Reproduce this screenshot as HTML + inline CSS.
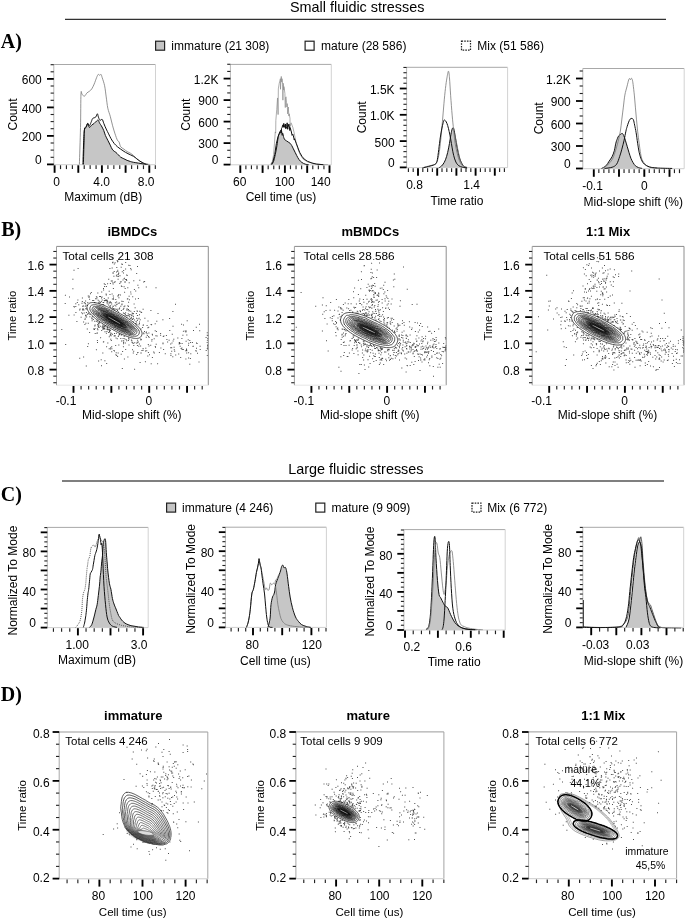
<!DOCTYPE html><html><head><meta charset="utf-8"><style>html,body{margin:0;padding:0;background:#fff;}svg{display:block;}</style></head><body>
<svg width="685" height="919" viewBox="0 0 685 919">
<defs><filter id="bl" x="0" y="0" width="1" height="1"><feGaussianBlur stdDeviation="0.3"/></filter></defs>
<rect width="685" height="919" fill="#fff"/>
<g filter="url(#bl)">
<text x="290" y="11.7" font-family="Liberation Sans, sans-serif" font-size="14.4" text-anchor="start" font-weight="normal" fill="#000">Small fluidic stresses</text>
<line x1="65" y1="19.3" x2="666" y2="19.3" stroke="#333" stroke-width="1.3"/>
<text x="288.3" y="474.1" font-family="Liberation Sans, sans-serif" font-size="14.4" text-anchor="start" font-weight="normal" fill="#000">Large fluidic stresses</text>
<line x1="62" y1="481" x2="664" y2="481" stroke="#555" stroke-width="1.5"/>
<text x="0.8" y="48.2" font-family="Liberation Serif, serif" font-size="20" text-anchor="start" font-weight="bold" fill="#000">A)</text>
<text x="1.2" y="236" font-family="Liberation Serif, serif" font-size="20" text-anchor="start" font-weight="bold" fill="#000">B)</text>
<text x="0.8" y="500.7" font-family="Liberation Serif, serif" font-size="20" text-anchor="start" font-weight="bold" fill="#000">C)</text>
<text x="0.8" y="700.6" font-family="Liberation Serif, serif" font-size="20" text-anchor="start" font-weight="bold" fill="#000">D)</text>
<rect x="155.6" y="41.2" width="9" height="9" fill="#c4c4c4" stroke="#222" stroke-width="1.2"/>
<text x="171.3" y="50.1" font-family="Liberation Sans, sans-serif" font-size="12" text-anchor="start" font-weight="normal" fill="#000">immature (21 308)</text>
<rect x="305.1" y="41.2" width="9" height="9" fill="#fff" stroke="#222" stroke-width="1.2"/>
<text x="321" y="50.1" font-family="Liberation Sans, sans-serif" font-size="12" text-anchor="start" font-weight="normal" fill="#000">mature (28 586)</text>
<rect x="461.5" y="41.2" width="9" height="9" fill="#fff" stroke="#222" stroke-width="1.2" stroke-dasharray="1.6,1.1"/>
<text x="477.3" y="50.1" font-family="Liberation Sans, sans-serif" font-size="12" text-anchor="start" font-weight="normal" fill="#000">Mix (51 586)</text>
<rect x="166.6" y="503.1" width="9" height="9" fill="#c4c4c4" stroke="#222" stroke-width="1.2"/>
<text x="182" y="512.2" font-family="Liberation Sans, sans-serif" font-size="12" text-anchor="start" font-weight="normal" fill="#000">immature (4 246)</text>
<rect x="315.8" y="503.1" width="9" height="9" fill="#fff" stroke="#222" stroke-width="1.2"/>
<text x="331.6" y="512.2" font-family="Liberation Sans, sans-serif" font-size="12" text-anchor="start" font-weight="normal" fill="#000">mature (9 909)</text>
<rect x="472" y="503.1" width="9" height="9" fill="#fff" stroke="#222" stroke-width="1.2" stroke-dasharray="1.6,1.1"/>
<text x="487.2" y="512.2" font-family="Liberation Sans, sans-serif" font-size="12" text-anchor="start" font-weight="normal" fill="#000">Mix (6 772)</text>
<line x1="53.8" y1="64.5" x2="155.5" y2="64.5" stroke="#a8a8a8" stroke-width="1"/>
<line x1="155.5" y1="64.5" x2="155.5" y2="164.7" stroke="#d2d2d2" stroke-width="1"/>
<line x1="53.8" y1="164.7" x2="155.5" y2="164.7" stroke="#cfcfcf" stroke-width="1"/>
<line x1="53.8" y1="64.5" x2="53.8" y2="164.7" stroke="#b8b8b8" stroke-width="1"/>
<path d="M83.4,164.38 C83.51,160.37 83.86,146.18 84.05,140.3 C84.23,134.41 84.18,131.33 84.53,129.05 C84.88,126.78 85.6,127.58 86.13,126.65 C86.67,125.71 87.2,123.3 87.74,123.43 C88.27,123.57 88.68,127.18 89.34,127.45 C90.01,127.72 90.95,125.71 91.75,125.04 C92.56,124.37 93.36,124.1 94.16,123.43 C94.97,122.76 95.9,121.56 96.57,121.02 C97.24,120.49 97.64,119.82 98.18,120.22 C98.71,120.62 99.25,122.5 99.78,123.43 C100.32,124.37 100.72,124.64 101.39,125.84 C102.06,127.05 103.13,129.05 103.8,130.66 C104.47,132.27 104.73,133.87 105.4,135.48 C106.07,137.08 107.01,138.69 107.81,140.3 C108.62,141.9 109.42,143.51 110.22,145.11 C111.02,146.72 111.69,148.73 112.63,149.93 C113.57,151.14 114.91,151.54 115.84,152.34 C116.78,153.14 117.45,153.95 118.25,154.75 C119.05,155.55 119.72,156.49 120.66,157.16 C121.6,157.83 122.8,158.23 123.87,158.76 C124.94,159.3 126.01,159.91 127.08,160.37 C128.15,160.82 129.22,161.17 130.3,161.49 C131.37,161.81 132.17,162.03 133.51,162.3 C134.85,162.56 136.72,162.83 138.33,163.1 C139.93,163.37 141.54,163.69 143.14,163.9 C144.75,164.12 147.16,164.3 147.96,164.38 L147.96,164.7 L83.4,164.7 Z" fill="#c6c6c6" stroke="none"/>
<path d="M83.4,164.38 C83.51,160.37 83.86,146.18 84.05,140.3 C84.23,134.41 84.18,131.33 84.53,129.05 C84.88,126.78 85.6,127.58 86.13,126.65 C86.67,125.71 87.2,123.3 87.74,123.43 C88.27,123.57 88.68,127.18 89.34,127.45 C90.01,127.72 90.95,125.71 91.75,125.04 C92.56,124.37 93.36,124.1 94.16,123.43 C94.97,122.76 95.9,121.56 96.57,121.02 C97.24,120.49 97.64,119.82 98.18,120.22 C98.71,120.62 99.25,122.5 99.78,123.43 C100.32,124.37 100.72,124.64 101.39,125.84 C102.06,127.05 103.13,129.05 103.8,130.66 C104.47,132.27 104.73,133.87 105.4,135.48 C106.07,137.08 107.01,138.69 107.81,140.3 C108.62,141.9 109.42,143.51 110.22,145.11 C111.02,146.72 111.69,148.73 112.63,149.93 C113.57,151.14 114.91,151.54 115.84,152.34 C116.78,153.14 117.45,153.95 118.25,154.75 C119.05,155.55 119.72,156.49 120.66,157.16 C121.6,157.83 122.8,158.23 123.87,158.76 C124.94,159.3 126.01,159.91 127.08,160.37 C128.15,160.82 129.22,161.17 130.3,161.49 C131.37,161.81 132.17,162.03 133.51,162.3 C134.85,162.56 136.72,162.83 138.33,163.1 C139.93,163.37 141.54,163.69 143.14,163.9 C144.75,164.12 147.16,164.3 147.96,164.38" fill="none" stroke="#111" stroke-width="1"/>
<path d="M79.39,164.38 C79.58,158.23 80.24,139.22 80.51,127.45 C80.78,115.67 80.73,99.21 80.99,93.72 C81.26,88.24 81.53,94.13 82.12,94.53 C82.71,94.93 83.72,96.4 84.53,96.13 C85.33,95.87 86.13,93.72 86.94,92.92 C87.74,92.12 88.54,91.98 89.34,91.32 C90.15,90.65 90.95,90.11 91.75,88.91 C92.56,87.7 93.36,85.96 94.16,84.09 C94.97,82.22 95.9,79.27 96.57,77.67 C97.24,76.06 97.64,74.85 98.18,74.45 C98.71,74.05 99.3,75.26 99.78,75.26 C100.26,75.26 100.67,74.05 101.07,74.45 C101.47,74.85 101.6,75.79 102.19,77.67 C102.78,79.54 103.93,82.48 104.6,85.69 C105.27,88.91 105.67,93.19 106.21,96.94 C106.74,100.68 107.14,104.97 107.81,108.18 C108.48,111.39 109.42,113.26 110.22,116.21 C111.02,119.15 111.83,122.9 112.63,125.84 C113.43,128.79 114.24,131.46 115.04,133.87 C115.84,136.28 116.78,138.96 117.45,140.3 C118.12,141.63 118.52,140.83 119.05,141.9 C119.59,142.97 119.86,145.51 120.66,146.72 C121.46,147.92 122.8,148.33 123.87,149.13 C124.94,149.93 126.01,150.87 127.08,151.54 C128.15,152.21 129.22,152.47 130.3,153.14 C131.37,153.81 132.44,154.61 133.51,155.55 C134.58,156.49 135.65,157.83 136.72,158.76 C137.79,159.7 138.86,160.5 139.93,161.17 C141,161.84 142.07,162.3 143.14,162.78 C144.21,163.26 145.28,163.8 146.35,164.06 C147.43,164.33 149.03,164.33 149.57,164.38" fill="none" stroke="#777" stroke-width="0.8"/>
<path d="M82.92,164.38 C83.05,160.37 83.46,146.18 83.72,140.3 C83.99,134.41 84.13,131.2 84.53,129.05 C84.93,126.91 85.6,128.38 86.13,127.45 C86.67,126.51 87.2,123.7 87.74,123.43 C88.27,123.17 88.81,125.98 89.34,125.84 C89.88,125.71 90.42,123.83 90.95,122.63 C91.49,121.43 92.02,119.42 92.56,118.62 C93.09,117.81 93.63,118.08 94.16,117.81 C94.7,117.55 95.23,117.68 95.77,117.01 C96.3,116.34 96.97,113.93 97.37,113.8 C97.78,113.66 97.78,115.14 98.18,116.21 C98.58,117.28 99.11,119.69 99.78,120.22 C100.45,120.76 101.52,118.88 102.19,119.42 C102.86,119.95 103.13,121.83 103.8,123.43 C104.47,125.04 105.4,127.31 106.21,129.05 C107.01,130.79 107.81,132.27 108.62,133.87 C109.42,135.48 110.09,137.08 111.02,138.69 C111.96,140.3 113.17,142.17 114.24,143.51 C115.31,144.85 116.38,145.78 117.45,146.72 C118.52,147.66 119.32,148.19 120.66,149.13 C122,150.06 123.87,151.4 125.48,152.34 C127.08,153.28 128.96,154.08 130.3,154.75 C131.63,155.42 132.44,155.69 133.51,156.35 C134.58,157.02 135.65,157.96 136.72,158.76 C137.79,159.57 138.86,160.45 139.93,161.17 C141,161.89 142.07,162.56 143.14,163.1 C144.21,163.63 145.82,164.17 146.35,164.38" fill="none" stroke="#111" stroke-width="1"/>
<line x1="47" y1="164.4" x2="53.8" y2="164.4" stroke="#000" stroke-width="1.8"/>
<line x1="47" y1="135.9" x2="53.8" y2="135.9" stroke="#000" stroke-width="1.8"/>
<line x1="47" y1="107.4" x2="53.8" y2="107.4" stroke="#000" stroke-width="1.8"/>
<line x1="47" y1="78.9" x2="53.8" y2="78.9" stroke="#000" stroke-width="1.8"/>
<line x1="50.6" y1="157.3" x2="53.8" y2="157.3" stroke="#222" stroke-width="1.1"/>
<line x1="50.6" y1="150.1" x2="53.8" y2="150.1" stroke="#222" stroke-width="1.1"/>
<line x1="50.6" y1="143" x2="53.8" y2="143" stroke="#222" stroke-width="1.1"/>
<line x1="50.6" y1="128.7" x2="53.8" y2="128.7" stroke="#222" stroke-width="1.1"/>
<line x1="50.6" y1="121.6" x2="53.8" y2="121.6" stroke="#222" stroke-width="1.1"/>
<line x1="50.6" y1="114.5" x2="53.8" y2="114.5" stroke="#222" stroke-width="1.1"/>
<line x1="50.6" y1="100.3" x2="53.8" y2="100.3" stroke="#222" stroke-width="1.1"/>
<line x1="50.6" y1="93.1" x2="53.8" y2="93.1" stroke="#222" stroke-width="1.1"/>
<line x1="50.6" y1="86" x2="53.8" y2="86" stroke="#222" stroke-width="1.1"/>
<line x1="50.6" y1="71.8" x2="53.8" y2="71.8" stroke="#222" stroke-width="1.1"/>
<line x1="50.6" y1="64.7" x2="53.8" y2="64.7" stroke="#222" stroke-width="1.1"/>
<line x1="54.6" y1="165.3" x2="54.6" y2="172.8" stroke="#000" stroke-width="1.9"/>
<line x1="78.3" y1="165.3" x2="78.3" y2="172.8" stroke="#000" stroke-width="1.9"/>
<line x1="101.9" y1="165.3" x2="101.9" y2="172.8" stroke="#000" stroke-width="1.9"/>
<line x1="125.6" y1="165.3" x2="125.6" y2="172.8" stroke="#000" stroke-width="1.9"/>
<line x1="149.3" y1="165.3" x2="149.3" y2="172.8" stroke="#000" stroke-width="1.9"/>
<line x1="60.52" y1="165.3" x2="60.52" y2="169.1" stroke="#222" stroke-width="1.15"/>
<line x1="66.45" y1="165.3" x2="66.45" y2="169.1" stroke="#222" stroke-width="1.15"/>
<line x1="72.38" y1="165.3" x2="72.38" y2="169.1" stroke="#222" stroke-width="1.15"/>
<line x1="84.22" y1="165.3" x2="84.22" y2="169.1" stroke="#222" stroke-width="1.15"/>
<line x1="90.15" y1="165.3" x2="90.15" y2="169.1" stroke="#222" stroke-width="1.15"/>
<line x1="96.07" y1="165.3" x2="96.07" y2="169.1" stroke="#222" stroke-width="1.15"/>
<line x1="107.92" y1="165.3" x2="107.92" y2="169.1" stroke="#222" stroke-width="1.15"/>
<line x1="113.85" y1="165.3" x2="113.85" y2="169.1" stroke="#222" stroke-width="1.15"/>
<line x1="119.77" y1="165.3" x2="119.77" y2="169.1" stroke="#222" stroke-width="1.15"/>
<line x1="131.62" y1="165.3" x2="131.62" y2="169.1" stroke="#222" stroke-width="1.15"/>
<line x1="137.55" y1="165.3" x2="137.55" y2="169.1" stroke="#222" stroke-width="1.15"/>
<line x1="143.47" y1="165.3" x2="143.47" y2="169.1" stroke="#222" stroke-width="1.15"/>
<line x1="155.32" y1="165.3" x2="155.32" y2="169.1" stroke="#222" stroke-width="1.15"/>
<text x="41.8" y="84.1" font-family="Liberation Sans, sans-serif" font-size="12" text-anchor="end" font-weight="normal" fill="#000">600</text>
<text x="41.8" y="112.6" font-family="Liberation Sans, sans-serif" font-size="12" text-anchor="end" font-weight="normal" fill="#000">400</text>
<text x="41.8" y="141.1" font-family="Liberation Sans, sans-serif" font-size="12" text-anchor="end" font-weight="normal" fill="#000">200</text>
<text x="41.8" y="164" font-family="Liberation Sans, sans-serif" font-size="12" text-anchor="end" font-weight="normal" fill="#000">0</text>
<text x="56.6" y="186.1" font-family="Liberation Sans, sans-serif" font-size="12" text-anchor="middle" font-weight="normal" fill="#000">0</text>
<text x="101.6" y="186.1" font-family="Liberation Sans, sans-serif" font-size="12" text-anchor="middle" font-weight="normal" fill="#000">4.0</text>
<text x="146.2" y="186.1" font-family="Liberation Sans, sans-serif" font-size="12" text-anchor="middle" font-weight="normal" fill="#000">8.0</text>
<text x="103.3" y="201.4" font-family="Liberation Sans, sans-serif" font-size="12" text-anchor="middle" font-weight="normal" fill="#000">Maximum (dB)</text>
<text x="16.9" y="114.5" font-family="Liberation Sans, sans-serif" font-size="12" text-anchor="middle" font-weight="normal" fill="#000" transform="rotate(-90 16.9 114.5)">Count</text>
<line x1="230.4" y1="64.4" x2="331.3" y2="64.4" stroke="#a8a8a8" stroke-width="1"/>
<line x1="331.3" y1="64.4" x2="331.3" y2="164.8" stroke="#d2d2d2" stroke-width="1"/>
<line x1="230.4" y1="164.8" x2="331.3" y2="164.8" stroke="#cfcfcf" stroke-width="1"/>
<line x1="230.4" y1="64.4" x2="230.4" y2="164.8" stroke="#b8b8b8" stroke-width="1"/>
<path d="M271.88,164.49 C272.16,163.96 273.01,162.98 273.58,161.32 C274.15,159.66 274.71,157.17 275.28,154.53 C275.84,151.89 276.5,148.3 276.97,145.48 C277.45,142.65 277.77,139.44 278.11,137.55 C278.45,135.67 278.73,134.82 279.01,134.16 C279.29,133.5 279.54,133.97 279.8,133.59 C280.07,133.22 280.31,132.37 280.6,131.9 C280.88,131.42 281.24,130.2 281.5,130.76 C281.76,131.33 281.99,134.91 282.18,135.29 C282.37,135.67 282.37,132.65 282.63,133.03 C282.9,133.41 283.39,136.42 283.76,137.55 C284.14,138.69 284.42,139.25 284.9,139.82 C285.37,140.38 286.03,140.57 286.59,140.95 C287.16,141.33 287.72,141.7 288.29,142.08 C288.86,142.46 289.42,142.65 289.99,143.21 C290.55,143.78 291.12,144.53 291.68,145.48 C292.25,146.42 292.82,147.74 293.38,148.87 C293.95,150 294.51,151.13 295.08,152.27 C295.65,153.4 296.12,154.43 296.78,155.66 C297.44,156.89 298.19,158.49 299.04,159.62 C299.89,160.75 300.83,161.7 301.87,162.45 C302.91,163.2 304.13,163.77 305.26,164.15 C306.4,164.52 308.09,164.62 308.66,164.71 L308.66,164.8 L271.88,164.8 Z" fill="#c6c6c6" stroke="none"/>
<path d="M271.88,164.49 C272.16,163.96 273.01,162.98 273.58,161.32 C274.15,159.66 274.71,157.17 275.28,154.53 C275.84,151.89 276.5,148.3 276.97,145.48 C277.45,142.65 277.77,139.44 278.11,137.55 C278.45,135.67 278.73,134.82 279.01,134.16 C279.29,133.5 279.54,133.97 279.8,133.59 C280.07,133.22 280.31,132.37 280.6,131.9 C280.88,131.42 281.24,130.2 281.5,130.76 C281.76,131.33 281.99,134.91 282.18,135.29 C282.37,135.67 282.37,132.65 282.63,133.03 C282.9,133.41 283.39,136.42 283.76,137.55 C284.14,138.69 284.42,139.25 284.9,139.82 C285.37,140.38 286.03,140.57 286.59,140.95 C287.16,141.33 287.72,141.7 288.29,142.08 C288.86,142.46 289.42,142.65 289.99,143.21 C290.55,143.78 291.12,144.53 291.68,145.48 C292.25,146.42 292.82,147.74 293.38,148.87 C293.95,150 294.51,151.13 295.08,152.27 C295.65,153.4 296.12,154.43 296.78,155.66 C297.44,156.89 298.19,158.49 299.04,159.62 C299.89,160.75 300.83,161.7 301.87,162.45 C302.91,163.2 304.13,163.77 305.26,164.15 C306.4,164.52 308.09,164.62 308.66,164.71" fill="none" stroke="#111" stroke-width="1"/>
<path d="M270.75,164.15 L272.45,161.32 L273.58,154.53 L274.48,143.21 L274.5,142.99 L275.28,131.9 L275.7,133.05 L275.84,120.58 L276.75,109.26 L276.9,107.09 L277.54,97.95 L278.1,114.58 L278.33,88.9 L279.24,83.24 L279.3,83.03 L279.92,80.97 L280.37,78.71 L280.5,89.27 L280.93,79.84 L281.27,76.45 L281.7,81.77 L281.73,82.11 L282.07,78.71 L282.63,84.37 L282.9,100.16 L283.2,83.24 L283.76,90.03 L283.99,86.63 L284.1,87.46 L284.9,93.42 L285.3,107.54 L285.46,97.95 L286.03,96.82 L286.5,102.14 L286.93,107 L287.16,103.61 L287.7,113.86 L288.29,107 L288.86,116.05 L288.9,115.76 L289.2,113.79 L289.99,118.32 L290.1,126.61 L291.12,122.84 L291.3,123.33 L292.82,127.37 L293.95,131.9 L295.08,137.55 L296.21,143.21 L297.91,148.87 L300.17,154.53 L303,159.05 L307.53,161.88 L313.19,163.58 L321.11,164.49 L327.9,164.71" fill="none" stroke="#8a8a8a" stroke-width="0.7"/>
<path d="M271.32,164.49 L273.01,161.32 L274.71,154.53 L276.41,143.21 L278.11,136.42 L279.8,131.9 L280,131.6 L280.93,130.2 L281.1,133.04 L281.5,128.5 L282.18,127.37 L282.2,127.27 L282.63,125.11 L283.2,125.67 L283.3,127.27 L283.76,123.41 L284.4,126.19 L284.67,127.37 L285.46,123.98 L285.5,128.56 L286.25,128.5 L286.6,126.33 L287.16,122.84 L287.7,129.28 L288.06,127.37 L288.8,124.21 L288.86,123.98 L289.9,130.63 L289.99,127.37 L291,130.41 L291.12,130.76 L292.1,135.41 L292.82,134.16 L293.2,135.18 L294.3,139.99 L294.51,138.69 L295.4,141.05 L296.21,143.21 L297.91,147.74 L299.61,152.27 L301.87,156.23 L304.13,159.05 L307.53,161.32 L312.05,163.02 L316.58,164.15 L323.37,164.71" fill="none" stroke="#111" stroke-width="1"/>
<line x1="223.6" y1="164.6" x2="230.4" y2="164.6" stroke="#000" stroke-width="1.8"/>
<line x1="223.6" y1="143.1" x2="230.4" y2="143.1" stroke="#000" stroke-width="1.8"/>
<line x1="223.6" y1="121.6" x2="230.4" y2="121.6" stroke="#000" stroke-width="1.8"/>
<line x1="223.6" y1="100.1" x2="230.4" y2="100.1" stroke="#000" stroke-width="1.8"/>
<line x1="223.6" y1="78.6" x2="230.4" y2="78.6" stroke="#000" stroke-width="1.8"/>
<line x1="227.2" y1="157.43" x2="230.4" y2="157.43" stroke="#222" stroke-width="1.1"/>
<line x1="227.2" y1="150.27" x2="230.4" y2="150.27" stroke="#222" stroke-width="1.1"/>
<line x1="227.2" y1="135.93" x2="230.4" y2="135.93" stroke="#222" stroke-width="1.1"/>
<line x1="227.2" y1="128.77" x2="230.4" y2="128.77" stroke="#222" stroke-width="1.1"/>
<line x1="227.2" y1="114.43" x2="230.4" y2="114.43" stroke="#222" stroke-width="1.1"/>
<line x1="227.2" y1="107.27" x2="230.4" y2="107.27" stroke="#222" stroke-width="1.1"/>
<line x1="227.2" y1="92.93" x2="230.4" y2="92.93" stroke="#222" stroke-width="1.1"/>
<line x1="227.2" y1="85.77" x2="230.4" y2="85.77" stroke="#222" stroke-width="1.1"/>
<line x1="227.2" y1="71.43" x2="230.4" y2="71.43" stroke="#222" stroke-width="1.1"/>
<line x1="227.2" y1="64.27" x2="230.4" y2="64.27" stroke="#222" stroke-width="1.1"/>
<line x1="240.3" y1="165.4" x2="240.3" y2="172.9" stroke="#000" stroke-width="1.9"/>
<line x1="262.6" y1="165.4" x2="262.6" y2="172.9" stroke="#000" stroke-width="1.9"/>
<line x1="284.9" y1="165.4" x2="284.9" y2="172.9" stroke="#000" stroke-width="1.9"/>
<line x1="307.2" y1="165.4" x2="307.2" y2="172.9" stroke="#000" stroke-width="1.9"/>
<line x1="329.5" y1="165.4" x2="329.5" y2="172.9" stroke="#000" stroke-width="1.9"/>
<line x1="245.88" y1="165.4" x2="245.88" y2="169.2" stroke="#222" stroke-width="1.15"/>
<line x1="251.45" y1="165.4" x2="251.45" y2="169.2" stroke="#222" stroke-width="1.15"/>
<line x1="257.03" y1="165.4" x2="257.03" y2="169.2" stroke="#222" stroke-width="1.15"/>
<line x1="268.18" y1="165.4" x2="268.18" y2="169.2" stroke="#222" stroke-width="1.15"/>
<line x1="273.75" y1="165.4" x2="273.75" y2="169.2" stroke="#222" stroke-width="1.15"/>
<line x1="279.33" y1="165.4" x2="279.33" y2="169.2" stroke="#222" stroke-width="1.15"/>
<line x1="290.48" y1="165.4" x2="290.48" y2="169.2" stroke="#222" stroke-width="1.15"/>
<line x1="296.05" y1="165.4" x2="296.05" y2="169.2" stroke="#222" stroke-width="1.15"/>
<line x1="301.63" y1="165.4" x2="301.63" y2="169.2" stroke="#222" stroke-width="1.15"/>
<line x1="312.78" y1="165.4" x2="312.78" y2="169.2" stroke="#222" stroke-width="1.15"/>
<line x1="318.35" y1="165.4" x2="318.35" y2="169.2" stroke="#222" stroke-width="1.15"/>
<line x1="323.93" y1="165.4" x2="323.93" y2="169.2" stroke="#222" stroke-width="1.15"/>
<text x="218.4" y="83.9" font-family="Liberation Sans, sans-serif" font-size="12" text-anchor="end" font-weight="normal" fill="#000">1.2K</text>
<text x="218.4" y="105.4" font-family="Liberation Sans, sans-serif" font-size="12" text-anchor="end" font-weight="normal" fill="#000">900</text>
<text x="218.4" y="126.9" font-family="Liberation Sans, sans-serif" font-size="12" text-anchor="end" font-weight="normal" fill="#000">600</text>
<text x="218.4" y="148.4" font-family="Liberation Sans, sans-serif" font-size="12" text-anchor="end" font-weight="normal" fill="#000">300</text>
<text x="218.4" y="164.2" font-family="Liberation Sans, sans-serif" font-size="12" text-anchor="end" font-weight="normal" fill="#000">0</text>
<text x="239.7" y="186" font-family="Liberation Sans, sans-serif" font-size="12" text-anchor="middle" font-weight="normal" fill="#000">60</text>
<text x="284.7" y="186" font-family="Liberation Sans, sans-serif" font-size="12" text-anchor="middle" font-weight="normal" fill="#000">100</text>
<text x="320.7" y="186" font-family="Liberation Sans, sans-serif" font-size="12" text-anchor="middle" font-weight="normal" fill="#000">140</text>
<text x="281" y="201.3" font-family="Liberation Sans, sans-serif" font-size="12" text-anchor="middle" font-weight="normal" fill="#000">Cell time (us)</text>
<text x="190.3" y="114.7" font-family="Liberation Sans, sans-serif" font-size="12" text-anchor="middle" font-weight="normal" fill="#000" transform="rotate(-90 190.3 114.7)">Count</text>
<line x1="406.6" y1="67.3" x2="507.6" y2="67.3" stroke="#a8a8a8" stroke-width="1"/>
<line x1="507.6" y1="67.3" x2="507.6" y2="167.6" stroke="#d2d2d2" stroke-width="1"/>
<line x1="406.6" y1="167.6" x2="507.6" y2="167.6" stroke="#cfcfcf" stroke-width="1"/>
<line x1="406.6" y1="67.3" x2="406.6" y2="167.6" stroke="#b8b8b8" stroke-width="1"/>
<path d="M438.76,168 C439.38,167.5 441.36,166.38 442.48,165.02 C443.6,163.65 444.59,161.92 445.46,159.81 C446.33,157.7 447.02,155.09 447.69,152.36 C448.36,149.63 448.98,146.16 449.48,143.43 C449.97,140.7 450.27,138.22 450.67,135.98 C451.07,133.75 451.49,131.39 451.86,130.03 C452.23,128.66 452.56,127.92 452.9,127.79 C453.25,127.67 453.57,127.92 453.95,129.28 C454.32,130.65 454.69,133.38 455.14,135.98 C455.58,138.59 456.13,142.19 456.63,144.92 C457.12,147.65 457.62,150.13 458.11,152.36 C458.61,154.59 458.98,156.46 459.6,158.32 C460.22,160.18 461.09,162.16 461.84,163.53 C462.58,164.89 463.2,165.76 464.07,166.51 C464.94,167.25 466.55,167.75 467.05,168 L467.05,167.6 L438.76,167.6 Z" fill="#c6c6c6" stroke="none"/>
<path d="M438.76,168 C439.38,167.5 441.36,166.38 442.48,165.02 C443.6,163.65 444.59,161.92 445.46,159.81 C446.33,157.7 447.02,155.09 447.69,152.36 C448.36,149.63 448.98,146.16 449.48,143.43 C449.97,140.7 450.27,138.22 450.67,135.98 C451.07,133.75 451.49,131.39 451.86,130.03 C452.23,128.66 452.56,127.92 452.9,127.79 C453.25,127.67 453.57,127.92 453.95,129.28 C454.32,130.65 454.69,133.38 455.14,135.98 C455.58,138.59 456.13,142.19 456.63,144.92 C457.12,147.65 457.62,150.13 458.11,152.36 C458.61,154.59 458.98,156.46 459.6,158.32 C460.22,160.18 461.09,162.16 461.84,163.53 C462.58,164.89 463.2,165.76 464.07,166.51 C464.94,167.25 466.55,167.75 467.05,168" fill="none" stroke="#111" stroke-width="1"/>
<path d="M423.87,167.25 C424.86,167 427.84,166.38 429.82,165.76 C431.81,165.14 434.29,165.27 435.78,163.53 C437.27,161.79 437.89,159.68 438.76,155.34 C439.63,151 440.37,143.18 440.99,137.47 C441.61,131.76 441.98,126.8 442.48,121.09 C442.98,115.38 443.47,108.68 443.97,103.22 C444.47,97.76 444.96,92.55 445.46,88.33 C445.95,84.12 446.45,80.77 446.95,77.91 C447.44,75.06 448.01,71.21 448.44,71.21 C448.86,71.21 449.11,73.82 449.48,77.91 C449.85,82.01 450.22,89.58 450.67,95.78 C451.12,101.98 451.66,109.43 452.16,115.14 C452.65,120.84 453.15,125.31 453.65,130.03 C454.14,134.74 454.52,139.46 455.14,143.43 C455.76,147.4 456.63,150.87 457.37,153.85 C458.11,156.83 458.73,159.31 459.6,161.29 C460.47,163.28 461.34,164.77 462.58,165.76 C463.82,166.75 466.3,167 467.05,167.25" fill="none" stroke="#777" stroke-width="0.8"/>
<path d="M455.14,135.98 C455.38,137.22 456.13,140.95 456.63,143.43 C457.12,145.91 457.62,148.51 458.11,150.87 C458.61,153.23 459.06,155.59 459.6,157.57 C460.15,159.56 460.77,161.37 461.39,162.78 C462.01,164.2 462.51,165.24 463.33,166.06 C464.14,166.88 465.81,167.42 466.3,167.7" fill="none" stroke="#777" stroke-width="0.8"/>
<path d="M422.38,168 C423.37,167.75 426.47,167 428.33,166.51 C430.2,166.01 432.18,165.64 433.55,165.02 C434.91,164.4 435.78,164.4 436.52,162.78 C437.27,161.17 437.52,158.57 438.01,155.34 C438.51,152.11 439.01,147.15 439.5,143.43 C440,139.7 440.49,135.98 440.99,133 C441.49,130.03 441.98,127.67 442.48,125.56 C442.98,123.45 443.55,121.22 443.97,120.35 C444.39,119.48 444.64,120.1 445.01,120.35 C445.38,120.6 445.76,120.97 446.2,121.84 C446.65,122.71 447.2,123.95 447.69,125.56 C448.19,127.17 448.68,129.28 449.18,131.52 C449.68,133.75 450.17,136.23 450.67,138.96 C451.17,141.69 451.66,145.16 452.16,147.89 C452.65,150.62 453.03,152.98 453.65,155.34 C454.27,157.7 455.01,160.3 455.88,162.04 C456.75,163.78 457.74,164.89 458.86,165.76 C459.98,166.63 461.22,166.88 462.58,167.25 C463.95,167.62 466.3,167.87 467.05,168" fill="none" stroke="#111" stroke-width="1"/>
<line x1="399.8" y1="167.4" x2="406.6" y2="167.4" stroke="#000" stroke-width="1.8"/>
<line x1="399.8" y1="141.1" x2="406.6" y2="141.1" stroke="#000" stroke-width="1.8"/>
<line x1="399.8" y1="114.8" x2="406.6" y2="114.8" stroke="#000" stroke-width="1.8"/>
<line x1="399.8" y1="88.5" x2="406.6" y2="88.5" stroke="#000" stroke-width="1.8"/>
<line x1="403.4" y1="162.14" x2="406.6" y2="162.14" stroke="#222" stroke-width="1.1"/>
<line x1="403.4" y1="156.88" x2="406.6" y2="156.88" stroke="#222" stroke-width="1.1"/>
<line x1="403.4" y1="151.62" x2="406.6" y2="151.62" stroke="#222" stroke-width="1.1"/>
<line x1="403.4" y1="146.36" x2="406.6" y2="146.36" stroke="#222" stroke-width="1.1"/>
<line x1="403.4" y1="135.84" x2="406.6" y2="135.84" stroke="#222" stroke-width="1.1"/>
<line x1="403.4" y1="130.58" x2="406.6" y2="130.58" stroke="#222" stroke-width="1.1"/>
<line x1="403.4" y1="125.32" x2="406.6" y2="125.32" stroke="#222" stroke-width="1.1"/>
<line x1="403.4" y1="120.06" x2="406.6" y2="120.06" stroke="#222" stroke-width="1.1"/>
<line x1="403.4" y1="109.54" x2="406.6" y2="109.54" stroke="#222" stroke-width="1.1"/>
<line x1="403.4" y1="104.28" x2="406.6" y2="104.28" stroke="#222" stroke-width="1.1"/>
<line x1="403.4" y1="99.02" x2="406.6" y2="99.02" stroke="#222" stroke-width="1.1"/>
<line x1="403.4" y1="93.76" x2="406.6" y2="93.76" stroke="#222" stroke-width="1.1"/>
<line x1="403.4" y1="83.24" x2="406.6" y2="83.24" stroke="#222" stroke-width="1.1"/>
<line x1="403.4" y1="77.98" x2="406.6" y2="77.98" stroke="#222" stroke-width="1.1"/>
<line x1="403.4" y1="72.72" x2="406.6" y2="72.72" stroke="#222" stroke-width="1.1"/>
<line x1="403.4" y1="67.46" x2="406.6" y2="67.46" stroke="#222" stroke-width="1.1"/>
<line x1="418" y1="168.2" x2="418" y2="175.7" stroke="#000" stroke-width="1.9"/>
<line x1="437.2" y1="168.2" x2="437.2" y2="175.7" stroke="#000" stroke-width="1.9"/>
<line x1="456.4" y1="168.2" x2="456.4" y2="175.7" stroke="#000" stroke-width="1.9"/>
<line x1="475.6" y1="168.2" x2="475.6" y2="175.7" stroke="#000" stroke-width="1.9"/>
<line x1="494.8" y1="168.2" x2="494.8" y2="175.7" stroke="#000" stroke-width="1.9"/>
<line x1="413.2" y1="168.2" x2="413.2" y2="172" stroke="#222" stroke-width="1.15"/>
<line x1="408.4" y1="168.2" x2="408.4" y2="172" stroke="#222" stroke-width="1.15"/>
<line x1="422.8" y1="168.2" x2="422.8" y2="172" stroke="#222" stroke-width="1.15"/>
<line x1="427.6" y1="168.2" x2="427.6" y2="172" stroke="#222" stroke-width="1.15"/>
<line x1="432.4" y1="168.2" x2="432.4" y2="172" stroke="#222" stroke-width="1.15"/>
<line x1="442" y1="168.2" x2="442" y2="172" stroke="#222" stroke-width="1.15"/>
<line x1="446.8" y1="168.2" x2="446.8" y2="172" stroke="#222" stroke-width="1.15"/>
<line x1="451.6" y1="168.2" x2="451.6" y2="172" stroke="#222" stroke-width="1.15"/>
<line x1="461.2" y1="168.2" x2="461.2" y2="172" stroke="#222" stroke-width="1.15"/>
<line x1="466" y1="168.2" x2="466" y2="172" stroke="#222" stroke-width="1.15"/>
<line x1="470.8" y1="168.2" x2="470.8" y2="172" stroke="#222" stroke-width="1.15"/>
<line x1="480.4" y1="168.2" x2="480.4" y2="172" stroke="#222" stroke-width="1.15"/>
<line x1="485.2" y1="168.2" x2="485.2" y2="172" stroke="#222" stroke-width="1.15"/>
<line x1="490" y1="168.2" x2="490" y2="172" stroke="#222" stroke-width="1.15"/>
<line x1="499.6" y1="168.2" x2="499.6" y2="172" stroke="#222" stroke-width="1.15"/>
<line x1="504.4" y1="168.2" x2="504.4" y2="172" stroke="#222" stroke-width="1.15"/>
<text x="394.6" y="93.9" font-family="Liberation Sans, sans-serif" font-size="12" text-anchor="end" font-weight="normal" fill="#000">1.5K</text>
<text x="394.6" y="120.2" font-family="Liberation Sans, sans-serif" font-size="12" text-anchor="end" font-weight="normal" fill="#000">1.0K</text>
<text x="394.6" y="146.5" font-family="Liberation Sans, sans-serif" font-size="12" text-anchor="end" font-weight="normal" fill="#000">500</text>
<text x="394.6" y="167" font-family="Liberation Sans, sans-serif" font-size="12" text-anchor="end" font-weight="normal" fill="#000">0</text>
<text x="414.5" y="188.5" font-family="Liberation Sans, sans-serif" font-size="12" text-anchor="middle" font-weight="normal" fill="#000">0.8</text>
<text x="471.7" y="188.5" font-family="Liberation Sans, sans-serif" font-size="12" text-anchor="middle" font-weight="normal" fill="#000">1.4</text>
<text x="457" y="204.5" font-family="Liberation Sans, sans-serif" font-size="12" text-anchor="middle" font-weight="normal" fill="#000">Time ratio</text>
<text x="365.6" y="117.3" font-family="Liberation Sans, sans-serif" font-size="12" text-anchor="middle" font-weight="normal" fill="#000" transform="rotate(-90 365.6 117.3)">Count</text>
<line x1="582.8" y1="68.5" x2="684.2" y2="68.5" stroke="#a8a8a8" stroke-width="1"/>
<line x1="684.2" y1="68.5" x2="684.2" y2="168.7" stroke="#d2d2d2" stroke-width="1"/>
<line x1="582.8" y1="168.7" x2="684.2" y2="168.7" stroke="#cfcfcf" stroke-width="1"/>
<line x1="582.8" y1="68.5" x2="582.8" y2="168.7" stroke="#b8b8b8" stroke-width="1"/>
<path d="M601.55,168.45 C602.3,168 604.81,166.95 606.06,165.74 C607.31,164.54 608.07,162.74 609.07,161.23 C610.07,159.73 611.2,158.48 612.08,156.72 C612.95,154.97 613.7,152.96 614.33,150.71 C614.96,148.45 615.33,145.19 615.83,143.19 C616.34,141.18 616.84,139.93 617.34,138.68 C617.84,137.42 618.27,136.42 618.84,135.67 C619.42,134.92 620.22,134.54 620.8,134.17 C621.37,133.79 621.8,133.16 622.3,133.41 C622.8,133.66 623.3,134.54 623.8,135.67 C624.31,136.8 624.76,138.43 625.31,140.18 C625.86,141.93 626.51,144.19 627.11,146.2 C627.71,148.2 628.29,150.21 628.92,152.21 C629.54,154.22 630.17,156.47 630.87,158.23 C631.57,159.98 632.38,161.48 633.13,162.74 C633.88,163.99 634.51,164.94 635.38,165.74 C636.26,166.55 637.26,167.1 638.39,167.55 C639.52,168 641.52,168.3 642.15,168.45 L642.15,168.7 L601.55,168.7 Z" fill="#c6c6c6" stroke="none"/>
<path d="M601.55,168.45 C602.3,168 604.81,166.95 606.06,165.74 C607.31,164.54 608.07,162.74 609.07,161.23 C610.07,159.73 611.2,158.48 612.08,156.72 C612.95,154.97 613.7,152.96 614.33,150.71 C614.96,148.45 615.33,145.19 615.83,143.19 C616.34,141.18 616.84,139.93 617.34,138.68 C617.84,137.42 618.27,136.42 618.84,135.67 C619.42,134.92 620.22,134.54 620.8,134.17 C621.37,133.79 621.8,133.16 622.3,133.41 C622.8,133.66 623.3,134.54 623.8,135.67 C624.31,136.8 624.76,138.43 625.31,140.18 C625.86,141.93 626.51,144.19 627.11,146.2 C627.71,148.2 628.29,150.21 628.92,152.21 C629.54,154.22 630.17,156.47 630.87,158.23 C631.57,159.98 632.38,161.48 633.13,162.74 C633.88,163.99 634.51,164.94 635.38,165.74 C636.26,166.55 637.26,167.1 638.39,167.55 C639.52,168 641.52,168.3 642.15,168.45" fill="none" stroke="#111" stroke-width="1"/>
<path d="M603.05,168 C603.8,167.5 606.06,166.37 607.56,164.99 C609.07,163.61 610.82,161.86 612.08,159.73 C613.33,157.6 614.08,155.22 615.08,152.21 C616.09,149.2 617.21,145.19 618.09,141.68 C618.97,138.18 619.72,134.92 620.35,131.16 C620.97,127.4 621.35,123.14 621.85,119.13 C622.35,115.12 622.85,111.11 623.35,107.1 C623.85,103.09 624.23,98.58 624.86,95.07 C625.48,91.56 626.49,88.55 627.11,86.05 C627.74,83.54 628.22,81.28 628.62,80.03 C629.02,78.78 629.22,78.58 629.52,78.53 C629.82,78.48 630.12,79.78 630.42,79.73 C630.72,79.68 631,78.18 631.32,78.23 C631.65,78.28 632.08,78.98 632.38,80.03 C632.68,81.08 632.8,82.04 633.13,84.54 C633.45,87.05 633.95,91.31 634.33,95.07 C634.71,98.83 635.03,103.09 635.38,107.1 C635.73,111.11 636.06,115.12 636.44,119.13 C636.81,123.14 637.19,127.15 637.64,131.16 C638.09,135.17 638.64,139.43 639.14,143.19 C639.64,146.95 640.15,150.96 640.65,153.71 C641.15,156.47 641.4,157.97 642.15,159.73 C642.9,161.48 643.9,162.99 645.16,164.24 C646.41,165.49 647.66,166.62 649.67,167.25 C651.67,167.87 655.93,167.87 657.19,168" fill="none" stroke="#777" stroke-width="0.8"/>
<path d="M604.56,168.45 C605.81,168.25 610.07,167.95 612.08,167.25 C614.08,166.55 615.33,165.99 616.59,164.24 C617.84,162.49 618.72,159.23 619.59,156.72 C620.47,154.22 621.1,151.96 621.85,149.2 C622.6,146.45 623.43,143.19 624.11,140.18 C624.78,137.17 625.41,133.41 625.91,131.16 C626.41,128.9 626.66,128.15 627.11,126.65 C627.56,125.14 628.12,123.39 628.62,122.14 C629.12,120.88 629.57,119.75 630.12,119.13 C630.67,118.5 631.37,118.25 631.92,118.38 C632.48,118.5 632.98,118.75 633.43,119.88 C633.88,121.01 634.18,123.01 634.63,125.14 C635.08,127.27 635.63,129.65 636.14,132.66 C636.64,135.67 637.14,139.93 637.64,143.19 C638.14,146.45 638.52,149.45 639.14,152.21 C639.77,154.97 640.52,157.72 641.4,159.73 C642.28,161.73 643.03,163.04 644.41,164.24 C645.78,165.44 647.54,166.32 649.67,166.95 C651.8,167.57 653.43,167.75 657.19,168 C660.95,168.25 669.72,168.38 672.23,168.45" fill="none" stroke="#111" stroke-width="1"/>
<line x1="576" y1="168.5" x2="582.8" y2="168.5" stroke="#000" stroke-width="1.8"/>
<line x1="576" y1="146" x2="582.8" y2="146" stroke="#000" stroke-width="1.8"/>
<line x1="576" y1="123.5" x2="582.8" y2="123.5" stroke="#000" stroke-width="1.8"/>
<line x1="576" y1="101" x2="582.8" y2="101" stroke="#000" stroke-width="1.8"/>
<line x1="576" y1="78.5" x2="582.8" y2="78.5" stroke="#000" stroke-width="1.8"/>
<line x1="579.6" y1="161" x2="582.8" y2="161" stroke="#222" stroke-width="1.1"/>
<line x1="579.6" y1="153.5" x2="582.8" y2="153.5" stroke="#222" stroke-width="1.1"/>
<line x1="579.6" y1="138.5" x2="582.8" y2="138.5" stroke="#222" stroke-width="1.1"/>
<line x1="579.6" y1="131" x2="582.8" y2="131" stroke="#222" stroke-width="1.1"/>
<line x1="579.6" y1="116" x2="582.8" y2="116" stroke="#222" stroke-width="1.1"/>
<line x1="579.6" y1="108.5" x2="582.8" y2="108.5" stroke="#222" stroke-width="1.1"/>
<line x1="579.6" y1="93.5" x2="582.8" y2="93.5" stroke="#222" stroke-width="1.1"/>
<line x1="579.6" y1="86" x2="582.8" y2="86" stroke="#222" stroke-width="1.1"/>
<line x1="579.6" y1="71" x2="582.8" y2="71" stroke="#222" stroke-width="1.1"/>
<line x1="593.8" y1="169.3" x2="593.8" y2="176.8" stroke="#000" stroke-width="1.9"/>
<line x1="619" y1="169.3" x2="619" y2="176.8" stroke="#000" stroke-width="1.9"/>
<line x1="644.3" y1="169.3" x2="644.3" y2="176.8" stroke="#000" stroke-width="1.9"/>
<line x1="669.5" y1="169.3" x2="669.5" y2="176.8" stroke="#000" stroke-width="1.9"/>
<line x1="598.84" y1="169.3" x2="598.84" y2="173.1" stroke="#222" stroke-width="1.15"/>
<line x1="603.88" y1="169.3" x2="603.88" y2="173.1" stroke="#222" stroke-width="1.15"/>
<line x1="608.92" y1="169.3" x2="608.92" y2="173.1" stroke="#222" stroke-width="1.15"/>
<line x1="613.96" y1="169.3" x2="613.96" y2="173.1" stroke="#222" stroke-width="1.15"/>
<line x1="624.04" y1="169.3" x2="624.04" y2="173.1" stroke="#222" stroke-width="1.15"/>
<line x1="629.08" y1="169.3" x2="629.08" y2="173.1" stroke="#222" stroke-width="1.15"/>
<line x1="634.12" y1="169.3" x2="634.12" y2="173.1" stroke="#222" stroke-width="1.15"/>
<line x1="639.16" y1="169.3" x2="639.16" y2="173.1" stroke="#222" stroke-width="1.15"/>
<line x1="649.24" y1="169.3" x2="649.24" y2="173.1" stroke="#222" stroke-width="1.15"/>
<line x1="654.28" y1="169.3" x2="654.28" y2="173.1" stroke="#222" stroke-width="1.15"/>
<line x1="659.32" y1="169.3" x2="659.32" y2="173.1" stroke="#222" stroke-width="1.15"/>
<line x1="664.36" y1="169.3" x2="664.36" y2="173.1" stroke="#222" stroke-width="1.15"/>
<line x1="674.44" y1="169.3" x2="674.44" y2="173.1" stroke="#222" stroke-width="1.15"/>
<line x1="679.48" y1="169.3" x2="679.48" y2="173.1" stroke="#222" stroke-width="1.15"/>
<text x="570.8" y="83.8" font-family="Liberation Sans, sans-serif" font-size="12" text-anchor="end" font-weight="normal" fill="#000">1.2K</text>
<text x="570.8" y="106.3" font-family="Liberation Sans, sans-serif" font-size="12" text-anchor="end" font-weight="normal" fill="#000">900</text>
<text x="570.8" y="128.8" font-family="Liberation Sans, sans-serif" font-size="12" text-anchor="end" font-weight="normal" fill="#000">600</text>
<text x="570.8" y="151.3" font-family="Liberation Sans, sans-serif" font-size="12" text-anchor="end" font-weight="normal" fill="#000">300</text>
<text x="570.8" y="168.2" font-family="Liberation Sans, sans-serif" font-size="12" text-anchor="end" font-weight="normal" fill="#000">0</text>
<text x="592.5" y="190.3" font-family="Liberation Sans, sans-serif" font-size="12" text-anchor="middle" font-weight="normal" fill="#000">-0.1</text>
<text x="644.3" y="190.3" font-family="Liberation Sans, sans-serif" font-size="12" text-anchor="middle" font-weight="normal" fill="#000">0</text>
<text x="633.2" y="205.6" font-family="Liberation Sans, sans-serif" font-size="12" text-anchor="middle" font-weight="normal" fill="#000">Mid-slope shift (%)</text>
<text x="543.2" y="118.3" font-family="Liberation Sans, sans-serif" font-size="12" text-anchor="middle" font-weight="normal" fill="#000" transform="rotate(-90 543.2 118.3)">Count</text>
<path d="M143.4 333.3h1v1h-1zM87.4 302.2h1v1h-1zM137.4 318.5h1v1h-1zM97.8 326.3h1v1h-1zM107.1 327.1h1v1h-1zM128.8 316.2h1v1h-1zM137.8 341.6h1v1h-1zM108.8 336.3h1v1h-1zM102.5 327.0h1v1h-1zM148.6 336.9h1v1h-1zM93.9 302.1h1v1h-1zM77.4 299.6h1v1h-1zM73.6 314.6h1v1h-1zM99.2 322.4h1v1h-1zM99.0 302.4h1v1h-1zM142.1 327.1h1v1h-1zM145.6 332.3h1v1h-1zM122.6 337.9h1v1h-1zM119.0 333.9h1v1h-1zM97.6 321.8h1v1h-1zM82.1 313.2h1v1h-1zM82.2 309.5h1v1h-1zM151.3 340.4h1v1h-1zM126.5 309.7h1v1h-1zM137.5 351.9h1v1h-1zM84.5 319.1h1v1h-1zM82.1 305.8h1v1h-1zM136.9 345.0h1v1h-1zM103.4 325.6h1v1h-1zM102.6 302.0h1v1h-1zM143.0 324.5h1v1h-1zM106.7 326.9h1v1h-1zM81.2 312.2h1v1h-1zM120.6 334.3h1v1h-1zM94.7 333.0h1v1h-1zM103.5 328.5h1v1h-1zM128.5 344.6h1v1h-1zM133.3 344.9h1v1h-1zM132.4 314.4h1v1h-1zM108.8 329.9h1v1h-1zM105.9 332.7h1v1h-1zM148.5 345.6h1v1h-1zM115.9 332.8h1v1h-1zM98.6 327.0h1v1h-1zM140.5 328.6h1v1h-1zM140.4 339.6h1v1h-1zM111.6 308.4h1v1h-1zM129.1 316.2h1v1h-1zM109.0 331.0h1v1h-1zM116.1 301.6h1v1h-1zM98.3 324.5h1v1h-1zM138.9 343.4h1v1h-1zM112.9 308.6h1v1h-1zM107.3 301.5h1v1h-1zM96.9 328.2h1v1h-1zM101.2 330.1h1v1h-1zM86.8 328.6h1v1h-1zM82.1 308.4h1v1h-1zM97.7 299.8h1v1h-1zM79.6 308.4h1v1h-1zM128.3 314.9h1v1h-1zM101.0 297.6h1v1h-1zM106.7 303.3h1v1h-1zM115.4 308.4h1v1h-1zM93.3 300.0h1v1h-1zM120.9 309.9h1v1h-1zM82.9 308.6h1v1h-1zM128.1 337.6h1v1h-1zM147.4 327.2h1v1h-1zM138.9 323.0h1v1h-1zM140.1 345.5h1v1h-1zM95.1 298.3h1v1h-1zM98.1 323.0h1v1h-1zM134.6 307.3h1v1h-1zM91.6 320.3h1v1h-1zM94.6 324.6h1v1h-1zM94.2 320.7h1v1h-1zM140.3 311.4h1v1h-1zM100.1 296.0h1v1h-1zM111.8 307.2h1v1h-1zM128.7 310.1h1v1h-1zM124.8 313.7h1v1h-1zM138.5 324.2h1v1h-1zM84.8 303.0h1v1h-1zM132.8 316.0h1v1h-1zM128.6 338.4h1v1h-1zM75.4 311.9h1v1h-1zM140.4 352.5h1v1h-1zM85.1 300.4h1v1h-1zM123.2 340.4h1v1h-1zM110.0 333.8h1v1h-1zM80.6 316.7h1v1h-1zM141.1 312.0h1v1h-1zM107.1 283.2h1v1h-1zM101.6 326.4h1v1h-1zM91.6 317.9h1v1h-1zM110.0 306.8h1v1h-1zM148.2 326.8h1v1h-1zM101.7 304.0h1v1h-1zM96.4 332.8h1v1h-1zM126.2 315.0h1v1h-1zM127.9 339.9h1v1h-1zM103.6 326.6h1v1h-1zM106.8 328.9h1v1h-1zM84.2 302.2h1v1h-1zM130.9 339.6h1v1h-1zM120.3 337.9h1v1h-1zM91.1 317.5h1v1h-1zM109.4 331.7h1v1h-1zM139.0 314.2h1v1h-1zM112.9 305.7h1v1h-1zM105.2 299.5h1v1h-1zM132.3 313.0h1v1h-1zM87.1 302.2h1v1h-1zM131.2 315.2h1v1h-1zM108.8 329.9h1v1h-1zM150.4 309.9h1v1h-1zM108.1 304.6h1v1h-1zM136.1 317.8h1v1h-1zM97.4 329.2h1v1h-1zM114.4 304.8h1v1h-1zM68.4 314.7h1v1h-1zM78.3 304.2h1v1h-1zM76.4 320.9h1v1h-1zM136.5 310.5h1v1h-1zM107.8 328.8h1v1h-1zM103.8 298.0h1v1h-1zM89.5 313.9h1v1h-1zM134.1 319.4h1v1h-1zM146.6 333.3h1v1h-1zM133.2 350.7h1v1h-1zM124.6 315.2h1v1h-1zM92.2 299.9h1v1h-1zM85.7 314.7h1v1h-1zM114.0 332.9h1v1h-1zM95.8 320.8h1v1h-1zM160.4 347.5h1v1h-1zM111.2 303.5h1v1h-1zM101.7 299.5h1v1h-1zM86.2 308.6h1v1h-1zM99.1 321.8h1v1h-1zM83.1 321.4h1v1h-1zM96.3 298.3h1v1h-1zM106.4 331.0h1v1h-1zM138.3 345.7h1v1h-1zM98.3 326.7h1v1h-1zM143.2 332.5h1v1h-1zM94.5 327.9h1v1h-1zM153.2 351.6h1v1h-1zM148.1 336.0h1v1h-1zM75.3 303.2h1v1h-1zM122.7 308.9h1v1h-1zM73.4 306.1h1v1h-1zM123.0 343.2h1v1h-1zM129.5 314.0h1v1h-1zM75.3 306.1h1v1h-1zM131.6 312.5h1v1h-1zM150.6 324.0h1v1h-1zM87.0 313.8h1v1h-1zM139.0 321.6h1v1h-1zM109.4 328.8h1v1h-1zM124.2 338.2h1v1h-1zM108.6 328.9h1v1h-1zM72.4 278.7h1v1h-1zM95.9 296.2h1v1h-1zM120.3 305.7h1v1h-1zM133.0 317.7h1v1h-1zM107.0 300.4h1v1h-1zM103.4 329.1h1v1h-1zM123.1 342.0h1v1h-1zM109.9 329.9h1v1h-1zM147.5 320.6h1v1h-1zM122.9 346.3h1v1h-1zM132.2 319.0h1v1h-1zM88.4 312.5h1v1h-1zM85.0 314.7h1v1h-1zM113.6 308.2h1v1h-1zM98.0 326.3h1v1h-1zM128.5 314.4h1v1h-1zM69.0 296.5h1v1h-1zM109.8 301.2h1v1h-1zM116.5 303.8h1v1h-1zM84.7 317.7h1v1h-1zM110.4 302.2h1v1h-1zM97.2 323.9h1v1h-1zM122.7 340.3h1v1h-1zM107.2 329.2h1v1h-1zM94.3 325.5h1v1h-1zM113.2 307.9h1v1h-1zM102.3 325.8h1v1h-1zM147.8 344.1h1v1h-1zM118.7 333.2h1v1h-1zM102.0 328.6h1v1h-1zM136.1 322.5h1v1h-1zM64.7 302.9h1v1h-1zM105.1 300.0h1v1h-1zM121.1 334.5h1v1h-1zM148.4 332.5h1v1h-1zM72.4 288.3h1v1h-1zM124.8 314.1h1v1h-1zM106.3 299.5h1v1h-1zM131.4 318.1h1v1h-1zM126.2 340.3h1v1h-1zM126.7 315.0h1v1h-1zM137.1 314.9h1v1h-1zM113.1 298.8h1v1h-1zM110.1 305.2h1v1h-1zM135.0 322.9h1v1h-1zM96.9 332.6h1v1h-1zM139.7 319.2h1v1h-1zM117.0 310.0h1v1h-1zM83.0 305.4h1v1h-1zM130.3 310.8h1v1h-1zM104.5 326.2h1v1h-1zM115.5 337.4h1v1h-1zM85.4 322.7h1v1h-1zM131.4 340.2h1v1h-1zM122.9 312.5h1v1h-1zM89.1 332.1h1v1h-1zM84.8 305.7h1v1h-1zM89.4 316.3h1v1h-1zM88.5 296.9h1v1h-1zM115.7 309.1h1v1h-1zM103.0 328.1h1v1h-1zM93.1 328.6h1v1h-1zM132.7 343.0h1v1h-1zM144.4 317.8h1v1h-1zM109.9 348.4h1v1h-1zM107.3 342.6h1v1h-1zM105.9 300.2h1v1h-1zM98.8 300.7h1v1h-1zM87.8 322.8h1v1h-1zM131.5 341.8h1v1h-1zM104.1 300.2h1v1h-1zM118.0 295.3h1v1h-1zM119.1 307.6h1v1h-1zM87.7 313.2h1v1h-1zM90.0 293.3h1v1h-1zM104.5 331.3h1v1h-1zM117.8 336.0h1v1h-1zM79.2 309.4h1v1h-1zM91.6 318.5h1v1h-1zM110.3 338.7h1v1h-1zM124.8 342.5h1v1h-1zM97.5 325.2h1v1h-1zM144.9 361.3h1v1h-1zM104.6 325.3h1v1h-1zM123.3 308.0h1v1h-1zM110.6 332.8h1v1h-1zM118.8 308.6h1v1h-1zM145.8 336.8h1v1h-1zM136.9 315.1h1v1h-1zM116.8 338.3h1v1h-1zM103.1 304.0h1v1h-1zM136.2 354.0h1v1h-1zM90.8 291.9h1v1h-1zM85.4 304.6h1v1h-1zM99.9 301.9h1v1h-1zM142.6 324.7h1v1h-1zM104.0 328.1h1v1h-1zM144.0 331.0h1v1h-1zM136.4 324.3h1v1h-1zM109.5 293.9h1v1h-1zM121.5 303.4h1v1h-1zM118.0 311.6h1v1h-1zM135.9 313.1h1v1h-1zM118.3 334.7h1v1h-1zM130.8 317.1h1v1h-1zM114.5 335.0h1v1h-1zM130.8 314.4h1v1h-1zM92.9 319.0h1v1h-1zM136.8 320.1h1v1h-1zM132.9 321.4h1v1h-1zM102.3 324.4h1v1h-1zM107.1 327.8h1v1h-1zM136.3 342.7h1v1h-1zM128.9 299.3h1v1h-1zM156.3 320.8h1v1h-1zM76.8 302.1h1v1h-1zM146.6 325.0h1v1h-1zM110.8 340.1h1v1h-1zM113.7 335.5h1v1h-1zM85.3 315.6h1v1h-1zM105.8 294.5h1v1h-1zM110.6 335.2h1v1h-1zM89.1 298.7h1v1h-1zM110.6 302.0h1v1h-1zM103.2 301.9h1v1h-1zM135.6 320.9h1v1h-1zM87.9 343.2h1v1h-1zM64.9 294.8h1v1h-1zM128.3 338.4h1v1h-1zM109.1 305.8h1v1h-1zM121.4 304.2h1v1h-1zM106.4 300.1h1v1h-1zM97.3 292.4h1v1h-1zM85.2 308.2h1v1h-1zM96.9 340.1h1v1h-1zM132.2 342.2h1v1h-1zM145.3 347.7h1v1h-1zM139.2 310.7h1v1h-1zM100.1 337.2h1v1h-1zM134.2 342.2h1v1h-1zM88.8 295.8h1v1h-1zM87.8 295.5h1v1h-1zM101.6 296.5h1v1h-1zM84.4 323.9h1v1h-1zM81.5 302.8h1v1h-1zM138.6 317.7h1v1h-1zM109.6 334.7h1v1h-1zM83.7 312.5h1v1h-1zM106.5 301.8h1v1h-1zM73.9 306.5h1v1h-1zM127.7 313.2h1v1h-1zM151.8 333.8h1v1h-1zM152.0 334.5h1v1h-1zM110.6 333.4h1v1h-1zM119.0 302.5h1v1h-1zM115.3 298.9h1v1h-1zM137.1 339.8h1v1h-1zM127.9 306.1h1v1h-1zM132.9 313.0h1v1h-1zM136.8 341.7h1v1h-1zM96.5 296.7h1v1h-1zM112.0 333.7h1v1h-1zM94.0 329.1h1v1h-1zM85.9 312.0h1v1h-1zM108.1 332.0h1v1h-1zM103.2 327.8h1v1h-1zM129.8 318.0h1v1h-1zM123.7 336.1h1v1h-1zM133.6 303.5h1v1h-1zM126.6 308.3h1v1h-1zM96.6 320.6h1v1h-1zM123.8 312.9h1v1h-1zM108.6 302.7h1v1h-1zM131.7 319.0h1v1h-1zM137.0 310.8h1v1h-1zM118.3 344.4h1v1h-1zM100.8 301.0h1v1h-1zM81.9 297.4h1v1h-1zM86.1 316.6h1v1h-1zM124.3 305.5h1v1h-1zM105.5 328.4h1v1h-1zM142.6 308.7h1v1h-1zM146.8 334.9h1v1h-1zM86.8 304.9h1v1h-1zM154.7 323.2h1v1h-1zM99.9 325.7h1v1h-1zM126.5 309.3h1v1h-1zM112.4 305.8h1v1h-1zM83.7 302.2h1v1h-1zM117.3 308.7h1v1h-1zM142.6 349.8h1v1h-1zM126.5 316.4h1v1h-1zM94.3 302.0h1v1h-1zM91.9 316.3h1v1h-1zM81.8 301.0h1v1h-1zM113.9 309.4h1v1h-1zM128.0 309.0h1v1h-1zM96.9 320.6h1v1h-1zM132.0 349.3h1v1h-1zM109.2 301.8h1v1h-1zM83.4 309.6h1v1h-1zM103.8 300.1h1v1h-1zM97.9 302.2h1v1h-1zM155.0 346.8h1v1h-1zM128.6 295.7h1v1h-1zM137.9 297.9h1v1h-1zM120.7 281.2h1v1h-1zM117.6 278.7h1v1h-1zM115.9 275.5h1v1h-1zM121.3 300.8h1v1h-1zM117.4 275.9h1v1h-1zM117.3 295.5h1v1h-1zM113.4 275.8h1v1h-1zM123.9 277.7h1v1h-1zM130.5 293.6h1v1h-1zM136.2 273.1h1v1h-1zM114.7 281.2h1v1h-1zM109.4 268.0h1v1h-1zM117.3 271.0h1v1h-1zM111.6 293.5h1v1h-1zM130.2 291.6h1v1h-1zM111.7 267.4h1v1h-1zM120.7 266.8h1v1h-1zM116.4 274.4h1v1h-1zM121.8 271.2h1v1h-1zM135.2 290.6h1v1h-1zM113.0 272.5h1v1h-1zM123.6 278.3h1v1h-1zM99.1 295.9h1v1h-1zM107.8 297.4h1v1h-1zM111.8 280.6h1v1h-1zM114.9 302.2h1v1h-1zM124.2 281.4h1v1h-1zM126.2 280.0h1v1h-1zM103.8 283.3h1v1h-1zM125.2 279.1h1v1h-1zM108.7 290.8h1v1h-1zM138.2 287.3h1v1h-1zM123.0 272.5h1v1h-1zM121.4 285.9h1v1h-1zM118.1 275.8h1v1h-1zM119.5 275.3h1v1h-1zM119.9 281.4h1v1h-1zM113.0 297.6h1v1h-1zM127.3 287.2h1v1h-1zM122.6 301.1h1v1h-1zM127.4 305.2h1v1h-1zM119.3 282.9h1v1h-1zM126.7 274.9h1v1h-1zM112.3 272.4h1v1h-1zM155.5 287.3h1v1h-1zM112.8 295.5h1v1h-1zM115.4 305.5h1v1h-1zM129.5 265.1h1v1h-1zM132.2 296.3h1v1h-1zM111.9 298.4h1v1h-1zM105.9 286.0h1v1h-1zM109.9 283.0h1v1h-1zM112.0 262.2h1v1h-1zM118.2 272.5h1v1h-1zM130.2 268.0h1v1h-1zM130.7 269.3h1v1h-1zM113.7 270.9h1v1h-1zM125.2 262.0h1v1h-1zM128.7 282.2h1v1h-1zM133.9 288.9h1v1h-1zM118.3 294.1h1v1h-1zM112.4 282.2h1v1h-1zM127.3 298.3h1v1h-1zM135.0 298.4h1v1h-1zM114.6 262.3h1v1h-1zM139.3 279.7h1v1h-1zM137.0 266.1h1v1h-1zM117.2 269.8h1v1h-1zM104.1 286.1h1v1h-1zM113.9 281.8h1v1h-1zM116.3 304.0h1v1h-1zM125.1 312.2h1v1h-1zM103.1 289.5h1v1h-1zM144.1 280.9h1v1h-1zM143.2 281.6h1v1h-1zM112.6 283.4h1v1h-1zM101.2 291.6h1v1h-1zM118.1 273.3h1v1h-1zM124.1 291.8h1v1h-1zM133.3 280.2h1v1h-1zM126.9 298.5h1v1h-1zM117.8 302.7h1v1h-1zM124.9 281.5h1v1h-1zM128.2 264.8h1v1h-1zM116.7 260.1h1v1h-1zM122.5 279.6h1v1h-1zM121.8 263.9h1v1h-1zM117.4 260.7h1v1h-1zM108.2 278.8h1v1h-1zM123.2 269.9h1v1h-1zM105.6 293.4h1v1h-1zM133.8 310.9h1v1h-1zM110.8 280.6h1v1h-1zM124.7 288.1h1v1h-1zM112.5 261.7h1v1h-1zM123.6 286.3h1v1h-1zM117.7 274.0h1v1h-1zM125.1 268.4h1v1h-1zM111.9 257.7h1v1h-1zM117.0 261.2h1v1h-1zM116.3 266.9h1v1h-1zM104.7 284.0h1v1h-1zM112.9 287.9h1v1h-1zM103.0 287.9h1v1h-1zM120.9 285.4h1v1h-1zM116.0 271.4h1v1h-1zM119.9 294.6h1v1h-1zM145.8 286.6h1v1h-1zM121.3 263.6h1v1h-1zM123.5 306.3h1v1h-1zM126.0 279.1h1v1h-1zM118.4 297.2h1v1h-1zM113.8 263.6h1v1h-1zM156.6 335.5h1v1h-1zM164.8 353.2h1v1h-1zM165.9 335.0h1v1h-1zM199.0 323.8h1v1h-1zM146.2 350.2h1v1h-1zM179.7 345.7h1v1h-1zM160.1 334.7h1v1h-1zM185.3 350.2h1v1h-1zM182.4 334.7h1v1h-1zM169.3 330.1h1v1h-1zM177.3 337.6h1v1h-1zM195.9 350.4h1v1h-1zM153.7 338.2h1v1h-1zM173.8 349.3h1v1h-1zM178.7 343.5h1v1h-1zM183.0 324.6h1v1h-1zM170.2 347.2h1v1h-1zM163.4 335.5h1v1h-1zM121.1 340.4h1v1h-1zM167.1 341.5h1v1h-1zM158.9 352.0h1v1h-1zM173.3 338.7h1v1h-1zM195.8 326.7h1v1h-1zM186.0 348.5h1v1h-1zM196.0 342.4h1v1h-1zM189.3 340.1h1v1h-1zM188.1 357.6h1v1h-1zM188.2 342.8h1v1h-1zM171.2 350.8h1v1h-1zM171.5 342.6h1v1h-1zM185.7 330.5h1v1h-1zM191.9 342.0h1v1h-1zM205.7 350.1h1v1h-1zM155.9 331.1h1v1h-1zM184.6 330.6h1v1h-1zM186.3 334.6h1v1h-1zM187.7 339.3h1v1h-1zM154.7 330.2h1v1h-1zM145.9 331.4h1v1h-1zM137.1 352.2h1v1h-1zM170.2 343.5h1v1h-1zM181.6 342.9h1v1h-1zM153.8 352.5h1v1h-1zM182.8 349.1h1v1h-1zM172.6 340.5h1v1h-1zM182.9 330.8h1v1h-1zM172.5 325.8h1v1h-1zM155.4 335.2h1v1h-1zM168.6 339.7h1v1h-1zM193.0 330.1h1v1h-1zM185.4 331.4h1v1h-1zM199.6 345.8h1v1h-1zM162.4 319.3h1v1h-1zM199.2 330.3h1v1h-1zM179.1 342.0h1v1h-1zM180.6 347.9h1v1h-1zM199.7 349.1h1v1h-1zM174.2 350.8h1v1h-1zM180.2 357.1h1v1h-1zM188.1 352.3h1v1h-1zM190.1 342.0h1v1h-1zM189.3 363.8h1v1h-1zM198.5 361.4h1v1h-1zM186.2 352.4h1v1h-1zM171.8 333.8h1v1h-1zM181.1 323.8h1v1h-1zM185.6 340.7h1v1h-1zM169.1 318.1h1v1h-1zM163.1 349.1h1v1h-1zM179.6 342.9h1v1h-1zM185.4 358.5h1v1h-1zM179.0 342.6h1v1h-1zM192.5 345.9h1v1h-1zM196.6 342.9h1v1h-1zM195.2 350.3h1v1h-1zM178.7 342.3h1v1h-1zM178.2 353.5h1v1h-1zM172.3 356.2h1v1h-1zM162.5 343.2h1v1h-1zM205.6 337.1h1v1h-1zM155.7 343.7h1v1h-1zM175.2 354.4h1v1h-1zM181.6 349.1h1v1h-1zM140.2 338.5h1v1h-1zM190.3 353.3h1v1h-1zM170.4 353.2h1v1h-1zM186.7 320.2h1v1h-1zM170.4 355.1h1v1h-1zM150.2 344.7h1v1h-1zM181.4 347.5h1v1h-1zM181.4 338.0h1v1h-1zM196.0 347.8h1v1h-1zM186.1 349.5h1v1h-1zM151.1 324.2h1v1h-1zM197.0 352.7h1v1h-1zM192.7 345.8h1v1h-1zM189.9 358.1h1v1h-1zM186.2 350.2h1v1h-1zM166.4 338.9h1v1h-1zM188.0 344.8h1v1h-1zM171.2 347.2h1v1h-1zM173.6 346.8h1v1h-1zM160.1 332.9h1v1h-1zM206.8 332.3h1v1h-1zM207.1 345.0h1v1h-1zM206.8 347.9h1v1h-1zM207.0 346.5h1v1h-1zM207.5 335.0h1v1h-1zM206.7 342.0h1v1h-1zM206.8 355.1h1v1h-1zM207.1 344.4h1v1h-1zM207.3 337.9h1v1h-1zM206.8 334.7h1v1h-1zM206.9 339.8h1v1h-1zM207.2 348.5h1v1h-1zM111.2 346.2h1v1h-1zM102.9 341.6h1v1h-1zM79.2 357.7h1v1h-1zM132.8 352.4h1v1h-1zM151.9 356.9h1v1h-1zM150.7 363.3h1v1h-1zM111.4 348.3h1v1h-1zM147.3 355.5h1v1h-1zM142.6 348.0h1v1h-1zM114.0 350.5h1v1h-1zM120.7 353.8h1v1h-1zM113.4 349.9h1v1h-1zM125.6 339.1h1v1h-1zM157.1 363.3h1v1h-1zM102.3 352.4h1v1h-1zM97.0 342.0h1v1h-1zM122.1 351.0h1v1h-1zM83.1 356.4h1v1h-1zM100.7 359.3h1v1h-1zM104.4 360.2h1v1h-1zM108.7 348.2h1v1h-1zM127.4 356.4h1v1h-1zM140.8 338.9h1v1h-1zM117.7 352.4h1v1h-1zM123.9 358.5h1v1h-1zM106.1 346.3h1v1h-1zM141.4 349.9h1v1h-1zM147.9 352.1h1v1h-1zM115.7 352.3h1v1h-1zM106.2 363.1h1v1h-1zM162.5 342.6h1v1h-1zM139.6 361.9h1v1h-1zM103.2 341.2h1v1h-1zM87.2 345.9h1v1h-1zM115.2 345.0h1v1h-1zM145.0 350.5h1v1h-1zM110.2 347.2h1v1h-1zM116.2 355.1h1v1h-1zM111.2 351.3h1v1h-1zM134.1 368.8h1v1h-1zM149.0 354.3h1v1h-1zM95.9 349.2h1v1h-1zM115.4 354.2h1v1h-1zM117.1 356.0h1v1h-1zM73.5 269.8h1v1h-1zM85.8 365.6h1v1h-1zM125.2 348.9h1v1h-1zM151.5 339.1h1v1h-1zM137.4 284.7h1v1h-1zM114.6 335.4h1v1h-1zM140.7 352.4h1v1h-1zM128.5 310.6h1v1h-1zM175.0 303.8h1v1h-1zM162.8 336.0h1v1h-1zM172.4 310.9h1v1h-1zM126.2 274.4h1v1h-1zM77.6 268.1h1v1h-1zM154.8 346.1h1v1h-1zM101.0 365.2h1v1h-1zM65.2 343.9h1v1h-1zM98.1 360.5h1v1h-1zM128.1 301.8h1v1h-1zM61.3 329.1h1v1h-1zM157.5 313.0h1v1h-1zM121.8 368.0h1v1h-1z" fill="#222" fill-opacity="0.8"/>
<path d="M141.4,335.9L140.9,336.7L140.3,337.3L139.7,337.7L139.0,338.0L138.3,338.3L137.4,338.4L136.4,338.5L135.4,338.4L134.2,338.3L133.0,338.1L131.7,337.8L130.3,337.5L128.9,337.0L127.3,336.5L125.7,335.9L124.0,335.2L122.3,334.5L120.4,333.6L118.5,332.7L116.4,331.6L114.2,330.4L111.8,329.1L108.5,327.2L106.0,325.8L103.9,324.5L102.0,323.2L100.2,322.0L98.5,320.9L97.0,319.7L95.5,318.6L94.2,317.5L93.0,316.5L91.8,315.4L90.8,314.4L89.9,313.4L89.1,312.5L88.5,311.6L87.9,310.7L87.5,309.8L87.2,309.0L87.0,308.2L86.9,307.4L87.0,306.7L87.2,306.0L87.6,305.1L88.1,304.3L88.7,303.7L89.3,303.3L90.0,303.0L90.7,302.7L91.6,302.6L92.6,302.5L93.6,302.6L94.8,302.7L96.0,302.9L97.3,303.2L98.7,303.5L100.1,304.0L101.7,304.5L103.3,305.1L105.0,305.8L106.7,306.5L108.6,307.4L110.5,308.3L112.6,309.4L114.8,310.6L117.2,311.9L120.5,313.8L123.0,315.2L125.1,316.5L127.0,317.8L128.8,319.0L130.5,320.1L132.0,321.3L133.5,322.4L134.8,323.5L136.0,324.5L137.2,325.6L138.2,326.6L139.1,327.6L139.9,328.5L140.5,329.4L141.1,330.3L141.5,331.2L141.8,332.0L142.0,332.8L142.1,333.6L142.0,334.3L141.8,335.0Z" fill="none" stroke="#111" stroke-width="0.72"/>
<path d="M138.9,334.3L138.2,334.9L137.9,335.2L137.5,335.7L136.7,336.0L136.2,336.0L135.2,336.3L134.5,336.2L133.5,336.2L132.5,336.2L131.3,336.1L130.3,335.8L129.1,335.3L127.7,334.8L126.3,334.5L124.8,333.8L123.3,333.2L121.7,332.5L120.0,331.8L118.6,331.0L116.5,329.9L114.5,329.1L112.4,327.6L109.4,326.2L107.2,324.8L105.3,323.5L103.4,322.4L101.9,321.4L100.5,320.4L99.0,319.4L97.6,318.5L96.6,317.3L95.4,316.4L94.5,315.7L93.7,314.5L92.4,313.7L91.9,313.0L91.3,311.9L90.7,311.5L90.4,310.7L90.0,309.9L89.9,309.3L89.8,308.6L89.7,308.0L90.0,307.5L90.4,306.7L90.7,305.9L91.2,305.5L91.7,305.2L92.2,305.0L92.9,304.9L93.8,304.7L94.5,304.7L95.6,304.6L96.5,304.8L97.4,305.1L98.9,305.2L100.0,305.5L101.3,305.9L102.8,306.6L104.1,307.0L105.8,308.0L107.0,308.6L109.1,309.3L110.5,310.2L112.4,311.0L114.3,312.2L116.7,313.3L119.7,314.9L121.9,316.3L123.7,317.5L125.6,318.7L127.1,319.7L128.6,320.8L130.0,321.8L131.3,322.4L132.6,323.9L133.7,324.6L134.6,325.5L135.6,326.2L136.3,327.1L137.1,328.0L137.8,328.8L138.4,329.7L138.9,330.1L138.9,331.2L139.5,331.7L139.3,332.4L139.4,333.0L139.1,333.6Z" fill="none" stroke="#111" stroke-width="0.72"/>
<path d="M136.4,333.2L136.2,333.8L135.8,334.0L135.4,334.4L134.8,334.5L134.3,334.7L133.7,334.9L132.8,334.5L132.0,334.7L131.1,334.6L130.0,334.4L128.9,334.3L127.7,333.5L126.5,333.2L125.3,333.1L124.1,332.2L122.9,331.7L121.2,331.2L119.9,330.3L118.4,329.6L116.8,328.8L115.0,327.8L112.6,326.9L110.0,325.0L108.0,323.9L106.4,322.9L104.8,322.1L103.3,320.7L101.8,319.9L100.4,319.1L99.3,318.1L98.3,317.1L97.2,316.5L96.4,315.6L95.7,314.7L94.7,314.1L93.7,313.6L93.5,312.5L93.2,312.0L92.6,311.2L92.3,310.5L92.2,310.1L92.0,309.7L92.1,309.0L92.2,308.4L92.5,308.1L92.9,307.4L93.1,306.8L93.5,306.8L94.2,306.6L94.7,306.3L95.5,306.4L96.3,306.3L97.1,306.4L97.8,306.5L98.9,306.7L100.1,306.9L101.1,307.3L102.3,307.8L103.4,308.2L105.1,308.5L106.1,309.2L107.6,310.1L109.1,310.5L110.8,311.3L112.5,312.3L114.4,313.2L116.6,314.5L119.0,315.9L120.8,317.0L122.6,318.1L124.3,319.1L125.8,320.2L127.0,321.2L128.4,322.1L129.6,323.0L130.6,323.7L131.9,324.5L132.4,325.1L133.2,325.9L134.2,327.1L134.9,327.7L135.5,328.4L136.0,329.0L136.5,329.6L136.8,330.4L136.9,331.0L136.9,331.4L137.0,332.0L136.8,332.4Z" fill="none" stroke="#111" stroke-width="0.72"/>
<path d="M134.9,332.3L134.4,332.7L134.2,333.1L133.9,332.9L133.4,333.5L132.8,333.5L132.3,333.5L131.7,333.6L131.0,333.4L129.7,333.4L129.1,333.1L127.9,332.8L127.1,332.5L125.9,332.1L124.7,331.6L123.4,331.4L122.3,330.7L120.9,330.1L119.4,329.5L118.2,328.9L116.5,327.8L115.0,327.1L113.0,325.9L110.3,324.3L108.8,323.5L107.1,322.6L105.8,321.4L104.0,320.4L102.9,319.8L101.8,318.6L100.6,318.3L99.6,317.2L98.9,316.5L97.7,315.8L97.0,315.0L96.4,314.5L95.8,313.7L95.2,313.0L94.7,312.6L94.4,312.1L94.1,311.1L93.7,310.9L93.7,310.3L93.6,309.9L93.8,309.5L94.0,308.9L94.5,308.2L94.9,307.9L95.1,307.8L95.6,307.5L96.1,307.4L96.9,307.5L97.5,307.5L98.3,307.8L99.2,307.6L100.1,307.9L100.9,308.4L101.9,308.4L102.8,308.7L104.2,309.2L105.5,309.7L106.6,310.4L108.2,311.0L109.5,311.8L111.0,312.3L112.4,313.3L114.0,314.1L115.7,315.0L118.5,316.3L120.1,317.6L121.7,318.6L123.3,319.5L124.7,320.5L126.0,321.3L127.2,322.2L128.5,323.0L129.4,323.6L130.4,324.4L131.1,325.3L132.0,326.1L132.9,326.6L133.4,327.5L134.0,328.0L134.5,328.5L134.8,329.3L135.2,329.6L135.2,330.3L135.3,330.7L135.4,331.2L135.0,331.7Z" fill="none" stroke="#111" stroke-width="0.72"/>
<path d="M133.5,331.4L133.1,332.0L132.7,331.9L132.6,332.5L132.3,332.4L131.6,332.4L131.2,332.4L130.4,332.7L129.7,332.6L128.9,332.4L128.3,332.1L127.4,331.9L126.1,332.0L125.4,331.2L124.1,330.8L123.1,330.4L122.0,330.0L120.7,329.3L119.5,328.5L118.0,328.0L116.7,327.0L114.9,326.3L113.4,325.3L111.2,323.9L109.3,322.6L107.7,322.0L106.4,321.4L105.1,320.5L103.9,319.7L102.7,318.9L101.6,318.1L100.6,317.2L99.6,316.5L99.0,315.9L98.1,315.4L97.6,314.7L97.1,313.9L96.2,313.3L96.2,312.7L95.8,312.2L95.4,311.6L95.4,311.3L95.2,310.9L95.2,310.4L95.3,309.9L95.3,309.6L95.7,309.1L96.0,308.9L96.3,308.7L96.7,308.5L97.4,308.6L97.8,308.5L98.4,308.5L99.0,308.4L99.9,308.7L101.0,309.0L101.9,309.3L102.6,309.4L103.8,309.8L104.7,310.1L105.9,310.4L107.0,311.1L108.4,311.7L109.5,312.6L110.8,313.2L112.2,313.9L114.0,314.8L115.6,315.8L118.1,317.0L119.8,318.1L121.3,318.9L122.5,320.1L124.2,320.5L125.2,321.5L126.4,322.2L127.2,323.0L128.2,323.7L129.2,324.4L130.1,325.3L130.6,325.7L131.3,326.6L132.0,327.2L132.5,327.6L132.8,328.3L133.3,328.5L133.5,328.9L133.8,329.7L133.9,330.3L133.9,330.6L133.9,330.9Z" fill="none" stroke="#111" stroke-width="0.72"/>
<path d="M132.0,330.8L131.9,331.0L131.6,331.3L131.4,331.5L131.0,331.7L130.6,331.7L130.4,331.6L129.4,331.5L128.8,331.4L127.7,331.2L127.3,331.3L126.3,330.8L125.6,330.5L124.7,330.3L123.7,329.8L122.8,329.4L121.7,328.9L120.5,328.3L119.1,327.7L117.9,327.1L116.8,326.3L115.0,325.9L113.6,324.5L111.4,323.5L109.5,322.5L108.3,321.8L107.2,320.9L106.0,320.1L104.6,319.3L103.7,318.5L102.8,317.9L101.7,317.4L101.1,316.4L100.1,316.1L99.4,315.5L98.6,314.9L98.3,314.3L97.9,313.6L97.5,313.2L97.1,312.7L96.9,312.4L96.4,311.9L96.5,311.5L96.4,311.3L96.6,310.9L96.7,310.2L97.0,309.9L97.6,309.7L97.8,309.5L98.0,309.4L98.5,309.5L99.0,309.3L99.5,309.4L100.3,309.6L100.9,309.6L101.7,309.9L102.5,310.1L103.4,310.5L104.3,310.8L105.4,311.2L106.6,311.7L107.5,311.9L108.7,312.9L109.7,313.1L111.1,314.0L112.5,314.5L113.9,315.5L115.6,316.6L117.8,317.6L119.3,318.4L120.6,319.3L122.0,319.9L123.1,320.8L124.3,321.6L125.4,322.3L126.4,322.8L127.4,323.8L128.1,324.4L128.9,324.9L129.5,325.7L130.2,326.3L130.7,326.7L131.1,327.2L131.6,327.9L132.0,328.1L132.3,328.7L132.0,329.2L132.3,329.6L132.4,329.7L132.5,330.1Z" fill="none" stroke="#111" stroke-width="0.72"/>
<path d="M131.1,330.1L131.0,330.5L130.7,330.5L130.6,330.7L130.2,330.8L129.7,331.0L129.0,330.9L128.6,330.9L127.9,330.8L127.2,330.4L126.7,330.3L126.0,330.2L124.9,329.8L124.1,329.4L123.3,329.1L122.4,328.8L121.1,328.3L120.1,327.6L119.1,327.3L117.9,326.5L116.7,325.9L115.3,325.4L113.7,324.1L111.6,323.2L110.3,322.1L108.8,321.5L107.6,320.8L106.3,320.0L105.5,319.4L104.5,318.8L103.5,318.1L102.6,317.2L101.7,316.8L101.1,316.1L100.5,315.5L99.9,315.1L99.2,314.3L99.0,314.1L98.2,313.6L98.2,313.1L98.0,312.6L97.8,312.4L97.6,312.0L97.6,311.8L97.6,311.3L97.8,310.9L98.1,310.7L98.5,310.4L98.4,310.2L99.0,310.1L99.4,309.8L100.0,310.1L100.3,310.1L100.9,310.3L101.8,310.6L102.5,310.5L103.0,311.0L104.2,311.1L105.0,311.3L105.6,311.7L106.7,312.2L107.8,312.7L109.0,313.4L110.0,314.1L111.1,314.4L112.5,315.0L113.9,315.8L115.5,316.7L117.7,317.8L118.9,318.8L119.9,319.6L121.5,320.3L122.4,320.8L123.7,321.8L124.8,322.2L125.4,323.0L126.1,323.6L127.3,324.4L127.9,325.0L128.6,325.4L129.1,325.9L129.6,326.4L130.0,327.0L130.5,327.2L130.8,327.7L130.8,328.3L131.5,328.9L131.6,328.9L131.5,329.5L131.1,329.8Z" fill="none" stroke="#111" stroke-width="0.72"/>
<path d="M130.2,329.5L129.9,329.7L129.9,329.9L129.4,330.0L129.1,329.9L128.8,330.2L128.3,330.2L127.7,330.0L127.1,330.0L126.7,329.9L125.8,329.9L125.0,329.2L124.4,329.1L123.4,328.8L122.6,328.6L121.7,328.2L120.9,327.6L119.8,327.2L118.5,326.6L117.6,326.2L116.4,325.5L114.9,324.8L113.8,323.9L111.9,322.8L110.5,322.0L109.0,321.2L108.4,320.6L107.1,319.8L106.1,319.3L105.1,318.7L104.2,318.0L103.5,317.4L102.6,317.0L101.9,316.3L101.3,315.8L100.8,315.3L100.5,315.1L99.9,314.5L99.5,314.0L99.4,313.6L98.9,313.1L98.8,312.8L98.8,312.3L98.6,312.1L98.5,312.1L98.9,311.8L98.9,311.4L99.3,311.0L99.5,310.8L99.8,310.9L100.2,310.8L100.8,310.9L101.3,311.0L101.9,311.0L102.5,311.1L103.0,311.6L103.9,311.5L104.8,311.9L105.4,312.0L106.4,312.4L107.1,313.0L108.2,313.4L109.1,314.0L110.5,314.3L111.4,315.2L112.6,315.5L113.7,316.2L115.1,317.0L117.1,318.1L118.6,319.0L119.7,319.9L120.9,320.5L122.1,321.2L122.9,321.9L123.9,322.7L124.8,323.1L125.7,323.6L126.4,324.1L126.8,324.6L127.6,325.0L128.2,325.6L128.7,326.1L129.3,326.7L129.3,327.2L129.7,327.3L129.9,327.9L130.3,328.1L130.1,328.4L130.5,329.0L130.2,329.2Z" fill="none" stroke="#111" stroke-width="0.72"/>
<path d="M129.0,328.8L129.0,329.1L128.7,329.2L128.5,329.3L128.1,329.4L127.6,329.4L127.3,329.4L126.7,329.2L126.5,329.4L125.9,329.3L125.2,328.9L124.5,328.5L123.6,328.5L123.0,328.0L122.3,327.9L121.5,327.4L120.4,327.0L119.6,326.5L118.6,326.1L117.6,325.3L116.6,325.1L115.2,324.1L114.0,323.5L112.1,322.7L110.7,321.8L109.5,321.2L108.7,320.4L107.7,319.9L106.8,319.3L105.9,318.6L105.1,317.9L104.4,317.6L103.8,316.9L103.0,316.6L102.4,316.0L101.9,315.6L101.5,315.1L101.0,314.8L100.7,314.3L100.4,314.0L100.1,313.6L99.9,313.6L99.7,312.9L99.7,312.6L99.8,312.6L100.2,312.2L99.9,312.0L100.2,311.7L100.5,311.7L100.9,311.7L101.4,311.5L101.7,311.7L102.1,311.8L102.7,311.8L103.3,312.1L103.9,312.1L104.6,312.1L105.4,312.4L106.1,312.8L106.8,313.2L107.7,313.5L108.3,314.1L109.4,314.4L110.3,315.2L111.4,315.5L112.4,316.3L113.7,316.4L115.4,317.3L117.0,318.6L118.2,319.2L119.3,320.1L120.3,320.6L121.5,321.2L122.2,322.0L123.2,322.4L123.8,322.8L124.8,323.6L125.1,323.9L126.1,324.8L126.9,325.1L127.3,325.4L127.7,325.7L127.9,326.3L128.6,326.7L128.7,327.0L128.7,327.4L129.0,327.7L129.0,328.0L129.0,328.3L129.3,328.6Z" fill="none" stroke="#111" stroke-width="0.72"/>
<path d="M128.2,328.2L127.9,328.4L127.5,328.7L127.5,328.5L127.0,328.6L126.8,328.5L126.3,328.4L125.8,328.5L125.4,328.0L124.7,327.9L123.8,327.9L123.2,327.2L122.6,327.4L122.0,326.9L121.2,326.3L120.0,326.3L119.3,326.0L118.5,325.4L117.6,325.0L116.7,324.4L115.6,323.9L114.8,323.5L113.7,322.8L112.8,322.6L112.0,321.5L110.7,321.6L110.0,320.7L109.3,320.2L108.2,319.6L107.7,318.9L106.8,318.5L105.9,318.2L105.2,317.6L104.5,316.8L103.9,316.6L103.4,316.1L102.9,315.6L102.4,315.1L101.8,314.7L101.5,314.4L101.5,313.9L101.3,313.7L101.1,313.4L101.1,313.3L100.9,312.9L101.2,312.5L100.9,312.4L101.4,312.6L101.7,312.5L102.1,312.7L102.4,312.4L102.8,312.5L103.2,312.5L103.8,312.9L104.4,312.8L104.8,313.1L105.6,313.5L106.4,313.7L107.2,314.2L108.2,314.4L108.8,314.9L109.8,315.1L110.7,315.6L111.4,316.1L112.5,316.3L113.1,317.0L114.4,317.6L115.1,318.0L116.3,318.4L117.2,319.1L118.2,319.4L119.0,320.5L119.8,320.8L120.8,321.3L121.7,322.0L122.1,322.5L122.9,323.1L123.6,323.3L124.3,323.9L125.2,324.5L125.6,325.1L126.0,325.4L126.5,326.0L127.2,326.3L127.2,326.6L127.4,327.1L127.6,327.3L127.8,327.4L127.7,327.7L128.0,328.0Z" fill="none" stroke="#111" stroke-width="0.72"/>
<path d="M126.8,327.5L126.7,327.6L126.6,328.0L126.4,327.7L126.2,327.7L125.8,327.8L125.4,328.2L124.8,327.6L124.5,327.5L123.8,327.3L123.4,327.3L122.5,326.8L122.2,326.5L121.4,326.4L120.4,326.1L119.6,325.5L118.8,325.4L118.1,325.0L117.2,324.6L116.6,324.0L115.4,323.5L114.9,323.2L113.8,322.4L113.1,322.3L112.3,321.7L111.3,321.0L110.4,320.4L109.9,320.1L109.1,319.6L107.9,319.3L107.3,318.5L106.9,318.3L105.8,317.6L105.3,317.2L105.1,316.7L104.5,316.2L104.1,315.8L103.4,315.5L102.9,315.3L102.6,314.9L102.3,314.5L102.3,314.2L102.2,313.8L102.3,313.8L101.7,313.8L102.2,313.6L102.2,313.0L102.3,313.1L102.6,313.1L102.9,313.0L103.2,313.1L103.7,313.1L104.0,313.6L104.4,313.6L105.3,313.7L105.8,314.0L106.5,314.0L107.0,314.5L107.6,314.7L108.4,314.7L109.3,315.5L110.0,315.7L110.8,316.0L111.7,316.6L112.8,317.1L113.3,317.2L114.4,317.9L115.1,318.2L115.9,319.0L116.9,319.2L117.8,319.9L118.5,320.5L119.3,321.0L120.0,321.3L120.7,321.9L121.5,322.4L122.3,323.0L123.0,323.4L123.8,323.8L124.0,324.4L124.9,324.7L125.2,325.0L125.6,325.6L126.0,325.8L126.4,326.2L126.6,326.6L126.8,326.9L126.8,327.1L127.2,327.5L127.0,327.6Z" fill="none" stroke="#111" stroke-width="0.72"/>
<path d="M125.9,327.3L126.0,327.0L125.8,327.4L125.5,327.6L125.5,327.2L125.2,327.3L124.6,327.2L124.2,327.0L123.7,327.1L123.5,327.0L122.7,326.6L122.1,326.6L121.3,326.0L120.8,325.9L120.1,325.6L119.5,325.3L118.6,324.9L118.0,324.6L117.3,324.0L116.5,323.9L115.5,323.3L114.8,322.9L114.0,322.6L113.2,322.0L112.4,321.3L111.6,321.0L110.7,320.4L110.0,320.0L109.5,319.8L108.5,319.2L108.0,318.6L107.5,318.3L106.6,317.5L105.9,317.3L105.5,316.9L104.9,316.5L104.5,315.9L104.1,315.7L103.7,315.6L103.5,315.1L103.4,314.8L103.2,314.4L102.9,314.4L103.1,314.2L102.9,313.9L102.9,313.8L103.0,313.9L102.9,313.7L103.3,313.6L103.8,313.7L104.1,313.5L104.3,313.7L104.7,313.9L105.3,313.9L105.6,314.0L106.4,314.3L106.8,314.5L107.4,314.9L108.2,315.2L108.8,315.4L109.5,315.9L110.4,316.1L111.1,316.4L112.1,316.8L112.6,317.2L113.6,317.7L114.4,318.1L114.9,318.7L115.8,318.9L116.6,319.6L117.7,319.8L118.0,320.6L119.0,320.9L119.8,321.5L120.7,321.9L121.3,322.3L121.7,322.9L122.2,323.1L123.1,323.5L123.5,324.1L123.9,324.3L124.2,324.8L124.7,325.2L125.2,325.5L125.3,325.9L125.6,326.0L125.8,326.4L126.3,326.8L125.9,326.7L126.1,327.1Z" fill="none" stroke="#111" stroke-width="0.72"/>
<path d="M125.2,326.9L125.3,326.9L125.0,326.7L124.7,326.8L124.5,326.8L124.3,326.9L123.9,326.6L123.6,326.7L123.2,326.4L122.8,326.5L122.3,326.2L121.6,325.9L120.8,325.8L120.4,325.5L119.9,325.1L119.3,324.9L118.6,324.5L117.8,324.1L117.2,323.5L116.2,323.4L115.4,322.9L114.5,322.6L113.9,322.2L113.3,321.7L112.4,321.2L111.8,320.9L111.2,320.3L110.6,320.0L109.6,319.7L109.2,319.1L108.3,318.8L107.7,318.4L107.0,317.9L106.7,317.6L106.0,317.1L105.7,316.7L105.2,316.2L104.9,316.0L104.8,315.8L104.3,315.6L103.9,315.3L104.0,315.1L103.8,314.6L103.6,314.6L103.8,314.6L103.9,314.4L103.8,314.3L103.9,314.3L104.2,314.2L104.2,314.3L104.5,314.4L105.1,314.1L105.4,314.2L105.8,314.6L106.3,314.5L106.8,314.9L107.3,314.9L107.9,315.3L108.5,315.8L109.2,315.8L109.9,316.0L110.6,316.7L111.1,316.9L112.1,317.0L112.9,317.5L113.4,318.0L114.2,318.5L115.0,318.9L115.7,319.4L116.2,319.7L117.2,320.0L117.8,320.5L118.7,320.9L119.3,321.5L119.8,322.0L120.9,322.2L121.3,322.7L121.9,323.1L122.6,323.5L122.9,324.0L123.2,324.0L123.8,324.7L124.0,324.9L124.5,325.4L124.8,325.6L124.8,325.6L124.8,326.0L125.4,326.3L125.3,326.2L125.2,326.5Z" fill="none" stroke="#111" stroke-width="0.72"/>
<path d="M124.4,326.3L124.4,326.4L124.2,326.3L124.2,326.3L123.8,326.2L123.6,326.4L123.4,326.3L123.1,326.2L122.6,326.1L122.0,325.9L121.8,325.6L121.2,325.6L120.6,325.1L120.1,325.2L119.4,324.7L118.8,324.4L118.2,324.3L117.5,323.7L116.8,323.3L116.0,323.0L115.5,322.8L115.0,322.3L114.0,321.9L113.4,321.6L112.8,321.1L112.2,320.9L111.4,320.3L110.8,319.9L110.3,319.6L109.6,319.0L108.7,318.8L108.4,318.3L107.7,317.9L107.3,317.7L106.6,317.3L106.3,316.9L106.0,316.5L106.0,316.6L105.5,316.1L105.0,316.1L104.9,315.6L104.9,315.4L104.5,315.2L104.5,315.0L104.6,315.0L104.7,314.8L104.7,314.9L104.6,314.8L104.8,314.5L105.3,314.8L105.5,314.7L105.9,314.6L106.1,314.9L106.6,314.8L106.5,315.2L107.4,315.3L107.7,315.5L108.2,315.8L109.1,315.9L109.3,316.2L110.1,316.5L110.9,316.9L111.7,317.2L112.0,317.7L112.8,317.8L113.5,318.3L114.0,318.5L115.0,319.0L115.7,319.5L116.5,319.8L116.9,320.1L117.5,320.5L118.3,321.0L119.0,321.3L119.4,321.9L120.2,322.0L120.6,322.6L121.0,323.1L121.8,323.1L122.0,323.8L122.7,323.9L122.9,324.4L123.3,324.6L123.8,325.0L123.7,325.2L123.9,325.5L124.4,325.7L124.5,326.0L124.5,325.9L124.3,326.1Z" fill="none" stroke="#111" stroke-width="0.72"/>
<path d="M123.5,325.6L123.5,325.6L123.3,325.9L123.3,325.8L123.1,325.6L122.9,325.8L122.6,325.8L122.0,325.9L121.9,325.4L121.5,325.2L121.1,325.3L120.5,325.1L120.2,324.9L119.7,324.6L119.2,324.4L118.6,324.0L118.0,323.7L117.2,323.5L116.6,323.3L116.1,322.8L115.6,322.4L114.8,322.3L114.0,321.7L113.5,321.5L113.0,320.9L112.2,320.9L111.7,320.2L111.0,320.4L110.7,319.4L109.9,319.3L109.4,319.0L109.1,318.5L108.4,318.1L108.0,318.0L107.6,317.4L107.2,317.1L106.9,317.0L106.5,316.6L106.1,316.4L105.9,316.3L105.6,316.0L105.5,315.9L105.2,315.8L105.3,315.3L105.4,315.3L105.4,315.4L105.3,315.1L105.5,315.2L105.6,315.1L106.0,315.3L106.3,315.2L106.1,315.3L106.8,315.2L107.1,315.5L107.5,315.6L107.9,315.9L108.1,316.1L108.8,316.3L109.3,316.2L110.0,316.9L110.2,316.8L111.1,317.1L111.7,317.4L112.2,317.9L112.6,318.1L113.8,318.6L114.0,319.0L115.1,319.4L115.4,319.5L116.0,319.8L116.7,320.2L117.2,320.7L117.9,321.1L118.8,321.5L119.2,321.9L119.7,322.0L120.1,322.5L120.6,322.8L121.1,323.2L121.6,323.5L122.0,323.8L122.2,323.9L122.5,324.3L123.0,324.5L123.2,324.8L123.2,324.9L123.5,325.0L123.5,325.3L123.6,325.6L123.6,325.7Z" fill="none" stroke="#111" stroke-width="0.72"/>
<path d="M122.7,325.3L122.9,325.3L122.7,325.4L122.5,325.4L122.3,325.1L122.0,325.4L121.7,325.4L121.4,325.2L121.3,325.0L121.1,324.7L120.7,324.8L120.1,324.7L119.7,324.2L119.4,324.3L118.7,324.0L118.4,323.9L117.8,323.3L117.1,323.2L116.5,322.7L116.0,322.6L115.5,322.4L114.6,321.9L114.2,321.6L113.7,321.4L113.2,320.9L112.5,320.6L112.0,320.4L111.2,319.7L111.1,319.6L110.4,319.4L109.6,319.1L109.3,318.5L109.1,318.2L108.6,318.2L108.1,317.6L107.9,317.5L107.5,317.0L107.3,317.0L106.6,316.6L106.5,316.4L106.5,316.2L106.5,316.3L106.2,315.9L106.2,315.9L106.3,315.7L106.2,315.6L106.2,315.8L106.5,315.6L106.4,315.5L106.4,315.7L106.9,315.8L107.1,315.8L107.4,316.0L107.8,316.1L108.2,316.1L108.3,316.3L108.9,316.7L109.4,316.5L109.7,316.9L110.3,316.9L110.8,317.4L111.3,317.7L111.9,318.1L112.3,318.3L113.1,318.6L113.6,318.7L114.4,319.1L114.7,319.5L115.5,319.8L115.8,320.2L116.3,320.5L117.2,320.7L117.6,321.1L118.1,321.3L118.6,321.7L119.3,321.9L119.8,322.4L120.0,322.6L120.3,322.8L121.0,323.3L121.1,323.4L121.5,323.7L122.0,323.8L122.0,324.2L122.4,324.5L122.5,324.6L122.7,324.7L122.8,324.8L122.9,325.0L123.0,325.1Z" fill="none" stroke="#111" stroke-width="0.72"/>
<path d="M122.0,324.7L122.1,324.7L122.0,324.9L121.8,324.8L121.7,325.1L121.3,324.8L121.2,324.6L120.8,324.7L120.6,324.3L120.4,324.4L120.1,324.2L119.9,324.0L119.3,323.8L118.8,323.6L118.5,323.5L118.1,323.3L117.2,323.0L116.9,323.0L116.7,322.6L115.9,322.4L115.2,322.0L114.9,321.8L114.3,321.3L113.8,321.2L113.2,320.8L113.0,320.6L112.3,320.1L111.7,319.9L111.2,319.5L110.6,319.3L110.5,319.1L110.0,318.8L109.4,318.4L109.1,318.1L108.8,317.9L108.6,317.6L108.2,317.7L107.7,317.2L107.5,316.9L107.5,316.9L107.2,316.6L107.2,316.6L106.9,316.7L107.0,316.3L106.9,316.2L106.9,316.4L106.8,316.1L107.2,315.9L107.3,316.3L107.4,316.1L107.6,316.1L107.9,316.1L108.1,316.3L108.3,316.3L108.7,316.5L109.1,316.7L109.4,316.7L109.7,317.1L110.2,317.2L110.7,317.5L111.1,318.0L112.0,318.0L111.9,318.1L112.7,318.4L113.1,318.5L113.7,319.1L114.0,319.2L114.6,319.3L115.1,319.8L115.6,320.1L116.3,320.5L116.8,320.7L117.1,321.1L117.7,321.5L118.3,321.6L118.5,322.0L119.0,322.4L119.6,322.4L120.0,323.0L120.3,323.1L120.5,323.2L121.0,323.6L121.1,323.7L121.4,323.9L121.5,324.1L121.7,324.2L121.9,324.4L121.9,324.8L122.0,324.9L121.9,324.8Z" fill="none" stroke="#111" stroke-width="0.72"/>
<path d="M121.2,324.6L121.1,324.6L121.0,324.4L120.9,324.4L120.8,324.2L120.5,324.4L120.6,324.2L120.3,324.1L120.0,324.1L119.8,323.9L119.4,323.9L119.0,323.6L118.7,323.6L118.3,323.5L118.0,323.1L117.6,322.8L116.9,322.8L116.5,322.4L116.4,322.3L115.7,322.0L115.1,321.7L114.8,321.6L114.4,321.3L113.8,321.0L113.5,320.9L113.0,320.5L112.6,320.2L112.0,319.9L111.6,319.6L111.5,319.5L110.7,319.1L110.5,318.9L110.0,318.8L109.6,318.5L109.4,318.1L109.1,317.7L108.9,317.8L108.5,317.6L108.1,317.3L108.0,317.3L108.1,317.1L107.9,316.9L107.9,316.7L107.9,316.9L107.9,316.7L107.9,316.8L107.9,316.7L107.8,316.6L108.2,316.8L107.9,316.7L108.2,316.7L108.4,316.7L108.7,316.9L109.1,316.9L109.4,317.0L109.7,317.3L109.9,317.3L110.1,317.4L110.6,317.6L110.9,317.7L111.4,318.1L112.0,318.4L112.4,318.4L112.8,318.6L113.2,319.2L113.9,319.2L114.3,319.4L114.6,319.5L115.2,320.0L115.7,320.4L116.0,320.7L116.7,321.1L117.0,321.1L117.4,321.4L117.7,321.8L118.3,321.9L118.7,322.2L118.8,322.5L119.2,322.5L119.6,322.8L119.8,323.2L120.2,323.2L120.4,323.4L120.6,323.6L121.2,323.6L121.0,323.8L121.0,323.9L121.2,324.2L121.4,324.3L121.2,324.5Z" fill="none" stroke="#111" stroke-width="0.72"/>
<path d="M120.6,324.1L120.3,324.0L120.4,324.0L120.3,324.0L120.1,324.0L120.1,323.9L119.8,323.8L119.7,323.7L119.5,323.6L119.2,323.4L118.7,323.7L118.6,323.4L117.9,323.1L117.9,322.9L117.6,322.7L117.4,322.7L116.7,322.5L116.5,322.4L116.2,321.9L115.6,321.9L115.1,321.7L114.8,321.4L114.5,321.2L113.9,320.9L113.7,320.6L113.2,320.6L113.0,320.4L112.4,319.9L112.0,319.6L111.6,319.3L111.4,319.2L111.1,319.1L110.8,318.7L110.3,318.5L109.9,318.3L109.7,318.4L109.2,318.1L109.3,317.8L109.1,317.8L109.0,317.9L108.9,317.4L108.7,317.4L108.8,317.4L108.8,317.1L108.5,317.2L108.6,317.2L108.7,317.0L108.3,317.0L108.6,317.2L109.1,317.1L109.3,317.2L109.3,317.2L109.5,317.2L109.6,317.5L110.0,317.3L110.3,317.7L110.4,317.8L110.7,317.9L111.1,318.0L111.4,318.1L111.9,318.3L112.2,318.6L112.5,318.7L113.0,319.1L113.3,319.2L113.7,319.2L114.1,319.7L114.7,319.8L115.1,320.1L115.4,320.5L115.7,320.7L116.0,321.0L116.4,321.1L117.0,321.4L117.6,321.5L117.7,321.6L118.1,322.1L118.5,322.1L118.6,322.5L119.1,322.3L119.1,322.5L119.4,323.0L119.7,323.2L119.9,323.2L119.8,323.4L120.2,323.3L120.2,323.8L120.5,323.7L120.2,323.7L120.3,323.8Z" fill="none" stroke="#111" stroke-width="0.72"/>
<path d="M119.7,323.2L119.3,323.7L119.4,323.6L119.2,323.5L119.2,323.3L119.1,323.4L119.0,323.2L119.0,323.5L118.8,323.2L118.6,323.3L118.2,322.9L118.2,323.0L117.6,322.8L117.5,322.6L117.0,322.3L116.8,322.3L116.7,322.0L116.3,322.0L116.0,322.0L115.5,321.6L115.0,321.3L115.0,321.4L114.5,321.0L114.2,320.8L114.0,320.5L113.2,320.3L112.9,320.2L112.7,319.8L112.4,319.7L112.1,319.5L111.7,319.3L111.6,319.0L111.1,319.0L110.9,319.0L110.6,318.7L110.4,318.4L110.2,318.4L110.0,318.5L109.9,318.2L109.9,318.2L109.4,317.8L109.4,317.7L109.4,317.5L109.5,317.8L109.3,317.7L109.5,317.7L109.3,317.8L109.7,317.5L109.5,317.4L109.7,317.6L109.8,317.6L109.8,317.6L110.0,317.8L110.3,317.9L110.6,318.0L110.8,318.2L111.2,318.1L111.1,318.3L111.6,318.5L111.8,318.4L112.1,318.9L112.4,319.0L112.7,318.9L113.0,319.0L113.4,319.5L113.8,319.5L114.2,319.8L114.6,319.9L114.9,320.3L115.4,320.3L115.6,320.4L115.8,320.9L116.5,321.0L116.6,321.1L116.8,321.3L117.3,321.4L117.5,321.7L117.7,322.0L118.0,322.0L118.3,322.2L118.4,322.4L118.6,322.7L118.9,322.6L119.1,323.0L119.3,323.2L119.3,323.3L119.4,323.2L119.4,323.2L119.8,323.6L119.6,323.5Z" fill="none" stroke="#111" stroke-width="0.72"/>
<line x1="108.58" y1="317.11" x2="119.88" y2="323.58" stroke="#fff" stroke-width="0.7" stroke-opacity="0.7" stroke-linecap="round"/>
<line x1="56.5" y1="246.4" x2="208.3" y2="246.4" stroke="#8a8a8a" stroke-width="1"/>
<line x1="208.3" y1="246.4" x2="208.3" y2="385.2" stroke="#8e8e8e" stroke-width="1"/>
<line x1="56.5" y1="385.2" x2="208.3" y2="385.2" stroke="#e6e6e6" stroke-width="1"/>
<line x1="56.5" y1="246.4" x2="56.5" y2="385.2" stroke="#a0a0a0" stroke-width="1"/>
<line x1="49.5" y1="264.6" x2="56.5" y2="264.6" stroke="#000" stroke-width="1.8"/>
<line x1="49.5" y1="290.85" x2="56.5" y2="290.85" stroke="#000" stroke-width="1.8"/>
<line x1="49.5" y1="317.1" x2="56.5" y2="317.1" stroke="#000" stroke-width="1.8"/>
<line x1="49.5" y1="343.35" x2="56.5" y2="343.35" stroke="#000" stroke-width="1.8"/>
<line x1="49.5" y1="369.6" x2="56.5" y2="369.6" stroke="#000" stroke-width="1.8"/>
<line x1="53.3" y1="251.48" x2="56.5" y2="251.48" stroke="#222" stroke-width="1.1"/>
<line x1="53.3" y1="258.04" x2="56.5" y2="258.04" stroke="#222" stroke-width="1.1"/>
<line x1="53.3" y1="271.16" x2="56.5" y2="271.16" stroke="#222" stroke-width="1.1"/>
<line x1="53.3" y1="277.73" x2="56.5" y2="277.73" stroke="#222" stroke-width="1.1"/>
<line x1="53.3" y1="284.29" x2="56.5" y2="284.29" stroke="#222" stroke-width="1.1"/>
<line x1="53.3" y1="297.41" x2="56.5" y2="297.41" stroke="#222" stroke-width="1.1"/>
<line x1="53.3" y1="303.98" x2="56.5" y2="303.98" stroke="#222" stroke-width="1.1"/>
<line x1="53.3" y1="310.54" x2="56.5" y2="310.54" stroke="#222" stroke-width="1.1"/>
<line x1="53.3" y1="323.66" x2="56.5" y2="323.66" stroke="#222" stroke-width="1.1"/>
<line x1="53.3" y1="330.23" x2="56.5" y2="330.23" stroke="#222" stroke-width="1.1"/>
<line x1="53.3" y1="336.79" x2="56.5" y2="336.79" stroke="#222" stroke-width="1.1"/>
<line x1="53.3" y1="349.91" x2="56.5" y2="349.91" stroke="#222" stroke-width="1.1"/>
<line x1="53.3" y1="356.48" x2="56.5" y2="356.48" stroke="#222" stroke-width="1.1"/>
<line x1="53.3" y1="363.04" x2="56.5" y2="363.04" stroke="#222" stroke-width="1.1"/>
<line x1="53.3" y1="376.16" x2="56.5" y2="376.16" stroke="#222" stroke-width="1.1"/>
<line x1="53.3" y1="382.73" x2="56.5" y2="382.73" stroke="#222" stroke-width="1.1"/>
<line x1="73.5" y1="386" x2="73.5" y2="392.8" stroke="#000" stroke-width="1.9"/>
<line x1="111.35" y1="386" x2="111.35" y2="392.8" stroke="#000" stroke-width="1.9"/>
<line x1="149.2" y1="386" x2="149.2" y2="392.8" stroke="#000" stroke-width="1.9"/>
<line x1="187.05" y1="386" x2="187.05" y2="392.8" stroke="#000" stroke-width="1.9"/>
<line x1="81.07" y1="386" x2="81.07" y2="389.5" stroke="#222" stroke-width="1.15"/>
<line x1="88.64" y1="386" x2="88.64" y2="389.5" stroke="#222" stroke-width="1.15"/>
<line x1="96.21" y1="386" x2="96.21" y2="389.5" stroke="#222" stroke-width="1.15"/>
<line x1="103.78" y1="386" x2="103.78" y2="389.5" stroke="#222" stroke-width="1.15"/>
<line x1="118.92" y1="386" x2="118.92" y2="389.5" stroke="#222" stroke-width="1.15"/>
<line x1="126.49" y1="386" x2="126.49" y2="389.5" stroke="#222" stroke-width="1.15"/>
<line x1="134.06" y1="386" x2="134.06" y2="389.5" stroke="#222" stroke-width="1.15"/>
<line x1="141.63" y1="386" x2="141.63" y2="389.5" stroke="#222" stroke-width="1.15"/>
<line x1="156.77" y1="386" x2="156.77" y2="389.5" stroke="#222" stroke-width="1.15"/>
<line x1="164.34" y1="386" x2="164.34" y2="389.5" stroke="#222" stroke-width="1.15"/>
<line x1="171.91" y1="386" x2="171.91" y2="389.5" stroke="#222" stroke-width="1.15"/>
<line x1="179.48" y1="386" x2="179.48" y2="389.5" stroke="#222" stroke-width="1.15"/>
<line x1="194.62" y1="386" x2="194.62" y2="389.5" stroke="#222" stroke-width="1.15"/>
<line x1="202.19" y1="386" x2="202.19" y2="389.5" stroke="#222" stroke-width="1.15"/>
<text x="44.1" y="270.1" font-family="Liberation Sans, sans-serif" font-size="12" text-anchor="end" font-weight="normal" fill="#000">1.6</text>
<text x="44.1" y="296.35" font-family="Liberation Sans, sans-serif" font-size="12" text-anchor="end" font-weight="normal" fill="#000">1.4</text>
<text x="44.1" y="322.6" font-family="Liberation Sans, sans-serif" font-size="12" text-anchor="end" font-weight="normal" fill="#000">1.2</text>
<text x="44.1" y="348.85" font-family="Liberation Sans, sans-serif" font-size="12" text-anchor="end" font-weight="normal" fill="#000">1.0</text>
<text x="44.1" y="375.1" font-family="Liberation Sans, sans-serif" font-size="12" text-anchor="end" font-weight="normal" fill="#000">0.8</text>
<text x="66" y="404.8" font-family="Liberation Sans, sans-serif" font-size="12" text-anchor="middle" font-weight="normal" fill="#000">-0.1</text>
<text x="148.9" y="404.8" font-family="Liberation Sans, sans-serif" font-size="12" text-anchor="middle" font-weight="normal" fill="#000">0</text>
<text x="131.8" y="419.4" font-family="Liberation Sans, sans-serif" font-size="12" text-anchor="middle" font-weight="normal" fill="#000">Mid-slope shift (%)</text>
<text x="16.2" y="315.6" font-family="Liberation Sans, sans-serif" font-size="11.3" text-anchor="middle" font-weight="normal" fill="#000" transform="rotate(-90 16.2 315.6)">Time ratio</text>
<text x="132.4" y="236.3" font-family="Liberation Sans, sans-serif" font-size="13" text-anchor="middle" font-weight="bold" fill="#000">iBMDCs</text>
<text x="62.4" y="259.5" font-family="Liberation Sans, sans-serif" font-size="11.8" text-anchor="start" font-weight="normal" fill="#000">Total cells 21 308</text>
<path d="M344.3 328.9h1v1h-1zM354.4 339.9h1v1h-1zM340.4 308.3h1v1h-1zM397.2 323.2h1v1h-1zM380.7 348.0h1v1h-1zM367.6 350.5h1v1h-1zM388.1 353.5h1v1h-1zM411.3 345.6h1v1h-1zM388.3 300.8h1v1h-1zM356.3 339.2h1v1h-1zM390.2 323.7h1v1h-1zM374.3 317.2h1v1h-1zM334.5 324.0h1v1h-1zM397.0 344.7h1v1h-1zM409.2 326.4h1v1h-1zM383.3 319.1h1v1h-1zM394.9 346.7h1v1h-1zM348.6 344.7h1v1h-1zM373.4 295.5h1v1h-1zM389.7 322.7h1v1h-1zM341.4 308.6h1v1h-1zM389.8 321.2h1v1h-1zM344.7 302.4h1v1h-1zM352.2 311.4h1v1h-1zM351.5 338.1h1v1h-1zM353.4 352.9h1v1h-1zM371.4 316.8h1v1h-1zM384.0 318.0h1v1h-1zM409.7 365.0h1v1h-1zM357.4 312.9h1v1h-1zM374.3 312.9h1v1h-1zM393.8 348.3h1v1h-1zM377.0 347.5h1v1h-1zM354.8 341.0h1v1h-1zM344.7 335.2h1v1h-1zM379.6 347.4h1v1h-1zM391.7 322.1h1v1h-1zM395.1 347.1h1v1h-1zM366.1 315.2h1v1h-1zM389.9 358.9h1v1h-1zM396.5 330.7h1v1h-1zM398.2 324.8h1v1h-1zM365.0 307.7h1v1h-1zM359.2 303.0h1v1h-1zM352.1 311.8h1v1h-1zM336.0 322.0h1v1h-1zM343.9 328.9h1v1h-1zM384.2 323.4h1v1h-1zM387.4 350.2h1v1h-1zM393.7 325.4h1v1h-1zM369.0 307.3h1v1h-1zM366.5 350.9h1v1h-1zM378.5 318.2h1v1h-1zM377.7 349.3h1v1h-1zM377.8 350.2h1v1h-1zM380.6 321.0h1v1h-1zM322.2 313.8h1v1h-1zM410.7 347.1h1v1h-1zM380.3 348.3h1v1h-1zM374.5 317.5h1v1h-1zM369.9 343.4h1v1h-1zM360.0 311.3h1v1h-1zM379.9 350.6h1v1h-1zM340.7 339.0h1v1h-1zM404.6 346.2h1v1h-1zM366.4 346.3h1v1h-1zM321.9 330.5h1v1h-1zM398.4 350.2h1v1h-1zM382.1 314.2h1v1h-1zM351.7 338.0h1v1h-1zM351.7 349.5h1v1h-1zM344.9 333.8h1v1h-1zM392.9 354.3h1v1h-1zM342.9 335.7h1v1h-1zM382.9 311.1h1v1h-1zM361.6 313.2h1v1h-1zM353.4 306.8h1v1h-1zM377.4 308.7h1v1h-1zM337.6 329.2h1v1h-1zM385.7 324.8h1v1h-1zM343.8 341.5h1v1h-1zM397.3 354.3h1v1h-1zM398.1 343.0h1v1h-1zM360.0 310.7h1v1h-1zM401.1 334.5h1v1h-1zM388.9 327.7h1v1h-1zM333.4 315.3h1v1h-1zM411.1 329.1h1v1h-1zM352.8 337.1h1v1h-1zM339.8 319.4h1v1h-1zM349.1 310.0h1v1h-1zM376.0 347.0h1v1h-1zM374.9 310.8h1v1h-1zM383.4 320.5h1v1h-1zM315.2 305.8h1v1h-1zM412.5 348.9h1v1h-1zM357.4 350.5h1v1h-1zM362.1 349.4h1v1h-1zM358.8 300.4h1v1h-1zM381.6 348.9h1v1h-1zM350.4 309.7h1v1h-1zM366.5 349.9h1v1h-1zM333.1 323.2h1v1h-1zM381.1 352.3h1v1h-1zM397.7 350.7h1v1h-1zM331.6 318.1h1v1h-1zM346.4 330.2h1v1h-1zM343.0 332.4h1v1h-1zM426.2 356.5h1v1h-1zM341.6 328.5h1v1h-1zM379.9 309.3h1v1h-1zM362.7 308.9h1v1h-1zM365.1 348.4h1v1h-1zM338.7 314.0h1v1h-1zM372.2 311.3h1v1h-1zM375.2 348.1h1v1h-1zM329.8 317.3h1v1h-1zM402.8 341.4h1v1h-1zM367.3 314.8h1v1h-1zM374.5 292.9h1v1h-1zM355.1 307.0h1v1h-1zM369.7 349.1h1v1h-1zM326.6 323.4h1v1h-1zM354.1 342.3h1v1h-1zM378.5 312.2h1v1h-1zM342.4 328.7h1v1h-1zM375.5 319.4h1v1h-1zM394.1 330.4h1v1h-1zM345.5 345.1h1v1h-1zM386.6 321.9h1v1h-1zM385.3 307.6h1v1h-1zM343.5 344.9h1v1h-1zM323.7 311.3h1v1h-1zM377.9 349.6h1v1h-1zM368.0 347.0h1v1h-1zM394.5 332.1h1v1h-1zM398.5 339.3h1v1h-1zM341.7 333.8h1v1h-1zM368.6 345.3h1v1h-1zM342.6 309.7h1v1h-1zM356.7 346.7h1v1h-1zM326.0 340.3h1v1h-1zM418.4 337.6h1v1h-1zM335.9 322.7h1v1h-1zM380.5 320.9h1v1h-1zM388.4 349.0h1v1h-1zM371.2 302.1h1v1h-1zM376.0 313.0h1v1h-1zM395.6 328.2h1v1h-1zM356.8 310.8h1v1h-1zM339.0 313.8h1v1h-1zM356.7 344.5h1v1h-1zM362.9 343.3h1v1h-1zM363.7 314.7h1v1h-1zM358.0 342.1h1v1h-1zM396.5 327.3h1v1h-1zM355.5 341.0h1v1h-1zM374.2 356.1h1v1h-1zM402.9 350.6h1v1h-1zM355.6 312.4h1v1h-1zM366.5 344.0h1v1h-1zM330.2 302.0h1v1h-1zM377.9 319.1h1v1h-1zM406.5 342.8h1v1h-1zM321.9 304.6h1v1h-1zM344.8 330.3h1v1h-1zM389.9 354.9h1v1h-1zM341.6 311.9h1v1h-1zM341.7 336.7h1v1h-1zM367.7 313.3h1v1h-1zM337.2 327.4h1v1h-1zM362.8 340.6h1v1h-1zM390.9 319.4h1v1h-1zM415.4 345.9h1v1h-1zM334.1 309.8h1v1h-1zM375.3 319.8h1v1h-1zM393.2 319.1h1v1h-1zM398.8 334.4h1v1h-1zM391.8 317.7h1v1h-1zM347.7 303.2h1v1h-1zM404.5 342.1h1v1h-1zM373.5 345.2h1v1h-1zM364.4 313.3h1v1h-1zM331.8 320.3h1v1h-1zM396.8 329.1h1v1h-1zM371.5 346.0h1v1h-1zM372.5 301.4h1v1h-1zM349.8 340.0h1v1h-1zM340.3 307.4h1v1h-1zM329.6 309.7h1v1h-1zM367.4 349.0h1v1h-1zM378.5 352.8h1v1h-1zM362.9 313.1h1v1h-1zM371.7 316.3h1v1h-1zM387.4 349.0h1v1h-1zM406.4 352.7h1v1h-1zM356.2 344.5h1v1h-1zM387.1 326.5h1v1h-1zM386.7 322.4h1v1h-1zM357.7 339.1h1v1h-1zM367.3 309.2h1v1h-1zM364.1 343.8h1v1h-1zM394.0 331.4h1v1h-1zM379.2 315.9h1v1h-1zM399.8 339.4h1v1h-1zM341.4 334.4h1v1h-1zM352.7 335.4h1v1h-1zM386.5 324.3h1v1h-1zM371.0 314.9h1v1h-1zM378.1 314.5h1v1h-1zM336.7 328.2h1v1h-1zM392.4 358.3h1v1h-1zM366.3 308.9h1v1h-1zM374.1 346.2h1v1h-1zM357.4 340.1h1v1h-1zM367.5 359.2h1v1h-1zM335.6 326.2h1v1h-1zM342.9 304.0h1v1h-1zM322.5 297.2h1v1h-1zM368.1 345.2h1v1h-1zM361.1 346.2h1v1h-1zM363.5 340.9h1v1h-1zM354.1 339.3h1v1h-1zM390.6 317.8h1v1h-1zM371.5 313.7h1v1h-1zM369.9 343.9h1v1h-1zM327.7 350.6h1v1h-1zM369.7 345.0h1v1h-1zM335.2 331.9h1v1h-1zM367.5 315.1h1v1h-1zM374.9 353.5h1v1h-1zM369.0 314.4h1v1h-1zM370.9 345.1h1v1h-1zM355.7 348.3h1v1h-1zM395.9 355.4h1v1h-1zM385.3 351.6h1v1h-1zM345.5 333.0h1v1h-1zM396.1 347.5h1v1h-1zM362.0 309.7h1v1h-1zM325.8 305.3h1v1h-1zM349.5 340.4h1v1h-1zM340.7 344.0h1v1h-1zM363.3 354.4h1v1h-1zM402.0 320.3h1v1h-1zM335.9 299.0h1v1h-1zM378.7 349.9h1v1h-1zM381.5 348.2h1v1h-1zM377.4 315.1h1v1h-1zM324.4 318.1h1v1h-1zM353.2 297.3h1v1h-1zM365.0 312.4h1v1h-1zM363.4 342.6h1v1h-1zM397.9 349.5h1v1h-1zM403.8 324.8h1v1h-1zM387.9 316.9h1v1h-1zM363.2 344.7h1v1h-1zM402.8 339.8h1v1h-1zM354.0 307.4h1v1h-1zM372.7 312.8h1v1h-1zM353.3 335.5h1v1h-1zM364.0 314.0h1v1h-1zM357.8 338.4h1v1h-1zM365.5 314.9h1v1h-1zM364.6 343.9h1v1h-1zM364.2 313.6h1v1h-1zM397.5 325.7h1v1h-1zM341.6 314.8h1v1h-1zM362.9 299.0h1v1h-1zM337.5 317.4h1v1h-1zM355.3 339.9h1v1h-1zM342.9 341.9h1v1h-1zM366.1 313.6h1v1h-1zM362.6 306.6h1v1h-1zM360.8 344.6h1v1h-1zM412.9 344.4h1v1h-1zM357.4 311.6h1v1h-1zM359.2 342.5h1v1h-1zM391.1 357.7h1v1h-1zM395.9 352.0h1v1h-1zM401.6 331.8h1v1h-1zM403.5 322.1h1v1h-1zM370.3 298.8h1v1h-1zM408.9 321.2h1v1h-1zM375.1 315.7h1v1h-1zM325.5 310.1h1v1h-1zM346.3 307.6h1v1h-1zM380.6 348.5h1v1h-1zM337.5 310.6h1v1h-1zM359.5 310.2h1v1h-1zM355.9 303.4h1v1h-1zM367.3 314.5h1v1h-1zM372.1 317.0h1v1h-1zM331.9 315.9h1v1h-1zM368.5 311.3h1v1h-1zM353.7 345.0h1v1h-1zM383.1 316.4h1v1h-1zM339.7 316.2h1v1h-1zM340.2 307.1h1v1h-1zM365.0 343.6h1v1h-1zM355.9 341.9h1v1h-1zM354.2 339.1h1v1h-1zM366.5 344.8h1v1h-1zM348.3 299.0h1v1h-1zM391.9 329.8h1v1h-1zM388.1 353.4h1v1h-1zM370.8 314.5h1v1h-1zM361.2 304.3h1v1h-1zM366.8 351.5h1v1h-1zM393.4 351.9h1v1h-1zM411.6 327.5h1v1h-1zM403.5 330.5h1v1h-1zM405.2 341.4h1v1h-1zM335.1 320.9h1v1h-1zM338.3 306.6h1v1h-1zM348.1 308.3h1v1h-1zM375.0 309.1h1v1h-1zM378.1 310.4h1v1h-1zM387.1 349.7h1v1h-1zM380.9 349.3h1v1h-1zM383.6 320.3h1v1h-1zM350.6 303.2h1v1h-1zM363.4 301.8h1v1h-1zM409.6 334.5h1v1h-1zM387.1 322.2h1v1h-1zM373.6 301.4h1v1h-1zM375.0 293.0h1v1h-1zM359.9 303.0h1v1h-1zM378.6 309.7h1v1h-1zM366.5 298.8h1v1h-1zM373.0 284.9h1v1h-1zM366.4 287.1h1v1h-1zM391.5 298.6h1v1h-1zM374.6 285.8h1v1h-1zM393.3 286.2h1v1h-1zM368.5 289.7h1v1h-1zM371.6 286.6h1v1h-1zM387.4 298.1h1v1h-1zM370.8 285.4h1v1h-1zM378.1 292.5h1v1h-1zM384.5 281.7h1v1h-1zM370.8 268.7h1v1h-1zM368.0 301.6h1v1h-1zM371.9 304.0h1v1h-1zM383.2 284.7h1v1h-1zM378.0 301.7h1v1h-1zM385.7 295.3h1v1h-1zM371.8 276.2h1v1h-1zM369.9 306.7h1v1h-1zM364.0 265.3h1v1h-1zM371.5 290.6h1v1h-1zM368.8 300.7h1v1h-1zM373.1 276.9h1v1h-1zM365.7 312.2h1v1h-1zM367.7 283.7h1v1h-1zM371.3 307.7h1v1h-1zM382.8 288.9h1v1h-1zM371.1 300.3h1v1h-1zM369.0 290.7h1v1h-1zM383.4 322.3h1v1h-1zM386.3 296.8h1v1h-1zM371.5 304.9h1v1h-1zM371.8 301.0h1v1h-1zM357.9 294.1h1v1h-1zM360.2 288.3h1v1h-1zM373.7 297.0h1v1h-1zM386.6 304.6h1v1h-1zM390.7 303.5h1v1h-1zM381.6 298.9h1v1h-1zM369.8 290.1h1v1h-1zM378.8 301.0h1v1h-1zM361.0 279.0h1v1h-1zM373.5 291.6h1v1h-1zM363.6 265.3h1v1h-1zM374.2 283.0h1v1h-1zM387.1 289.9h1v1h-1zM393.8 273.6h1v1h-1zM376.1 277.1h1v1h-1zM377.8 304.2h1v1h-1zM359.3 298.6h1v1h-1zM368.3 306.3h1v1h-1zM387.9 307.4h1v1h-1zM384.7 300.5h1v1h-1zM381.7 302.6h1v1h-1zM378.2 296.1h1v1h-1zM389.0 309.0h1v1h-1zM371.9 272.4h1v1h-1zM372.5 290.0h1v1h-1zM399.5 305.8h1v1h-1zM366.5 303.3h1v1h-1zM378.3 293.2h1v1h-1zM370.9 288.1h1v1h-1zM387.7 303.3h1v1h-1zM371.9 290.2h1v1h-1zM371.1 277.8h1v1h-1zM371.4 307.5h1v1h-1zM381.5 287.4h1v1h-1zM365.2 294.8h1v1h-1zM360.9 271.3h1v1h-1zM373.2 259.0h1v1h-1zM371.0 298.2h1v1h-1zM379.1 313.9h1v1h-1zM371.1 262.7h1v1h-1zM368.8 285.7h1v1h-1zM376.8 299.6h1v1h-1zM378.1 294.8h1v1h-1zM383.4 293.2h1v1h-1zM374.8 292.0h1v1h-1zM357.9 279.8h1v1h-1zM373.8 306.6h1v1h-1zM374.3 304.9h1v1h-1zM373.4 297.1h1v1h-1zM379.0 262.5h1v1h-1zM371.7 314.2h1v1h-1zM384.3 291.6h1v1h-1zM371.6 299.2h1v1h-1zM386.9 317.4h1v1h-1zM364.2 309.4h1v1h-1zM353.0 291.2h1v1h-1zM365.6 306.3h1v1h-1zM399.9 300.2h1v1h-1zM371.9 284.8h1v1h-1zM373.3 294.1h1v1h-1zM376.7 269.4h1v1h-1zM370.4 271.9h1v1h-1zM376.7 294.9h1v1h-1zM375.4 310.8h1v1h-1zM392.9 279.6h1v1h-1zM385.2 308.0h1v1h-1zM376.8 294.4h1v1h-1zM380.7 315.8h1v1h-1zM379.8 287.8h1v1h-1zM384.5 298.3h1v1h-1zM368.7 289.4h1v1h-1zM424.2 351.5h1v1h-1zM388.7 349.2h1v1h-1zM427.0 343.3h1v1h-1zM415.1 346.1h1v1h-1zM429.4 345.3h1v1h-1zM414.4 350.3h1v1h-1zM372.1 358.2h1v1h-1zM379.3 320.3h1v1h-1zM406.6 364.9h1v1h-1zM397.7 353.1h1v1h-1zM435.6 346.0h1v1h-1zM401.5 348.6h1v1h-1zM427.9 347.6h1v1h-1zM416.9 350.6h1v1h-1zM420.8 353.9h1v1h-1zM424.9 338.3h1v1h-1zM402.3 349.8h1v1h-1zM427.3 341.8h1v1h-1zM431.9 345.7h1v1h-1zM417.2 353.6h1v1h-1zM432.7 344.5h1v1h-1zM402.2 347.0h1v1h-1zM416.0 349.1h1v1h-1zM426.9 348.7h1v1h-1zM416.4 335.2h1v1h-1zM440.3 354.1h1v1h-1zM430.8 350.0h1v1h-1zM406.9 365.2h1v1h-1zM405.7 335.3h1v1h-1zM418.6 356.2h1v1h-1zM408.4 341.4h1v1h-1zM413.8 343.2h1v1h-1zM399.0 359.5h1v1h-1zM433.4 347.5h1v1h-1zM422.0 354.4h1v1h-1zM425.0 348.8h1v1h-1zM435.1 340.8h1v1h-1zM421.3 343.1h1v1h-1zM416.3 344.3h1v1h-1zM429.3 365.2h1v1h-1zM428.1 352.3h1v1h-1zM431.1 332.7h1v1h-1zM439.7 366.8h1v1h-1zM401.0 352.4h1v1h-1zM438.7 363.8h1v1h-1zM406.0 348.0h1v1h-1zM439.2 348.4h1v1h-1zM435.3 345.9h1v1h-1zM409.8 346.5h1v1h-1zM424.3 358.2h1v1h-1zM418.0 353.8h1v1h-1zM428.8 359.2h1v1h-1zM438.2 328.5h1v1h-1zM409.0 345.8h1v1h-1zM399.0 347.3h1v1h-1zM409.4 348.4h1v1h-1zM442.1 363.0h1v1h-1zM404.7 357.4h1v1h-1zM418.0 345.2h1v1h-1zM377.2 347.4h1v1h-1zM441.7 351.1h1v1h-1zM399.1 341.9h1v1h-1zM434.5 353.9h1v1h-1zM441.1 355.3h1v1h-1zM398.7 336.0h1v1h-1zM404.2 353.5h1v1h-1zM432.5 346.5h1v1h-1zM443.0 351.3h1v1h-1zM414.6 321.9h1v1h-1zM402.4 344.4h1v1h-1zM428.3 330.9h1v1h-1zM440.3 357.8h1v1h-1zM402.3 337.5h1v1h-1zM407.3 341.3h1v1h-1zM439.9 348.3h1v1h-1zM425.1 335.7h1v1h-1zM406.1 345.4h1v1h-1zM421.6 336.2h1v1h-1zM428.4 346.4h1v1h-1zM436.2 357.2h1v1h-1zM423.4 359.2h1v1h-1zM418.0 359.9h1v1h-1zM430.3 339.8h1v1h-1zM428.0 352.7h1v1h-1zM421.5 361.5h1v1h-1zM421.4 339.3h1v1h-1zM420.3 359.5h1v1h-1zM436.3 348.1h1v1h-1zM417.0 322.6h1v1h-1zM399.5 344.8h1v1h-1zM432.8 366.0h1v1h-1zM412.7 352.6h1v1h-1zM413.8 355.9h1v1h-1zM426.7 351.7h1v1h-1zM417.8 331.5h1v1h-1zM421.7 325.9h1v1h-1zM402.4 334.9h1v1h-1zM442.4 346.7h1v1h-1zM398.6 334.9h1v1h-1zM443.2 343.0h1v1h-1zM397.6 351.0h1v1h-1zM406.1 358.4h1v1h-1zM414.9 330.9h1v1h-1zM436.0 339.6h1v1h-1zM423.4 346.6h1v1h-1zM412.3 344.1h1v1h-1zM401.8 323.1h1v1h-1zM433.0 375.7h1v1h-1zM419.5 353.4h1v1h-1zM426.5 351.2h1v1h-1zM419.1 329.4h1v1h-1zM411.0 348.5h1v1h-1zM432.5 338.1h1v1h-1zM424.2 352.3h1v1h-1zM438.7 352.4h1v1h-1zM423.1 347.9h1v1h-1zM395.5 347.5h1v1h-1zM433.5 343.6h1v1h-1zM420.5 348.7h1v1h-1zM419.0 325.0h1v1h-1zM366.6 346.2h1v1h-1zM405.6 343.3h1v1h-1zM419.5 370.1h1v1h-1zM409.2 346.5h1v1h-1zM427.1 326.6h1v1h-1zM428.0 362.2h1v1h-1zM420.5 340.4h1v1h-1zM405.5 334.7h1v1h-1zM427.2 347.6h1v1h-1zM424.4 359.4h1v1h-1zM413.3 363.9h1v1h-1zM398.7 346.0h1v1h-1zM433.0 350.9h1v1h-1zM416.3 340.5h1v1h-1zM416.9 345.3h1v1h-1zM420.6 346.6h1v1h-1zM429.2 358.0h1v1h-1zM429.5 330.7h1v1h-1zM425.5 352.1h1v1h-1zM406.3 348.5h1v1h-1zM389.7 355.3h1v1h-1zM409.8 342.1h1v1h-1zM443.3 346.9h1v1h-1zM435.5 344.0h1v1h-1zM398.5 337.9h1v1h-1zM422.2 341.2h1v1h-1zM407.1 335.8h1v1h-1zM416.2 340.9h1v1h-1zM401.1 337.1h1v1h-1zM422.7 340.6h1v1h-1zM435.6 336.9h1v1h-1zM393.7 351.9h1v1h-1zM428.3 350.9h1v1h-1zM425.9 347.3h1v1h-1zM434.1 339.0h1v1h-1zM380.3 347.1h1v1h-1zM434.9 346.8h1v1h-1zM400.1 343.1h1v1h-1zM415.1 347.0h1v1h-1zM412.1 344.7h1v1h-1zM401.0 353.2h1v1h-1zM405.8 337.7h1v1h-1zM407.9 339.2h1v1h-1zM422.0 348.5h1v1h-1zM431.9 346.7h1v1h-1zM413.6 351.0h1v1h-1zM431.4 356.8h1v1h-1zM420.1 359.5h1v1h-1zM437.4 358.1h1v1h-1zM421.9 345.7h1v1h-1zM419.0 343.4h1v1h-1zM420.1 357.4h1v1h-1zM425.5 345.6h1v1h-1zM433.9 341.1h1v1h-1zM423.0 337.9h1v1h-1zM427.0 354.7h1v1h-1zM415.5 338.4h1v1h-1zM420.1 322.9h1v1h-1zM407.8 351.7h1v1h-1zM436.9 352.4h1v1h-1zM431.4 355.5h1v1h-1zM439.5 358.7h1v1h-1zM410.7 350.3h1v1h-1zM415.8 350.0h1v1h-1zM438.3 342.4h1v1h-1zM397.5 324.6h1v1h-1zM434.0 331.1h1v1h-1zM424.6 351.1h1v1h-1zM412.5 353.3h1v1h-1zM414.5 346.6h1v1h-1zM405.9 338.1h1v1h-1zM409.6 351.4h1v1h-1zM406.3 344.9h1v1h-1zM399.6 344.3h1v1h-1zM413.2 342.8h1v1h-1zM405.8 334.4h1v1h-1zM432.5 339.6h1v1h-1zM436.1 352.8h1v1h-1zM414.6 361.1h1v1h-1zM411.3 361.8h1v1h-1zM430.1 346.8h1v1h-1zM416.6 350.7h1v1h-1zM399.5 352.5h1v1h-1zM444.8 349.6h1v1h-1zM445.3 338.5h1v1h-1zM444.9 337.0h1v1h-1zM444.9 346.4h1v1h-1zM445.3 348.9h1v1h-1zM445.0 347.2h1v1h-1zM444.2 346.9h1v1h-1zM444.7 350.6h1v1h-1zM445.0 349.0h1v1h-1zM445.2 338.2h1v1h-1zM444.8 349.3h1v1h-1zM445.2 348.1h1v1h-1zM445.3 347.1h1v1h-1zM445.4 345.3h1v1h-1zM346.7 356.0h1v1h-1zM347.4 355.9h1v1h-1zM389.0 359.7h1v1h-1zM363.1 359.5h1v1h-1zM374.8 356.1h1v1h-1zM386.0 360.2h1v1h-1zM340.5 370.8h1v1h-1zM340.4 356.3h1v1h-1zM384.1 351.6h1v1h-1zM363.9 364.6h1v1h-1zM368.2 366.5h1v1h-1zM394.9 357.4h1v1h-1zM369.6 362.9h1v1h-1zM379.6 359.5h1v1h-1zM343.2 354.9h1v1h-1zM405.6 371.6h1v1h-1zM381.7 357.8h1v1h-1zM364.5 369.0h1v1h-1zM394.8 354.9h1v1h-1zM357.6 354.3h1v1h-1zM361.9 352.5h1v1h-1zM352.1 348.0h1v1h-1zM370.1 352.2h1v1h-1zM360.8 363.9h1v1h-1zM362.2 356.9h1v1h-1zM378.9 364.0h1v1h-1zM382.1 358.0h1v1h-1zM381.3 359.8h1v1h-1zM381.0 358.6h1v1h-1zM375.7 359.9h1v1h-1zM359.3 342.9h1v1h-1zM338.4 366.7h1v1h-1zM380.5 358.7h1v1h-1zM348.9 352.4h1v1h-1zM380.3 354.2h1v1h-1zM373.2 355.3h1v1h-1zM373.3 361.0h1v1h-1zM374.2 348.1h1v1h-1zM356.6 347.2h1v1h-1zM379.8 362.5h1v1h-1zM393.5 349.9h1v1h-1zM388.3 357.2h1v1h-1zM394.0 348.3h1v1h-1zM369.1 355.8h1v1h-1zM372.6 352.8h1v1h-1zM407.8 351.2h1v1h-1zM383.2 364.1h1v1h-1zM378.8 357.0h1v1h-1zM392.1 349.7h1v1h-1zM358.4 373.0h1v1h-1zM371.7 349.8h1v1h-1zM382.1 348.2h1v1h-1zM373.0 344.7h1v1h-1zM401.3 367.6h1v1h-1zM382.0 357.8h1v1h-1zM390.0 358.7h1v1h-1zM359.3 364.0h1v1h-1zM375.6 299.8h1v1h-1zM399.4 324.8h1v1h-1zM437.4 366.7h1v1h-1zM403.0 266.6h1v1h-1zM394.3 278.8h1v1h-1zM382.1 307.3h1v1h-1zM295.8 326.7h1v1h-1zM335.6 335.2h1v1h-1zM343.8 352.0h1v1h-1zM370.4 278.2h1v1h-1zM377.4 305.9h1v1h-1zM364.8 350.3h1v1h-1zM385.3 358.7h1v1h-1zM406.8 288.7h1v1h-1zM300.6 292.0h1v1h-1zM411.7 303.9h1v1h-1zM416.5 303.7h1v1h-1zM354.1 287.4h1v1h-1z" fill="#222" fill-opacity="0.8"/>
<path d="M396.9,343.2L396.3,344.3L395.7,345.1L395.0,345.7L394.3,346.3L393.5,346.7L392.6,347.1L391.5,347.4L390.4,347.6L389.3,347.7L388.0,347.7L386.6,347.6L385.2,347.5L383.7,347.2L382.1,346.9L380.4,346.5L378.6,346.0L376.8,345.5L374.9,344.8L372.9,344.1L370.8,343.2L368.5,342.3L366.0,341.1L362.6,339.5L360.1,338.3L357.9,337.1L355.9,336.0L354.0,335.0L352.3,333.9L350.7,332.8L349.2,331.8L347.9,330.8L346.6,329.7L345.5,328.7L344.4,327.7L343.5,326.7L342.7,325.7L342.1,324.7L341.5,323.7L341.1,322.8L340.8,321.8L340.6,320.9L340.5,320.0L340.6,319.1L340.9,318.1L341.3,317.0L341.9,315.9L342.5,315.1L343.2,314.5L343.9,313.9L344.7,313.5L345.6,313.1L346.7,312.8L347.8,312.6L348.9,312.5L350.2,312.5L351.6,312.6L353.0,312.7L354.5,313.0L356.1,313.3L357.8,313.7L359.6,314.2L361.4,314.7L363.3,315.4L365.3,316.1L367.4,317.0L369.7,317.9L372.2,319.1L375.6,320.7L378.1,321.9L380.3,323.1L382.3,324.2L384.2,325.2L385.9,326.3L387.5,327.4L389.0,328.4L390.3,329.4L391.6,330.5L392.7,331.5L393.8,332.5L394.7,333.5L395.5,334.5L396.1,335.5L396.7,336.5L397.1,337.4L397.4,338.4L397.6,339.3L397.7,340.2L397.6,341.1L397.3,342.1Z" fill="none" stroke="#111" stroke-width="0.72"/>
<path d="M394.0,341.9L393.3,343.0L392.9,343.3L392.6,343.8L391.8,344.3L391.3,345.0L390.4,344.9L389.6,345.2L388.5,345.5L387.4,345.4L386.2,345.4L385.2,345.2L383.8,345.1L382.4,344.8L380.9,344.6L379.5,344.5L377.7,343.8L376.4,343.4L374.7,342.5L372.9,342.0L370.9,341.3L368.7,340.5L366.8,339.2L363.7,337.8L361.2,336.7L359.5,335.7L357.5,334.7L355.9,333.9L354.3,332.9L352.9,331.7L351.5,331.0L350.3,330.1L348.9,329.2L348.0,328.1L347.2,327.5L346.3,326.6L345.6,325.6L344.8,325.0L344.1,323.9L344.1,322.9L343.7,322.3L343.7,321.7L343.4,320.6L343.7,320.2L343.7,319.3L344.2,318.4L344.6,317.6L344.9,316.9L345.7,316.2L346.4,315.5L347.2,315.5L347.7,315.2L348.7,315.3L349.9,314.9L350.6,314.7L351.8,314.7L353.0,314.8L354.3,315.0L355.6,315.2L357.4,315.4L358.5,316.0L360.2,316.5L361.9,317.1L363.6,317.4L365.5,318.0L367.2,319.0L369.1,320.0L371.5,321.1L374.4,322.5L376.9,323.5L378.7,324.5L380.5,325.2L382.7,326.5L384.1,327.3L385.4,328.4L386.7,329.2L387.9,329.9L389.1,331.1L390.2,331.9L391.2,332.8L391.7,333.8L392.5,334.4L393.2,335.5L393.8,336.3L394.6,337.2L394.6,337.6L394.7,338.7L394.7,339.3L394.7,340.1L394.4,341.1Z" fill="none" stroke="#111" stroke-width="0.72"/>
<path d="M392.0,340.9L391.4,341.7L391.1,342.2L390.4,342.6L390.0,343.0L389.4,343.3L388.5,343.4L387.7,343.8L387.0,343.8L386.1,343.7L384.9,343.6L383.9,343.7L382.8,343.2L381.6,343.2L380.1,342.8L378.7,342.5L377.4,341.9L375.9,341.6L374.3,341.0L372.8,340.3L371.0,339.9L369.2,338.8L367.1,337.7L364.5,336.6L362.4,335.7L360.5,334.8L358.9,333.7L357.2,332.9L355.6,332.3L354.4,331.2L353.2,330.2L352.2,329.5L351.1,328.8L350.1,328.0L349.4,327.2L348.5,326.5L347.9,325.7L347.0,324.9L346.8,324.2L346.4,323.7L346.1,322.9L345.8,322.0L345.8,321.3L345.9,320.7L346.0,320.0L346.1,319.3L346.6,318.5L347.1,318.0L347.8,317.8L348.3,317.2L349.1,316.8L349.3,316.8L350.4,316.6L351.3,316.3L352.1,316.6L353.3,316.5L354.5,316.5L355.4,316.9L356.5,317.0L357.9,317.3L359.4,317.8L360.6,318.1L362.3,318.6L363.7,319.3L365.5,319.8L367.2,320.3L368.8,321.4L371.0,322.2L373.8,323.5L376.0,324.4L377.7,325.9L379.4,326.2L381.0,327.4L382.5,328.2L383.6,329.1L385.0,329.6L386.1,330.6L387.2,331.4L388.1,332.2L389.0,333.0L389.6,333.8L390.4,334.6L391.1,335.3L391.5,336.2L391.8,336.8L392.0,337.4L392.5,338.1L392.5,338.6L392.2,339.4L392.0,340.4Z" fill="none" stroke="#111" stroke-width="0.72"/>
<path d="M390.3,339.9L389.8,340.7L389.5,341.2L389.1,341.7L388.5,341.7L388.0,342.1L387.4,342.3L386.6,342.4L385.7,342.4L385.0,342.8L384.1,342.4L383.0,342.3L381.7,342.1L381.0,341.8L379.4,341.6L378.5,341.3L377.1,341.1L375.8,340.4L374.2,339.8L372.7,339.3L371.0,338.8L369.4,337.8L367.5,336.7L364.8,335.6L363.1,334.7L361.5,333.9L359.8,333.0L358.5,332.3L357.1,331.5L355.7,330.8L354.8,329.9L353.4,329.3L352.7,328.4L351.6,327.9L350.9,327.2L350.3,326.4L349.5,325.8L349.0,325.0L348.4,324.3L348.4,323.8L347.9,323.3L347.6,322.7L347.5,321.7L347.6,321.3L347.7,320.9L348.3,320.1L348.3,319.5L348.8,319.0L349.1,318.5L349.7,318.2L350.2,317.9L351.1,317.7L351.9,317.7L352.3,317.6L353.4,317.9L354.1,317.8L355.2,317.9L356.3,318.2L357.2,318.1L358.6,318.6L360.0,318.8L361.1,319.6L362.4,319.9L363.9,320.3L365.3,321.1L366.9,321.5L368.7,322.5L370.8,323.3L373.3,324.5L375.3,325.6L376.9,326.1L378.6,327.1L379.7,327.8L381.1,328.9L382.4,329.2L383.6,330.1L384.8,330.9L385.4,331.6L386.4,332.3L387.2,332.8L388.1,333.7L388.6,334.5L389.5,335.0L389.9,335.5L390.1,336.3L390.3,336.9L390.4,337.6L390.6,338.3L390.9,338.7L390.5,339.2Z" fill="none" stroke="#111" stroke-width="0.72"/>
<path d="M388.5,339.6L388.3,339.9L388.1,340.5L387.8,341.0L387.3,340.8L386.8,341.2L386.0,341.3L385.4,341.6L384.7,341.3L384.0,341.2L383.1,341.4L382.0,341.2L381.1,341.3L380.2,340.7L378.9,340.5L377.8,340.1L376.7,339.8L375.5,339.4L374.0,338.9L372.5,338.4L371.2,337.7L369.5,336.9L368.0,336.1L365.4,335.1L363.4,334.2L361.9,333.4L360.5,332.7L359.3,331.8L357.9,331.1L356.7,330.3L355.8,329.8L354.7,328.9L353.6,328.1L353.0,327.8L352.3,327.1L351.4,326.5L350.9,325.9L350.5,325.2L349.9,324.7L349.6,324.0L349.1,323.4L349.2,323.0L349.2,322.4L349.1,322.0L349.2,321.5L349.5,320.9L349.9,320.0L350.0,319.8L350.4,319.3L351.1,319.1L351.5,318.7L352.0,318.8L352.6,318.9L353.7,318.6L354.2,319.0L355.2,318.8L355.9,319.0L357.1,319.3L358.0,319.3L359.2,319.6L360.5,320.1L361.5,320.4L362.8,320.9L364.2,321.2L365.6,321.9L367.2,322.6L368.8,323.2L370.4,324.1L372.9,325.1L374.7,326.1L376.4,326.7L377.5,327.6L378.9,328.4L380.1,329.0L381.2,330.0L382.4,330.4L383.4,331.1L384.5,331.8L385.2,332.6L385.8,333.2L386.9,333.6L387.3,334.2L387.6,334.9L388.3,335.6L388.6,336.0L388.8,336.6L389.0,336.9L389.1,337.7L389.4,338.4L389.0,338.8Z" fill="none" stroke="#111" stroke-width="0.72"/>
<path d="M387.5,338.7L386.9,339.2L386.8,339.6L386.4,339.8L386.0,340.1L385.6,340.3L385.1,340.3L384.5,340.5L383.6,340.5L383.0,340.3L382.3,340.3L381.4,340.1L380.5,340.2L379.4,339.8L378.4,339.6L377.4,339.3L376.2,338.7L374.9,338.4L373.8,338.3L372.6,337.4L370.9,336.9L369.6,336.1L368.0,335.5L365.6,334.2L364.1,333.6L362.6,332.7L361.2,332.3L360.1,331.7L359.0,330.9L357.9,330.2L356.6,329.5L355.9,328.8L354.9,328.1L354.4,327.5L353.4,327.0L353.0,326.6L352.2,326.0L351.7,325.4L351.7,325.0L351.0,324.2L350.7,323.7L350.3,323.4L350.6,322.9L350.6,322.2L350.7,321.9L350.8,321.5L351.2,321.2L351.4,320.5L351.6,320.3L352.1,319.9L352.6,320.0L353.2,319.7L353.8,319.6L354.3,319.9L355.2,320.0L355.8,319.9L356.8,320.3L357.8,320.1L358.8,320.4L359.7,320.7L360.9,321.1L362.0,321.2L363.1,321.8L364.3,322.4L365.7,322.6L367.2,323.3L368.7,324.0L370.5,324.7L372.2,325.6L374.0,326.7L375.8,327.3L376.8,328.1L378.2,328.7L379.4,329.4L380.3,330.1L381.3,330.6L382.3,331.5L383.4,332.1L383.9,332.4L384.7,333.1L385.4,333.6L385.8,334.1L386.5,334.9L386.7,335.4L387.2,335.8L387.4,336.4L387.5,337.0L387.7,337.3L387.7,337.6L387.7,338.2Z" fill="none" stroke="#111" stroke-width="0.72"/>
<path d="M386.3,338.2L386.1,338.7L385.7,339.0L385.5,339.3L385.0,339.5L384.6,339.7L384.1,339.6L383.4,339.6L382.9,339.5L382.3,339.8L381.4,339.5L380.5,339.5L379.9,339.3L379.0,339.0L377.9,338.8L376.9,338.6L375.9,338.1L374.7,337.7L373.7,337.2L372.4,336.7L371.4,336.2L369.8,335.5L368.5,334.8L366.1,333.8L364.5,333.0L363.0,332.3L361.8,331.8L360.9,330.9L359.7,330.6L358.5,329.9L357.7,329.4L356.7,328.7L355.9,328.3L355.1,327.6L354.5,327.1L354.0,326.6L353.1,326.1L353.0,325.7L352.5,325.2L352.1,324.5L351.9,324.1L351.9,323.8L351.6,323.2L351.6,322.9L351.9,322.4L352.0,321.8L352.1,321.7L352.5,321.2L352.8,320.9L353.2,320.8L353.6,320.6L354.0,320.6L354.6,320.5L355.3,320.5L356.0,320.4L356.7,320.6L357.6,320.8L358.4,320.8L359.3,321.1L360.3,321.5L361.5,321.5L362.3,322.0L363.5,322.5L364.6,323.0L365.7,323.3L367.1,323.8L368.7,324.5L370.0,325.3L372.0,326.2L373.7,327.2L375.5,327.7L376.2,328.4L377.6,328.9L378.6,329.8L379.7,330.1L380.5,330.6L381.4,331.3L382.4,331.8L382.8,332.6L383.8,333.0L384.3,333.7L384.9,334.2L385.4,334.5L385.8,335.1L385.9,335.6L386.2,336.0L386.4,336.4L386.4,337.2L386.6,337.6L386.5,337.9Z" fill="none" stroke="#111" stroke-width="0.72"/>
<path d="M385.2,337.9L385.1,338.2L384.7,338.4L384.6,338.4L384.0,338.6L383.5,339.0L383.3,338.9L382.8,338.9L382.0,339.0L381.5,338.9L380.6,338.9L380.2,338.7L379.2,338.4L378.4,338.2L377.5,338.3L376.6,337.7L375.6,337.2L374.6,337.1L373.3,336.6L372.2,336.4L371.1,335.5L369.7,335.1L368.2,334.4L366.4,333.3L364.9,333.0L363.6,332.2L362.3,331.4L361.3,330.8L360.1,330.4L359.3,329.8L358.5,329.3L357.7,328.8L356.8,328.3L356.1,327.7L355.5,327.2L354.9,326.8L354.5,326.1L353.8,325.6L353.8,325.2L353.4,324.8L353.0,324.3L352.9,324.2L352.9,323.7L352.7,323.3L352.7,322.8L353.0,322.4L353.3,322.0L353.6,321.8L353.8,321.7L354.2,321.5L354.3,321.4L354.8,321.1L355.3,321.1L356.0,321.2L356.6,321.2L357.4,321.3L358.3,321.2L359.0,321.6L359.6,321.8L360.9,322.2L361.6,322.5L362.7,322.6L363.6,323.1L364.8,323.6L365.9,324.0L367.1,324.5L368.4,325.2L369.9,325.7L372.0,327.0L373.3,327.6L374.6,328.1L375.9,328.8L377.1,329.2L377.9,330.0L379.0,330.3L379.7,331.1L380.7,331.4L381.4,331.8L382.2,332.8L382.5,333.0L383.1,333.5L383.8,334.1L384.2,334.3L384.5,335.1L384.9,335.3L385.2,335.7L385.3,336.1L385.3,336.3L385.6,337.0L385.4,337.4Z" fill="none" stroke="#111" stroke-width="0.72"/>
<path d="M384.1,337.1L383.9,337.6L383.7,337.7L383.2,338.1L383.1,338.1L382.7,338.2L382.2,338.1L381.8,338.2L381.3,338.2L380.7,338.1L380.1,338.4L379.3,338.0L378.7,337.8L377.8,337.4L376.9,337.5L376.1,337.1L375.4,336.5L374.3,336.5L373.0,335.9L372.2,335.5L370.9,335.1L369.8,334.6L368.4,333.9L366.6,333.3L365.3,332.3L364.1,331.8L363.4,331.0L362.0,330.7L361.2,330.0L360.0,329.7L359.4,329.2L358.6,328.6L357.9,328.1L357.1,327.8L356.4,327.0L355.9,326.7L355.5,326.3L355.1,325.9L354.6,325.7L354.4,325.3L354.2,324.8L354.2,324.2L354.1,324.1L354.0,323.7L354.0,323.4L354.0,323.0L354.5,322.8L354.7,322.4L354.8,322.2L354.9,322.1L355.4,322.1L356.1,322.0L356.3,321.8L357.1,322.0L357.7,321.9L358.3,322.1L358.8,322.3L359.5,322.3L360.6,322.7L361.2,322.9L362.2,323.1L362.7,323.7L363.8,323.8L364.7,323.9L366.1,324.5L367.3,325.1L368.4,325.7L369.9,326.5L371.4,327.1L373.0,327.9L374.1,328.3L375.2,328.6L376.1,329.7L377.1,330.3L378.1,330.6L379.2,331.2L379.7,331.5L380.3,331.8L381.1,332.5L381.6,333.1L382.1,333.2L382.6,333.9L383.1,334.5L383.4,334.8L383.9,335.1L384.0,335.3L384.1,336.1L384.3,336.1L384.1,336.5L384.4,336.7Z" fill="none" stroke="#111" stroke-width="0.72"/>
<path d="M382.9,336.6L382.8,336.8L382.9,337.1L382.2,337.1L382.2,337.2L381.8,337.1L381.3,337.3L380.8,337.3L380.0,337.3L379.6,337.2L378.7,336.9L378.1,336.8L377.3,336.7L376.7,336.6L375.8,336.3L374.4,335.8L374.0,335.5L373.1,335.2L372.1,334.9L371.1,334.4L370.1,334.0L369.0,333.5L368.3,333.1L367.3,332.8L366.3,332.3L365.3,331.7L364.7,331.5L363.6,330.6L362.5,330.3L361.8,329.8L361.0,329.4L360.3,329.0L359.4,328.3L358.7,328.0L358.1,327.4L357.4,327.0L357.0,326.5L356.5,325.9L356.3,325.7L355.9,325.2L355.7,324.8L355.3,324.5L355.1,324.4L355.1,323.9L355.1,323.7L355.2,323.5L355.4,323.1L355.4,323.3L355.9,322.8L356.2,323.0L356.7,322.8L357.0,323.0L357.3,322.8L358.2,322.9L358.8,323.1L359.2,323.2L360.1,323.3L361.0,323.4L361.6,323.7L362.4,323.8L363.1,324.1L364.2,324.5L365.2,324.9L366.1,325.3L367.2,325.5L368.1,325.9L369.3,326.4L369.9,327.0L371.0,327.5L372.1,327.8L373.1,328.3L373.8,328.9L374.4,329.3L375.5,329.9L376.3,330.4L377.1,330.9L378.1,331.3L378.7,331.8L379.4,332.2L380.2,332.8L380.7,333.0L381.1,333.8L381.6,334.0L382.0,334.6L382.3,334.6L382.5,335.3L382.6,335.6L383.0,336.2L383.2,336.2L382.8,336.5Z" fill="none" stroke="#111" stroke-width="0.72"/>
<path d="M381.7,336.0L381.9,336.2L381.6,336.4L381.4,336.5L381.0,336.8L380.8,336.7L380.3,336.7L379.8,336.7L379.3,336.3L378.5,336.4L378.3,336.5L377.4,336.1L376.7,336.0L376.2,335.7L375.1,335.5L374.3,335.5L373.6,335.0L372.8,334.5L371.9,334.4L371.0,334.1L370.1,333.6L369.3,333.2L368.4,332.8L367.5,332.4L366.5,332.0L365.8,331.6L365.0,331.1L363.8,330.8L363.2,330.3L362.5,329.8L361.7,328.9L361.1,328.9L360.4,328.5L359.7,328.0L358.9,327.5L358.6,327.2L358.0,326.5L357.6,326.3L357.3,326.2L357.1,325.5L356.8,325.2L356.6,324.9L356.5,324.7L356.2,324.4L356.4,324.3L356.4,324.2L356.3,324.1L356.7,323.8L356.9,323.6L357.1,323.7L357.5,323.6L357.9,323.6L358.6,323.6L358.7,323.4L359.6,323.6L360.1,323.9L360.8,324.2L361.4,324.2L362.1,324.2L362.9,324.8L363.9,324.8L364.7,325.2L365.5,325.4L366.3,325.9L367.1,326.1L368.0,326.6L369.2,327.2L370.0,327.4L370.9,327.7L371.6,328.4L372.5,328.6L373.4,329.1L374.2,329.5L375.1,330.0L375.7,330.5L376.6,331.1L377.4,331.2L378.0,331.9L378.6,332.4L379.3,332.8L379.6,333.0L380.2,333.6L380.5,334.1L381.1,334.4L381.5,334.7L381.5,335.0L382.0,335.2L381.7,335.6L381.7,335.6L382.0,335.9Z" fill="none" stroke="#111" stroke-width="0.72"/>
<path d="M381.3,335.8L381.0,336.0L380.8,336.1L380.3,336.3L380.3,336.1L379.9,336.2L379.5,336.2L379.1,336.0L378.6,336.0L378.2,336.0L377.5,335.9L376.9,335.7L376.3,335.6L375.5,335.3L374.9,335.0L374.2,334.9L373.5,334.5L372.4,334.1L371.8,333.9L370.8,333.7L370.2,333.5L369.4,332.8L368.6,332.4L367.7,332.2L366.6,331.8L366.0,331.6L365.1,331.0L364.4,330.5L363.5,330.2L363.1,329.8L362.0,329.0L361.5,328.9L361.0,328.4L360.2,328.2L360.0,327.5L359.3,327.2L359.1,326.9L358.6,326.4L358.1,326.2L357.8,325.9L357.5,325.4L357.5,325.2L357.1,324.8L357.2,324.8L357.0,324.5L357.2,324.4L357.1,324.4L357.5,324.2L357.7,324.1L358.1,324.2L358.2,324.2L358.7,324.0L359.0,324.0L359.3,324.0L360.0,324.0L360.5,324.2L361.1,324.5L361.9,324.7L362.7,324.8L363.2,325.1L364.2,325.5L364.8,325.7L365.6,326.0L366.1,326.2L367.0,326.2L368.1,326.8L369.1,327.4L369.9,327.8L370.5,328.1L371.2,328.3L372.3,329.1L373.0,329.2L373.8,329.8L374.7,330.2L375.5,330.7L376.0,330.9L376.9,331.3L377.2,331.7L377.9,332.0L378.5,332.4L379.0,332.8L379.2,333.3L379.8,333.7L380.0,334.0L380.5,334.1L380.8,334.6L380.5,334.9L381.0,335.1L381.0,335.3L381.2,335.6Z" fill="none" stroke="#111" stroke-width="0.72"/>
<path d="M380.3,335.3L380.3,335.5L380.0,335.5L379.7,335.7L379.6,335.7L379.2,335.7L378.9,335.7L378.6,335.7L378.0,335.7L377.5,335.6L377.1,335.6L376.5,335.3L376.0,335.1L375.3,334.9L374.5,334.6L373.9,334.5L373.2,334.1L372.4,334.1L371.7,333.5L371.1,333.2L370.3,333.0L369.2,332.6L368.6,332.2L367.8,332.0L367.1,331.7L366.3,331.1L365.6,330.7L364.8,330.4L364.0,329.8L363.4,329.7L362.9,329.1L362.1,328.9L361.6,328.3L361.1,328.0L360.5,327.6L360.1,327.5L359.6,327.2L359.3,326.8L358.9,326.5L358.5,326.1L358.3,325.9L358.3,325.4L358.1,325.3L358.0,325.0L358.2,324.9L358.2,324.7L358.2,324.9L358.4,324.5L358.3,324.4L358.7,324.3L359.2,324.6L359.5,324.5L359.7,324.6L360.0,324.5L360.7,324.7L361.2,324.7L361.8,325.1L362.4,325.1L363.1,325.4L363.7,325.4L364.1,326.0L365.1,326.0L365.7,326.0L366.7,326.6L367.4,326.9L368.1,327.3L368.7,327.5L369.7,328.1L370.5,328.4L371.1,328.6L372.0,329.1L372.7,329.5L373.2,329.7L374.2,330.2L374.7,330.7L375.9,331.0L376.1,331.4L376.6,331.7L377.4,332.1L377.5,332.7L378.1,332.9L378.7,333.2L379.2,333.4L379.4,333.9L379.4,334.0L379.9,334.6L380.1,334.3L380.3,334.6L380.1,335.0L380.3,335.2Z" fill="none" stroke="#111" stroke-width="0.72"/>
<path d="M379.3,335.2L379.1,335.1L379.3,335.2L378.8,335.4L378.9,335.1L378.4,335.4L378.2,335.1L377.8,335.1L377.3,334.9L377.0,334.9L376.3,334.9L376.0,334.8L375.5,334.6L374.9,334.6L374.2,334.2L373.3,333.9L373.1,333.8L372.0,333.4L371.4,333.2L370.8,332.9L370.1,332.6L369.3,332.3L368.3,331.9L367.9,331.7L367.3,331.4L366.7,331.0L365.8,330.6L365.1,330.2L364.5,329.7L363.9,329.5L363.4,329.0L362.6,328.9L362.1,328.5L361.5,328.3L361.0,327.7L360.6,327.6L360.3,327.0L360.2,326.7L359.7,326.7L359.3,326.3L359.0,325.9L359.3,326.0L359.0,325.5L358.7,325.4L358.9,325.6L358.7,325.1L359.1,325.0L359.1,325.0L359.3,324.9L359.3,325.0L359.5,325.0L360.3,325.1L360.2,324.8L360.5,324.9L361.1,325.0L362.0,325.3L362.3,325.3L362.8,325.6L363.4,325.9L364.1,325.9L364.5,326.4L365.2,326.5L366.0,326.9L366.6,326.8L367.6,327.2L367.8,327.4L368.8,328.0L369.6,328.2L370.2,328.6L371.1,328.8L371.7,329.5L372.3,329.6L373.0,330.0L373.6,330.4L374.4,330.8L374.9,331.2L375.7,331.4L376.0,331.7L376.5,332.0L377.2,332.4L377.4,332.7L377.8,333.1L378.1,333.3L378.6,333.4L378.8,333.9L378.8,333.9L379.2,334.3L379.4,334.6L379.4,334.7L379.4,334.6Z" fill="none" stroke="#111" stroke-width="0.72"/>
<path d="M378.5,334.5L378.6,334.6L378.4,334.8L378.0,334.6L378.1,334.7L377.9,334.8L377.5,334.5L377.4,334.4L376.6,334.7L376.5,334.6L376.0,334.3L375.5,334.5L374.7,334.0L374.4,334.2L373.9,333.7L373.2,333.6L372.4,333.6L371.9,333.1L371.1,332.9L370.7,332.7L370.2,332.3L369.5,332.3L368.6,331.7L368.2,331.3L367.5,331.0L366.9,330.9L366.1,330.3L365.6,330.1L364.8,329.9L364.3,329.6L363.9,329.2L363.3,328.6L362.7,328.6L362.1,328.0L362.0,328.0L361.6,327.7L360.7,327.2L360.7,327.1L360.5,326.8L360.2,326.5L360.1,326.3L359.8,326.3L359.7,326.1L359.5,325.9L359.7,325.6L359.5,325.5L359.8,325.6L360.0,325.7L360.0,325.3L360.2,325.4L360.6,325.4L360.8,325.4L360.9,325.7L361.5,325.5L361.9,325.9L362.3,325.7L362.7,325.8L363.1,326.2L363.8,326.1L364.5,326.3L365.2,326.6L365.6,326.9L366.3,327.0L366.8,327.4L367.3,327.3L368.1,327.9L368.9,328.2L369.6,328.6L370.1,328.7L370.7,329.1L371.3,329.5L372.2,329.7L372.8,330.0L373.3,330.4L373.6,330.7L374.5,331.2L375.1,331.3L375.5,331.5L376.0,332.0L376.5,332.1L376.9,332.6L377.0,332.9L377.7,333.1L377.8,333.2L378.0,333.7L378.2,333.8L378.3,334.2L378.4,334.0L378.6,334.3L378.5,334.4Z" fill="none" stroke="#111" stroke-width="0.72"/>
<path d="M377.6,334.0L377.8,334.1L377.4,334.3L377.5,334.4L377.2,334.3L377.0,334.3L376.7,334.4L376.4,334.4L376.0,334.2L375.7,334.2L375.2,333.9L375.1,333.9L374.4,333.5L373.9,333.7L373.6,333.3L372.9,333.3L372.4,333.0L371.8,332.8L371.1,332.6L370.7,332.2L370.2,332.1L369.4,331.7L368.8,331.5L368.3,331.2L367.6,331.2L367.3,330.7L366.5,330.4L366.0,330.1L365.5,329.5L364.7,329.4L364.1,329.1L363.7,328.7L363.2,328.6L362.8,328.4L362.4,328.1L362.0,327.6L361.8,327.5L361.8,327.4L361.3,327.1L360.9,327.0L360.8,326.8L360.6,326.7L360.6,326.4L360.6,326.2L360.3,326.1L360.6,325.9L360.7,326.1L360.7,325.7L361.1,326.0L361.0,325.8L361.1,325.7L361.4,326.0L361.6,325.9L362.2,326.1L362.5,326.0L363.1,326.3L363.4,326.4L363.7,326.3L364.1,326.8L364.8,326.6L365.2,327.0L365.7,327.2L366.4,327.5L367.1,327.9L367.6,327.9L368.4,328.2L368.8,328.5L369.4,328.7L370.1,329.0L370.6,329.3L371.3,329.4L371.9,330.0L372.2,330.3L372.8,330.6L373.4,330.8L373.8,331.1L374.4,331.4L374.8,331.7L375.6,331.9L375.8,332.1L376.2,332.3L376.6,332.6L376.6,332.8L376.9,333.2L377.2,333.4L377.5,333.4L377.5,333.8L377.8,334.0L377.8,333.9L377.5,334.2Z" fill="none" stroke="#111" stroke-width="0.72"/>
<path d="M376.9,333.7L376.8,333.9L376.7,333.8L376.6,334.0L376.5,333.6L376.3,333.9L376.1,333.6L375.7,333.8L375.4,333.6L375.0,333.6L374.8,333.9L374.4,333.4L374.4,333.3L373.5,333.3L372.9,333.0L372.4,332.9L372.0,332.5L371.5,332.6L371.0,332.2L370.6,332.2L369.7,331.9L369.6,331.6L369.0,331.2L368.4,331.0L367.8,330.7L367.2,330.2L366.8,330.3L366.4,330.2L365.9,329.7L365.3,329.4L365.0,329.1L364.6,328.8L364.0,328.7L363.5,328.3L363.1,328.3L362.8,327.8L362.4,327.8L362.2,327.8L362.3,327.4L361.8,327.3L361.6,327.2L361.6,326.9L361.3,326.8L361.3,326.7L361.3,326.7L361.2,326.3L361.5,326.4L361.3,326.4L361.6,326.0L362.0,326.2L361.9,326.2L362.0,326.2L362.6,326.3L362.8,326.2L363.1,326.5L363.5,326.6L363.8,326.7L364.4,327.0L364.7,327.1L365.1,327.1L365.6,327.5L365.8,327.5L366.7,327.8L367.2,327.9L367.7,328.3L368.4,328.5L368.7,328.7L369.4,328.9L369.9,329.0L370.6,329.5L370.7,329.8L371.6,329.7L372.2,330.2L372.5,330.4L373.0,330.8L373.5,330.9L373.7,331.1L374.5,331.6L374.6,331.8L374.9,332.0L375.4,332.0L375.4,332.3L375.8,332.8L376.2,332.8L376.5,333.1L376.6,333.2L376.7,333.1L377.0,333.6L377.0,333.7L376.9,333.8Z" fill="none" stroke="#111" stroke-width="0.72"/>
<path d="M375.9,333.5L376.1,333.5L375.9,333.5L375.6,333.4L376.0,333.5L375.4,333.5L375.2,333.3L375.1,333.2L374.8,333.3L374.5,333.3L374.1,333.4L373.8,333.3L373.4,332.9L373.0,332.6L372.4,332.9L372.3,332.4L372.0,332.4L371.5,332.1L370.8,332.1L370.3,331.5L370.0,331.5L369.4,331.2L369.0,330.9L368.4,330.8L367.9,330.6L367.3,330.3L367.1,330.1L366.7,330.0L366.0,329.5L365.7,329.4L365.3,329.3L364.8,329.2L364.5,328.6L364.0,328.7L364.1,328.4L363.6,328.1L363.1,327.9L362.8,327.7L363.1,327.5L362.9,327.4L362.3,327.4L362.3,327.3L362.3,326.9L362.1,327.0L362.1,327.1L362.4,326.7L362.2,326.7L362.4,326.9L362.2,326.6L362.7,326.5L362.7,326.8L362.9,327.0L363.3,326.8L363.5,326.8L363.8,327.1L364.0,326.8L364.1,327.2L364.8,327.3L365.1,327.2L365.4,327.6L366.1,327.6L366.7,327.6L366.6,328.0L367.4,328.1L367.6,328.3L368.3,328.8L368.9,328.8L369.2,329.0L369.9,329.3L370.3,329.6L370.4,329.9L371.3,329.9L371.7,330.3L372.2,330.6L372.4,330.8L372.9,331.0L373.2,331.4L373.7,331.5L373.9,331.7L374.3,331.7L374.7,332.1L375.1,332.3L375.4,332.3L375.7,332.8L375.7,332.8L375.6,332.9L375.7,333.0L376.0,333.2L376.2,333.0L375.8,333.2Z" fill="none" stroke="#111" stroke-width="0.72"/>
<path d="M375.2,332.8L375.2,333.0L375.2,333.0L375.0,333.6L374.8,333.2L374.8,332.8L374.4,332.8L374.4,332.9L374.1,332.9L374.0,332.8L373.5,332.8L373.2,332.6L373.0,332.6L372.7,332.2L372.0,332.3L372.1,332.1L371.5,332.0L371.1,332.0L370.8,331.4L370.3,331.5L369.8,331.4L369.3,331.1L369.0,330.8L368.7,330.7L368.2,330.6L367.9,330.2L367.5,330.3L366.9,329.9L366.7,329.6L366.2,329.4L366.0,329.4L365.4,329.0L365.1,328.8L364.6,328.6L364.5,328.4L364.1,328.2L364.1,328.1L363.8,328.0L363.6,327.8L363.6,327.4L363.4,327.5L363.2,327.5L363.3,327.5L363.0,327.3L362.9,327.2L363.0,327.1L362.9,327.1L363.0,327.1L363.2,327.0L363.4,327.2L363.3,327.1L363.5,327.1L363.9,327.2L364.0,327.3L364.4,327.5L364.5,327.5L364.8,327.2L365.0,327.6L365.7,327.9L366.0,328.0L366.0,328.0L366.6,328.2L367.2,328.5L367.7,328.6L367.8,328.8L368.4,329.1L368.7,329.4L369.4,329.5L369.5,329.5L369.9,329.9L370.6,329.8L371.1,330.2L371.3,330.4L371.8,330.5L372.0,330.9L372.2,330.9L372.8,331.4L373.2,331.3L373.6,331.4L373.7,331.6L374.1,331.9L374.0,331.9L374.4,332.3L374.8,332.3L375.0,332.4L374.8,332.5L375.0,332.6L375.1,332.9L375.1,332.9L375.3,333.1Z" fill="none" stroke="#111" stroke-width="0.72"/>
<path d="M374.5,332.7L374.4,332.6L374.3,332.6L374.5,332.5L374.1,332.6L374.0,332.8L373.7,332.2L373.5,332.5L373.3,332.5L373.1,332.6L372.8,332.3L373.0,332.3L372.4,332.3L372.0,332.1L371.8,331.9L371.6,331.7L371.0,331.6L371.1,331.3L370.5,331.4L370.3,331.0L369.7,330.9L369.1,330.7L369.1,330.7L368.6,330.3L368.3,330.5L367.9,330.2L367.5,330.0L367.2,329.7L366.8,329.7L366.5,329.7L366.2,329.2L365.9,329.1L365.5,329.0L365.4,328.7L365.3,328.6L364.9,328.4L364.8,328.2L364.4,328.4L364.4,328.4L364.1,328.0L364.1,327.9L363.9,327.7L364.0,327.7L364.1,327.8L363.7,327.6L363.8,327.6L363.7,327.7L363.9,327.6L363.9,327.5L364.2,327.7L364.2,327.7L364.4,327.4L364.5,327.6L364.9,327.8L364.8,327.9L365.2,327.9L365.6,328.1L365.8,328.3L366.1,328.2L366.1,328.1L366.6,328.5L367.1,328.5L367.3,328.7L367.7,329.0L368.2,329.0L368.5,329.3L368.7,329.5L369.4,329.5L369.4,329.8L369.9,329.8L370.3,330.2L370.6,330.5L370.8,330.2L371.2,330.5L371.7,330.6L372.0,330.8L371.9,331.1L372.5,331.2L372.8,331.4L373.0,331.4L373.2,331.6L373.5,331.8L373.6,331.7L373.7,332.1L373.9,332.2L374.2,332.1L374.2,332.1L374.3,332.5L374.6,332.5L374.2,332.6Z" fill="none" stroke="#111" stroke-width="0.72"/>
<line x1="362.99" y1="327.21" x2="374.65" y2="332.72" stroke="#fff" stroke-width="0.7" stroke-opacity="0.7" stroke-linecap="round"/>
<line x1="294.4" y1="246.4" x2="446.2" y2="246.4" stroke="#8a8a8a" stroke-width="1"/>
<line x1="446.2" y1="246.4" x2="446.2" y2="385.2" stroke="#8e8e8e" stroke-width="1"/>
<line x1="294.4" y1="385.2" x2="446.2" y2="385.2" stroke="#e6e6e6" stroke-width="1"/>
<line x1="294.4" y1="246.4" x2="294.4" y2="385.2" stroke="#a0a0a0" stroke-width="1"/>
<line x1="287.4" y1="264.6" x2="294.4" y2="264.6" stroke="#000" stroke-width="1.8"/>
<line x1="287.4" y1="290.85" x2="294.4" y2="290.85" stroke="#000" stroke-width="1.8"/>
<line x1="287.4" y1="317.1" x2="294.4" y2="317.1" stroke="#000" stroke-width="1.8"/>
<line x1="287.4" y1="343.35" x2="294.4" y2="343.35" stroke="#000" stroke-width="1.8"/>
<line x1="287.4" y1="369.6" x2="294.4" y2="369.6" stroke="#000" stroke-width="1.8"/>
<line x1="291.2" y1="251.48" x2="294.4" y2="251.48" stroke="#222" stroke-width="1.1"/>
<line x1="291.2" y1="258.04" x2="294.4" y2="258.04" stroke="#222" stroke-width="1.1"/>
<line x1="291.2" y1="271.16" x2="294.4" y2="271.16" stroke="#222" stroke-width="1.1"/>
<line x1="291.2" y1="277.73" x2="294.4" y2="277.73" stroke="#222" stroke-width="1.1"/>
<line x1="291.2" y1="284.29" x2="294.4" y2="284.29" stroke="#222" stroke-width="1.1"/>
<line x1="291.2" y1="297.41" x2="294.4" y2="297.41" stroke="#222" stroke-width="1.1"/>
<line x1="291.2" y1="303.98" x2="294.4" y2="303.98" stroke="#222" stroke-width="1.1"/>
<line x1="291.2" y1="310.54" x2="294.4" y2="310.54" stroke="#222" stroke-width="1.1"/>
<line x1="291.2" y1="323.66" x2="294.4" y2="323.66" stroke="#222" stroke-width="1.1"/>
<line x1="291.2" y1="330.23" x2="294.4" y2="330.23" stroke="#222" stroke-width="1.1"/>
<line x1="291.2" y1="336.79" x2="294.4" y2="336.79" stroke="#222" stroke-width="1.1"/>
<line x1="291.2" y1="349.91" x2="294.4" y2="349.91" stroke="#222" stroke-width="1.1"/>
<line x1="291.2" y1="356.48" x2="294.4" y2="356.48" stroke="#222" stroke-width="1.1"/>
<line x1="291.2" y1="363.04" x2="294.4" y2="363.04" stroke="#222" stroke-width="1.1"/>
<line x1="291.2" y1="376.16" x2="294.4" y2="376.16" stroke="#222" stroke-width="1.1"/>
<line x1="291.2" y1="382.73" x2="294.4" y2="382.73" stroke="#222" stroke-width="1.1"/>
<line x1="311.4" y1="386" x2="311.4" y2="392.8" stroke="#000" stroke-width="1.9"/>
<line x1="349.25" y1="386" x2="349.25" y2="392.8" stroke="#000" stroke-width="1.9"/>
<line x1="387.1" y1="386" x2="387.1" y2="392.8" stroke="#000" stroke-width="1.9"/>
<line x1="424.95" y1="386" x2="424.95" y2="392.8" stroke="#000" stroke-width="1.9"/>
<line x1="318.97" y1="386" x2="318.97" y2="389.5" stroke="#222" stroke-width="1.15"/>
<line x1="326.54" y1="386" x2="326.54" y2="389.5" stroke="#222" stroke-width="1.15"/>
<line x1="334.11" y1="386" x2="334.11" y2="389.5" stroke="#222" stroke-width="1.15"/>
<line x1="341.68" y1="386" x2="341.68" y2="389.5" stroke="#222" stroke-width="1.15"/>
<line x1="356.82" y1="386" x2="356.82" y2="389.5" stroke="#222" stroke-width="1.15"/>
<line x1="364.39" y1="386" x2="364.39" y2="389.5" stroke="#222" stroke-width="1.15"/>
<line x1="371.96" y1="386" x2="371.96" y2="389.5" stroke="#222" stroke-width="1.15"/>
<line x1="379.53" y1="386" x2="379.53" y2="389.5" stroke="#222" stroke-width="1.15"/>
<line x1="394.67" y1="386" x2="394.67" y2="389.5" stroke="#222" stroke-width="1.15"/>
<line x1="402.24" y1="386" x2="402.24" y2="389.5" stroke="#222" stroke-width="1.15"/>
<line x1="409.81" y1="386" x2="409.81" y2="389.5" stroke="#222" stroke-width="1.15"/>
<line x1="417.38" y1="386" x2="417.38" y2="389.5" stroke="#222" stroke-width="1.15"/>
<line x1="432.52" y1="386" x2="432.52" y2="389.5" stroke="#222" stroke-width="1.15"/>
<line x1="440.09" y1="386" x2="440.09" y2="389.5" stroke="#222" stroke-width="1.15"/>
<text x="282" y="270.1" font-family="Liberation Sans, sans-serif" font-size="12" text-anchor="end" font-weight="normal" fill="#000">1.6</text>
<text x="282" y="296.35" font-family="Liberation Sans, sans-serif" font-size="12" text-anchor="end" font-weight="normal" fill="#000">1.4</text>
<text x="282" y="322.6" font-family="Liberation Sans, sans-serif" font-size="12" text-anchor="end" font-weight="normal" fill="#000">1.2</text>
<text x="282" y="348.85" font-family="Liberation Sans, sans-serif" font-size="12" text-anchor="end" font-weight="normal" fill="#000">1.0</text>
<text x="282" y="375.1" font-family="Liberation Sans, sans-serif" font-size="12" text-anchor="end" font-weight="normal" fill="#000">0.8</text>
<text x="303.9" y="404.8" font-family="Liberation Sans, sans-serif" font-size="12" text-anchor="middle" font-weight="normal" fill="#000">-0.1</text>
<text x="386.8" y="404.8" font-family="Liberation Sans, sans-serif" font-size="12" text-anchor="middle" font-weight="normal" fill="#000">0</text>
<text x="369.7" y="419.4" font-family="Liberation Sans, sans-serif" font-size="12" text-anchor="middle" font-weight="normal" fill="#000">Mid-slope shift (%)</text>
<text x="254.1" y="315.6" font-family="Liberation Sans, sans-serif" font-size="11.3" text-anchor="middle" font-weight="normal" fill="#000" transform="rotate(-90 254.1 315.6)">Time ratio</text>
<text x="370.3" y="236.3" font-family="Liberation Sans, sans-serif" font-size="13" text-anchor="middle" font-weight="bold" fill="#000">mBMDCs</text>
<text x="303.5" y="259.5" font-family="Liberation Sans, sans-serif" font-size="11.8" text-anchor="start" font-weight="normal" fill="#000">Total cells 28 586</text>
<path d="M572.4 330.0h1v1h-1zM606.3 319.3h1v1h-1zM567.9 325.3h1v1h-1zM627.5 338.0h1v1h-1zM599.8 346.2h1v1h-1zM615.0 320.9h1v1h-1zM548.8 305.5h1v1h-1zM584.8 337.0h1v1h-1zM624.7 326.0h1v1h-1zM574.1 333.6h1v1h-1zM579.9 310.1h1v1h-1zM606.1 304.4h1v1h-1zM610.0 316.7h1v1h-1zM607.6 312.6h1v1h-1zM619.3 347.0h1v1h-1zM566.8 309.1h1v1h-1zM558.4 314.2h1v1h-1zM627.3 332.4h1v1h-1zM582.7 335.0h1v1h-1zM626.3 348.4h1v1h-1zM630.3 334.0h1v1h-1zM587.8 312.0h1v1h-1zM625.4 330.7h1v1h-1zM628.3 338.9h1v1h-1zM587.1 337.3h1v1h-1zM610.3 319.3h1v1h-1zM603.9 318.4h1v1h-1zM607.2 321.0h1v1h-1zM603.6 312.7h1v1h-1zM602.9 318.8h1v1h-1zM616.9 320.4h1v1h-1zM612.6 321.0h1v1h-1zM608.2 347.8h1v1h-1zM582.2 309.2h1v1h-1zM645.5 345.4h1v1h-1zM597.1 312.7h1v1h-1zM581.4 330.9h1v1h-1zM564.9 320.7h1v1h-1zM592.5 341.2h1v1h-1zM596.8 314.5h1v1h-1zM624.3 331.2h1v1h-1zM583.5 337.1h1v1h-1zM611.4 349.8h1v1h-1zM565.1 327.8h1v1h-1zM577.2 337.4h1v1h-1zM575.0 329.8h1v1h-1zM629.0 328.1h1v1h-1zM613.4 316.9h1v1h-1zM614.3 314.4h1v1h-1zM607.7 316.3h1v1h-1zM611.6 321.6h1v1h-1zM583.0 333.4h1v1h-1zM597.4 308.8h1v1h-1zM600.2 312.6h1v1h-1zM600.6 310.3h1v1h-1zM594.1 313.9h1v1h-1zM568.1 300.4h1v1h-1zM571.9 335.3h1v1h-1zM607.2 319.9h1v1h-1zM576.3 303.1h1v1h-1zM607.4 318.9h1v1h-1zM612.8 361.5h1v1h-1zM588.5 335.6h1v1h-1zM605.5 356.4h1v1h-1zM595.2 312.9h1v1h-1zM602.2 315.1h1v1h-1zM619.0 352.1h1v1h-1zM582.9 331.9h1v1h-1zM633.1 343.4h1v1h-1zM601.8 317.7h1v1h-1zM574.6 310.1h1v1h-1zM549.8 300.6h1v1h-1zM601.8 343.7h1v1h-1zM608.4 319.0h1v1h-1zM570.3 308.6h1v1h-1zM575.9 335.4h1v1h-1zM589.4 298.2h1v1h-1zM616.0 314.0h1v1h-1zM620.1 327.2h1v1h-1zM616.2 321.8h1v1h-1zM586.3 310.3h1v1h-1zM600.2 316.7h1v1h-1zM632.2 339.4h1v1h-1zM586.7 312.2h1v1h-1zM621.5 321.7h1v1h-1zM569.6 325.5h1v1h-1zM598.6 351.2h1v1h-1zM614.4 352.5h1v1h-1zM626.5 339.1h1v1h-1zM582.9 309.1h1v1h-1zM574.9 341.3h1v1h-1zM614.7 348.0h1v1h-1zM604.7 348.9h1v1h-1zM597.7 314.1h1v1h-1zM622.9 323.2h1v1h-1zM631.7 323.7h1v1h-1zM611.5 316.5h1v1h-1zM622.5 323.5h1v1h-1zM627.5 339.6h1v1h-1zM629.9 316.0h1v1h-1zM585.5 308.0h1v1h-1zM570.9 298.0h1v1h-1zM591.5 336.8h1v1h-1zM587.2 357.8h1v1h-1zM623.2 332.7h1v1h-1zM619.7 315.4h1v1h-1zM593.3 337.6h1v1h-1zM581.6 331.5h1v1h-1zM613.7 325.0h1v1h-1zM624.4 354.3h1v1h-1zM553.0 318.6h1v1h-1zM583.7 310.7h1v1h-1zM597.7 316.0h1v1h-1zM580.4 336.7h1v1h-1zM612.7 316.7h1v1h-1zM583.9 297.2h1v1h-1zM592.3 311.1h1v1h-1zM600.0 343.2h1v1h-1zM595.9 344.3h1v1h-1zM608.7 348.3h1v1h-1zM619.9 319.6h1v1h-1zM576.3 307.3h1v1h-1zM598.4 340.4h1v1h-1zM606.3 348.5h1v1h-1zM612.1 354.0h1v1h-1zM630.5 348.6h1v1h-1zM582.9 343.3h1v1h-1zM596.7 338.7h1v1h-1zM623.9 350.0h1v1h-1zM583.1 339.6h1v1h-1zM631.7 329.7h1v1h-1zM585.4 334.6h1v1h-1zM595.8 343.1h1v1h-1zM617.4 327.5h1v1h-1zM581.7 305.6h1v1h-1zM622.7 319.6h1v1h-1zM603.2 350.4h1v1h-1zM626.3 312.9h1v1h-1zM604.6 313.8h1v1h-1zM588.0 339.7h1v1h-1zM561.0 308.6h1v1h-1zM587.8 338.0h1v1h-1zM587.7 334.7h1v1h-1zM583.6 333.2h1v1h-1zM619.6 326.8h1v1h-1zM596.9 316.0h1v1h-1zM592.7 308.1h1v1h-1zM590.9 309.6h1v1h-1zM589.3 337.5h1v1h-1zM612.4 353.1h1v1h-1zM620.5 346.4h1v1h-1zM605.9 343.2h1v1h-1zM592.9 338.6h1v1h-1zM619.2 328.6h1v1h-1zM575.9 333.9h1v1h-1zM620.2 319.4h1v1h-1zM596.1 343.5h1v1h-1zM608.7 358.0h1v1h-1zM590.1 310.2h1v1h-1zM566.7 319.3h1v1h-1zM604.4 318.5h1v1h-1zM574.2 333.1h1v1h-1zM556.5 307.3h1v1h-1zM613.2 345.4h1v1h-1zM622.2 352.4h1v1h-1zM590.8 347.3h1v1h-1zM610.5 321.7h1v1h-1zM570.1 314.7h1v1h-1zM623.7 355.1h1v1h-1zM576.3 338.8h1v1h-1zM623.3 345.5h1v1h-1zM620.5 345.5h1v1h-1zM583.2 333.5h1v1h-1zM604.9 319.0h1v1h-1zM566.7 308.9h1v1h-1zM590.9 309.8h1v1h-1zM627.6 335.8h1v1h-1zM568.4 300.9h1v1h-1zM570.5 309.9h1v1h-1zM614.2 319.3h1v1h-1zM605.1 317.4h1v1h-1zM631.6 339.0h1v1h-1zM576.0 332.5h1v1h-1zM594.9 313.2h1v1h-1zM560.3 324.2h1v1h-1zM628.6 327.6h1v1h-1zM598.8 350.5h1v1h-1zM571.3 310.8h1v1h-1zM629.3 363.7h1v1h-1zM561.6 316.5h1v1h-1zM601.9 357.7h1v1h-1zM611.4 317.2h1v1h-1zM615.6 322.2h1v1h-1zM600.2 314.9h1v1h-1zM623.7 319.9h1v1h-1zM582.4 337.5h1v1h-1zM607.0 317.6h1v1h-1zM622.7 316.5h1v1h-1zM582.9 333.6h1v1h-1zM598.8 341.1h1v1h-1zM600.0 340.8h1v1h-1zM572.7 306.6h1v1h-1zM636.4 341.5h1v1h-1zM560.3 317.0h1v1h-1zM570.3 330.9h1v1h-1zM606.9 350.4h1v1h-1zM605.0 357.8h1v1h-1zM581.1 335.1h1v1h-1zM618.7 309.2h1v1h-1zM616.5 317.9h1v1h-1zM572.8 323.8h1v1h-1zM547.2 329.6h1v1h-1zM603.6 347.5h1v1h-1zM620.9 329.1h1v1h-1zM629.7 328.5h1v1h-1zM619.8 328.6h1v1h-1zM590.3 339.4h1v1h-1zM626.9 336.8h1v1h-1zM617.4 347.4h1v1h-1zM598.2 305.1h1v1h-1zM603.2 346.2h1v1h-1zM603.8 345.1h1v1h-1zM605.0 316.0h1v1h-1zM621.9 316.0h1v1h-1zM556.6 312.4h1v1h-1zM594.2 339.2h1v1h-1zM569.1 319.0h1v1h-1zM601.1 349.6h1v1h-1zM560.7 320.7h1v1h-1zM612.2 321.1h1v1h-1zM571.7 292.4h1v1h-1zM633.4 321.9h1v1h-1zM607.0 305.0h1v1h-1zM620.0 329.5h1v1h-1zM555.2 308.5h1v1h-1zM566.1 316.9h1v1h-1zM589.7 346.5h1v1h-1zM640.8 352.2h1v1h-1zM623.5 352.4h1v1h-1zM618.5 310.9h1v1h-1zM618.7 354.7h1v1h-1zM560.8 328.2h1v1h-1zM616.2 357.0h1v1h-1zM616.1 346.4h1v1h-1zM602.3 316.6h1v1h-1zM648.3 351.2h1v1h-1zM627.9 334.7h1v1h-1zM590.7 343.3h1v1h-1zM577.1 304.3h1v1h-1zM594.1 338.6h1v1h-1zM614.7 349.3h1v1h-1zM617.3 322.9h1v1h-1zM618.5 354.6h1v1h-1zM593.3 346.9h1v1h-1zM591.5 338.1h1v1h-1zM565.7 312.2h1v1h-1zM572.2 311.3h1v1h-1zM603.8 357.6h1v1h-1zM618.9 357.4h1v1h-1zM569.2 313.8h1v1h-1zM623.5 332.8h1v1h-1zM576.7 332.3h1v1h-1zM612.6 321.7h1v1h-1zM571.4 320.5h1v1h-1zM633.6 341.9h1v1h-1zM592.4 307.0h1v1h-1zM583.9 299.5h1v1h-1zM601.5 347.8h1v1h-1zM626.7 330.3h1v1h-1zM629.3 337.0h1v1h-1zM623.9 332.6h1v1h-1zM548.3 300.7h1v1h-1zM592.2 312.2h1v1h-1zM627.3 333.7h1v1h-1zM580.4 308.1h1v1h-1zM572.6 312.1h1v1h-1zM547.9 309.4h1v1h-1zM573.3 328.4h1v1h-1zM586.7 308.1h1v1h-1zM587.9 310.1h1v1h-1zM572.5 325.3h1v1h-1zM593.2 313.4h1v1h-1zM608.2 320.3h1v1h-1zM575.7 310.7h1v1h-1zM576.8 327.1h1v1h-1zM588.4 310.1h1v1h-1zM625.5 342.5h1v1h-1zM634.1 356.9h1v1h-1zM620.3 328.7h1v1h-1zM629.2 357.7h1v1h-1zM629.0 352.6h1v1h-1zM604.1 348.5h1v1h-1zM586.4 335.3h1v1h-1zM577.1 331.4h1v1h-1zM609.1 305.1h1v1h-1zM613.7 319.3h1v1h-1zM628.9 339.7h1v1h-1zM627.6 348.7h1v1h-1zM592.0 344.4h1v1h-1zM569.2 320.4h1v1h-1zM612.1 364.1h1v1h-1zM625.3 349.4h1v1h-1zM601.9 343.4h1v1h-1zM564.0 320.5h1v1h-1zM590.4 311.8h1v1h-1zM616.4 347.1h1v1h-1zM609.3 317.7h1v1h-1zM585.7 334.6h1v1h-1zM621.2 345.3h1v1h-1zM570.1 317.0h1v1h-1zM601.4 316.5h1v1h-1zM592.0 307.9h1v1h-1zM628.3 329.9h1v1h-1zM587.0 338.1h1v1h-1zM596.6 348.1h1v1h-1zM591.2 338.1h1v1h-1zM564.5 310.8h1v1h-1zM585.5 338.7h1v1h-1zM626.7 338.8h1v1h-1zM580.3 305.8h1v1h-1zM624.4 349.4h1v1h-1zM565.8 347.1h1v1h-1zM598.4 316.3h1v1h-1zM603.5 272.3h1v1h-1zM603.1 280.6h1v1h-1zM598.8 308.9h1v1h-1zM593.1 276.8h1v1h-1zM588.1 265.0h1v1h-1zM584.9 269.0h1v1h-1zM594.8 273.6h1v1h-1zM604.4 278.2h1v1h-1zM598.6 282.3h1v1h-1zM606.4 277.6h1v1h-1zM590.3 255.2h1v1h-1zM588.7 300.7h1v1h-1zM590.2 274.8h1v1h-1zM592.9 274.9h1v1h-1zM597.9 277.8h1v1h-1zM588.0 290.5h1v1h-1zM584.8 287.9h1v1h-1zM602.3 292.7h1v1h-1zM600.8 281.1h1v1h-1zM602.6 286.8h1v1h-1zM605.0 270.3h1v1h-1zM599.0 270.5h1v1h-1zM613.7 277.1h1v1h-1zM596.8 279.4h1v1h-1zM598.1 261.2h1v1h-1zM609.7 268.4h1v1h-1zM601.9 303.7h1v1h-1zM597.2 302.7h1v1h-1zM598.4 309.4h1v1h-1zM588.6 302.5h1v1h-1zM604.2 298.7h1v1h-1zM596.7 310.9h1v1h-1zM602.3 295.2h1v1h-1zM609.8 281.2h1v1h-1zM605.1 281.7h1v1h-1zM600.8 290.7h1v1h-1zM601.9 292.2h1v1h-1zM599.7 283.9h1v1h-1zM612.9 281.2h1v1h-1zM582.5 285.4h1v1h-1zM594.7 274.5h1v1h-1zM602.2 293.6h1v1h-1zM597.0 257.2h1v1h-1zM599.4 298.9h1v1h-1zM615.0 274.3h1v1h-1zM601.0 283.0h1v1h-1zM605.9 286.4h1v1h-1zM595.2 299.2h1v1h-1zM592.8 285.7h1v1h-1zM590.0 290.4h1v1h-1zM610.8 284.4h1v1h-1zM594.6 285.7h1v1h-1zM618.2 273.4h1v1h-1zM601.9 267.4h1v1h-1zM599.0 286.5h1v1h-1zM596.7 279.8h1v1h-1zM588.9 288.9h1v1h-1zM601.9 292.7h1v1h-1zM607.4 269.5h1v1h-1zM591.1 287.4h1v1h-1zM594.6 275.8h1v1h-1zM612.7 276.2h1v1h-1zM595.6 272.6h1v1h-1zM605.0 282.8h1v1h-1zM618.1 276.0h1v1h-1zM591.4 276.2h1v1h-1zM598.0 281.2h1v1h-1zM591.0 267.5h1v1h-1zM579.7 305.5h1v1h-1zM609.8 295.5h1v1h-1zM603.8 280.8h1v1h-1zM596.3 290.7h1v1h-1zM602.5 272.7h1v1h-1zM593.7 287.8h1v1h-1zM586.4 264.2h1v1h-1zM593.3 285.4h1v1h-1zM592.3 288.0h1v1h-1zM590.2 280.9h1v1h-1zM607.7 296.9h1v1h-1zM591.4 274.6h1v1h-1zM589.3 288.1h1v1h-1zM600.2 294.3h1v1h-1zM602.5 293.9h1v1h-1zM612.7 285.9h1v1h-1zM600.9 310.3h1v1h-1zM586.9 297.7h1v1h-1zM590.9 295.7h1v1h-1zM606.7 275.8h1v1h-1zM593.0 287.4h1v1h-1zM602.6 278.5h1v1h-1zM614.5 315.9h1v1h-1zM586.0 291.7h1v1h-1zM585.7 275.3h1v1h-1zM596.8 298.7h1v1h-1zM598.3 302.2h1v1h-1zM606.1 278.0h1v1h-1zM584.8 288.8h1v1h-1zM596.4 286.9h1v1h-1zM584.0 291.4h1v1h-1zM602.7 286.2h1v1h-1zM613.9 269.2h1v1h-1zM593.1 272.6h1v1h-1zM604.6 288.3h1v1h-1zM587.1 297.6h1v1h-1zM607.6 273.6h1v1h-1zM599.3 256.7h1v1h-1zM612.0 294.5h1v1h-1zM587.0 283.2h1v1h-1zM588.7 279.0h1v1h-1zM583.9 273.4h1v1h-1zM613.8 302.4h1v1h-1zM594.5 283.8h1v1h-1zM582.9 267.2h1v1h-1zM592.1 271.7h1v1h-1zM605.7 279.6h1v1h-1zM604.0 265.0h1v1h-1zM602.2 278.7h1v1h-1zM587.1 302.8h1v1h-1zM597.0 298.5h1v1h-1zM581.4 300.7h1v1h-1zM585.5 300.4h1v1h-1zM603.6 288.4h1v1h-1zM606.1 291.6h1v1h-1zM596.5 261.0h1v1h-1zM582.8 297.2h1v1h-1zM665.1 351.6h1v1h-1zM656.1 369.3h1v1h-1zM659.0 348.1h1v1h-1zM639.3 333.5h1v1h-1zM650.2 327.2h1v1h-1zM629.4 345.6h1v1h-1zM646.3 354.1h1v1h-1zM651.2 346.1h1v1h-1zM644.2 349.8h1v1h-1zM674.8 345.7h1v1h-1zM639.8 358.9h1v1h-1zM659.7 354.9h1v1h-1zM660.0 338.0h1v1h-1zM652.8 343.9h1v1h-1zM662.6 361.6h1v1h-1zM661.4 350.3h1v1h-1zM651.7 328.1h1v1h-1zM676.9 349.2h1v1h-1zM653.3 344.9h1v1h-1zM668.5 327.2h1v1h-1zM637.6 351.2h1v1h-1zM638.4 359.6h1v1h-1zM658.5 345.1h1v1h-1zM634.8 344.6h1v1h-1zM636.3 342.5h1v1h-1zM642.7 346.9h1v1h-1zM647.3 352.9h1v1h-1zM658.1 335.6h1v1h-1zM672.4 348.7h1v1h-1zM650.0 365.5h1v1h-1zM664.9 349.4h1v1h-1zM655.4 350.3h1v1h-1zM645.4 350.9h1v1h-1zM648.3 340.9h1v1h-1zM664.9 338.1h1v1h-1zM655.3 369.7h1v1h-1zM676.8 352.5h1v1h-1zM659.7 340.7h1v1h-1zM652.3 356.7h1v1h-1zM637.2 343.0h1v1h-1zM644.1 339.3h1v1h-1zM661.9 345.5h1v1h-1zM662.2 338.0h1v1h-1zM644.2 355.7h1v1h-1zM665.8 351.7h1v1h-1zM654.6 346.6h1v1h-1zM620.2 355.9h1v1h-1zM635.8 352.8h1v1h-1zM660.2 346.2h1v1h-1zM651.5 335.4h1v1h-1zM645.4 342.9h1v1h-1zM671.9 362.9h1v1h-1zM653.1 340.5h1v1h-1zM657.5 368.9h1v1h-1zM668.2 349.0h1v1h-1zM649.8 336.2h1v1h-1zM666.6 346.7h1v1h-1zM637.6 359.6h1v1h-1zM635.4 340.8h1v1h-1zM673.0 355.7h1v1h-1zM675.8 358.7h1v1h-1zM668.1 346.0h1v1h-1zM642.0 356.8h1v1h-1zM648.2 361.0h1v1h-1zM639.4 354.1h1v1h-1zM642.5 331.5h1v1h-1zM657.3 352.2h1v1h-1zM646.9 354.7h1v1h-1zM673.1 359.8h1v1h-1zM627.8 361.9h1v1h-1zM646.6 350.7h1v1h-1zM635.6 347.0h1v1h-1zM636.7 328.3h1v1h-1zM679.5 362.9h1v1h-1zM663.6 340.1h1v1h-1zM664.2 348.4h1v1h-1zM667.2 335.8h1v1h-1zM656.3 346.8h1v1h-1zM617.9 348.2h1v1h-1zM664.6 349.9h1v1h-1zM612.9 346.4h1v1h-1zM680.0 338.9h1v1h-1zM668.7 349.3h1v1h-1zM659.0 357.4h1v1h-1zM665.0 322.0h1v1h-1zM667.2 345.3h1v1h-1zM645.3 346.9h1v1h-1zM650.0 353.8h1v1h-1zM639.1 352.5h1v1h-1zM656.2 356.4h1v1h-1zM660.6 348.5h1v1h-1zM674.7 350.9h1v1h-1zM654.6 347.2h1v1h-1zM657.0 347.1h1v1h-1zM630.2 359.7h1v1h-1zM656.8 339.4h1v1h-1zM682.1 355.4h1v1h-1zM642.7 344.9h1v1h-1zM639.9 347.6h1v1h-1zM625.7 354.9h1v1h-1zM633.9 345.7h1v1h-1zM634.4 338.1h1v1h-1zM655.0 350.3h1v1h-1zM658.4 358.6h1v1h-1zM621.3 347.5h1v1h-1zM661.1 356.6h1v1h-1zM677.9 340.3h1v1h-1zM667.7 359.6h1v1h-1zM643.1 343.4h1v1h-1zM670.0 340.7h1v1h-1zM646.1 351.1h1v1h-1zM638.3 334.2h1v1h-1zM631.4 348.7h1v1h-1zM628.4 360.1h1v1h-1zM650.0 343.8h1v1h-1zM665.9 343.0h1v1h-1zM623.8 355.2h1v1h-1zM620.8 350.6h1v1h-1zM673.1 359.9h1v1h-1zM641.5 330.4h1v1h-1zM659.0 366.9h1v1h-1zM632.3 338.9h1v1h-1zM670.8 347.6h1v1h-1zM671.6 353.0h1v1h-1zM626.4 347.5h1v1h-1zM650.8 347.3h1v1h-1zM680.8 329.5h1v1h-1zM628.9 350.8h1v1h-1zM663.4 340.2h1v1h-1zM659.2 358.8h1v1h-1zM677.9 342.8h1v1h-1zM648.1 349.8h1v1h-1zM629.1 360.7h1v1h-1zM646.9 364.0h1v1h-1zM655.2 358.4h1v1h-1zM655.1 345.0h1v1h-1zM647.0 352.3h1v1h-1zM640.2 339.1h1v1h-1zM673.9 366.0h1v1h-1zM648.0 352.0h1v1h-1zM640.7 360.4h1v1h-1zM661.4 327.8h1v1h-1zM657.8 345.0h1v1h-1zM655.2 345.0h1v1h-1zM675.2 348.9h1v1h-1zM639.6 336.2h1v1h-1zM658.6 354.3h1v1h-1zM672.8 344.2h1v1h-1zM644.9 365.1h1v1h-1zM657.8 346.7h1v1h-1zM666.3 347.0h1v1h-1zM664.5 344.5h1v1h-1zM654.5 354.9h1v1h-1zM634.1 349.8h1v1h-1zM641.2 339.0h1v1h-1zM659.0 322.9h1v1h-1zM650.5 345.8h1v1h-1zM651.0 341.5h1v1h-1zM646.2 348.4h1v1h-1zM627.4 337.8h1v1h-1zM664.7 353.8h1v1h-1zM639.0 337.0h1v1h-1zM680.7 355.6h1v1h-1zM666.9 360.0h1v1h-1zM663.0 349.5h1v1h-1zM643.8 353.8h1v1h-1zM639.2 344.7h1v1h-1zM648.6 346.9h1v1h-1zM672.7 345.9h1v1h-1zM657.3 338.2h1v1h-1zM627.9 347.6h1v1h-1zM668.4 351.3h1v1h-1zM644.8 362.5h1v1h-1zM668.1 355.7h1v1h-1zM652.9 366.2h1v1h-1zM639.6 365.2h1v1h-1zM647.1 351.1h1v1h-1zM668.5 342.5h1v1h-1zM645.9 346.5h1v1h-1zM675.9 362.0h1v1h-1zM642.1 347.5h1v1h-1zM677.4 363.0h1v1h-1zM633.6 343.6h1v1h-1zM637.0 348.3h1v1h-1zM663.7 359.6h1v1h-1zM679.0 359.3h1v1h-1zM649.7 352.2h1v1h-1zM667.8 354.0h1v1h-1zM639.0 353.0h1v1h-1zM638.4 346.9h1v1h-1zM682.9 342.2h1v1h-1zM683.2 350.6h1v1h-1zM682.8 336.8h1v1h-1zM682.5 338.0h1v1h-1zM682.7 338.2h1v1h-1zM682.9 338.0h1v1h-1zM683.0 351.7h1v1h-1zM682.7 341.7h1v1h-1zM683.0 345.1h1v1h-1zM682.9 348.0h1v1h-1zM683.0 350.3h1v1h-1zM682.6 335.9h1v1h-1zM683.0 345.0h1v1h-1zM682.3 346.9h1v1h-1zM683.2 348.6h1v1h-1zM683.0 339.7h1v1h-1zM683.0 340.9h1v1h-1zM682.8 344.0h1v1h-1zM683.1 343.3h1v1h-1zM683.2 341.4h1v1h-1zM682.4 340.0h1v1h-1zM601.6 358.5h1v1h-1zM598.6 349.8h1v1h-1zM608.2 353.0h1v1h-1zM592.5 367.9h1v1h-1zM585.3 339.9h1v1h-1zM595.5 365.3h1v1h-1zM599.9 364.1h1v1h-1zM622.9 352.3h1v1h-1zM596.6 354.6h1v1h-1zM565.9 359.1h1v1h-1zM643.5 357.1h1v1h-1zM625.6 359.5h1v1h-1zM614.5 365.0h1v1h-1zM612.5 352.1h1v1h-1zM604.6 356.5h1v1h-1zM635.6 359.8h1v1h-1zM581.9 353.5h1v1h-1zM617.5 356.3h1v1h-1zM617.6 366.8h1v1h-1zM647.0 342.2h1v1h-1zM602.4 358.6h1v1h-1zM631.8 352.8h1v1h-1zM611.9 348.5h1v1h-1zM586.1 354.9h1v1h-1zM584.0 359.2h1v1h-1zM625.8 362.3h1v1h-1zM582.6 351.2h1v1h-1zM598.8 361.1h1v1h-1zM634.5 366.8h1v1h-1zM586.9 357.9h1v1h-1zM614.5 361.6h1v1h-1zM639.5 359.9h1v1h-1zM632.2 361.2h1v1h-1zM618.6 349.9h1v1h-1zM590.9 365.1h1v1h-1zM637.3 359.8h1v1h-1zM613.4 369.5h1v1h-1zM605.3 362.4h1v1h-1zM584.6 350.5h1v1h-1zM564.9 364.9h1v1h-1zM611.3 366.3h1v1h-1zM596.0 364.1h1v1h-1zM573.2 354.6h1v1h-1zM620.6 353.8h1v1h-1zM608.7 366.2h1v1h-1zM593.2 351.3h1v1h-1zM596.8 362.8h1v1h-1zM614.3 357.6h1v1h-1zM613.7 352.1h1v1h-1zM587.9 354.1h1v1h-1zM620.9 353.0h1v1h-1zM600.8 360.3h1v1h-1zM586.0 352.0h1v1h-1zM602.0 356.1h1v1h-1zM604.9 355.0h1v1h-1zM625.5 359.4h1v1h-1zM616.6 363.8h1v1h-1zM563.6 346.3h1v1h-1zM582.0 359.6h1v1h-1zM618.6 351.8h1v1h-1zM595.5 313.9h1v1h-1zM663.8 312.8h1v1h-1zM661.5 299.5h1v1h-1zM591.3 338.3h1v1h-1zM658.7 278.4h1v1h-1zM621.4 302.7h1v1h-1zM676.0 352.9h1v1h-1zM573.0 290.3h1v1h-1zM646.7 331.8h1v1h-1zM581.2 354.9h1v1h-1zM631.2 270.4h1v1h-1zM562.8 341.3h1v1h-1zM629.5 290.4h1v1h-1zM588.8 263.2h1v1h-1zM650.8 332.7h1v1h-1zM546.2 274.7h1v1h-1zM538.0 316.3h1v1h-1zM660.7 360.6h1v1h-1zM644.5 340.0h1v1h-1zM604.9 319.3h1v1h-1zM535.7 351.3h1v1h-1zM634.9 325.1h1v1h-1z" fill="#222" fill-opacity="0.8"/>
<path d="M624.9,341.6L624.4,342.5L623.9,343.2L623.3,343.7L622.6,344.2L621.8,344.5L620.9,344.8L620.0,344.9L618.9,345.0L617.8,345.1L616.6,345.0L615.3,344.9L614.0,344.6L612.6,344.4L611.0,344.0L609.5,343.5L607.8,343.0L606.1,342.4L604.3,341.7L602.4,340.9L600.4,340.0L598.2,339.0L595.8,337.9L592.6,336.2L590.2,335.0L588.1,333.8L586.2,332.8L584.5,331.7L582.8,330.6L581.3,329.6L579.9,328.6L578.6,327.6L577.4,326.6L576.3,325.6L575.3,324.6L574.5,323.7L573.7,322.8L573.0,321.9L572.5,321.0L572.1,320.1L571.8,319.2L571.6,318.4L571.6,317.6L571.6,316.8L571.8,316.0L572.3,315.0L572.8,314.1L573.3,313.4L573.9,312.9L574.6,312.4L575.4,312.1L576.3,311.8L577.2,311.7L578.3,311.6L579.4,311.5L580.6,311.6L581.9,311.7L583.2,312.0L584.6,312.2L586.2,312.6L587.7,313.1L589.4,313.6L591.1,314.2L592.9,314.9L594.8,315.7L596.8,316.6L599.0,317.6L601.4,318.7L604.6,320.4L607.0,321.6L609.1,322.8L611.0,323.8L612.7,324.9L614.4,326.0L615.9,327.0L617.3,328.0L618.6,329.0L619.8,330.0L620.9,331.0L621.9,332.0L622.7,332.9L623.5,333.8L624.2,334.7L624.7,335.6L625.1,336.5L625.4,337.4L625.6,338.2L625.6,339.0L625.6,339.8L625.4,340.6Z" fill="none" stroke="#111" stroke-width="0.72"/>
<path d="M622.5,340.3L621.9,340.8L621.4,341.5L620.9,341.9L620.3,342.3L619.4,342.7L619.0,343.0L618.0,342.9L617.0,342.8L616.2,342.8L614.9,342.9L614.1,342.8L612.6,342.4L611.5,342.2L610.0,341.8L608.7,341.7L607.0,340.9L605.5,340.1L603.9,339.6L602.4,339.0L600.3,338.3L598.5,337.1L596.3,336.2L593.4,334.8L591.1,333.6L589.6,332.8L587.9,331.8L586.4,330.6L584.8,329.6L583.3,328.7L582.2,328.2L580.8,327.3L579.7,326.3L578.8,325.3L577.9,324.8L577.0,323.8L576.4,323.1L575.8,322.2L575.4,321.4L574.7,320.8L574.4,319.9L574.5,319.1L574.4,318.6L574.4,317.7L574.2,317.0L574.8,316.3L575.2,315.6L575.7,315.0L576.4,314.5L576.9,314.5L577.7,313.8L578.3,313.8L579.3,313.7L580.0,313.5L581.2,313.7L582.1,313.7L583.2,313.9L584.4,314.1L585.9,314.4L587.0,314.9L588.5,315.2L589.9,315.4L591.6,316.3L593.2,316.9L594.8,317.5L596.7,318.6L598.7,319.2L600.9,320.3L603.6,321.9L605.8,322.7L607.6,323.9L609.4,325.1L610.9,325.9L612.5,326.8L614.0,327.8L615.0,328.7L616.2,329.5L617.4,330.4L618.3,331.2L619.3,332.2L620.0,332.9L620.8,333.5L621.7,334.5L621.7,335.4L622.2,336.0L622.7,336.6L622.7,337.3L622.8,337.9L622.7,338.8L622.8,339.5Z" fill="none" stroke="#111" stroke-width="0.72"/>
<path d="M620.4,339.3L619.8,339.8L619.2,340.2L618.8,340.7L618.5,340.9L617.8,341.0L617.1,341.3L616.5,341.3L615.8,341.6L614.7,341.3L613.7,341.3L612.7,341.2L611.7,341.0L610.6,340.6L609.3,340.2L607.9,340.1L606.6,339.6L605.2,338.9L603.9,338.3L602.2,337.6L600.5,336.9L598.7,336.2L596.8,335.3L593.9,333.8L592.3,332.7L590.7,331.9L588.9,331.0L587.9,330.1L586.2,329.2L584.9,328.3L583.7,327.9L582.8,326.9L581.8,326.3L580.8,325.5L580.0,324.5L579.4,323.5L578.5,323.1L577.8,322.4L577.4,321.6L577.4,321.2L576.8,320.6L576.6,319.9L576.6,319.4L576.4,318.8L576.7,317.9L577.1,317.3L577.6,316.8L577.9,316.3L578.3,315.7L578.8,315.6L579.4,315.4L580.1,315.2L581.0,315.5L581.6,315.2L582.5,315.4L583.7,315.2L584.4,315.4L585.4,315.5L586.8,315.9L588.1,316.5L589.1,316.6L590.5,317.4L591.9,317.6L593.4,318.4L594.9,319.2L596.7,319.8L598.3,320.5L600.4,321.2L603.0,322.6L605.0,323.7L606.9,324.8L608.3,325.8L609.5,326.3L611.0,327.5L612.3,328.3L613.6,328.8L614.6,330.0L615.5,330.3L616.4,331.3L617.3,332.0L618.0,332.5L618.8,333.7L619.4,334.0L619.7,334.5L620.1,335.5L620.2,336.2L620.6,336.9L620.6,337.4L620.4,337.8L620.4,338.6Z" fill="none" stroke="#111" stroke-width="0.72"/>
<path d="M618.6,338.6L618.2,338.9L618.0,339.3L617.6,339.6L617.2,339.9L616.6,340.1L616.1,340.0L615.3,340.2L614.5,340.4L613.5,340.0L612.6,340.1L611.6,339.9L610.7,339.6L609.7,339.5L608.5,339.0L607.4,338.7L605.9,338.2L604.9,337.9L603.8,337.3L602.1,336.5L600.6,336.0L599.1,335.0L597.2,334.3L594.9,333.0L592.8,332.0L591.2,331.1L589.9,330.5L588.6,329.8L587.2,328.9L586.0,328.1L585.1,327.4L583.7,326.6L582.9,325.7L582.1,325.4L581.6,324.5L580.8,324.0L580.0,323.3L579.6,322.7L578.9,322.0L578.9,321.6L578.7,320.8L578.5,320.4L578.1,319.9L578.2,319.4L578.3,318.9L578.6,318.2L579.0,317.7L579.2,317.4L579.6,316.9L580.1,316.5L580.6,316.7L581.2,316.4L581.9,316.3L582.9,316.5L583.5,316.4L584.3,316.4L585.3,316.6L586.4,317.0L587.5,317.2L588.4,317.5L589.6,318.0L591.1,318.4L592.3,318.6L593.8,319.5L594.9,320.0L596.8,320.6L598.4,321.4L599.9,322.5L602.6,323.5L604.4,324.3L606.1,325.3L607.4,326.1L608.8,327.1L609.9,327.8L611.1,328.4L612.2,329.1L613.1,330.1L614.2,330.8L615.1,331.2L615.6,332.0L616.5,332.7L617.0,333.5L617.4,333.8L618.1,334.8L618.5,335.0L618.8,335.8L619.0,336.2L618.9,336.8L619.0,337.5L619.1,337.7Z" fill="none" stroke="#111" stroke-width="0.72"/>
<path d="M617.2,337.7L617.0,338.3L616.7,338.6L616.5,338.8L615.7,338.9L615.3,339.1L614.6,339.4L614.2,339.3L613.4,339.1L612.6,339.5L611.7,339.1L611.1,339.0L610.1,338.8L609.0,338.5L608.2,338.0L606.9,337.8L605.9,337.5L604.7,336.8L603.2,336.4L602.1,335.7L600.6,335.2L599.2,334.3L597.4,333.5L595.0,332.4L593.6,332.0L591.9,330.8L590.7,329.8L589.4,329.1L588.3,328.7L587.1,327.8L586.2,327.2L585.1,326.6L584.0,325.9L583.5,325.3L582.6,324.5L582.1,324.0L581.4,323.4L581.0,323.0L580.5,322.4L580.3,322.0L579.9,321.2L579.6,320.8L579.7,320.4L579.5,319.9L579.6,319.5L579.9,318.9L580.1,318.3L580.4,318.2L580.9,317.7L581.2,317.5L581.9,317.6L582.2,317.2L583.0,317.2L583.5,317.3L584.6,317.2L585.3,317.6L586.3,317.6L587.4,317.9L588.0,318.2L589.0,318.6L590.1,318.9L591.3,319.4L592.7,319.8L593.9,320.4L595.0,320.9L596.7,321.5L598.2,322.6L599.9,323.1L602.1,324.3L603.6,325.2L605.2,325.6L606.5,326.6L607.9,327.3L609.2,328.0L610.2,328.5L611.3,329.5L612.1,329.9L612.9,330.9L613.8,331.3L614.5,332.1L615.2,332.5L615.6,333.2L616.4,333.7L616.8,334.3L617.1,334.8L617.3,335.5L617.6,335.8L617.6,336.3L617.7,336.8L617.6,337.0Z" fill="none" stroke="#111" stroke-width="0.72"/>
<path d="M616.0,337.2L615.6,337.7L615.5,337.8L614.9,338.2L614.6,338.1L614.3,338.2L613.6,338.3L613.1,338.5L612.6,338.4L611.8,338.3L611.0,338.4L610.3,337.8L609.3,338.0L608.3,337.5L607.6,337.1L606.6,337.1L605.3,336.6L604.2,335.9L603.2,335.6L601.8,335.1L600.4,334.3L599.0,333.8L597.7,333.1L595.3,331.9L593.9,330.9L592.4,330.4L591.3,329.7L590.1,329.0L589.0,328.3L587.8,327.6L586.9,327.3L586.1,326.4L585.3,325.8L584.5,325.3L583.8,324.8L583.2,324.2L582.8,323.5L582.2,323.1L581.8,322.5L581.3,322.3L581.1,321.5L581.1,321.0L581.1,320.9L581.0,320.4L580.9,319.8L581.4,319.5L581.4,319.3L581.7,318.8L582.1,318.5L582.4,318.3L583.1,318.4L583.1,318.0L584.1,318.2L584.6,318.3L585.2,318.4L586.1,318.5L587.0,318.7L587.8,318.7L588.8,319.1L589.5,319.5L590.8,319.9L591.8,320.1L592.9,320.4L594.1,321.1L595.2,321.8L596.4,322.1L598.0,323.0L599.6,323.6L601.6,324.6L603.2,325.6L604.8,326.4L605.9,327.3L607.0,327.4L608.2,328.3L609.3,328.8L610.3,329.8L611.0,330.1L611.7,330.8L612.8,331.4L613.5,332.1L614.0,332.6L614.4,332.9L615.0,333.4L615.4,334.2L615.8,334.4L615.9,335.1L616.0,335.4L616.2,335.8L616.4,336.1L616.0,336.8Z" fill="none" stroke="#111" stroke-width="0.72"/>
<path d="M615.0,336.6L614.7,337.0L614.6,337.4L614.1,337.4L613.8,337.6L613.4,337.6L612.6,337.8L612.4,337.8L611.9,337.8L611.0,337.7L610.4,337.6L609.7,337.4L608.8,337.1L607.8,336.8L606.8,336.6L606.2,336.5L605.1,335.7L603.9,335.6L602.8,335.1L601.5,334.4L600.6,333.9L599.2,333.1L597.6,332.6L595.8,331.5L594.3,330.6L593.1,330.2L591.7,329.4L590.8,328.7L589.9,328.3L588.6,327.7L588.0,326.8L587.0,326.4L586.1,325.9L585.4,325.1L584.6,324.8L584.3,324.3L583.7,323.8L583.4,323.4L582.8,322.8L582.7,322.3L582.3,322.0L582.0,321.7L581.8,321.4L582.0,320.7L582.1,320.3L582.3,320.1L582.4,319.6L582.9,319.3L583.1,319.2L583.6,319.0L583.9,319.1L584.0,318.9L584.6,318.7L585.7,319.0L586.3,319.0L586.9,319.1L587.5,319.3L588.4,319.7L589.2,319.8L590.1,320.1L590.9,320.5L592.0,320.8L593.1,321.3L594.3,321.7L595.4,322.2L596.7,322.8L598.1,323.6L599.5,323.9L601.7,325.4L602.9,325.8L604.0,326.7L605.3,327.4L606.2,327.9L607.6,328.4L608.4,329.1L609.4,329.6L610.3,330.1L611.0,330.9L611.7,331.3L612.3,331.9L612.8,332.5L613.1,332.7L613.7,333.4L614.3,333.6L614.6,334.4L614.9,334.7L614.9,334.8L615.2,335.7L615.1,335.8L615.0,336.3Z" fill="none" stroke="#111" stroke-width="0.72"/>
<path d="M613.8,336.0L613.4,336.3L613.4,336.7L613.0,336.9L612.8,336.8L612.3,336.8L611.8,337.2L611.3,336.9L611.1,336.7L610.4,336.8L609.7,336.8L609.0,336.6L608.3,336.5L607.3,336.1L606.4,336.0L605.5,335.6L605.0,335.3L603.7,334.7L602.7,334.5L601.7,333.9L600.8,333.2L599.2,332.7L597.9,332.1L596.0,331.2L594.7,330.4L593.1,329.8L592.2,329.1L591.2,328.4L590.2,328.0L589.4,327.5L588.4,326.8L587.6,326.3L587.1,325.8L586.2,325.3L585.8,325.0L585.2,324.3L584.6,324.2L584.2,323.4L583.9,322.9L583.8,322.7L583.5,322.2L583.2,322.0L583.3,321.9L583.3,321.0L583.2,320.9L583.5,320.6L583.6,320.2L583.8,320.2L584.0,319.6L584.3,319.9L584.8,319.6L585.1,319.7L585.7,319.6L586.2,319.6L586.8,319.8L587.7,319.6L588.0,320.0L589.0,320.0L589.7,320.4L590.5,320.7L591.5,321.2L592.5,321.5L593.4,321.7L594.4,322.3L595.5,322.8L596.7,323.3L598.0,323.7L599.3,324.5L601.3,325.4L602.6,326.2L603.8,326.9L604.9,327.5L605.9,328.1L606.8,328.6L607.7,329.1L608.7,329.8L609.3,330.4L610.1,330.8L610.9,331.0L611.4,331.5L612.0,332.3L612.7,332.7L612.7,333.0L613.4,333.5L613.7,333.8L613.7,334.1L613.9,334.8L613.9,335.1L614.1,335.4L614.0,335.6Z" fill="none" stroke="#111" stroke-width="0.72"/>
<path d="M613.1,335.3L612.7,336.0L612.5,336.2L611.8,336.1L611.7,336.2L611.5,336.3L611.0,336.4L610.4,336.4L610.1,336.0L609.4,335.9L608.8,336.0L608.5,336.0L607.5,335.4L606.8,335.3L606.1,335.1L605.6,334.7L604.4,334.8L603.4,334.1L602.7,333.5L601.3,333.2L600.5,332.9L599.3,332.5L598.0,331.6L596.2,330.9L595.0,330.0L594.0,329.6L592.9,328.7L591.7,328.3L590.9,327.8L590.1,327.4L589.2,326.8L588.5,326.3L587.9,326.0L587.3,325.3L586.8,325.0L586.2,324.5L585.9,324.2L585.2,323.6L584.8,323.4L584.6,323.0L584.5,322.8L584.6,322.3L584.5,322.1L584.4,321.7L584.1,321.5L584.5,320.9L584.6,320.8L584.8,320.5L585.0,320.6L585.6,320.4L585.8,320.3L586.2,320.2L586.5,320.2L587.1,320.5L587.6,320.5L588.1,320.6L588.5,320.5L589.5,320.7L590.4,321.2L591.0,321.4L591.7,321.6L592.7,321.9L593.8,322.3L594.8,322.8L595.7,323.2L596.7,323.7L597.9,324.5L599.1,325.0L601.0,326.0L602.2,326.5L603.3,327.1L604.4,327.6L605.3,328.3L606.2,328.7L607.2,329.4L607.9,329.9L608.6,330.3L609.3,330.7L609.7,331.2L610.5,331.7L611.0,332.1L611.2,332.3L611.5,332.8L612.4,333.4L612.3,333.7L612.8,333.9L612.6,334.4L612.9,334.5L613.2,334.9L613.1,335.3Z" fill="none" stroke="#111" stroke-width="0.72"/>
<path d="M611.7,334.8L611.7,335.1L611.6,335.3L611.1,335.3L610.9,335.4L610.5,335.5L610.1,335.2L609.7,335.2L609.4,335.2L608.5,335.3L607.9,334.9L607.0,334.9L606.5,334.7L605.7,334.3L605.0,334.3L604.0,334.2L603.2,333.6L602.6,333.2L601.5,332.8L600.7,332.0L599.7,331.9L598.6,331.5L597.8,331.1L596.8,330.7L595.7,330.0L594.9,329.6L594.1,329.2L593.2,328.8L592.6,328.1L591.5,327.5L590.7,327.3L590.3,326.5L589.7,326.1L588.6,325.8L588.4,325.3L587.6,325.0L587.1,324.4L586.8,324.0L586.3,323.5L586.1,323.0L585.8,322.9L585.7,322.6L585.5,322.4L585.3,322.1L585.4,321.7L585.3,321.8L585.7,321.4L585.8,321.4L586.2,321.4L586.0,321.2L586.8,321.4L587.0,321.1L587.6,321.2L588.1,321.2L588.8,321.5L589.4,321.5L589.8,321.6L590.8,321.8L591.6,322.4L592.2,322.5L593.2,322.9L593.9,323.1L594.9,323.4L595.8,323.9L596.8,324.0L597.7,324.8L598.5,325.2L599.5,325.6L600.3,326.1L601.2,326.3L602.0,326.9L603.0,327.6L603.9,328.1L604.7,328.4L605.4,328.9L606.2,329.6L606.8,330.0L607.7,330.5L608.3,331.0L608.9,331.4L609.3,331.8L610.1,332.0L610.5,332.5L610.9,333.0L611.2,333.4L611.3,333.9L611.8,333.9L611.8,334.3L611.7,334.4L612.0,334.7Z" fill="none" stroke="#111" stroke-width="0.72"/>
<path d="M610.8,334.7L610.7,334.5L610.6,334.5L610.1,335.1L609.9,334.8L609.5,334.8L609.3,334.5L608.7,334.8L608.4,334.7L607.7,334.6L607.1,334.3L606.6,334.5L605.8,334.1L605.2,333.6L604.4,333.5L603.7,333.3L602.8,332.8L602.3,332.6L601.2,332.3L600.7,331.8L599.5,331.6L599.0,331.2L597.8,330.4L597.2,330.2L596.3,329.8L595.6,329.4L594.6,328.9L593.7,328.5L593.0,327.8L592.2,327.4L591.4,327.2L591.1,326.7L590.1,326.0L589.8,325.8L589.1,325.2L588.4,325.3L588.1,324.6L587.6,324.4L587.3,323.9L587.1,323.6L587.0,323.1L586.7,322.9L586.5,322.7L586.5,322.4L586.4,322.4L586.4,322.1L586.6,322.1L586.7,321.9L586.9,322.0L587.1,321.6L587.6,321.6L587.9,321.8L588.5,321.8L588.8,321.9L589.5,322.0L590.0,322.4L590.6,322.3L591.2,322.5L591.8,322.7L592.7,323.1L593.5,323.3L594.3,323.5L595.3,324.3L595.9,324.4L596.7,324.8L597.5,324.9L598.5,325.4L599.3,325.8L600.0,326.5L601.1,326.8L601.7,327.3L602.5,327.5L603.4,327.9L604.2,328.5L604.9,328.9L605.5,329.5L606.4,330.0L607.0,330.2L607.6,330.8L608.0,331.3L608.5,331.8L609.0,331.9L609.4,332.2L609.7,332.7L609.9,332.9L610.2,333.2L610.7,333.5L610.6,333.9L610.6,334.1L610.7,334.2Z" fill="none" stroke="#111" stroke-width="0.72"/>
<path d="M609.7,333.9L609.9,334.3L609.6,334.2L609.4,334.2L609.0,334.5L608.8,334.3L608.7,334.3L608.1,334.3L607.6,334.2L607.1,334.2L606.7,333.8L605.9,333.7L605.4,333.5L604.9,333.2L604.1,333.1L603.2,332.9L602.8,332.7L601.8,332.2L601.2,331.8L600.2,331.6L599.6,331.2L598.7,330.9L598.0,330.3L597.3,330.1L596.3,329.7L595.9,329.2L594.8,328.8L594.3,328.2L593.7,327.9L592.8,327.6L592.1,327.2L591.5,326.7L590.9,326.3L590.4,326.0L589.7,325.6L589.3,325.3L588.9,324.8L588.4,324.5L588.3,324.2L588.0,323.8L587.6,323.5L587.2,323.4L587.3,323.1L587.3,322.8L587.4,322.6L587.3,322.4L587.3,322.6L587.3,322.4L587.7,322.3L588.0,322.4L588.4,322.3L588.8,322.4L589.0,322.2L589.6,322.4L590.2,322.5L590.4,322.8L591.0,322.7L591.9,322.9L592.5,323.2L593.1,323.5L593.6,323.8L594.5,324.1L595.3,324.6L596.0,324.7L597.1,325.1L597.7,325.2L598.2,325.7L599.1,326.2L600.3,326.4L600.7,327.1L601.5,327.5L602.2,327.7L603.3,328.3L603.6,328.6L604.4,328.9L605.2,329.5L605.7,329.8L606.5,330.3L606.8,330.5L607.3,331.2L608.1,331.3L608.1,331.8L608.7,332.2L609.0,332.5L609.1,332.6L609.5,333.0L609.8,333.4L609.7,333.7L609.9,333.6L610.1,333.6Z" fill="none" stroke="#111" stroke-width="0.72"/>
<path d="M609.0,333.5L609.1,333.8L609.0,333.7L608.8,333.8L608.7,333.8L608.3,333.7L608.0,333.7L607.5,333.6L607.1,333.6L606.5,333.6L606.2,333.5L605.6,333.4L605.2,333.2L604.5,333.1L603.7,332.8L603.0,332.7L602.4,332.2L601.9,331.8L600.9,331.3L600.3,331.5L599.6,331.1L599.0,330.5L597.9,330.1L597.5,329.8L596.7,329.5L595.9,328.9L595.2,328.7L594.4,328.1L593.7,327.8L593.2,327.5L592.4,327.1L591.9,326.6L591.2,326.2L590.8,326.0L590.5,325.6L590.0,325.2L589.7,325.1L589.3,324.6L588.9,324.3L588.5,324.1L588.2,323.7L588.3,323.7L588.2,323.4L588.0,323.3L588.0,322.9L588.3,323.1L588.3,322.9L588.2,322.8L588.5,322.6L588.6,322.8L589.2,322.8L589.3,322.6L589.9,322.8L590.2,322.9L590.4,323.3L591.2,323.3L591.5,323.3L592.3,323.4L592.7,323.6L593.3,324.0L594.1,324.0L594.9,324.6L595.6,324.5L596.2,325.2L596.8,325.3L597.6,325.5L598.4,326.2L599.2,326.6L599.8,326.8L600.5,327.1L601.1,327.5L602.0,327.9L602.7,328.4L603.4,328.7L603.7,329.0L604.8,329.6L605.1,329.9L605.7,330.2L606.3,330.7L606.9,330.9L607.2,331.3L607.6,331.7L607.9,332.2L608.4,332.3L608.5,332.4L608.7,332.7L608.7,333.0L608.9,333.2L609.3,333.3L609.1,333.5Z" fill="none" stroke="#111" stroke-width="0.72"/>
<path d="M608.3,333.3L608.4,333.4L608.3,333.4L607.9,333.4L607.6,333.4L607.4,333.6L607.3,333.6L606.6,333.4L606.6,333.3L606.0,333.2L605.6,333.0L605.1,333.0L604.6,332.7L604.0,332.5L603.4,332.3L602.8,332.1L602.2,331.8L601.6,331.4L601.0,331.3L600.3,331.1L599.5,330.6L599.0,330.6L598.2,330.1L597.6,329.5L596.9,329.4L596.2,329.0L595.4,328.3L594.9,328.0L594.3,327.7L593.7,327.6L592.9,327.1L592.5,326.9L592.0,326.3L591.5,326.3L591.0,325.8L590.7,325.3L590.2,324.9L589.8,325.0L589.7,324.4L589.6,324.2L589.1,324.4L589.1,324.0L589.1,323.8L588.9,323.6L588.8,323.5L589.0,323.3L588.9,323.0L588.9,323.3L589.2,323.1L589.5,323.1L589.7,323.1L589.8,323.3L590.5,323.4L590.7,323.4L591.2,323.6L591.8,323.5L592.1,323.7L592.6,323.8L593.2,323.8L593.8,324.3L594.2,324.5L594.9,325.0L595.5,325.1L596.3,325.3L596.8,325.7L597.6,325.9L598.1,326.4L599.2,326.6L599.7,327.1L600.5,327.3L601.1,327.8L602.0,328.1L602.4,328.5L603.0,328.7L603.6,329.3L604.1,329.5L604.6,329.9L605.2,330.3L605.6,330.5L606.1,330.9L606.6,331.4L606.8,331.5L607.2,331.6L607.7,332.0L607.9,332.0L608.3,332.7L608.1,332.5L608.2,332.8L608.2,333.0L608.3,333.4Z" fill="none" stroke="#111" stroke-width="0.72"/>
<path d="M607.5,332.8L607.7,332.9L607.4,332.9L607.3,332.9L607.0,332.9L606.6,332.9L606.5,333.1L606.2,332.8L605.9,332.9L605.2,332.6L604.8,332.4L604.5,332.4L604.1,332.3L603.8,332.1L603.1,331.8L602.8,331.8L601.9,331.3L601.5,331.3L600.7,331.0L600.0,330.6L599.7,330.3L598.9,330.0L598.3,329.5L597.6,329.4L597.1,329.2L596.5,328.7L595.8,328.6L595.3,328.1L594.6,327.9L594.2,327.4L593.6,327.1L593.1,327.0L592.4,326.6L592.0,326.1L591.8,325.8L591.2,325.5L590.9,325.4L590.8,325.1L590.5,324.8L590.4,324.6L589.9,324.5L589.8,324.3L589.5,324.2L589.7,323.9L589.5,323.9L589.8,323.6L589.6,323.7L589.7,323.6L590.0,323.7L590.3,323.7L590.5,323.5L590.4,323.7L591.0,323.8L591.3,324.0L591.5,324.0L592.2,324.1L592.8,324.2L593.1,324.3L593.7,324.6L594.2,324.6L594.5,325.0L595.3,325.0L595.7,325.4L596.5,325.7L597.2,326.0L597.7,326.4L598.3,326.8L598.9,326.9L599.3,327.2L600.1,327.5L600.8,327.7L601.4,327.9L601.9,328.7L602.6,328.9L603.0,329.0L603.8,329.6L604.2,329.8L604.7,330.0L605.1,330.5L605.4,330.8L605.9,331.1L606.0,331.1L606.5,331.5L606.9,331.7L607.0,332.0L607.2,332.1L607.4,332.2L607.5,332.3L607.5,332.7L607.5,332.8Z" fill="none" stroke="#111" stroke-width="0.72"/>
<path d="M606.8,332.4L606.9,332.5L606.5,332.5L606.5,332.4L606.4,332.5L605.9,332.4L606.0,332.5L605.8,332.4L605.3,332.6L605.1,332.2L604.6,332.0L604.0,331.8L603.7,331.7L603.1,331.9L602.8,331.5L602.0,331.3L601.4,331.0L601.2,330.9L600.6,330.7L600.1,330.2L599.5,330.3L598.9,329.8L598.4,329.3L597.7,329.0L597.3,328.9L596.5,328.5L596.2,328.4L595.6,328.0L595.1,327.7L594.6,327.4L593.9,327.1L593.6,327.1L593.0,326.5L592.8,326.4L592.3,326.0L591.9,325.9L592.0,325.5L591.4,325.3L591.2,325.2L591.0,324.8L590.6,324.9L590.6,324.6L590.6,324.4L590.6,324.3L590.3,324.1L590.4,324.5L590.5,324.1L590.8,324.0L590.5,324.0L590.8,323.8L591.1,324.1L591.6,324.2L591.6,324.1L591.9,324.0L592.3,324.1L592.7,324.6L593.0,324.6L593.4,324.5L594.0,324.9L594.5,325.1L595.0,325.2L595.6,325.6L596.0,325.7L596.7,326.1L597.1,326.1L597.7,326.7L598.2,326.8L598.7,327.1L599.4,327.4L599.9,327.5L600.8,328.0L601.0,328.2L601.7,328.7L602.2,328.8L602.7,329.0L603.0,329.6L603.6,329.7L604.0,329.9L604.5,330.3L605.0,330.4L605.2,330.7L605.4,331.2L606.0,331.2L605.9,331.5L606.3,331.5L606.3,332.0L606.4,332.1L606.6,332.1L606.9,332.1L606.7,332.3Z" fill="none" stroke="#111" stroke-width="0.72"/>
<path d="M606.1,332.1L605.9,331.9L606.0,332.0L605.7,331.9L605.5,332.2L605.3,332.2L605.3,332.2L604.8,331.8L604.3,331.9L604.1,331.9L603.7,331.8L603.6,331.4L603.2,331.5L602.8,331.3L602.4,331.2L601.8,330.9L601.3,330.8L600.8,330.5L600.3,330.4L600.0,329.9L599.5,329.8L599.0,329.6L598.4,329.3L597.7,329.1L597.5,328.7L596.9,328.6L596.5,328.4L596.0,327.9L595.7,327.7L594.9,327.6L594.4,327.3L594.0,327.1L593.9,326.6L593.4,326.5L593.0,326.3L592.6,325.9L592.3,325.8L592.2,325.7L591.9,325.5L591.6,325.5L591.4,325.2L591.4,324.9L591.5,324.9L591.1,324.8L591.2,324.9L591.1,324.6L591.2,324.5L591.5,324.6L591.6,324.5L591.6,324.5L591.8,324.7L591.9,324.6L592.2,324.5L592.4,324.5L593.0,324.7L593.1,324.7L593.5,325.0L594.1,325.2L594.4,325.3L594.9,325.4L595.3,325.5L595.6,325.9L596.3,326.1L596.6,326.4L597.5,326.6L597.8,326.8L598.4,327.0L599.1,327.3L599.3,327.7L599.7,327.7L600.2,328.1L601.0,328.2L601.6,328.7L602.0,328.9L602.1,329.0L602.8,329.4L603.1,329.7L603.7,330.1L603.9,330.2L604.3,330.2L604.5,330.4L604.7,330.6L605.2,331.0L605.5,331.1L605.6,331.3L605.8,331.6L605.8,331.7L605.8,331.7L605.9,332.0L605.9,331.8Z" fill="none" stroke="#111" stroke-width="0.72"/>
<path d="M605.3,331.6L605.0,331.5L605.0,331.6L605.0,331.6L604.7,331.8L604.9,331.8L604.4,331.7L604.2,331.8L604.0,331.6L603.9,331.6L603.4,331.2L603.0,331.0L602.9,331.0L602.4,330.9L601.9,330.8L601.6,330.6L601.2,330.4L600.6,330.2L600.2,329.9L599.9,329.6L599.2,329.6L599.1,329.4L598.4,329.3L598.0,328.8L597.5,328.8L597.2,328.3L596.5,328.3L596.1,327.9L595.9,327.6L595.3,327.5L595.0,327.4L594.6,327.1L594.3,326.8L594.0,326.8L593.6,326.3L593.3,326.4L593.1,326.0L592.7,325.9L592.5,325.8L592.3,325.4L592.4,325.5L592.2,325.2L592.2,325.2L592.0,325.2L592.1,325.0L592.2,325.0L592.0,325.0L592.2,325.1L592.3,324.9L592.4,325.0L592.4,324.8L592.7,325.0L593.0,325.0L593.0,324.8L593.5,325.1L593.8,325.4L594.0,325.6L594.4,325.5L594.8,325.5L595.5,325.8L595.7,325.9L595.8,326.1L596.3,326.2L596.6,326.7L597.3,326.8L597.9,326.9L598.3,327.3L598.8,327.5L599.1,327.6L599.7,327.9L600.2,328.2L600.6,328.5L601.0,328.8L601.2,328.8L601.8,329.3L602.0,329.3L602.6,329.7L602.9,329.5L603.3,330.1L603.6,330.2L603.9,330.3L604.2,330.7L604.4,330.6L604.5,331.0L604.7,331.2L604.9,331.1L605.1,331.3L605.4,331.6L605.1,331.4L605.0,331.7Z" fill="none" stroke="#111" stroke-width="0.72"/>
<path d="M604.4,331.2L604.2,331.4L604.4,331.2L604.1,331.2L604.2,331.3L603.9,331.2L603.6,331.1L603.4,331.3L603.3,331.1L603.1,330.9L602.6,330.8L602.5,330.7L602.3,330.8L601.8,330.4L601.7,330.1L601.2,330.3L600.9,330.0L600.6,329.8L600.0,329.8L599.7,329.6L599.4,329.5L598.6,329.2L598.6,329.1L598.1,328.7L597.7,328.5L597.1,328.4L597.0,328.0L596.7,327.8L596.2,327.6L595.8,327.4L595.4,327.4L595.2,327.0L595.0,326.8L594.3,326.7L594.4,326.5L593.8,326.3L593.8,326.3L593.6,326.2L593.6,326.0L593.2,325.9L593.1,325.9L593.0,325.5L593.0,325.7L592.8,325.7L592.9,325.2L592.7,325.2L592.8,325.2L592.9,325.4L592.8,325.4L593.1,325.4L593.2,325.1L593.4,325.4L593.7,325.4L593.7,325.4L594.0,325.5L594.3,325.7L594.7,325.8L594.9,326.0L595.3,325.9L595.7,326.2L595.9,326.5L596.4,326.6L596.9,326.8L597.2,326.9L597.2,326.7L597.8,327.5L598.3,327.4L598.7,327.8L599.1,327.9L599.5,328.0L599.8,328.0L600.3,328.4L600.7,328.8L600.9,328.7L601.5,328.9L601.8,329.3L602.1,329.3L602.4,329.5L602.8,329.8L602.9,330.0L603.4,330.0L603.4,330.2L603.8,330.5L603.7,330.6L603.9,330.7L604.2,330.8L604.2,330.7L604.5,330.9L604.4,331.1L604.5,331.1Z" fill="none" stroke="#111" stroke-width="0.72"/>
<path d="M603.5,330.7L603.7,330.6L603.7,331.0L603.6,330.7L603.2,330.9L603.3,330.7L603.2,330.6L603.0,330.7L602.7,330.7L602.6,330.4L602.4,330.4L602.0,330.3L601.9,330.4L601.5,330.1L601.4,330.0L601.0,329.9L600.7,330.0L600.4,329.8L600.1,329.2L599.5,329.2L599.3,329.2L598.8,329.2L598.6,329.0L598.1,328.8L598.0,328.4L597.6,328.3L597.1,328.2L596.6,328.0L596.5,327.6L596.3,327.4L595.8,327.6L595.7,327.2L595.5,327.1L595.1,326.9L594.9,326.9L594.5,326.6L594.5,326.6L594.3,326.5L594.2,326.2L593.9,326.4L593.8,326.2L593.6,326.4L593.6,326.0L593.7,325.7L593.6,325.9L593.5,325.9L593.6,325.9L593.9,325.6L593.8,325.7L593.7,325.8L594.0,325.8L594.2,325.6L594.2,325.6L594.5,326.0L594.7,325.9L595.0,326.2L595.2,326.1L595.4,326.4L595.7,326.4L596.0,326.6L596.4,326.6L596.6,326.8L596.9,327.0L597.1,327.3L597.5,327.3L597.8,327.4L598.3,327.7L598.7,327.9L599.0,328.1L599.2,328.2L599.7,328.3L600.0,328.4L600.4,328.6L600.8,328.9L601.0,329.0L601.2,329.3L601.7,329.3L601.7,329.4L602.2,329.5L602.4,329.8L602.7,329.8L602.8,330.0L603.0,330.4L603.1,330.5L603.3,330.5L603.6,330.6L603.5,330.3L603.4,330.7L603.5,330.6L603.7,330.6Z" fill="none" stroke="#111" stroke-width="0.72"/>
<line x1="592.81" y1="325.37" x2="603.87" y2="330.96" stroke="#fff" stroke-width="0.7" stroke-opacity="0.7" stroke-linecap="round"/>
<line x1="532.2" y1="246.4" x2="684" y2="246.4" stroke="#8a8a8a" stroke-width="1"/>
<line x1="684" y1="246.4" x2="684" y2="385.2" stroke="#8e8e8e" stroke-width="1"/>
<line x1="532.2" y1="385.2" x2="684" y2="385.2" stroke="#e6e6e6" stroke-width="1"/>
<line x1="532.2" y1="246.4" x2="532.2" y2="385.2" stroke="#a0a0a0" stroke-width="1"/>
<line x1="525.2" y1="264.6" x2="532.2" y2="264.6" stroke="#000" stroke-width="1.8"/>
<line x1="525.2" y1="290.85" x2="532.2" y2="290.85" stroke="#000" stroke-width="1.8"/>
<line x1="525.2" y1="317.1" x2="532.2" y2="317.1" stroke="#000" stroke-width="1.8"/>
<line x1="525.2" y1="343.35" x2="532.2" y2="343.35" stroke="#000" stroke-width="1.8"/>
<line x1="525.2" y1="369.6" x2="532.2" y2="369.6" stroke="#000" stroke-width="1.8"/>
<line x1="529" y1="251.48" x2="532.2" y2="251.48" stroke="#222" stroke-width="1.1"/>
<line x1="529" y1="258.04" x2="532.2" y2="258.04" stroke="#222" stroke-width="1.1"/>
<line x1="529" y1="271.16" x2="532.2" y2="271.16" stroke="#222" stroke-width="1.1"/>
<line x1="529" y1="277.73" x2="532.2" y2="277.73" stroke="#222" stroke-width="1.1"/>
<line x1="529" y1="284.29" x2="532.2" y2="284.29" stroke="#222" stroke-width="1.1"/>
<line x1="529" y1="297.41" x2="532.2" y2="297.41" stroke="#222" stroke-width="1.1"/>
<line x1="529" y1="303.98" x2="532.2" y2="303.98" stroke="#222" stroke-width="1.1"/>
<line x1="529" y1="310.54" x2="532.2" y2="310.54" stroke="#222" stroke-width="1.1"/>
<line x1="529" y1="323.66" x2="532.2" y2="323.66" stroke="#222" stroke-width="1.1"/>
<line x1="529" y1="330.23" x2="532.2" y2="330.23" stroke="#222" stroke-width="1.1"/>
<line x1="529" y1="336.79" x2="532.2" y2="336.79" stroke="#222" stroke-width="1.1"/>
<line x1="529" y1="349.91" x2="532.2" y2="349.91" stroke="#222" stroke-width="1.1"/>
<line x1="529" y1="356.48" x2="532.2" y2="356.48" stroke="#222" stroke-width="1.1"/>
<line x1="529" y1="363.04" x2="532.2" y2="363.04" stroke="#222" stroke-width="1.1"/>
<line x1="529" y1="376.16" x2="532.2" y2="376.16" stroke="#222" stroke-width="1.1"/>
<line x1="529" y1="382.73" x2="532.2" y2="382.73" stroke="#222" stroke-width="1.1"/>
<line x1="549.2" y1="386" x2="549.2" y2="392.8" stroke="#000" stroke-width="1.9"/>
<line x1="587.05" y1="386" x2="587.05" y2="392.8" stroke="#000" stroke-width="1.9"/>
<line x1="624.9" y1="386" x2="624.9" y2="392.8" stroke="#000" stroke-width="1.9"/>
<line x1="662.75" y1="386" x2="662.75" y2="392.8" stroke="#000" stroke-width="1.9"/>
<line x1="556.77" y1="386" x2="556.77" y2="389.5" stroke="#222" stroke-width="1.15"/>
<line x1="564.34" y1="386" x2="564.34" y2="389.5" stroke="#222" stroke-width="1.15"/>
<line x1="571.91" y1="386" x2="571.91" y2="389.5" stroke="#222" stroke-width="1.15"/>
<line x1="579.48" y1="386" x2="579.48" y2="389.5" stroke="#222" stroke-width="1.15"/>
<line x1="594.62" y1="386" x2="594.62" y2="389.5" stroke="#222" stroke-width="1.15"/>
<line x1="602.19" y1="386" x2="602.19" y2="389.5" stroke="#222" stroke-width="1.15"/>
<line x1="609.76" y1="386" x2="609.76" y2="389.5" stroke="#222" stroke-width="1.15"/>
<line x1="617.33" y1="386" x2="617.33" y2="389.5" stroke="#222" stroke-width="1.15"/>
<line x1="632.47" y1="386" x2="632.47" y2="389.5" stroke="#222" stroke-width="1.15"/>
<line x1="640.04" y1="386" x2="640.04" y2="389.5" stroke="#222" stroke-width="1.15"/>
<line x1="647.61" y1="386" x2="647.61" y2="389.5" stroke="#222" stroke-width="1.15"/>
<line x1="655.18" y1="386" x2="655.18" y2="389.5" stroke="#222" stroke-width="1.15"/>
<line x1="670.32" y1="386" x2="670.32" y2="389.5" stroke="#222" stroke-width="1.15"/>
<line x1="677.89" y1="386" x2="677.89" y2="389.5" stroke="#222" stroke-width="1.15"/>
<text x="519.8" y="270.1" font-family="Liberation Sans, sans-serif" font-size="12" text-anchor="end" font-weight="normal" fill="#000">1.6</text>
<text x="519.8" y="296.35" font-family="Liberation Sans, sans-serif" font-size="12" text-anchor="end" font-weight="normal" fill="#000">1.4</text>
<text x="519.8" y="322.6" font-family="Liberation Sans, sans-serif" font-size="12" text-anchor="end" font-weight="normal" fill="#000">1.2</text>
<text x="519.8" y="348.85" font-family="Liberation Sans, sans-serif" font-size="12" text-anchor="end" font-weight="normal" fill="#000">1.0</text>
<text x="519.8" y="375.1" font-family="Liberation Sans, sans-serif" font-size="12" text-anchor="end" font-weight="normal" fill="#000">0.8</text>
<text x="541.7" y="404.8" font-family="Liberation Sans, sans-serif" font-size="12" text-anchor="middle" font-weight="normal" fill="#000">-0.1</text>
<text x="624.6" y="404.8" font-family="Liberation Sans, sans-serif" font-size="12" text-anchor="middle" font-weight="normal" fill="#000">0</text>
<text x="607.5" y="419.4" font-family="Liberation Sans, sans-serif" font-size="12" text-anchor="middle" font-weight="normal" fill="#000">Mid-slope shift (%)</text>
<text x="491.9" y="315.6" font-family="Liberation Sans, sans-serif" font-size="11.3" text-anchor="middle" font-weight="normal" fill="#000" transform="rotate(-90 491.9 315.6)">Time ratio</text>
<text x="608.1" y="236.3" font-family="Liberation Sans, sans-serif" font-size="13" text-anchor="middle" font-weight="bold" fill="#000">1:1 Mix</text>
<text x="543.4" y="259.5" font-family="Liberation Sans, sans-serif" font-size="11.8" text-anchor="start" font-weight="normal" fill="#000">Total cells 51 586</text>
<line x1="47.3" y1="527.4" x2="148.2" y2="527.4" stroke="#a8a8a8" stroke-width="1"/>
<line x1="148.2" y1="527.4" x2="148.2" y2="627.6" stroke="#d2d2d2" stroke-width="1"/>
<line x1="47.3" y1="627.6" x2="148.2" y2="627.6" stroke="#cfcfcf" stroke-width="1"/>
<line x1="47.3" y1="527.4" x2="47.3" y2="627.6" stroke="#b8b8b8" stroke-width="1"/>
<line x1="40.7" y1="627.6" x2="47.3" y2="627.6" stroke="#000" stroke-width="1.8"/>
<line x1="40.7" y1="608.55" x2="47.3" y2="608.55" stroke="#000" stroke-width="1.8"/>
<line x1="40.7" y1="589.5" x2="47.3" y2="589.5" stroke="#000" stroke-width="1.8"/>
<line x1="40.7" y1="570.45" x2="47.3" y2="570.45" stroke="#000" stroke-width="1.8"/>
<line x1="40.7" y1="551.4" x2="47.3" y2="551.4" stroke="#000" stroke-width="1.8"/>
<line x1="40.7" y1="532.35" x2="47.3" y2="532.35" stroke="#000" stroke-width="1.8"/>
<line x1="44.3" y1="622.84" x2="47.3" y2="622.84" stroke="#222" stroke-width="1.1"/>
<line x1="44.3" y1="618.08" x2="47.3" y2="618.08" stroke="#222" stroke-width="1.1"/>
<line x1="44.3" y1="613.31" x2="47.3" y2="613.31" stroke="#222" stroke-width="1.1"/>
<line x1="44.3" y1="603.79" x2="47.3" y2="603.79" stroke="#222" stroke-width="1.1"/>
<line x1="44.3" y1="599.02" x2="47.3" y2="599.02" stroke="#222" stroke-width="1.1"/>
<line x1="44.3" y1="594.26" x2="47.3" y2="594.26" stroke="#222" stroke-width="1.1"/>
<line x1="44.3" y1="584.74" x2="47.3" y2="584.74" stroke="#222" stroke-width="1.1"/>
<line x1="44.3" y1="579.98" x2="47.3" y2="579.98" stroke="#222" stroke-width="1.1"/>
<line x1="44.3" y1="575.21" x2="47.3" y2="575.21" stroke="#222" stroke-width="1.1"/>
<line x1="44.3" y1="565.69" x2="47.3" y2="565.69" stroke="#222" stroke-width="1.1"/>
<line x1="44.3" y1="560.93" x2="47.3" y2="560.93" stroke="#222" stroke-width="1.1"/>
<line x1="44.3" y1="556.16" x2="47.3" y2="556.16" stroke="#222" stroke-width="1.1"/>
<line x1="44.3" y1="546.64" x2="47.3" y2="546.64" stroke="#222" stroke-width="1.1"/>
<line x1="44.3" y1="541.88" x2="47.3" y2="541.88" stroke="#222" stroke-width="1.1"/>
<line x1="44.3" y1="537.11" x2="47.3" y2="537.11" stroke="#222" stroke-width="1.1"/>
<line x1="44.3" y1="527.59" x2="47.3" y2="527.59" stroke="#222" stroke-width="1.1"/>
<text x="35.9" y="627.1" font-family="Liberation Sans, sans-serif" font-size="12" text-anchor="end" font-weight="normal" fill="#000">0</text>
<text x="35.9" y="595.8" font-family="Liberation Sans, sans-serif" font-size="12" text-anchor="end" font-weight="normal" fill="#000">40</text>
<text x="35.9" y="557.3" font-family="Liberation Sans, sans-serif" font-size="12" text-anchor="end" font-weight="normal" fill="#000">80</text>
<text x="17" y="580.6" font-family="Liberation Sans, sans-serif" font-size="12" text-anchor="middle" font-weight="normal" fill="#000" transform="rotate(-90 17 580.6)">Normalized To Mode</text>
<line x1="77.9" y1="628.2" x2="77.9" y2="635.4" stroke="#000" stroke-width="1.9"/>
<line x1="110.5" y1="628.2" x2="110.5" y2="635.4" stroke="#000" stroke-width="1.9"/>
<line x1="143.1" y1="628.2" x2="143.1" y2="635.4" stroke="#000" stroke-width="1.9"/>
<line x1="69.75" y1="628.2" x2="69.75" y2="631.8" stroke="#222" stroke-width="1.15"/>
<line x1="61.6" y1="628.2" x2="61.6" y2="631.8" stroke="#222" stroke-width="1.15"/>
<line x1="53.45" y1="628.2" x2="53.45" y2="631.8" stroke="#222" stroke-width="1.15"/>
<line x1="86.05" y1="628.2" x2="86.05" y2="631.8" stroke="#222" stroke-width="1.15"/>
<line x1="94.2" y1="628.2" x2="94.2" y2="631.8" stroke="#222" stroke-width="1.15"/>
<line x1="102.35" y1="628.2" x2="102.35" y2="631.8" stroke="#222" stroke-width="1.15"/>
<line x1="118.65" y1="628.2" x2="118.65" y2="631.8" stroke="#222" stroke-width="1.15"/>
<line x1="126.8" y1="628.2" x2="126.8" y2="631.8" stroke="#222" stroke-width="1.15"/>
<line x1="134.95" y1="628.2" x2="134.95" y2="631.8" stroke="#222" stroke-width="1.15"/>
<path d="M89.45,627.39 C89.83,626.93 90.98,626.37 91.75,624.63 C92.52,622.89 93.36,619.52 94.05,616.97 C94.74,614.41 95.38,611.35 95.89,609.3 C96.4,607.26 96.71,607 97.12,604.71 C97.52,602.41 97.96,598.57 98.34,595.51 C98.72,592.44 99.11,589.38 99.41,586.31 C99.72,583.25 99.93,579.67 100.18,577.12 C100.44,574.56 100.69,573.54 100.95,570.98 C101.2,568.43 101.46,564.34 101.71,561.79 C101.97,559.23 102.28,558.21 102.48,555.66 C102.68,553.1 102.76,548.76 102.94,546.46 C103.12,544.16 103.37,542.88 103.55,541.86 C103.73,540.84 103.81,540.84 104.01,540.33 C104.22,539.82 104.52,538.8 104.78,538.8 C105.03,538.8 105.29,538.03 105.55,540.33 C105.8,542.63 106.06,549.01 106.31,552.59 C106.57,556.17 106.82,558.72 107.08,561.79 C107.33,564.85 107.46,567.41 107.84,570.98 C108.23,574.56 108.87,580.18 109.38,583.25 C109.89,586.31 110.4,586.82 110.91,589.38 C111.42,591.93 111.93,596.15 112.44,598.57 C112.95,601 113.47,602.41 113.98,603.94 C114.49,605.47 115,606.49 115.51,607.77 C116.02,609.05 116.53,610.33 117.04,611.6 C117.55,612.88 118.06,614.41 118.57,615.44 C119.09,616.46 119.6,616.97 120.11,617.73 C120.62,618.5 121,619.27 121.64,620.03 C122.28,620.8 123.17,621.69 123.94,622.33 C124.71,622.97 125.22,623.35 126.24,623.87 C127.26,624.38 128.79,625.02 130.07,625.4 C131.35,625.78 132.5,625.91 133.9,626.16 C135.31,626.42 136.97,626.73 138.5,626.93 C140.03,627.14 142.33,627.31 143.1,627.39 L143.1,627.6 L89.45,627.6 Z" fill="#c6c6c6" stroke="none"/>
<path d="M89.45,627.39 C89.83,626.93 90.98,626.37 91.75,624.63 C92.52,622.89 93.36,619.52 94.05,616.97 C94.74,614.41 95.38,611.35 95.89,609.3 C96.4,607.26 96.71,607 97.12,604.71 C97.52,602.41 97.96,598.57 98.34,595.51 C98.72,592.44 99.11,589.38 99.41,586.31 C99.72,583.25 99.93,579.67 100.18,577.12 C100.44,574.56 100.69,573.54 100.95,570.98 C101.2,568.43 101.46,564.34 101.71,561.79 C101.97,559.23 102.28,558.21 102.48,555.66 C102.68,553.1 102.76,548.76 102.94,546.46 C103.12,544.16 103.37,542.88 103.55,541.86 C103.73,540.84 103.81,540.84 104.01,540.33 C104.22,539.82 104.52,538.8 104.78,538.8 C105.03,538.8 105.29,538.03 105.55,540.33 C105.8,542.63 106.06,549.01 106.31,552.59 C106.57,556.17 106.82,558.72 107.08,561.79 C107.33,564.85 107.46,567.41 107.84,570.98 C108.23,574.56 108.87,580.18 109.38,583.25 C109.89,586.31 110.4,586.82 110.91,589.38 C111.42,591.93 111.93,596.15 112.44,598.57 C112.95,601 113.47,602.41 113.98,603.94 C114.49,605.47 115,606.49 115.51,607.77 C116.02,609.05 116.53,610.33 117.04,611.6 C117.55,612.88 118.06,614.41 118.57,615.44 C119.09,616.46 119.6,616.97 120.11,617.73 C120.62,618.5 121,619.27 121.64,620.03 C122.28,620.8 123.17,621.69 123.94,622.33 C124.71,622.97 125.22,623.35 126.24,623.87 C127.26,624.38 128.79,625.02 130.07,625.4 C131.35,625.78 132.5,625.91 133.9,626.16 C135.31,626.42 136.97,626.73 138.5,626.93 C140.03,627.14 142.33,627.31 143.1,627.39" fill="none" stroke="#111" stroke-width="1"/>
<path d="M75.66,627.39 C76.04,626.93 77.19,625.86 77.96,624.63 C78.72,623.41 79.62,622.33 80.25,620.03 C80.89,617.73 81.4,614.41 81.79,610.84 C82.17,607.26 82.25,601.64 82.55,598.57 C82.86,595.51 83.24,593.98 83.63,592.44 C84.01,590.91 84.5,590.91 84.85,589.38 C85.21,587.84 85.52,585.55 85.77,583.25 C86.03,580.95 86.16,578.14 86.39,575.58 C86.62,573.03 86.95,569.71 87.15,567.92 C87.36,566.13 87.43,566.13 87.61,564.85 C87.79,563.58 88.05,561.28 88.23,560.25 C88.4,559.23 88.43,559.36 88.68,558.72 C88.94,558.08 89.43,557.96 89.76,556.42 C90.09,554.89 90.47,550.93 90.68,549.52 C90.88,548.12 90.68,548.63 90.98,547.99 C91.29,547.35 92.06,546.2 92.52,545.69 C92.98,545.18 93.44,544.8 93.74,544.93 C94.05,545.05 94.05,546.2 94.36,546.46 C94.66,546.71 95.25,546.84 95.58,546.46 C95.91,546.08 96.09,545.05 96.35,544.16 C96.6,543.27 96.86,541.73 97.12,541.09 C97.37,540.46 97.63,540.97 97.88,540.33 C98.14,539.69 98.39,538.28 98.65,537.26 C98.9,536.24 99.21,534.2 99.41,534.2 C99.62,534.2 99.7,536.37 99.87,537.26 C100.05,538.16 100.18,539.05 100.49,539.56 C100.79,540.07 101.3,539.94 101.71,540.33 C102.12,540.71 102.56,540.58 102.94,541.86 C103.32,543.14 103.71,545.95 104.01,547.99 C104.32,550.04 104.52,550.8 104.78,554.12 C105.03,557.44 105.29,563.83 105.55,567.92 C105.8,572.01 105.93,574.82 106.31,578.65 C106.7,582.48 107.33,586.57 107.84,590.91 C108.36,595.25 108.87,600.87 109.38,604.71 C109.89,608.54 110.4,611.35 110.91,613.9 C111.42,616.46 111.68,618.5 112.44,620.03 C113.21,621.57 113.98,622.21 115.51,623.1 C117.04,623.99 119.85,624.89 121.64,625.4 C123.43,625.91 124.71,625.91 126.24,626.16 C127.77,626.42 127.77,626.73 130.84,626.93 C133.9,627.14 142.33,627.31 144.63,627.39" fill="none" stroke="#333" stroke-width="0.8" stroke-dasharray="1,1"/>
<path d="M83.32,627.39 C83.52,626.68 84.16,624.84 84.55,623.1 C84.93,621.36 85.31,619.01 85.62,616.97 C85.93,614.92 86.13,613.39 86.39,610.84 C86.64,608.28 86.9,604.45 87.15,601.64 C87.41,598.83 87.66,596.02 87.92,593.98 C88.17,591.93 88.43,591.42 88.68,589.38 C88.94,587.33 89.2,584.27 89.45,581.71 C89.71,579.16 89.96,575.58 90.22,574.05 C90.47,572.52 90.73,573.03 90.98,572.52 C91.24,572.01 91.49,571.49 91.75,570.98 C92.01,570.47 92.26,570.47 92.52,569.45 C92.77,568.43 93.03,566.39 93.28,564.85 C93.54,563.32 93.79,561.79 94.05,560.25 C94.31,558.72 94.56,556.81 94.82,555.66 C95.07,554.51 95.33,554.12 95.58,553.36 C95.84,552.59 96.09,551.95 96.35,551.06 C96.6,550.16 96.86,549.27 97.12,547.99 C97.37,546.71 97.63,545.18 97.88,543.39 C98.14,541.61 98.44,538.8 98.65,537.26 C98.85,535.73 98.93,534.32 99.11,534.2 C99.29,534.07 99.49,535.6 99.72,536.5 C99.95,537.39 100.26,538.16 100.49,539.56 C100.72,540.97 100.9,544.29 101.1,544.93 C101.3,545.57 101.51,542.63 101.71,543.39 C101.92,544.16 102.12,546.2 102.33,549.52 C102.53,552.85 102.66,557.19 102.94,563.32 C103.22,569.45 103.58,579.41 104.01,586.31 C104.45,593.21 105.03,599.6 105.55,604.71 C106.06,609.82 106.44,613.9 107.08,616.97 C107.72,620.03 108.48,621.57 109.38,623.1 C110.27,624.63 111.17,625.45 112.44,626.16 C113.72,626.88 116.28,627.19 117.04,627.39" fill="none" stroke="#111" stroke-width="1"/>
<text x="77.3" y="648.6" font-family="Liberation Sans, sans-serif" font-size="12" text-anchor="middle" font-weight="normal" fill="#000">1.00</text>
<text x="139.2" y="648.6" font-family="Liberation Sans, sans-serif" font-size="12" text-anchor="middle" font-weight="normal" fill="#000">3.0</text>
<text x="97" y="664.4" font-family="Liberation Sans, sans-serif" font-size="12" text-anchor="middle" font-weight="normal" fill="#000">Maximum (dB)</text>
<line x1="225.4" y1="527.2" x2="326.4" y2="527.2" stroke="#a8a8a8" stroke-width="1"/>
<line x1="326.4" y1="527.2" x2="326.4" y2="627.4" stroke="#d2d2d2" stroke-width="1"/>
<line x1="225.4" y1="627.4" x2="326.4" y2="627.4" stroke="#cfcfcf" stroke-width="1"/>
<line x1="225.4" y1="527.2" x2="225.4" y2="627.4" stroke="#b8b8b8" stroke-width="1"/>
<line x1="218.8" y1="627.4" x2="225.4" y2="627.4" stroke="#000" stroke-width="1.8"/>
<line x1="218.8" y1="608.35" x2="225.4" y2="608.35" stroke="#000" stroke-width="1.8"/>
<line x1="218.8" y1="589.3" x2="225.4" y2="589.3" stroke="#000" stroke-width="1.8"/>
<line x1="218.8" y1="570.25" x2="225.4" y2="570.25" stroke="#000" stroke-width="1.8"/>
<line x1="218.8" y1="551.2" x2="225.4" y2="551.2" stroke="#000" stroke-width="1.8"/>
<line x1="218.8" y1="532.15" x2="225.4" y2="532.15" stroke="#000" stroke-width="1.8"/>
<line x1="222.4" y1="622.64" x2="225.4" y2="622.64" stroke="#222" stroke-width="1.1"/>
<line x1="222.4" y1="617.88" x2="225.4" y2="617.88" stroke="#222" stroke-width="1.1"/>
<line x1="222.4" y1="613.11" x2="225.4" y2="613.11" stroke="#222" stroke-width="1.1"/>
<line x1="222.4" y1="603.59" x2="225.4" y2="603.59" stroke="#222" stroke-width="1.1"/>
<line x1="222.4" y1="598.82" x2="225.4" y2="598.82" stroke="#222" stroke-width="1.1"/>
<line x1="222.4" y1="594.06" x2="225.4" y2="594.06" stroke="#222" stroke-width="1.1"/>
<line x1="222.4" y1="584.54" x2="225.4" y2="584.54" stroke="#222" stroke-width="1.1"/>
<line x1="222.4" y1="579.77" x2="225.4" y2="579.77" stroke="#222" stroke-width="1.1"/>
<line x1="222.4" y1="575.01" x2="225.4" y2="575.01" stroke="#222" stroke-width="1.1"/>
<line x1="222.4" y1="565.49" x2="225.4" y2="565.49" stroke="#222" stroke-width="1.1"/>
<line x1="222.4" y1="560.73" x2="225.4" y2="560.73" stroke="#222" stroke-width="1.1"/>
<line x1="222.4" y1="555.96" x2="225.4" y2="555.96" stroke="#222" stroke-width="1.1"/>
<line x1="222.4" y1="546.44" x2="225.4" y2="546.44" stroke="#222" stroke-width="1.1"/>
<line x1="222.4" y1="541.67" x2="225.4" y2="541.67" stroke="#222" stroke-width="1.1"/>
<line x1="222.4" y1="536.91" x2="225.4" y2="536.91" stroke="#222" stroke-width="1.1"/>
<line x1="222.4" y1="527.39" x2="225.4" y2="527.39" stroke="#222" stroke-width="1.1"/>
<text x="214" y="626.9" font-family="Liberation Sans, sans-serif" font-size="12" text-anchor="end" font-weight="normal" fill="#000">0</text>
<text x="214" y="595.6" font-family="Liberation Sans, sans-serif" font-size="12" text-anchor="end" font-weight="normal" fill="#000">40</text>
<text x="214" y="557.1" font-family="Liberation Sans, sans-serif" font-size="12" text-anchor="end" font-weight="normal" fill="#000">80</text>
<text x="195.5" y="578.9" font-family="Liberation Sans, sans-serif" font-size="12" text-anchor="middle" font-weight="normal" fill="#000" transform="rotate(-90 195.5 578.9)">Normalized To Mode</text>
<line x1="253" y1="628" x2="253" y2="635.2" stroke="#000" stroke-width="1.9"/>
<line x1="282.2" y1="628" x2="282.2" y2="635.2" stroke="#000" stroke-width="1.9"/>
<line x1="311.4" y1="628" x2="311.4" y2="635.2" stroke="#000" stroke-width="1.9"/>
<line x1="245.7" y1="628" x2="245.7" y2="631.6" stroke="#222" stroke-width="1.15"/>
<line x1="238.4" y1="628" x2="238.4" y2="631.6" stroke="#222" stroke-width="1.15"/>
<line x1="231.1" y1="628" x2="231.1" y2="631.6" stroke="#222" stroke-width="1.15"/>
<line x1="260.3" y1="628" x2="260.3" y2="631.6" stroke="#222" stroke-width="1.15"/>
<line x1="267.6" y1="628" x2="267.6" y2="631.6" stroke="#222" stroke-width="1.15"/>
<line x1="274.9" y1="628" x2="274.9" y2="631.6" stroke="#222" stroke-width="1.15"/>
<line x1="289.5" y1="628" x2="289.5" y2="631.6" stroke="#222" stroke-width="1.15"/>
<line x1="296.8" y1="628" x2="296.8" y2="631.6" stroke="#222" stroke-width="1.15"/>
<line x1="304.1" y1="628" x2="304.1" y2="631.6" stroke="#222" stroke-width="1.15"/>
<line x1="318.7" y1="628" x2="318.7" y2="631.6" stroke="#222" stroke-width="1.15"/>
<line x1="326" y1="628" x2="326" y2="631.6" stroke="#222" stroke-width="1.15"/>
<path d="M267.92,627.39 C268.12,626.68 268.76,624.84 269.14,623.1 C269.53,621.36 269.91,620.03 270.22,616.97 C270.52,613.9 270.6,608.03 270.98,604.71 C271.37,601.38 272.06,598.7 272.52,597.04 C272.98,595.38 273.36,595.76 273.74,594.74 C274.13,593.72 274.51,592.57 274.82,590.91 C275.12,589.25 275.2,586.57 275.58,584.78 C275.97,582.99 276.66,581.46 277.12,580.18 C277.58,578.9 277.96,578.14 278.34,577.12 C278.72,576.09 279.06,575.07 279.41,574.05 C279.77,573.03 280.1,572.26 280.49,570.98 C280.87,569.71 281.3,567.36 281.71,566.39 C282.12,565.41 282.56,564.9 282.94,565.16 C283.32,565.41 283.66,567.59 284.01,567.92 C284.37,568.25 284.75,567.02 285.09,567.15 C285.42,567.28 285.67,567.54 286.01,568.68 C286.34,569.83 286.64,571.11 287.08,574.05 C287.51,576.99 288.1,582.48 288.61,586.31 C289.12,590.14 289.51,593.47 290.14,597.04 C290.78,600.62 291.55,604.45 292.44,607.77 C293.34,611.09 294.49,614.67 295.51,616.97 C296.53,619.27 297.55,620.29 298.57,621.57 C299.6,622.84 300.36,623.81 301.64,624.63 C302.92,625.45 304.71,626.01 306.24,626.47 C307.77,626.93 310.07,627.24 310.84,627.39 L310.84,627.4 L267.92,627.4 Z" fill="#c6c6c6" stroke="none"/>
<path d="M267.92,627.39 C268.12,626.68 268.76,624.84 269.14,623.1 C269.53,621.36 269.91,620.03 270.22,616.97 C270.52,613.9 270.6,608.03 270.98,604.71 C271.37,601.38 272.06,598.7 272.52,597.04 C272.98,595.38 273.36,595.76 273.74,594.74 C274.13,593.72 274.51,592.57 274.82,590.91 C275.12,589.25 275.2,586.57 275.58,584.78 C275.97,582.99 276.66,581.46 277.12,580.18 C277.58,578.9 277.96,578.14 278.34,577.12 C278.72,576.09 279.06,575.07 279.41,574.05 C279.77,573.03 280.1,572.26 280.49,570.98 C280.87,569.71 281.3,567.36 281.71,566.39 C282.12,565.41 282.56,564.9 282.94,565.16 C283.32,565.41 283.66,567.59 284.01,567.92 C284.37,568.25 284.75,567.02 285.09,567.15 C285.42,567.28 285.67,567.54 286.01,568.68 C286.34,569.83 286.64,571.11 287.08,574.05 C287.51,576.99 288.1,582.48 288.61,586.31 C289.12,590.14 289.51,593.47 290.14,597.04 C290.78,600.62 291.55,604.45 292.44,607.77 C293.34,611.09 294.49,614.67 295.51,616.97 C296.53,619.27 297.55,620.29 298.57,621.57 C299.6,622.84 300.36,623.81 301.64,624.63 C302.92,625.45 304.71,626.01 306.24,626.47 C307.77,626.93 310.07,627.24 310.84,627.39" fill="none" stroke="#111" stroke-width="1"/>
<path d="M246.46,627.39 C246.84,626.16 248.12,623.05 248.76,620.03 C249.4,617.02 249.78,613.65 250.29,609.3 C250.8,604.96 251.31,597.3 251.82,593.98 C252.33,590.66 252.85,591.42 253.36,589.38 C253.87,587.33 254.38,584.52 254.89,581.71 C255.4,578.9 255.99,574.82 256.42,572.52 C256.86,570.22 257.16,569.45 257.5,567.92 C257.83,566.39 258.16,564.85 258.42,563.32 C258.67,561.79 258.77,558.47 259.03,558.72 C259.28,558.98 259.62,563.32 259.95,564.85 C260.28,566.39 260.59,566.13 261.02,567.92 C261.46,569.71 262.04,573.03 262.55,575.58 C263.06,578.14 263.65,580.95 264.09,583.25 C264.52,585.55 264.78,588.61 265.16,589.38 C265.54,590.14 265.98,587.72 266.39,587.84 C266.79,587.97 267.15,589.89 267.61,590.14 C268.07,590.4 268.71,590.53 269.14,589.38 C269.58,588.23 269.78,584.01 270.22,583.25 C270.65,582.48 271.24,584.78 271.75,584.78 C272.26,584.78 272.77,583.37 273.28,583.25 C273.79,583.12 274.43,584.52 274.82,584.01 C275.2,583.5 275.2,581.08 275.58,580.18 C275.97,579.29 276.66,579.41 277.12,578.65 C277.58,577.88 277.96,576.35 278.34,575.58 C278.72,574.82 279.24,574.31 279.41,574.05" fill="none" stroke="#777" stroke-width="0.8"/>
<path d="M275.58,586.31 C275.79,587.84 276.43,592.44 276.81,595.51 C277.19,598.57 277.45,601.9 277.88,604.71 C278.32,607.52 278.9,610.07 279.41,612.37 C279.93,614.67 280.31,616.84 280.95,618.5 C281.59,620.16 282.35,621.31 283.25,622.33 C284.14,623.35 284.78,623.99 286.31,624.63 C287.84,625.27 289.89,625.76 292.44,626.16 C295,626.57 299.09,626.88 301.64,627.08 C304.19,627.29 306.75,627.34 307.77,627.39" fill="none" stroke="#777" stroke-width="0.8"/>
<path d="M246.46,627.39 C246.71,626.68 247.53,624.84 247.99,623.1 C248.45,621.36 248.84,619.27 249.22,616.97 C249.6,614.67 249.86,613.14 250.29,609.3 C250.73,605.47 251.31,597.3 251.82,593.98 C252.33,590.66 252.85,591.42 253.36,589.38 C253.87,587.33 254.38,584.52 254.89,581.71 C255.4,578.9 255.99,574.82 256.42,572.52 C256.86,570.22 257.16,569.45 257.5,567.92 C257.83,566.39 258.16,564.85 258.42,563.32 C258.67,561.79 258.82,558.98 259.03,558.72 C259.23,558.47 259.44,560.77 259.64,561.79 C259.85,562.81 260.02,563.83 260.25,564.85 C260.48,565.87 260.77,566.39 261.02,567.92 C261.28,569.45 261.46,571.49 261.79,574.05 C262.12,576.6 262.55,579.93 263.01,583.25 C263.47,586.57 264.11,590.14 264.55,593.98 C264.98,597.81 265.26,602.41 265.62,606.24 C265.98,610.07 266.31,614.03 266.69,616.97 C267.08,619.91 267.46,622.21 267.92,623.87 C268.38,625.53 268.68,626.34 269.45,626.93 C270.22,627.52 272.01,627.31 272.52,627.39" fill="none" stroke="#111" stroke-width="1"/>
<text x="252.3" y="648.6" font-family="Liberation Sans, sans-serif" font-size="12" text-anchor="middle" font-weight="normal" fill="#000">80</text>
<text x="311.8" y="648.6" font-family="Liberation Sans, sans-serif" font-size="12" text-anchor="middle" font-weight="normal" fill="#000">120</text>
<text x="275.4" y="665.2" font-family="Liberation Sans, sans-serif" font-size="12" text-anchor="middle" font-weight="normal" fill="#000">Cell time (us)</text>
<line x1="403.9" y1="529.6" x2="505.2" y2="529.6" stroke="#a8a8a8" stroke-width="1"/>
<line x1="505.2" y1="529.6" x2="505.2" y2="630" stroke="#d2d2d2" stroke-width="1"/>
<line x1="403.9" y1="630" x2="505.2" y2="630" stroke="#cfcfcf" stroke-width="1"/>
<line x1="403.9" y1="529.6" x2="403.9" y2="630" stroke="#b8b8b8" stroke-width="1"/>
<line x1="397.3" y1="630" x2="403.9" y2="630" stroke="#000" stroke-width="1.8"/>
<line x1="397.3" y1="610.95" x2="403.9" y2="610.95" stroke="#000" stroke-width="1.8"/>
<line x1="397.3" y1="591.9" x2="403.9" y2="591.9" stroke="#000" stroke-width="1.8"/>
<line x1="397.3" y1="572.85" x2="403.9" y2="572.85" stroke="#000" stroke-width="1.8"/>
<line x1="397.3" y1="553.8" x2="403.9" y2="553.8" stroke="#000" stroke-width="1.8"/>
<line x1="397.3" y1="534.75" x2="403.9" y2="534.75" stroke="#000" stroke-width="1.8"/>
<line x1="400.9" y1="625.24" x2="403.9" y2="625.24" stroke="#222" stroke-width="1.1"/>
<line x1="400.9" y1="620.48" x2="403.9" y2="620.48" stroke="#222" stroke-width="1.1"/>
<line x1="400.9" y1="615.71" x2="403.9" y2="615.71" stroke="#222" stroke-width="1.1"/>
<line x1="400.9" y1="606.19" x2="403.9" y2="606.19" stroke="#222" stroke-width="1.1"/>
<line x1="400.9" y1="601.42" x2="403.9" y2="601.42" stroke="#222" stroke-width="1.1"/>
<line x1="400.9" y1="596.66" x2="403.9" y2="596.66" stroke="#222" stroke-width="1.1"/>
<line x1="400.9" y1="587.14" x2="403.9" y2="587.14" stroke="#222" stroke-width="1.1"/>
<line x1="400.9" y1="582.38" x2="403.9" y2="582.38" stroke="#222" stroke-width="1.1"/>
<line x1="400.9" y1="577.61" x2="403.9" y2="577.61" stroke="#222" stroke-width="1.1"/>
<line x1="400.9" y1="568.09" x2="403.9" y2="568.09" stroke="#222" stroke-width="1.1"/>
<line x1="400.9" y1="563.33" x2="403.9" y2="563.33" stroke="#222" stroke-width="1.1"/>
<line x1="400.9" y1="558.56" x2="403.9" y2="558.56" stroke="#222" stroke-width="1.1"/>
<line x1="400.9" y1="549.04" x2="403.9" y2="549.04" stroke="#222" stroke-width="1.1"/>
<line x1="400.9" y1="544.27" x2="403.9" y2="544.27" stroke="#222" stroke-width="1.1"/>
<line x1="400.9" y1="539.51" x2="403.9" y2="539.51" stroke="#222" stroke-width="1.1"/>
<line x1="400.9" y1="529.99" x2="403.9" y2="529.99" stroke="#222" stroke-width="1.1"/>
<text x="392.5" y="629.5" font-family="Liberation Sans, sans-serif" font-size="12" text-anchor="end" font-weight="normal" fill="#000">0</text>
<text x="392.5" y="598.2" font-family="Liberation Sans, sans-serif" font-size="12" text-anchor="end" font-weight="normal" fill="#000">40</text>
<text x="392.5" y="559.7" font-family="Liberation Sans, sans-serif" font-size="12" text-anchor="end" font-weight="normal" fill="#000">80</text>
<text x="373.9" y="581.5" font-family="Liberation Sans, sans-serif" font-size="12" text-anchor="middle" font-weight="normal" fill="#000" transform="rotate(-90 373.9 581.5)">Normalized To Mode</text>
<line x1="405" y1="630.6" x2="405" y2="637.8" stroke="#000" stroke-width="1.9"/>
<line x1="437.9" y1="630.6" x2="437.9" y2="637.8" stroke="#000" stroke-width="1.9"/>
<line x1="470.8" y1="630.6" x2="470.8" y2="637.8" stroke="#000" stroke-width="1.9"/>
<line x1="503.7" y1="630.6" x2="503.7" y2="637.8" stroke="#000" stroke-width="1.9"/>
<line x1="413.23" y1="630.6" x2="413.23" y2="634.2" stroke="#222" stroke-width="1.15"/>
<line x1="421.45" y1="630.6" x2="421.45" y2="634.2" stroke="#222" stroke-width="1.15"/>
<line x1="429.67" y1="630.6" x2="429.67" y2="634.2" stroke="#222" stroke-width="1.15"/>
<line x1="446.12" y1="630.6" x2="446.12" y2="634.2" stroke="#222" stroke-width="1.15"/>
<line x1="454.35" y1="630.6" x2="454.35" y2="634.2" stroke="#222" stroke-width="1.15"/>
<line x1="462.57" y1="630.6" x2="462.57" y2="634.2" stroke="#222" stroke-width="1.15"/>
<line x1="479.02" y1="630.6" x2="479.02" y2="634.2" stroke="#222" stroke-width="1.15"/>
<line x1="487.25" y1="630.6" x2="487.25" y2="634.2" stroke="#222" stroke-width="1.15"/>
<line x1="495.47" y1="630.6" x2="495.47" y2="634.2" stroke="#222" stroke-width="1.15"/>
<path d="M425.99,629.7 C426.25,629.44 427.01,628.93 427.52,628.16 C428.04,627.4 428.55,627.65 429.06,625.1 C429.57,622.54 430.13,618.46 430.59,612.84 C431.05,607.22 431.43,599.3 431.82,591.38 C432.2,583.46 432.58,572.98 432.89,565.32 C433.2,557.66 433.4,550.12 433.66,545.39 C433.91,540.67 434.17,537.99 434.42,536.96 C434.68,535.94 434.93,535.81 435.19,539.26 C435.44,542.71 435.57,550.76 435.96,557.66 C436.34,564.55 436.98,574.52 437.49,580.65 C438,586.78 438.51,591.63 439.02,594.44 C439.53,597.25 440.04,596.49 440.55,597.51 C441.06,598.53 441.58,599.55 442.09,600.57 C442.6,601.6 443.11,602.75 443.62,603.64 C444.13,604.53 444.51,605.3 445.15,605.94 C445.79,606.58 446.81,606.71 447.45,607.47 C448.09,608.24 448.47,609.39 448.98,610.54 C449.49,611.69 449.88,612.96 450.52,614.37 C451.16,615.77 452.05,617.56 452.82,618.97 C453.58,620.37 454.22,621.65 455.12,622.8 C456.01,623.95 456.9,624.97 458.18,625.87 C459.46,626.76 460.99,627.58 462.78,628.16 C464.57,628.75 466.61,629.14 468.91,629.39 C471.21,629.65 475.3,629.65 476.57,629.7 L476.57,630 L425.99,630 Z" fill="#c6c6c6" stroke="none"/>
<path d="M425.99,629.7 C426.25,629.44 427.01,628.93 427.52,628.16 C428.04,627.4 428.55,627.65 429.06,625.1 C429.57,622.54 430.13,618.46 430.59,612.84 C431.05,607.22 431.43,599.3 431.82,591.38 C432.2,583.46 432.58,572.98 432.89,565.32 C433.2,557.66 433.4,550.12 433.66,545.39 C433.91,540.67 434.17,537.99 434.42,536.96 C434.68,535.94 434.93,535.81 435.19,539.26 C435.44,542.71 435.57,550.76 435.96,557.66 C436.34,564.55 436.98,574.52 437.49,580.65 C438,586.78 438.51,591.63 439.02,594.44 C439.53,597.25 440.04,596.49 440.55,597.51 C441.06,598.53 441.58,599.55 442.09,600.57 C442.6,601.6 443.11,602.75 443.62,603.64 C444.13,604.53 444.51,605.3 445.15,605.94 C445.79,606.58 446.81,606.71 447.45,607.47 C448.09,608.24 448.47,609.39 448.98,610.54 C449.49,611.69 449.88,612.96 450.52,614.37 C451.16,615.77 452.05,617.56 452.82,618.97 C453.58,620.37 454.22,621.65 455.12,622.8 C456.01,623.95 456.9,624.97 458.18,625.87 C459.46,626.76 460.99,627.58 462.78,628.16 C464.57,628.75 466.61,629.14 468.91,629.39 C471.21,629.65 475.3,629.65 476.57,629.7" fill="none" stroke="#111" stroke-width="1"/>
<path d="M427.52,629.7 C427.78,629.19 428.55,628.42 429.06,626.63 C429.57,624.84 430.13,622.8 430.59,618.97 C431.05,615.14 431.43,608.75 431.82,603.64 C432.2,598.53 432.58,593.42 432.89,588.31 C433.2,583.2 433.4,578.09 433.66,572.98 C433.91,567.87 434.17,561.74 434.42,557.66 C434.68,553.57 434.93,550.89 435.19,548.46 C435.44,546.03 435.65,543.86 435.96,543.09 C436.26,542.33 436.65,542.2 437.03,543.86 C437.41,545.52 437.79,550.76 438.25,553.06 C438.71,555.36 439.28,554.33 439.79,557.66 C440.3,560.98 440.81,567.87 441.32,572.98 C441.83,578.09 442.39,584.74 442.85,588.31 C443.31,591.89 443.7,594.19 444.08,594.44 C444.46,594.7 444.79,591.89 445.15,589.84 C445.51,587.8 445.84,586.01 446.23,582.18 C446.61,578.35 446.99,571.2 447.45,566.85 C447.91,562.51 448.47,558.68 448.98,556.12 C449.49,553.57 450.06,552.42 450.52,551.52 C450.98,550.63 451.44,550.5 451.74,550.76 C452.05,551.01 452.05,550.63 452.36,553.06 C452.66,555.48 453.12,559.96 453.58,565.32 C454.04,570.68 454.6,578.86 455.12,585.25 C455.63,591.63 456.14,598.53 456.65,603.64 C457.16,608.75 457.67,612.84 458.18,615.9 C458.69,618.97 459.2,620.5 459.71,622.03 C460.22,623.57 460.48,624.33 461.25,625.1 C462.01,625.87 463.03,626.12 464.31,626.63 C465.59,627.14 466.87,627.71 468.91,628.16 C470.95,628.62 474.28,629.14 476.57,629.39 C478.87,629.65 481.68,629.65 482.71,629.7" fill="none" stroke="#777" stroke-width="0.8"/>
<path d="M442.09,629.7 C442.27,629.19 442.83,628.42 443.16,626.63 C443.49,624.84 443.75,623.31 444.08,618.97 C444.41,614.63 444.85,606.19 445.15,600.57 C445.46,594.95 445.66,591.12 445.92,585.25 C446.17,579.37 446.43,571.45 446.68,565.32 C446.94,559.19 447.14,552.42 447.45,548.46 C447.76,544.5 448.19,542.07 448.52,541.56 C448.86,541.05 449.16,541.43 449.44,545.39 C449.72,549.35 449.9,558.17 450.21,565.32 C450.52,572.47 450.85,581.16 451.28,588.31 C451.72,595.47 452.18,603.13 452.82,608.24 C453.45,613.35 454.22,616.16 455.12,618.97 C456.01,621.78 456.9,623.57 458.18,625.1 C459.46,626.63 460.99,627.45 462.78,628.16 C464.57,628.88 466.87,629.14 468.91,629.39 C470.95,629.65 474.02,629.65 475.04,629.7" fill="none" stroke="#111" stroke-width="1"/>
<text x="411.9" y="651.2" font-family="Liberation Sans, sans-serif" font-size="12" text-anchor="middle" font-weight="normal" fill="#000">0.2</text>
<text x="463.7" y="651.2" font-family="Liberation Sans, sans-serif" font-size="12" text-anchor="middle" font-weight="normal" fill="#000">0.6</text>
<text x="454.2" y="666.4" font-family="Liberation Sans, sans-serif" font-size="12" text-anchor="middle" font-weight="normal" fill="#000">Time ratio</text>
<line x1="582.8" y1="527.3" x2="683.7" y2="527.3" stroke="#a8a8a8" stroke-width="1"/>
<line x1="683.7" y1="527.3" x2="683.7" y2="627.4" stroke="#d2d2d2" stroke-width="1"/>
<line x1="582.8" y1="627.4" x2="683.7" y2="627.4" stroke="#cfcfcf" stroke-width="1"/>
<line x1="582.8" y1="527.3" x2="582.8" y2="627.4" stroke="#b8b8b8" stroke-width="1"/>
<line x1="576.2" y1="627.4" x2="582.8" y2="627.4" stroke="#000" stroke-width="1.8"/>
<line x1="576.2" y1="608.35" x2="582.8" y2="608.35" stroke="#000" stroke-width="1.8"/>
<line x1="576.2" y1="589.3" x2="582.8" y2="589.3" stroke="#000" stroke-width="1.8"/>
<line x1="576.2" y1="570.25" x2="582.8" y2="570.25" stroke="#000" stroke-width="1.8"/>
<line x1="576.2" y1="551.2" x2="582.8" y2="551.2" stroke="#000" stroke-width="1.8"/>
<line x1="576.2" y1="532.15" x2="582.8" y2="532.15" stroke="#000" stroke-width="1.8"/>
<line x1="579.8" y1="622.64" x2="582.8" y2="622.64" stroke="#222" stroke-width="1.1"/>
<line x1="579.8" y1="617.88" x2="582.8" y2="617.88" stroke="#222" stroke-width="1.1"/>
<line x1="579.8" y1="613.11" x2="582.8" y2="613.11" stroke="#222" stroke-width="1.1"/>
<line x1="579.8" y1="603.59" x2="582.8" y2="603.59" stroke="#222" stroke-width="1.1"/>
<line x1="579.8" y1="598.82" x2="582.8" y2="598.82" stroke="#222" stroke-width="1.1"/>
<line x1="579.8" y1="594.06" x2="582.8" y2="594.06" stroke="#222" stroke-width="1.1"/>
<line x1="579.8" y1="584.54" x2="582.8" y2="584.54" stroke="#222" stroke-width="1.1"/>
<line x1="579.8" y1="579.77" x2="582.8" y2="579.77" stroke="#222" stroke-width="1.1"/>
<line x1="579.8" y1="575.01" x2="582.8" y2="575.01" stroke="#222" stroke-width="1.1"/>
<line x1="579.8" y1="565.49" x2="582.8" y2="565.49" stroke="#222" stroke-width="1.1"/>
<line x1="579.8" y1="560.73" x2="582.8" y2="560.73" stroke="#222" stroke-width="1.1"/>
<line x1="579.8" y1="555.96" x2="582.8" y2="555.96" stroke="#222" stroke-width="1.1"/>
<line x1="579.8" y1="546.44" x2="582.8" y2="546.44" stroke="#222" stroke-width="1.1"/>
<line x1="579.8" y1="541.67" x2="582.8" y2="541.67" stroke="#222" stroke-width="1.1"/>
<line x1="579.8" y1="536.91" x2="582.8" y2="536.91" stroke="#222" stroke-width="1.1"/>
<line x1="579.8" y1="527.39" x2="582.8" y2="527.39" stroke="#222" stroke-width="1.1"/>
<text x="571.4" y="626.9" font-family="Liberation Sans, sans-serif" font-size="12" text-anchor="end" font-weight="normal" fill="#000">0</text>
<text x="571.4" y="595.6" font-family="Liberation Sans, sans-serif" font-size="12" text-anchor="end" font-weight="normal" fill="#000">40</text>
<text x="571.4" y="557.1" font-family="Liberation Sans, sans-serif" font-size="12" text-anchor="end" font-weight="normal" fill="#000">80</text>
<text x="552.2" y="578.9" font-family="Liberation Sans, sans-serif" font-size="12" text-anchor="middle" font-weight="normal" fill="#000" transform="rotate(-90 552.2 578.9)">Normalized To Mode</text>
<line x1="591.2" y1="628" x2="591.2" y2="635.2" stroke="#000" stroke-width="1.9"/>
<line x1="616.3" y1="628" x2="616.3" y2="635.2" stroke="#000" stroke-width="1.9"/>
<line x1="641.4" y1="628" x2="641.4" y2="635.2" stroke="#000" stroke-width="1.9"/>
<line x1="666.5" y1="628" x2="666.5" y2="635.2" stroke="#000" stroke-width="1.9"/>
<line x1="599.57" y1="628" x2="599.57" y2="631.6" stroke="#222" stroke-width="1.15"/>
<line x1="607.93" y1="628" x2="607.93" y2="631.6" stroke="#222" stroke-width="1.15"/>
<line x1="624.67" y1="628" x2="624.67" y2="631.6" stroke="#222" stroke-width="1.15"/>
<line x1="633.03" y1="628" x2="633.03" y2="631.6" stroke="#222" stroke-width="1.15"/>
<line x1="649.77" y1="628" x2="649.77" y2="631.6" stroke="#222" stroke-width="1.15"/>
<line x1="658.13" y1="628" x2="658.13" y2="631.6" stroke="#222" stroke-width="1.15"/>
<line x1="674.87" y1="628" x2="674.87" y2="631.6" stroke="#222" stroke-width="1.15"/>
<line x1="683.23" y1="628" x2="683.23" y2="631.6" stroke="#222" stroke-width="1.15"/>
<path d="M625.98,627.4 C626.49,625.99 628.16,623.44 629.05,618.97 C629.94,614.5 630.71,606.19 631.35,600.57 C631.99,594.95 632.37,590.36 632.88,585.25 C633.39,580.14 633.9,574.52 634.41,569.92 C634.93,565.32 635.44,561.49 635.95,557.66 C636.46,553.82 636.97,549.48 637.48,546.93 C637.99,544.37 638.5,542.84 639.01,542.33 C639.52,541.82 640.03,541.31 640.55,543.86 C641.06,546.42 641.57,552.8 642.08,557.66 C642.59,562.51 643.1,567.87 643.61,572.98 C644.12,578.09 644.63,584.22 645.14,588.31 C645.66,592.4 646.17,594.95 646.68,597.51 C647.19,600.06 647.7,602.11 648.21,603.64 C648.72,605.17 649.1,605.17 649.74,606.71 C650.38,608.24 651.15,610.54 652.04,612.84 C652.94,615.14 654.34,618.71 655.11,620.5 C655.87,622.29 656.13,622.54 656.64,623.57 C657.15,624.59 657.53,625.94 658.17,626.63 C658.81,627.32 660.09,627.53 660.47,627.71 L660.47,627.4 L625.98,627.4 Z" fill="#c6c6c6" stroke="none"/>
<path d="M625.98,627.4 C626.49,625.99 628.16,623.44 629.05,618.97 C629.94,614.5 630.71,606.19 631.35,600.57 C631.99,594.95 632.37,590.36 632.88,585.25 C633.39,580.14 633.9,574.52 634.41,569.92 C634.93,565.32 635.44,561.49 635.95,557.66 C636.46,553.82 636.97,549.48 637.48,546.93 C637.99,544.37 638.5,542.84 639.01,542.33 C639.52,541.82 640.03,541.31 640.55,543.86 C641.06,546.42 641.57,552.8 642.08,557.66 C642.59,562.51 643.1,567.87 643.61,572.98 C644.12,578.09 644.63,584.22 645.14,588.31 C645.66,592.4 646.17,594.95 646.68,597.51 C647.19,600.06 647.7,602.11 648.21,603.64 C648.72,605.17 649.1,605.17 649.74,606.71 C650.38,608.24 651.15,610.54 652.04,612.84 C652.94,615.14 654.34,618.71 655.11,620.5 C655.87,622.29 656.13,622.54 656.64,623.57 C657.15,624.59 657.53,625.94 658.17,626.63 C658.81,627.32 660.09,627.53 660.47,627.71" fill="none" stroke="#111" stroke-width="1"/>
<path d="M583.07,626.63 C585.11,626.76 590.73,627.27 595.33,627.4 C599.93,627.53 606.57,627.53 610.66,627.4 C614.74,627.27 617.55,627.27 619.85,626.63 C622.15,625.99 623.17,625.1 624.45,623.57 C625.73,622.03 626.75,619.99 627.52,617.44 C628.28,614.88 628.54,612.58 629.05,608.24 C629.56,603.9 630.07,596.74 630.58,591.38 C631.09,586.01 631.6,580.9 632.12,576.05 C632.63,571.2 633.14,566.34 633.65,562.25 C634.16,558.17 634.67,554.59 635.18,551.52 C635.69,548.46 636.25,545.9 636.71,543.86 C637.17,541.82 637.56,540.28 637.94,539.26 C638.32,538.24 638.71,537.35 639.01,537.73 C639.32,538.11 639.52,541.69 639.78,541.56 C640.03,541.43 640.29,537.47 640.55,536.96 C640.8,536.45 641.06,537.09 641.31,538.5 C641.57,539.9 641.82,542.2 642.08,545.39 C642.33,548.59 642.46,552.29 642.84,557.66 C643.23,563.02 643.87,571.96 644.38,577.58 C644.89,583.2 645.4,587.55 645.91,591.38 C646.42,595.21 646.93,598.53 647.44,600.57 C647.95,602.62 648.47,602.87 648.98,603.64 C649.49,604.41 650,604.15 650.51,605.17 C651.02,606.19 651.53,608.24 652.04,609.77 C652.55,611.3 653.06,612.84 653.57,614.37 C654.09,615.9 654.6,617.56 655.11,618.97 C655.62,620.37 656.13,621.65 656.64,622.8 C657.15,623.95 657.41,625.1 658.17,625.87 C658.94,626.63 659.96,627.07 661.24,627.4 C662.52,627.73 662.52,627.73 665.84,627.86 C669.16,627.99 678.61,628.11 681.16,628.16" fill="none" stroke="#333" stroke-width="0.8"/>
<path d="M583.07,627.4 C586.39,627.42 596.86,627.63 602.99,627.55 C609.12,627.48 616.53,627.35 619.85,626.94 C623.17,626.53 621.9,626.43 622.92,625.1 C623.94,623.77 625.09,622.03 625.98,618.97 C626.88,615.9 627.64,611.3 628.28,606.71 C628.92,602.11 629.23,597 629.82,591.38 C630.4,585.76 631.17,578.6 631.81,572.98 C632.45,567.36 633.03,561.74 633.65,557.66 C634.26,553.57 634.93,551.01 635.49,548.46 C636.05,545.9 636.56,543.73 637.02,542.33 C637.48,540.92 637.84,540.28 638.25,540.03 C638.66,539.77 639.09,540.16 639.47,540.8 C639.86,541.43 640.19,542.58 640.55,543.86 C640.9,545.14 641.24,544.88 641.62,548.46 C642,552.04 642.39,559.19 642.84,565.32 C643.3,571.45 643.87,579.88 644.38,585.25 C644.89,590.61 645.4,592.91 645.91,597.51 C646.42,602.11 646.93,608.75 647.44,612.84 C647.95,616.92 648.47,619.86 648.98,622.03 C649.49,624.21 649.74,624.97 650.51,625.87 C651.28,626.76 652.04,627.07 653.57,627.4 C655.11,627.73 658.68,627.78 659.71,627.86" fill="none" stroke="#111" stroke-width="1"/>
<line x1="583.4" y1="600" x2="583.4" y2="627" stroke="#333" stroke-width="1"/>
<text x="595.6" y="648.6" font-family="Liberation Sans, sans-serif" font-size="12" text-anchor="middle" font-weight="normal" fill="#000">-0.03</text>
<text x="637.7" y="648.6" font-family="Liberation Sans, sans-serif" font-size="12" text-anchor="middle" font-weight="normal" fill="#000">0.03</text>
<text x="633.5" y="665.2" font-family="Liberation Sans, sans-serif" font-size="12" text-anchor="middle" font-weight="normal" fill="#000">Mid-slope shift (%)</text>
<path d="M171.2 770.7h1v1h-1zM175.7 761.3h1v1h-1zM145.9 774.1h1v1h-1zM183.1 809.0h1v1h-1zM158.0 743.0h1v1h-1zM160.8 810.0h1v1h-1zM162.5 756.0h1v1h-1zM156.0 782.4h1v1h-1zM153.7 787.4h1v1h-1zM167.4 812.7h1v1h-1zM151.3 798.1h1v1h-1zM166.5 776.3h1v1h-1zM170.2 786.4h1v1h-1zM151.8 802.9h1v1h-1zM167.2 803.4h1v1h-1zM159.4 795.8h1v1h-1zM168.6 792.8h1v1h-1zM155.1 781.8h1v1h-1zM156.7 788.9h1v1h-1zM164.1 805.0h1v1h-1zM176.2 823.4h1v1h-1zM136.2 763.8h1v1h-1zM153.1 760.3h1v1h-1zM176.1 783.7h1v1h-1zM174.0 795.1h1v1h-1zM151.4 803.6h1v1h-1zM139.6 773.2h1v1h-1zM165.6 793.0h1v1h-1zM166.5 812.1h1v1h-1zM143.3 787.0h1v1h-1zM162.6 791.9h1v1h-1zM165.7 788.7h1v1h-1zM169.0 769.6h1v1h-1zM152.8 790.7h1v1h-1zM166.8 793.5h1v1h-1zM171.7 782.0h1v1h-1zM163.3 771.8h1v1h-1zM168.6 788.1h1v1h-1zM160.0 780.2h1v1h-1zM163.1 786.7h1v1h-1zM171.8 766.7h1v1h-1zM164.8 796.3h1v1h-1zM193.8 801.4h1v1h-1zM146.6 779.6h1v1h-1zM159.8 799.3h1v1h-1zM170.7 788.5h1v1h-1zM169.3 798.4h1v1h-1zM176.8 811.4h1v1h-1zM117.1 827.5h1v1h-1zM167.5 778.2h1v1h-1zM165.2 775.1h1v1h-1zM159.0 795.2h1v1h-1zM167.3 797.8h1v1h-1zM185.4 821.2h1v1h-1zM164.1 778.6h1v1h-1zM179.2 776.3h1v1h-1zM175.4 790.7h1v1h-1zM180.0 785.6h1v1h-1zM165.3 773.2h1v1h-1zM172.3 775.4h1v1h-1zM187.3 786.2h1v1h-1zM159.0 792.6h1v1h-1zM151.4 785.6h1v1h-1zM180.1 779.4h1v1h-1zM155.3 746.5h1v1h-1zM176.0 792.3h1v1h-1zM164.5 790.0h1v1h-1zM182.7 787.2h1v1h-1zM154.3 788.5h1v1h-1zM169.9 801.0h1v1h-1zM151.8 788.1h1v1h-1zM152.4 784.8h1v1h-1zM162.4 797.2h1v1h-1zM162.5 768.4h1v1h-1zM173.0 821.5h1v1h-1zM172.8 813.3h1v1h-1zM154.3 786.2h1v1h-1zM162.2 793.2h1v1h-1zM166.6 779.3h1v1h-1zM170.3 804.1h1v1h-1zM155.7 778.5h1v1h-1zM167.1 777.3h1v1h-1zM146.7 784.8h1v1h-1zM154.8 795.9h1v1h-1zM161.5 806.3h1v1h-1zM149.2 793.1h1v1h-1zM167.3 785.0h1v1h-1zM132.8 751.5h1v1h-1zM160.1 788.0h1v1h-1zM160.6 782.3h1v1h-1zM162.8 810.3h1v1h-1zM119.0 812.2h1v1h-1zM175.6 801.4h1v1h-1zM170.2 787.0h1v1h-1zM181.9 787.1h1v1h-1zM171.0 797.1h1v1h-1zM172.8 763.1h1v1h-1zM182.2 777.2h1v1h-1zM141.9 785.6h1v1h-1zM158.9 785.7h1v1h-1zM147.6 792.3h1v1h-1zM172.3 805.7h1v1h-1zM182.7 802.6h1v1h-1zM157.9 790.8h1v1h-1zM154.3 777.9h1v1h-1zM161.5 801.6h1v1h-1zM145.9 791.2h1v1h-1zM156.9 776.5h1v1h-1zM164.8 848.3h1v1h-1zM172.2 796.5h1v1h-1zM168.6 766.3h1v1h-1zM171.0 772.6h1v1h-1zM154.2 787.7h1v1h-1zM197.9 821.5h1v1h-1zM177.2 827.3h1v1h-1zM180.9 793.4h1v1h-1zM165.9 807.0h1v1h-1zM165.7 802.8h1v1h-1zM146.6 748.7h1v1h-1zM169.8 753.7h1v1h-1zM153.2 779.6h1v1h-1zM148.5 796.6h1v1h-1zM176.3 796.6h1v1h-1zM173.2 821.7h1v1h-1zM161.7 787.3h1v1h-1zM159.9 785.4h1v1h-1zM126.3 792.1h1v1h-1zM173.7 803.1h1v1h-1zM167.9 809.2h1v1h-1zM176.4 785.8h1v1h-1zM187.5 802.4h1v1h-1zM177.1 798.5h1v1h-1zM135.6 785.7h1v1h-1zM163.7 804.6h1v1h-1zM141.0 749.4h1v1h-1zM158.1 764.0h1v1h-1zM157.7 791.0h1v1h-1zM155.8 788.9h1v1h-1zM180.9 791.1h1v1h-1zM168.0 785.3h1v1h-1zM169.0 809.9h1v1h-1zM201.3 788.2h1v1h-1zM178.5 819.0h1v1h-1zM167.9 774.2h1v1h-1zM149.9 771.3h1v1h-1zM157.7 799.4h1v1h-1zM146.9 770.0h1v1h-1zM123.5 778.9h1v1h-1zM184.7 769.3h1v1h-1zM188.4 775.6h1v1h-1zM160.8 776.4h1v1h-1zM187.1 776.0h1v1h-1zM206.0 773.5h1v1h-1zM148.4 795.6h1v1h-1zM157.7 762.6h1v1h-1zM157.8 763.5h1v1h-1zM187.1 748.9h1v1h-1zM159.1 782.9h1v1h-1zM190.9 779.5h1v1h-1zM185.7 796.4h1v1h-1zM186.7 745.4h1v1h-1zM147.1 757.4h1v1h-1zM174.4 760.9h1v1h-1zM184.0 787.3h1v1h-1zM175.7 767.8h1v1h-1zM179.8 770.5h1v1h-1zM162.3 776.4h1v1h-1zM168.6 751.0h1v1h-1zM173.2 776.9h1v1h-1zM161.5 751.8h1v1h-1zM172.1 772.6h1v1h-1zM146.5 783.0h1v1h-1zM142.2 775.7h1v1h-1zM131.7 758.4h1v1h-1zM162.8 765.7h1v1h-1zM182.5 784.8h1v1h-1zM174.3 761.7h1v1h-1zM126.5 746.8h1v1h-1zM173.8 765.7h1v1h-1zM166.6 761.5h1v1h-1zM162.6 766.9h1v1h-1zM170.3 770.4h1v1h-1zM177.3 764.3h1v1h-1zM192.9 764.2h1v1h-1zM190.6 786.4h1v1h-1zM203.8 780.6h1v1h-1zM177.5 787.2h1v1h-1zM154.3 771.6h1v1h-1zM192.4 763.5h1v1h-1zM142.0 775.7h1v1h-1zM182.6 744.6h1v1h-1zM145.8 750.3h1v1h-1zM154.6 785.0h1v1h-1zM190.2 761.6h1v1h-1zM153.8 758.4h1v1h-1zM187.1 750.9h1v1h-1zM178.6 777.9h1v1h-1zM163.3 749.0h1v1h-1zM180.8 791.5h1v1h-1zM178.1 773.6h1v1h-1zM169.0 739.1h1v1h-1zM153.6 761.0h1v1h-1zM182.6 752.1h1v1h-1zM159.7 779.5h1v1h-1zM136.5 838.2h1v1h-1zM165.3 859.7h1v1h-1zM149.1 853.7h1v1h-1zM116.7 823.2h1v1h-1zM136.2 839.2h1v1h-1zM148.5 851.1h1v1h-1zM102.7 833.9h1v1h-1zM113.1 828.6h1v1h-1zM136.7 848.2h1v1h-1zM178.7 833.6h1v1h-1zM126.7 832.9h1v1h-1zM133.0 843.8h1v1h-1zM152.1 849.3h1v1h-1zM159.8 848.8h1v1h-1zM130.5 846.6h1v1h-1zM142.5 841.9h1v1h-1zM156.0 847.3h1v1h-1zM128.9 834.3h1v1h-1zM179.3 839.8h1v1h-1zM180.2 840.9h1v1h-1zM168.0 852.9h1v1h-1zM169.4 841.6h1v1h-1zM189.0 850.3h1v1h-1z" fill="#222" fill-opacity="0.8"/>
<ellipse cx="141" cy="835" rx="16" ry="6" transform="rotate(22 141 835)" fill="#777" fill-opacity="0.25"/>
<path d="M129.6,833.0C129.1,832.5 128.8,832.1 128.3,831.5C127.8,830.9 127.1,830.3 126.6,829.7C126.0,829.0 125.4,828.2 125.0,827.5C124.6,826.8 124.6,826.1 124.3,825.3C124.0,824.5 123.5,823.6 123.2,822.6C122.9,821.7 122.6,820.7 122.3,819.6C122.1,818.6 121.9,817.5 121.7,816.4C121.6,815.2 121.6,814.1 121.4,812.8C121.2,811.4 120.7,809.6 120.7,808.2C120.6,806.7 121.0,805.6 121.2,804.0C121.4,802.5 121.3,800.5 121.7,799.0C122.0,797.4 122.6,795.8 123.4,794.7C124.2,793.6 125.3,792.6 126.5,792.3C127.8,792.0 129.4,792.5 130.9,792.8C132.3,793.2 133.8,793.9 135.2,794.5C136.6,795.2 137.9,795.9 139.1,796.6C140.3,797.3 141.4,798.0 142.5,798.6C143.6,799.2 144.5,799.7 145.5,800.2C146.5,800.8 147.3,801.4 148.2,802.0C149.1,802.5 149.9,802.9 150.7,803.4C151.5,803.8 152.4,804.1 153.1,804.5C153.9,804.9 154.7,805.3 155.4,805.7C156.1,806.2 156.8,806.8 157.5,807.3C158.2,807.8 158.8,808.3 159.4,808.9C160.0,809.5 160.4,810.3 160.9,810.9C161.5,811.6 162.0,812.1 162.5,812.8C162.9,813.4 163.3,814.1 163.8,814.7C164.2,815.4 164.5,816.1 164.9,816.7C165.3,817.3 165.7,818.0 166.0,818.6C166.4,819.3 166.8,819.9 167.1,820.5C167.4,821.2 167.7,821.9 168.0,822.5C168.3,823.2 168.5,823.8 168.8,824.5C169.1,825.2 169.5,825.8 169.7,826.5C170.0,827.2 170.2,827.9 170.4,828.6C170.6,829.3 170.7,830.1 170.8,830.8C170.9,831.5 171.1,832.3 171.1,833.0C171.2,833.7 171.2,834.5 171.1,835.2C171.1,836.0 170.9,836.7 170.7,837.5C170.6,838.2 170.7,839.0 170.4,839.7C170.1,840.4 169.5,841.0 169.0,841.6C168.6,842.2 168.3,842.9 167.7,843.3C167.0,843.8 166.0,844.1 165.1,844.3C164.3,844.6 163.5,844.9 162.6,845.0C161.7,845.1 160.7,845.1 159.8,845.0C158.9,845.0 157.9,844.7 157.1,844.6C156.4,844.5 155.7,844.5 155.1,844.4C154.5,844.4 154.1,844.5 153.5,844.4C152.9,844.3 152.3,844.0 151.7,843.8C151.2,843.7 150.8,843.6 150.4,843.5C150.0,843.4 149.7,843.6 149.3,843.5C149.0,843.4 148.5,843.2 148.2,843.1C147.9,843.0 147.6,843.0 147.3,842.9C146.9,842.9 146.6,842.6 146.3,842.5C146.0,842.5 145.8,842.4 145.5,842.4C145.2,842.3 145.0,842.3 144.7,842.2C144.4,842.1 144.2,842.0 143.9,841.9C143.7,841.7 143.5,841.6 143.2,841.5C143.0,841.4 142.8,841.3 142.5,841.1C142.3,841.0 142.1,840.9 141.9,840.8C141.6,840.7 141.4,840.6 141.2,840.4C141.0,840.3 140.8,840.2 140.5,840.1C140.3,840.0 140.1,839.9 139.8,839.7C139.6,839.6 139.4,839.5 139.1,839.4C138.9,839.2 138.7,839.1 138.4,838.9C138.1,838.8 137.7,838.8 137.4,838.7C137.1,838.5 136.9,838.3 136.6,838.2C136.3,838.0 135.9,837.8 135.6,837.6C135.3,837.4 134.9,837.2 134.6,837.0C134.2,836.7 133.9,836.5 133.5,836.2C133.2,835.9 132.9,835.6 132.5,835.3C132.0,835.0 131.4,834.7 130.9,834.3C130.5,833.9 130.0,833.5 129.6,833.0Z" fill="none" stroke="#111" stroke-width="0.68"/>
<path d="M130.2,833.0C129.8,832.6 129.5,832.1 129.0,831.6C128.5,831.0 127.9,830.4 127.4,829.8C126.8,829.2 126.3,828.4 125.9,827.8C125.6,827.1 125.6,826.4 125.3,825.7C125.1,824.9 124.7,824.1 124.4,823.2C124.2,822.3 123.9,821.4 123.7,820.4C123.5,819.4 123.3,818.4 123.2,817.4C123.1,816.3 123.1,815.3 122.9,814.0C122.7,812.8 122.3,811.1 122.3,809.8C122.2,808.4 122.6,807.4 122.8,805.9C123.0,804.5 122.9,802.7 123.3,801.2C123.6,799.8 124.1,798.3 124.9,797.2C125.6,796.2 126.6,795.3 127.8,795.1C129.0,794.8 130.5,795.2 131.9,795.6C133.2,795.9 134.6,796.6 135.9,797.1C137.2,797.7 138.4,798.4 139.5,799.1C140.6,799.7 141.7,800.3 142.7,800.9C143.7,801.4 144.6,801.9 145.5,802.4C146.4,803.0 147.2,803.5 148.0,804.0C148.8,804.5 149.6,805.0 150.4,805.3C151.1,805.7 151.9,806.0 152.6,806.4C153.4,806.7 154.1,807.1 154.8,807.5C155.4,808.0 156.1,808.5 156.7,809.0C157.3,809.5 157.9,810.0 158.5,810.5C159.0,811.1 159.4,811.8 159.9,812.4C160.4,813.0 160.9,813.5 161.4,814.1C161.8,814.7 162.2,815.3 162.6,815.9C163.0,816.5 163.3,817.1 163.7,817.7C164.0,818.3 164.4,818.9 164.7,819.5C165.1,820.1 165.4,820.7 165.7,821.3C166.0,821.9 166.3,822.6 166.6,823.2C166.9,823.8 167.1,824.4 167.4,825.0C167.7,825.6 168.0,826.3 168.3,826.9C168.5,827.5 168.8,828.2 169.0,828.9C169.2,829.5 169.2,830.2 169.4,830.9C169.5,831.6 169.7,832.3 169.8,833.0C169.9,833.7 169.9,834.4 169.8,835.1C169.8,835.8 169.6,836.5 169.5,837.2C169.4,837.9 169.4,838.7 169.1,839.3C168.8,840.0 168.3,840.5 167.8,841.1C167.4,841.7 167.1,842.3 166.4,842.8C165.8,843.2 164.8,843.4 164.0,843.7C163.2,844.0 162.4,844.2 161.6,844.3C160.8,844.4 159.9,844.4 159.0,844.3C158.1,844.3 157.2,844.1 156.5,844.0C155.7,843.9 155.1,843.8 154.5,843.8C154.0,843.7 153.6,843.9 153.0,843.8C152.5,843.7 151.9,843.3 151.4,843.2C150.9,843.1 150.5,843.0 150.1,842.9C149.7,842.8 149.4,843.0 149.1,842.9C148.8,842.8 148.4,842.6 148.0,842.5C147.7,842.4 147.4,842.5 147.2,842.4C146.9,842.3 146.6,842.1 146.3,842.0C146.0,841.9 145.8,841.9 145.5,841.9C145.2,841.8 145.0,841.8 144.7,841.7C144.5,841.6 144.3,841.5 144.0,841.4C143.8,841.3 143.6,841.1 143.3,841.0C143.1,840.9 142.9,840.8 142.7,840.7C142.5,840.6 142.3,840.5 142.1,840.4C141.9,840.3 141.6,840.2 141.4,840.0C141.2,839.9 141.0,839.8 140.8,839.7C140.6,839.6 140.4,839.5 140.1,839.4C139.9,839.3 139.7,839.1 139.5,839.0C139.3,838.9 139.1,838.7 138.8,838.6C138.5,838.5 138.1,838.5 137.8,838.4C137.5,838.3 137.3,838.1 137.0,837.9C136.7,837.7 136.4,837.6 136.1,837.4C135.8,837.2 135.5,837.0 135.1,836.8C134.8,836.6 134.4,836.3 134.1,836.1C133.8,835.8 133.5,835.5 133.1,835.2C132.6,834.9 132.0,834.6 131.6,834.2C131.1,833.9 130.7,833.4 130.2,833.0Z" fill="none" stroke="#111" stroke-width="0.68"/>
<path d="M130.9,833.0C130.5,832.6 130.1,832.1 129.7,831.6C129.2,831.1 128.6,830.5 128.1,829.9C127.7,829.3 127.2,828.7 126.9,828.0C126.6,827.4 126.6,826.8 126.4,826.1C126.2,825.3 125.9,824.6 125.7,823.8C125.4,822.9 125.2,822.1 125.0,821.2C124.9,820.3 124.7,819.4 124.6,818.4C124.5,817.4 124.6,816.5 124.4,815.3C124.3,814.1 123.9,812.6 123.9,811.4C123.9,810.1 124.2,809.1 124.4,807.8C124.6,806.5 124.5,804.9 124.9,803.5C125.2,802.2 125.6,800.8 126.3,799.8C127.1,798.9 128.0,798.1 129.1,797.8C130.2,797.6 131.6,798.0 132.9,798.3C134.1,798.6 135.4,799.2 136.6,799.7C137.8,800.3 138.9,800.9 139.9,801.5C141.0,802.1 142.0,802.7 142.9,803.2C143.8,803.7 144.7,804.1 145.5,804.6C146.3,805.1 147.1,805.7 147.9,806.1C148.6,806.5 149.3,807.0 150.0,807.3C150.7,807.7 151.4,807.9 152.1,808.3C152.8,808.6 153.5,809.0 154.1,809.4C154.7,809.8 155.3,810.2 155.9,810.7C156.5,811.2 157.1,811.6 157.6,812.1C158.1,812.6 158.5,813.3 158.9,813.8C159.4,814.4 159.8,814.9 160.3,815.4C160.7,816.0 161.0,816.5 161.4,817.1C161.8,817.7 162.1,818.2 162.4,818.8C162.8,819.3 163.1,819.9 163.4,820.5C163.7,821.0 164.1,821.5 164.4,822.1C164.7,822.7 164.9,823.2 165.2,823.8C165.5,824.4 165.7,825.0 166.0,825.5C166.3,826.1 166.6,826.7 166.8,827.3C167.1,827.9 167.3,828.5 167.5,829.1C167.7,829.7 167.8,830.4 168.0,831.0C168.1,831.7 168.3,832.3 168.4,833.0C168.5,833.7 168.6,834.3 168.5,835.0C168.5,835.7 168.4,836.4 168.3,837.0C168.2,837.7 168.2,838.4 167.9,839.0C167.6,839.6 167.0,840.1 166.6,840.7C166.1,841.2 165.8,841.8 165.2,842.2C164.6,842.6 163.7,842.8 162.9,843.1C162.2,843.3 161.4,843.5 160.6,843.6C159.8,843.7 159.0,843.7 158.2,843.6C157.4,843.6 156.5,843.4 155.8,843.3C155.1,843.2 154.5,843.1 154.0,843.1C153.5,843.1 153.1,843.2 152.6,843.1C152.1,843.0 151.5,842.7 151.0,842.6C150.6,842.5 150.2,842.4 149.8,842.3C149.5,842.3 149.2,842.4 148.9,842.3C148.6,842.2 148.2,842.0 147.9,841.9C147.6,841.8 147.3,841.9 147.1,841.8C146.8,841.7 146.5,841.6 146.2,841.5C146.0,841.4 145.7,841.4 145.5,841.3C145.3,841.3 145.0,841.3 144.8,841.2C144.6,841.1 144.3,841.0 144.1,840.9C143.9,840.8 143.7,840.7 143.5,840.6C143.3,840.5 143.1,840.4 142.9,840.3C142.7,840.2 142.5,840.0 142.3,839.9C142.1,839.8 141.9,839.7 141.7,839.6C141.5,839.5 141.3,839.4 141.1,839.3C140.9,839.2 140.7,839.1 140.4,839.0C140.2,838.9 140.0,838.8 139.8,838.7C139.6,838.6 139.4,838.4 139.2,838.3C138.9,838.2 138.5,838.2 138.2,838.1C137.9,838.0 137.8,837.8 137.5,837.6C137.2,837.5 136.9,837.3 136.6,837.1C136.3,837.0 136.0,836.8 135.7,836.6C135.3,836.4 135.0,836.2 134.7,835.9C134.3,835.7 134.1,835.4 133.6,835.1C133.2,834.8 132.7,834.5 132.2,834.2C131.8,833.8 131.3,833.4 130.9,833.0Z" fill="none" stroke="#111" stroke-width="0.68"/>
<path d="M131.6,833.0C131.2,832.6 130.8,832.2 130.4,831.7C129.9,831.2 129.4,830.6 128.9,830.1C128.5,829.5 128.1,828.9 127.8,828.3C127.6,827.7 127.6,827.1 127.5,826.4C127.3,825.8 127.1,825.1 126.9,824.3C126.7,823.6 126.5,822.8 126.4,822.0C126.3,821.2 126.2,820.3 126.1,819.4C126.0,818.5 126.0,817.7 125.9,816.6C125.8,815.5 125.5,814.1 125.5,813.0C125.5,811.8 125.8,810.9 126.0,809.7C126.1,808.5 126.1,807.0 126.4,805.8C126.8,804.6 127.2,803.3 127.8,802.4C128.5,801.5 129.4,800.8 130.4,800.6C131.4,800.3 132.7,800.7 133.9,801.0C135.0,801.3 136.2,801.8 137.3,802.3C138.4,802.8 139.4,803.4 140.4,804.0C141.3,804.5 142.2,805.0 143.1,805.5C143.9,806.0 144.7,806.4 145.5,806.8C146.3,807.3 147.0,807.8 147.7,808.2C148.4,808.6 149.0,809.0 149.7,809.3C150.3,809.6 151.0,809.9 151.6,810.2C152.2,810.5 152.9,810.8 153.4,811.2C154.0,811.5 154.6,812.0 155.1,812.4C155.6,812.8 156.2,813.2 156.6,813.7C157.1,814.2 157.5,814.8 157.9,815.3C158.3,815.8 158.8,816.2 159.1,816.7C159.5,817.2 159.9,817.8 160.2,818.3C160.5,818.8 160.9,819.3 161.2,819.8C161.5,820.4 161.8,820.9 162.1,821.4C162.4,821.9 162.7,822.4 163.0,822.9C163.3,823.4 163.5,823.9 163.8,824.5C164.1,825.0 164.3,825.5 164.6,826.1C164.8,826.6 165.1,827.1 165.4,827.7C165.6,828.2 165.9,828.8 166.1,829.4C166.3,830.0 166.4,830.6 166.6,831.2C166.7,831.8 167.0,832.4 167.1,833.0C167.2,833.6 167.3,834.3 167.3,834.9C167.2,835.5 167.1,836.2 167.0,836.8C166.9,837.4 166.9,838.1 166.6,838.7C166.3,839.2 165.8,839.7 165.3,840.2C164.9,840.7 164.6,841.3 164.0,841.6C163.4,842.0 162.6,842.2 161.8,842.4C161.1,842.6 160.4,842.8 159.7,842.9C158.9,843.0 158.1,843.0 157.4,842.9C156.6,842.9 155.8,842.7 155.1,842.6C154.5,842.6 153.9,842.5 153.4,842.5C152.9,842.4 152.6,842.5 152.1,842.5C151.7,842.4 151.1,842.1 150.7,842.0C150.3,841.9 149.9,841.8 149.6,841.7C149.2,841.7 149.0,841.8 148.7,841.7C148.4,841.6 148.0,841.4 147.7,841.4C147.5,841.3 147.2,841.3 147.0,841.3C146.7,841.2 146.4,841.0 146.2,840.9C146.0,840.9 145.7,840.9 145.5,840.8C145.3,840.8 145.0,840.7 144.8,840.7C144.6,840.6 144.4,840.5 144.2,840.4C144.0,840.3 143.8,840.2 143.6,840.1C143.4,840.0 143.2,839.9 143.0,839.8C142.8,839.7 142.6,839.6 142.5,839.5C142.3,839.4 142.1,839.3 141.9,839.2C141.7,839.1 141.5,839.1 141.3,839.0C141.1,838.9 140.9,838.8 140.7,838.7C140.5,838.6 140.3,838.5 140.1,838.4C139.9,838.2 139.8,838.1 139.5,838.0C139.3,837.9 138.9,837.9 138.6,837.8C138.4,837.7 138.2,837.5 137.9,837.4C137.7,837.2 137.4,837.1 137.1,836.9C136.8,836.8 136.5,836.6 136.2,836.4C135.9,836.2 135.6,836.0 135.2,835.8C134.9,835.5 134.6,835.3 134.2,835.0C133.8,834.7 133.3,834.4 132.9,834.1C132.4,833.8 132.0,833.4 131.6,833.0Z" fill="none" stroke="#2a2a2a" stroke-width="0.68"/>
<path d="M132.2,833.0C131.8,832.6 131.5,832.2 131.1,831.7C130.6,831.3 130.1,830.8 129.7,830.2C129.3,829.7 129.0,829.1 128.8,828.5C128.6,828.0 128.7,827.4 128.6,826.8C128.5,826.2 128.3,825.6 128.1,824.9C128.0,824.2 127.9,823.5 127.8,822.8C127.7,822.0 127.6,821.2 127.5,820.4C127.5,819.6 127.5,818.8 127.5,817.9C127.4,816.9 127.1,815.6 127.1,814.6C127.1,813.6 127.4,812.7 127.6,811.7C127.7,810.6 127.7,809.2 128.0,808.1C128.3,806.9 128.7,805.8 129.3,805.0C129.9,804.2 130.7,803.5 131.7,803.3C132.6,803.1 133.8,803.4 134.8,803.7C135.9,804.0 137.0,804.5 138.0,804.9C139.0,805.4 139.9,805.9 140.8,806.4C141.7,806.9 142.5,807.4 143.3,807.8C144.1,808.2 144.8,808.6 145.5,809.0C146.2,809.4 146.9,809.9 147.5,810.3C148.1,810.6 148.7,811.0 149.3,811.3C149.9,811.6 150.5,811.8 151.1,812.1C151.7,812.4 152.3,812.6 152.8,813.0C153.3,813.3 153.8,813.7 154.3,814.1C154.8,814.5 155.3,814.8 155.7,815.3C156.2,815.7 156.5,816.3 156.9,816.7C157.3,817.2 157.7,817.6 158.0,818.1C158.4,818.5 158.7,819.0 159.0,819.5C159.3,819.9 159.6,820.4 159.9,820.9C160.2,821.4 160.5,821.8 160.8,822.3C161.1,822.7 161.4,823.2 161.7,823.7C161.9,824.1 162.2,824.6 162.4,825.1C162.7,825.6 162.9,826.1 163.1,826.6C163.4,827.1 163.7,827.5 164.0,828.1C164.2,828.6 164.4,829.1 164.6,829.6C164.9,830.2 165.0,830.7 165.2,831.3C165.3,831.8 165.6,832.4 165.7,833.0C165.8,833.6 166.0,834.2 166.0,834.8C166.0,835.4 165.9,836.0 165.8,836.6C165.7,837.2 165.6,837.8 165.4,838.3C165.1,838.9 164.5,839.3 164.1,839.8C163.7,840.2 163.4,840.7 162.8,841.1C162.2,841.4 161.4,841.6 160.7,841.8C160.0,842.0 159.4,842.2 158.7,842.2C158.0,842.3 157.2,842.3 156.5,842.3C155.8,842.2 155.1,842.1 154.5,842.0C153.9,841.9 153.4,841.8 152.9,841.8C152.4,841.8 152.1,841.9 151.7,841.8C151.2,841.7 150.7,841.5 150.3,841.4C149.9,841.2 149.6,841.2 149.3,841.1C149.0,841.1 148.7,841.2 148.5,841.1C148.2,841.1 147.9,840.9 147.6,840.8C147.3,840.7 147.1,840.8 146.9,840.7C146.6,840.6 146.4,840.5 146.1,840.4C145.9,840.3 145.7,840.3 145.5,840.3C145.3,840.2 145.1,840.2 144.9,840.2C144.7,840.1 144.5,840.0 144.3,839.9C144.1,839.8 143.9,839.7 143.7,839.6C143.5,839.5 143.4,839.5 143.2,839.4C143.0,839.3 142.8,839.2 142.7,839.1C142.5,839.0 142.3,838.9 142.1,838.8C141.9,838.8 141.8,838.7 141.6,838.6C141.4,838.5 141.2,838.4 141.0,838.3C140.9,838.2 140.7,838.1 140.5,838.0C140.3,837.9 140.1,837.8 139.9,837.7C139.6,837.6 139.3,837.6 139.1,837.5C138.8,837.4 138.6,837.2 138.4,837.1C138.1,837.0 137.9,836.8 137.6,836.7C137.3,836.5 137.0,836.4 136.7,836.2C136.4,836.0 136.1,835.8 135.8,835.6C135.5,835.4 135.2,835.1 134.8,834.9C134.4,834.6 133.9,834.4 133.5,834.1C133.1,833.7 132.6,833.4 132.2,833.0Z" fill="none" stroke="#2a2a2a" stroke-width="0.68"/>
<path d="M132.9,833.0C132.5,832.6 132.1,832.2 131.8,831.8C131.4,831.4 130.9,830.9 130.5,830.4C130.2,829.9 129.9,829.3 129.7,828.8C129.6,828.2 129.7,827.8 129.6,827.2C129.6,826.7 129.4,826.1 129.3,825.5C129.3,824.9 129.2,824.2 129.1,823.5C129.1,822.9 129.0,822.2 129.0,821.4C129.0,820.7 129.0,820.0 129.0,819.1C128.9,818.3 128.7,817.1 128.7,816.2C128.7,815.3 129.0,814.5 129.2,813.6C129.3,812.6 129.4,811.3 129.6,810.3C129.9,809.3 130.3,808.3 130.8,807.6C131.4,806.9 132.1,806.3 132.9,806.1C133.8,805.9 134.9,806.2 135.8,806.4C136.8,806.7 137.8,807.1 138.7,807.5C139.6,807.9 140.4,808.4 141.2,808.9C142.0,809.3 142.8,809.7 143.5,810.1C144.2,810.5 144.9,810.9 145.5,811.2C146.1,811.6 146.7,812.0 147.3,812.3C147.9,812.7 148.4,813.0 149.0,813.2C149.5,813.5 150.1,813.7 150.6,814.0C151.1,814.2 151.6,814.5 152.1,814.8C152.6,815.1 153.1,815.5 153.5,815.8C154.0,816.2 154.4,816.5 154.8,816.9C155.2,817.3 155.5,817.8 155.9,818.2C156.2,818.6 156.6,819.0 156.9,819.4C157.3,819.8 157.6,820.2 157.8,820.7C158.1,821.1 158.4,821.5 158.7,821.9C159.0,822.4 159.2,822.8 159.5,823.2C159.8,823.6 160.1,824.0 160.3,824.5C160.6,824.9 160.8,825.3 161.0,825.8C161.2,826.2 161.5,826.6 161.7,827.1C162.0,827.5 162.3,828.0 162.5,828.4C162.8,828.9 163.0,829.4 163.2,829.9C163.4,830.4 163.6,830.9 163.8,831.4C164.0,831.9 164.2,832.5 164.4,833.0C164.5,833.5 164.6,834.1 164.7,834.7C164.7,835.2 164.6,835.8 164.5,836.4C164.5,836.9 164.4,837.5 164.1,838.0C163.8,838.5 163.3,838.9 162.9,839.3C162.4,839.7 162.1,840.2 161.6,840.5C161.0,840.8 160.3,841.0 159.6,841.2C159.0,841.3 158.4,841.5 157.7,841.5C157.1,841.6 156.4,841.6 155.7,841.6C155.1,841.5 154.4,841.4 153.8,841.3C153.3,841.2 152.8,841.2 152.3,841.2C151.9,841.1 151.6,841.2 151.2,841.1C150.8,841.1 150.3,840.8 150.0,840.7C149.6,840.6 149.3,840.6 149.0,840.5C148.7,840.5 148.5,840.6 148.2,840.5C148.0,840.5 147.7,840.3 147.4,840.2C147.2,840.2 147.0,840.2 146.8,840.1C146.5,840.1 146.3,839.9 146.1,839.9C145.9,839.8 145.7,839.8 145.5,839.8C145.3,839.7 145.1,839.7 144.9,839.6C144.7,839.6 144.5,839.5 144.4,839.4C144.2,839.3 144.0,839.2 143.8,839.2C143.7,839.1 143.5,839.0 143.3,838.9C143.2,838.8 143.0,838.8 142.9,838.7C142.7,838.6 142.5,838.5 142.4,838.4C142.2,838.4 142.0,838.3 141.9,838.2C141.7,838.1 141.5,838.0 141.3,838.0C141.2,837.9 141.0,837.8 140.8,837.7C140.6,837.6 140.5,837.5 140.3,837.4C140.0,837.3 139.7,837.3 139.5,837.2C139.2,837.1 139.1,837.0 138.8,836.8C138.6,836.7 138.3,836.6 138.1,836.5C137.8,836.3 137.5,836.2 137.3,836.0C137.0,835.8 136.7,835.7 136.4,835.4C136.1,835.2 135.8,835.0 135.4,834.8C135.0,834.5 134.5,834.3 134.1,834.0C133.7,833.7 133.3,833.4 132.9,833.0Z" fill="none" stroke="#2a2a2a" stroke-width="0.68"/>
<path d="M133.6,833.0C133.2,832.7 132.8,832.3 132.4,831.9C132.1,831.4 131.6,831.0 131.3,830.5C131.0,830.0 130.7,829.5 130.6,829.0C130.5,828.5 130.7,828.1 130.7,827.6C130.7,827.1 130.6,826.6 130.6,826.0C130.5,825.5 130.5,824.9 130.5,824.3C130.5,823.7 130.4,823.1 130.5,822.5C130.5,821.8 130.5,821.2 130.5,820.4C130.5,819.6 130.3,818.6 130.3,817.8C130.4,817.0 130.6,816.3 130.8,815.5C130.9,814.6 131.0,813.5 131.2,812.6C131.5,811.7 131.8,810.8 132.3,810.1C132.8,809.5 133.5,809.0 134.2,808.8C135.0,808.7 136.0,808.9 136.8,809.1C137.7,809.4 138.6,809.8 139.4,810.1C140.2,810.5 141.0,810.9 141.7,811.3C142.4,811.7 143.1,812.1 143.7,812.4C144.3,812.8 144.9,813.1 145.5,813.4C146.1,813.7 146.6,814.1 147.1,814.4C147.6,814.7 148.1,815.0 148.6,815.2C149.1,815.5 149.6,815.6 150.1,815.9C150.6,816.1 151.0,816.3 151.5,816.6C151.9,816.9 152.3,817.2 152.7,817.5C153.1,817.8 153.5,818.1 153.9,818.5C154.3,818.8 154.5,819.3 154.9,819.6C155.2,820.0 155.5,820.3 155.8,820.7C156.1,821.1 156.4,821.5 156.7,821.8C156.9,822.2 157.2,822.6 157.4,823.0C157.7,823.4 157.9,823.7 158.2,824.1C158.4,824.5 158.7,824.9 158.9,825.2C159.2,825.6 159.4,826.0 159.6,826.4C159.8,826.8 160.1,827.2 160.3,827.6C160.5,828.0 160.8,828.4 161.1,828.8C161.3,829.2 161.6,829.7 161.8,830.1C162.0,830.6 162.2,831.0 162.4,831.5C162.6,832.0 162.8,832.5 163.0,833.0C163.2,833.5 163.3,834.0 163.4,834.6C163.4,835.1 163.4,835.6 163.3,836.1C163.2,836.7 163.1,837.2 162.9,837.6C162.6,838.1 162.0,838.5 161.6,838.9C161.2,839.3 160.9,839.7 160.4,839.9C159.8,840.2 159.1,840.4 158.5,840.5C157.9,840.7 157.3,840.8 156.7,840.9C156.1,840.9 155.5,840.9 154.9,840.9C154.3,840.8 153.7,840.7 153.1,840.6C152.6,840.6 152.2,840.5 151.8,840.5C151.4,840.5 151.1,840.6 150.7,840.5C150.4,840.4 150.0,840.2 149.6,840.1C149.3,840.0 149.0,840.0 148.7,839.9C148.5,839.9 148.3,840.0 148.0,839.9C147.8,839.9 147.5,839.7 147.3,839.7C147.1,839.6 146.9,839.6 146.7,839.6C146.5,839.5 146.2,839.4 146.1,839.3C145.9,839.3 145.7,839.3 145.5,839.2C145.3,839.2 145.1,839.2 145.0,839.1C144.8,839.1 144.6,839.0 144.5,838.9C144.3,838.8 144.1,838.8 144.0,838.7C143.8,838.6 143.7,838.5 143.5,838.5C143.4,838.4 143.2,838.3 143.0,838.3C142.9,838.2 142.7,838.1 142.6,838.0C142.4,838.0 142.3,837.9 142.1,837.8C142.0,837.8 141.8,837.7 141.6,837.6C141.5,837.5 141.3,837.4 141.1,837.4C141.0,837.3 140.8,837.2 140.6,837.1C140.4,837.0 140.1,837.0 139.9,836.9C139.7,836.8 139.5,836.7 139.3,836.6C139.1,836.5 138.8,836.4 138.6,836.2C138.3,836.1 138.1,836.0 137.8,835.8C137.5,835.7 137.2,835.5 136.9,835.3C136.6,835.1 136.4,834.9 136.0,834.7C135.7,834.4 135.2,834.2 134.8,833.9C134.4,833.7 133.9,833.3 133.6,833.0Z" fill="none" stroke="#2a2a2a" stroke-width="0.68"/>
<path d="M134.2,833.0C133.8,832.7 133.5,832.3 133.1,831.9C132.8,831.5 132.4,831.1 132.1,830.6C131.8,830.2 131.6,829.7 131.6,829.3C131.5,828.8 131.7,828.4 131.8,828.0C131.8,827.6 131.8,827.1 131.8,826.6C131.8,826.1 131.8,825.6 131.8,825.1C131.8,824.6 131.9,824.1 131.9,823.5C131.9,822.9 132.0,822.4 132.0,821.7C132.0,821.0 131.9,820.1 131.9,819.4C132.0,818.7 132.2,818.1 132.4,817.4C132.5,816.6 132.6,815.6 132.8,814.9C133.0,814.1 133.3,813.3 133.8,812.7C134.2,812.2 134.8,811.7 135.5,811.6C136.2,811.4 137.0,811.7 137.8,811.9C138.6,812.0 139.3,812.4 140.1,812.7C140.8,813.0 141.5,813.4 142.1,813.8C142.7,814.1 143.3,814.4 143.9,814.7C144.5,815.1 145.0,815.3 145.5,815.6C146.0,815.9 146.5,816.2 146.9,816.5C147.4,816.7 147.8,817.0 148.3,817.2C148.7,817.4 149.2,817.6 149.6,817.8C150.0,818.0 150.4,818.2 150.8,818.4C151.2,818.7 151.6,818.9 151.9,819.2C152.3,819.5 152.7,819.7 153.0,820.0C153.3,820.4 153.6,820.7 153.8,821.1C154.1,821.4 154.4,821.7 154.7,822.0C155.0,822.3 155.2,822.7 155.5,823.0C155.7,823.4 156.0,823.7 156.2,824.0C156.4,824.4 156.7,824.7 156.9,825.0C157.1,825.4 157.4,825.7 157.6,826.0C157.8,826.4 158.0,826.7 158.2,827.1C158.4,827.4 158.7,827.8 158.9,828.1C159.1,828.5 159.4,828.8 159.6,829.2C159.9,829.6 160.1,830.0 160.3,830.4C160.5,830.8 160.7,831.2 161.0,831.6C161.2,832.1 161.5,832.5 161.6,833.0C161.8,833.5 162.0,834.0 162.1,834.5C162.2,834.9 162.1,835.4 162.1,835.9C162.0,836.4 161.9,836.9 161.6,837.3C161.3,837.7 160.8,838.1 160.4,838.4C160.0,838.8 159.6,839.1 159.1,839.4C158.6,839.6 158.0,839.7 157.4,839.9C156.8,840.0 156.3,840.1 155.8,840.2C155.2,840.2 154.6,840.2 154.1,840.2C153.5,840.2 153.0,840.0 152.5,840.0C152.0,839.9 151.6,839.9 151.3,839.9C150.9,839.8 150.6,839.9 150.3,839.8C150.0,839.8 149.6,839.6 149.3,839.5C149.0,839.4 148.7,839.4 148.5,839.3C148.2,839.3 148.0,839.4 147.8,839.3C147.6,839.3 147.3,839.1 147.1,839.1C146.9,839.0 146.7,839.1 146.6,839.0C146.4,839.0 146.2,838.9 146.0,838.8C145.8,838.8 145.7,838.7 145.5,838.7C145.3,838.7 145.2,838.7 145.0,838.6C144.9,838.6 144.7,838.5 144.5,838.4C144.4,838.4 144.2,838.3 144.1,838.2C144.0,838.2 143.8,838.1 143.7,838.0C143.5,838.0 143.4,837.9 143.2,837.8C143.1,837.8 143.0,837.7 142.8,837.6C142.7,837.6 142.5,837.5 142.4,837.4C142.2,837.4 142.1,837.3 141.9,837.2C141.8,837.2 141.6,837.1 141.5,837.0C141.3,837.0 141.2,836.9 141.0,836.8C140.8,836.7 140.5,836.7 140.3,836.6C140.1,836.5 140.0,836.4 139.7,836.3C139.5,836.2 139.3,836.1 139.1,836.0C138.8,835.9 138.6,835.8 138.3,835.6C138.1,835.5 137.8,835.3 137.5,835.1C137.2,835.0 137.0,834.8 136.6,834.6C136.3,834.4 135.8,834.1 135.4,833.9C135.0,833.6 134.6,833.3 134.2,833.0Z" fill="none" stroke="#2a2a2a" stroke-width="0.68"/>
<path d="M134.9,833.0C134.5,832.7 134.2,832.3 133.8,832.0C133.5,831.6 133.1,831.2 132.9,830.8C132.7,830.4 132.5,829.9 132.5,829.5C132.5,829.1 132.8,828.8 132.8,828.4C132.9,828.0 133.0,827.6 133.0,827.2C133.1,826.8 133.1,826.3 133.2,825.9C133.2,825.4 133.3,825.0 133.4,824.5C133.4,824.0 133.5,823.6 133.6,823.0C133.6,822.4 133.5,821.6 133.5,821.0C133.6,820.4 133.8,819.9 134.0,819.3C134.1,818.6 134.2,817.8 134.4,817.1C134.6,816.5 134.9,815.8 135.3,815.3C135.7,814.8 136.2,814.4 136.8,814.3C137.4,814.2 138.1,814.4 138.8,814.6C139.5,814.7 140.1,815.0 140.8,815.3C141.4,815.6 142.0,815.9 142.5,816.2C143.1,816.5 143.6,816.8 144.1,817.1C144.6,817.3 145.1,817.6 145.5,817.8C145.9,818.0 146.4,818.3 146.8,818.6C147.2,818.8 147.6,819.0 147.9,819.2C148.3,819.4 148.7,819.5 149.1,819.7C149.4,819.8 149.8,820.0 150.1,820.2C150.5,820.4 150.8,820.7 151.1,820.9C151.5,821.1 151.8,821.4 152.1,821.6C152.3,821.9 152.6,822.2 152.8,822.5C153.1,822.8 153.4,823.1 153.6,823.3C153.9,823.6 154.1,823.9 154.3,824.2C154.5,824.5 154.7,824.8 154.9,825.1C155.2,825.4 155.4,825.7 155.6,825.9C155.8,826.2 156.0,826.5 156.2,826.8C156.4,827.1 156.6,827.4 156.8,827.7C157.0,828.0 157.2,828.3 157.5,828.6C157.7,829.0 157.9,829.3 158.2,829.6C158.4,829.9 158.7,830.3 158.9,830.6C159.1,831.0 159.3,831.4 159.6,831.8C159.8,832.2 160.1,832.6 160.3,833.0C160.5,833.4 160.7,833.9 160.8,834.3C160.9,834.8 160.9,835.3 160.8,835.7C160.7,836.1 160.6,836.6 160.3,837.0C160.1,837.4 159.6,837.7 159.2,838.0C158.8,838.3 158.4,838.6 157.9,838.8C157.4,839.0 156.8,839.1 156.3,839.2C155.8,839.4 155.3,839.5 154.8,839.5C154.3,839.5 153.7,839.5 153.2,839.5C152.8,839.5 152.2,839.4 151.8,839.3C151.4,839.3 151.0,839.2 150.7,839.2C150.4,839.2 150.1,839.2 149.8,839.2C149.5,839.1 149.2,839.0 148.9,838.9C148.6,838.8 148.4,838.8 148.2,838.7C148.0,838.7 147.8,838.8 147.6,838.7C147.4,838.7 147.2,838.6 147.0,838.5C146.8,838.5 146.6,838.5 146.5,838.5C146.3,838.4 146.1,838.3 146.0,838.3C145.8,838.2 145.7,838.2 145.5,838.2C145.3,838.2 145.2,838.1 145.1,838.1C144.9,838.1 144.8,838.0 144.6,837.9C144.5,837.9 144.4,837.8 144.2,837.8C144.1,837.7 144.0,837.6 143.8,837.6C143.7,837.5 143.6,837.5 143.4,837.4C143.3,837.4 143.2,837.3 143.1,837.2C142.9,837.2 142.8,837.1 142.7,837.1C142.5,837.0 142.4,836.9 142.2,836.9C142.1,836.8 142.0,836.8 141.8,836.7C141.7,836.6 141.5,836.5 141.3,836.5C141.2,836.4 140.9,836.4 140.7,836.3C140.5,836.3 140.4,836.2 140.2,836.1C140.0,836.0 139.8,835.9 139.6,835.8C139.3,835.7 139.1,835.5 138.9,835.4C138.6,835.3 138.3,835.2 138.1,835.0C137.8,834.8 137.5,834.7 137.2,834.5C136.9,834.3 136.4,834.1 136.0,833.8C135.7,833.6 135.3,833.3 134.9,833.0Z" fill="none" stroke="#2a2a2a" stroke-width="0.68"/>
<path d="M135.5,833.0C135.2,832.7 134.8,832.4 134.5,832.0C134.2,831.7 133.8,831.3 133.7,830.9C133.5,830.5 133.4,830.1 133.5,829.8C133.5,829.4 133.8,829.1 133.9,828.8C134.0,828.4 134.1,828.1 134.3,827.8C134.4,827.4 134.4,827.0 134.5,826.7C134.6,826.3 134.7,825.9 134.8,825.5C134.9,825.1 135.0,824.7 135.1,824.3C135.1,823.8 135.0,823.1 135.1,822.6C135.2,822.1 135.4,821.7 135.6,821.2C135.7,820.6 135.8,820.0 136.0,819.4C136.2,818.9 136.4,818.3 136.8,817.9C137.1,817.5 137.6,817.2 138.1,817.1C138.6,817.0 139.2,817.1 139.8,817.3C140.3,817.4 140.9,817.7 141.5,817.9C142.0,818.1 142.5,818.4 143.0,818.7C143.4,818.9 143.9,819.2 144.3,819.4C144.7,819.6 145.1,819.8 145.5,820.0C145.9,820.2 146.2,820.4 146.6,820.6C146.9,820.8 147.3,821.0 147.6,821.2C147.9,821.3 148.2,821.4 148.6,821.6C148.9,821.7 149.2,821.9 149.5,822.0C149.8,822.2 150.1,822.4 150.3,822.6C150.6,822.8 150.9,823.0 151.1,823.2C151.4,823.5 151.6,823.7 151.8,824.0C152.0,824.2 152.3,824.4 152.5,824.7C152.7,824.9 152.9,825.1 153.1,825.4C153.3,825.6 153.5,825.9 153.7,826.1C153.9,826.4 154.1,826.6 154.3,826.9C154.5,827.1 154.7,827.3 154.9,827.6C155.1,827.8 155.2,828.1 155.4,828.4C155.6,828.6 155.8,828.9 156.0,829.2C156.3,829.4 156.5,829.7 156.7,830.0C157.0,830.3 157.2,830.6 157.4,830.9C157.7,831.2 157.9,831.5 158.1,831.9C158.4,832.2 158.7,832.6 158.9,833.0C159.2,833.4 159.4,833.8 159.5,834.2C159.6,834.6 159.7,835.1 159.6,835.5C159.5,835.9 159.4,836.3 159.1,836.6C158.8,837.0 158.3,837.3 157.9,837.5C157.5,837.8 157.2,838.0 156.7,838.2C156.3,838.4 155.7,838.5 155.2,838.6C154.7,838.7 154.3,838.8 153.8,838.8C153.3,838.8 152.9,838.8 152.4,838.8C152.0,838.8 151.5,838.7 151.2,838.7C150.8,838.6 150.5,838.6 150.2,838.5C149.9,838.5 149.6,838.6 149.4,838.5C149.1,838.5 148.8,838.3 148.6,838.3C148.3,838.2 148.1,838.2 147.9,838.1C147.7,838.1 147.5,838.2 147.4,838.1C147.2,838.1 147.0,838.0 146.8,838.0C146.7,837.9 146.5,837.9 146.4,837.9C146.2,837.9 146.1,837.8 145.9,837.7C145.8,837.7 145.6,837.7 145.5,837.7C145.4,837.6 145.2,837.6 145.1,837.6C145.0,837.5 144.8,837.5 144.7,837.4C144.6,837.4 144.5,837.3 144.4,837.3C144.2,837.2 144.1,837.2 144.0,837.1C143.9,837.1 143.8,837.0 143.6,837.0C143.5,836.9 143.4,836.9 143.3,836.8C143.2,836.8 143.0,836.7 142.9,836.7C142.8,836.6 142.7,836.6 142.5,836.5C142.4,836.5 142.3,836.4 142.1,836.4C142.0,836.3 141.9,836.2 141.7,836.2C141.6,836.1 141.3,836.1 141.2,836.0C141.0,836.0 140.8,835.9 140.7,835.8C140.5,835.7 140.3,835.6 140.1,835.5C139.8,835.4 139.6,835.3 139.4,835.2C139.2,835.1 138.9,835.0 138.6,834.8C138.4,834.7 138.1,834.5 137.8,834.4C137.5,834.2 137.1,834.0 136.7,833.8C136.3,833.5 135.9,833.3 135.5,833.0Z" fill="none" stroke="#3a3a3a" stroke-width="0.68"/>
<path d="M136.2,833.0C135.9,832.7 135.5,832.4 135.2,832.1C134.9,831.8 134.6,831.4 134.5,831.1C134.3,830.7 134.3,830.3 134.4,830.0C134.5,829.7 134.8,829.5 135.0,829.2C135.2,828.9 135.3,828.6 135.5,828.3C135.6,828.0 135.8,827.8 135.9,827.5C136.0,827.2 136.2,826.9 136.3,826.5C136.4,826.2 136.5,825.9 136.6,825.5C136.7,825.1 136.6,824.6 136.7,824.2C136.8,823.8 137.0,823.5 137.2,823.1C137.3,822.7 137.4,822.1 137.6,821.7C137.7,821.2 138.0,820.8 138.3,820.5C138.6,820.2 138.9,819.9 139.4,819.8C139.8,819.7 140.3,819.9 140.8,820.0C141.2,820.1 141.7,820.3 142.2,820.5C142.6,820.7 143.0,820.9 143.4,821.1C143.8,821.3 144.2,821.5 144.5,821.7C144.9,821.9 145.2,822.0 145.5,822.2C145.8,822.4 146.1,822.5 146.4,822.7C146.7,822.9 147.0,823.0 147.2,823.1C147.5,823.3 147.8,823.3 148.1,823.5C148.3,823.6 148.6,823.7 148.8,823.8C149.1,824.0 149.3,824.2 149.5,824.3C149.8,824.5 150.0,824.6 150.2,824.8C150.4,825.0 150.6,825.2 150.8,825.4C151.0,825.6 151.2,825.8 151.4,826.0C151.6,826.2 151.8,826.4 151.9,826.6C152.1,826.8 152.3,827.0 152.4,827.2C152.6,827.4 152.8,827.6 153.0,827.8C153.1,828.0 153.3,828.2 153.5,828.4C153.7,828.6 153.9,828.8 154.0,829.0C154.2,829.2 154.4,829.5 154.6,829.7C154.8,829.9 155.1,830.1 155.3,830.4C155.5,830.6 155.8,830.9 156.0,831.1C156.2,831.4 156.5,831.7 156.7,832.0C157.0,832.3 157.3,832.7 157.6,833.0C157.8,833.3 158.1,833.7 158.2,834.1C158.3,834.5 158.4,834.9 158.3,835.3C158.3,835.6 158.1,836.0 157.8,836.3C157.6,836.6 157.1,836.8 156.7,837.1C156.3,837.3 155.9,837.5 155.5,837.7C155.1,837.8 154.5,837.9 154.1,838.0C153.6,838.0 153.2,838.1 152.8,838.1C152.4,838.2 152.0,838.1 151.6,838.1C151.2,838.1 150.8,838.0 150.5,838.0C150.2,837.9 149.9,837.9 149.6,837.9C149.3,837.9 149.1,837.9 148.9,837.9C148.7,837.8 148.4,837.7 148.2,837.7C148.0,837.6 147.8,837.6 147.6,837.6C147.4,837.5 147.3,837.6 147.1,837.5C147.0,837.5 146.8,837.4 146.7,837.4C146.5,837.4 146.4,837.4 146.3,837.3C146.1,837.3 146.0,837.2 145.9,837.2C145.7,837.2 145.6,837.2 145.5,837.1C145.4,837.1 145.3,837.1 145.1,837.1C145.0,837.0 144.9,837.0 144.8,836.9C144.7,836.9 144.6,836.9 144.5,836.8C144.4,836.8 144.3,836.7 144.2,836.7C144.1,836.6 143.9,836.6 143.8,836.6C143.7,836.5 143.6,836.5 143.5,836.4C143.4,836.4 143.3,836.4 143.2,836.3C143.1,836.3 143.0,836.2 142.8,836.2C142.7,836.1 142.6,836.1 142.5,836.0C142.3,836.0 142.2,835.9 142.1,835.9C141.9,835.8 141.7,835.8 141.6,835.7C141.4,835.7 141.3,835.6 141.1,835.5C140.9,835.5 140.7,835.4 140.6,835.3C140.4,835.2 140.1,835.1 139.9,835.0C139.7,834.9 139.5,834.8 139.2,834.7C138.9,834.6 138.7,834.4 138.4,834.3C138.1,834.1 137.7,833.9 137.3,833.7C137.0,833.5 136.6,833.3 136.2,833.0Z" fill="none" stroke="#3a3a3a" stroke-width="0.68"/>
<path d="M136.9,833.0C136.5,832.7 136.2,832.5 135.9,832.2C135.6,831.9 135.3,831.5 135.3,831.2C135.2,830.9 135.2,830.6 135.4,830.3C135.5,830.0 135.8,829.8 136.1,829.6C136.3,829.3 136.5,829.1 136.7,828.9C136.9,828.7 137.1,828.5 137.3,828.2C137.4,828.0 137.6,827.8 137.7,827.6C137.9,827.3 138.0,827.1 138.1,826.8C138.2,826.5 138.2,826.2 138.4,825.9C138.5,825.5 138.6,825.3 138.8,825.0C138.9,824.7 139.0,824.3 139.2,823.9C139.3,823.6 139.5,823.3 139.8,823.0C140.0,822.8 140.3,822.6 140.6,822.6C141.0,822.5 141.4,822.6 141.8,822.7C142.1,822.8 142.5,823.0 142.8,823.1C143.2,823.2 143.5,823.4 143.8,823.6C144.1,823.7 144.4,823.9 144.7,824.0C145.0,824.1 145.2,824.3 145.5,824.4C145.8,824.5 146.0,824.7 146.2,824.8C146.5,824.9 146.7,825.0 146.9,825.1C147.1,825.2 147.3,825.3 147.5,825.4C147.8,825.5 148.0,825.6 148.2,825.7C148.4,825.8 148.6,825.9 148.8,826.0C148.9,826.1 149.1,826.3 149.3,826.4C149.5,826.5 149.6,826.7 149.8,826.9C150.0,827.0 150.1,827.1 150.3,827.3C150.4,827.4 150.6,827.6 150.7,827.8C150.9,827.9 151.0,828.1 151.2,828.2C151.4,828.4 151.5,828.5 151.7,828.7C151.8,828.8 152.0,829.0 152.2,829.2C152.3,829.3 152.5,829.5 152.7,829.7C152.8,829.8 153.0,830.0 153.2,830.2C153.4,830.4 153.6,830.6 153.9,830.8C154.1,831.0 154.3,831.2 154.6,831.4C154.8,831.6 155.1,831.9 155.3,832.1C155.6,832.4 155.9,832.7 156.2,833.0C156.5,833.3 156.8,833.7 156.9,834.0C157.1,834.3 157.2,834.7 157.1,835.0C157.0,835.4 156.9,835.7 156.6,836.0C156.3,836.2 155.8,836.4 155.4,836.6C155.1,836.8 154.7,837.0 154.3,837.1C153.9,837.2 153.4,837.3 153.0,837.3C152.6,837.4 152.2,837.4 151.8,837.4C151.5,837.5 151.1,837.4 150.8,837.4C150.4,837.4 150.1,837.4 149.8,837.3C149.5,837.3 149.3,837.3 149.1,837.2C148.8,837.2 148.7,837.2 148.5,837.2C148.2,837.2 148.0,837.1 147.8,837.1C147.7,837.0 147.5,837.0 147.3,837.0C147.2,836.9 147.1,837.0 146.9,836.9C146.8,836.9 146.7,836.8 146.5,836.8C146.4,836.8 146.3,836.8 146.2,836.8C146.0,836.7 145.9,836.7 145.8,836.7C145.7,836.6 145.6,836.6 145.5,836.6C145.4,836.6 145.3,836.6 145.2,836.5C145.1,836.5 145.0,836.5 144.9,836.4C144.8,836.4 144.7,836.4 144.6,836.3C144.5,836.3 144.4,836.3 144.3,836.2C144.2,836.2 144.1,836.2 144.0,836.1C143.9,836.1 143.8,836.1 143.7,836.0C143.6,836.0 143.5,836.0 143.4,835.9C143.3,835.9 143.2,835.9 143.1,835.8C143.0,835.8 142.9,835.7 142.8,835.7C142.7,835.7 142.6,835.6 142.4,835.6C142.3,835.5 142.1,835.5 142.0,835.5C141.8,835.4 141.7,835.3 141.6,835.3C141.4,835.2 141.2,835.2 141.0,835.1C140.9,835.0 140.7,834.9 140.5,834.8C140.2,834.7 140.0,834.6 139.8,834.5C139.5,834.4 139.3,834.3 139.0,834.2C138.7,834.0 138.3,833.9 138.0,833.7C137.6,833.5 137.2,833.3 136.9,833.0Z" fill="none" stroke="#3a3a3a" stroke-width="0.68"/>
<path d="M137.5,833.0C137.2,832.8 136.8,832.5 136.6,832.2C136.3,831.9 136.1,831.6 136.0,831.3C136.0,831.1 136.1,830.8 136.3,830.5C136.5,830.3 136.8,830.1 137.1,830.0C137.4,829.8 137.7,829.6 137.9,829.5C138.2,829.3 138.4,829.2 138.6,829.0C138.8,828.9 139.0,828.7 139.2,828.6C139.3,828.4 139.5,828.3 139.6,828.1C139.8,827.9 139.8,827.7 140.0,827.5C140.1,827.3 140.3,827.1 140.4,826.9C140.5,826.7 140.6,826.4 140.7,826.2C140.9,826.0 141.0,825.8 141.2,825.6C141.4,825.5 141.7,825.4 141.9,825.3C142.2,825.3 142.5,825.4 142.7,825.4C143.0,825.5 143.3,825.6 143.5,825.7C143.8,825.8 144.0,825.9 144.3,826.0C144.5,826.1 144.7,826.2 144.9,826.3C145.1,826.4 145.3,826.5 145.5,826.6C145.7,826.7 145.9,826.8 146.0,826.9C146.2,826.9 146.4,827.0 146.5,827.1C146.7,827.1 146.9,827.2 147.0,827.3C147.2,827.3 147.4,827.4 147.5,827.5C147.7,827.5 147.8,827.6 148.0,827.7C148.1,827.8 148.3,827.9 148.4,828.0C148.5,828.1 148.7,828.2 148.8,828.3C148.9,828.4 149.1,828.5 149.2,828.6C149.3,828.7 149.4,828.8 149.6,828.9C149.7,829.0 149.8,829.2 150.0,829.3C150.1,829.4 150.2,829.5 150.4,829.6C150.5,829.7 150.6,829.8 150.8,829.9C150.9,830.1 151.1,830.2 151.3,830.3C151.4,830.4 151.6,830.6 151.8,830.7C152.0,830.9 152.2,831.0 152.4,831.1C152.6,831.3 152.9,831.5 153.1,831.7C153.4,831.8 153.6,832.0 153.9,832.3C154.2,832.5 154.6,832.7 154.9,833.0C155.1,833.3 155.5,833.6 155.6,833.9C155.8,834.2 155.9,834.5 155.9,834.8C155.8,835.1 155.6,835.4 155.3,835.6C155.1,835.9 154.6,836.0 154.2,836.2C153.8,836.3 153.4,836.4 153.1,836.5C152.7,836.6 152.2,836.6 151.9,836.7C151.5,836.7 151.2,836.8 150.9,836.8C150.5,836.8 150.2,836.8 150.0,836.7C149.7,836.7 149.4,836.7 149.2,836.7C148.9,836.6 148.7,836.6 148.5,836.6C148.3,836.6 148.2,836.6 148.0,836.6C147.8,836.5 147.6,836.5 147.5,836.4C147.3,836.4 147.2,836.4 147.1,836.4C146.9,836.4 146.8,836.4 146.7,836.3C146.6,836.3 146.5,836.3 146.4,836.3C146.3,836.2 146.2,836.2 146.1,836.2C146.0,836.2 145.9,836.1 145.8,836.1C145.7,836.1 145.6,836.1 145.5,836.1C145.4,836.1 145.3,836.1 145.2,836.0C145.1,836.0 145.1,836.0 145.0,836.0C144.9,835.9 144.8,835.9 144.7,835.9C144.6,835.9 144.6,835.8 144.5,835.8C144.4,835.8 144.3,835.7 144.2,835.7C144.1,835.7 144.1,835.7 144.0,835.6C143.9,835.6 143.8,835.6 143.7,835.6C143.6,835.5 143.5,835.5 143.4,835.5C143.3,835.4 143.2,835.4 143.1,835.4C143.0,835.3 142.9,835.3 142.8,835.3C142.7,835.2 142.5,835.2 142.4,835.2C142.3,835.1 142.2,835.1 142.0,835.0C141.9,835.0 141.7,834.9 141.5,834.8C141.4,834.8 141.2,834.7 141.0,834.6C140.8,834.6 140.6,834.5 140.3,834.4C140.1,834.3 139.9,834.2 139.6,834.0C139.3,833.9 138.9,833.8 138.6,833.6C138.3,833.4 137.9,833.2 137.5,833.0Z" fill="none" stroke="#3a3a3a" stroke-width="0.68"/>
<path d="M138.2,833.0C137.9,832.8 137.5,832.5 137.3,832.3C137.0,832.0 136.8,831.7 136.8,831.5C136.8,831.2 137.0,831.0 137.2,830.8C137.5,830.6 137.9,830.5 138.2,830.3C138.5,830.2 138.9,830.1 139.2,830.0C139.4,830.0 139.7,829.9 140.0,829.8C140.2,829.7 140.4,829.7 140.6,829.6C140.8,829.5 141.0,829.5 141.2,829.4C141.3,829.3 141.4,829.2 141.6,829.1C141.7,829.0 141.9,828.9 142.0,828.8C142.1,828.7 142.2,828.6 142.3,828.5C142.5,828.4 142.6,828.3 142.7,828.2C142.9,828.1 143.0,828.1 143.2,828.1C143.4,828.1 143.6,828.1 143.7,828.1C143.9,828.2 144.1,828.2 144.2,828.3C144.4,828.3 144.6,828.4 144.7,828.5C144.8,828.5 145.0,828.6 145.1,828.6C145.3,828.7 145.4,828.7 145.5,828.8C145.6,828.8 145.7,828.9 145.9,828.9C146.0,829.0 146.1,829.0 146.2,829.1C146.3,829.1 146.4,829.1 146.5,829.2C146.6,829.2 146.7,829.2 146.9,829.3C147.0,829.3 147.1,829.4 147.2,829.4C147.3,829.5 147.4,829.5 147.5,829.6C147.6,829.6 147.7,829.7 147.8,829.8C147.9,829.8 148.0,829.9 148.1,829.9C148.2,830.0 148.3,830.1 148.4,830.1C148.5,830.2 148.6,830.2 148.7,830.3C148.8,830.4 148.9,830.4 149.1,830.5C149.2,830.6 149.3,830.6 149.4,830.7C149.6,830.8 149.7,830.9 149.9,831.0C150.0,831.0 150.2,831.1 150.4,831.2C150.6,831.3 150.8,831.4 151.0,831.5C151.2,831.6 151.4,831.8 151.7,831.9C151.9,832.1 152.2,832.2 152.5,832.4C152.8,832.6 153.2,832.8 153.5,833.0C153.8,833.2 154.2,833.5 154.3,833.8C154.5,834.0 154.7,834.4 154.6,834.6C154.6,834.9 154.3,835.1 154.1,835.3C153.8,835.5 153.3,835.6 153.0,835.7C152.6,835.8 152.2,835.9 151.8,836.0C151.5,836.0 151.1,836.0 150.8,836.0C150.5,836.1 150.2,836.1 149.9,836.1C149.6,836.1 149.4,836.1 149.1,836.0C148.9,836.0 148.7,836.0 148.5,836.0C148.3,836.0 148.1,836.0 148.0,835.9C147.8,835.9 147.7,835.9 147.5,835.9C147.4,835.9 147.3,835.8 147.1,835.8C147.0,835.8 146.9,835.8 146.8,835.8C146.7,835.8 146.6,835.8 146.5,835.7C146.4,835.7 146.3,835.7 146.2,835.7C146.1,835.7 146.0,835.7 146.0,835.6C145.9,835.6 145.8,835.6 145.7,835.6C145.6,835.6 145.6,835.6 145.5,835.6C145.4,835.5 145.4,835.5 145.3,835.5C145.2,835.5 145.1,835.5 145.1,835.5C145.0,835.4 144.9,835.4 144.9,835.4C144.8,835.4 144.7,835.4 144.6,835.4C144.6,835.3 144.5,835.3 144.4,835.3C144.4,835.3 144.3,835.3 144.2,835.2C144.1,835.2 144.1,835.2 144.0,835.2C143.9,835.2 143.8,835.1 143.7,835.1C143.6,835.1 143.6,835.1 143.5,835.0C143.4,835.0 143.3,835.0 143.2,834.9C143.1,834.9 143.0,834.9 142.8,834.9C142.7,834.8 142.6,834.8 142.5,834.8C142.3,834.7 142.2,834.7 142.0,834.6C141.9,834.6 141.7,834.5 141.5,834.4C141.3,834.4 141.1,834.3 140.9,834.2C140.7,834.1 140.4,834.1 140.2,833.9C139.9,833.8 139.6,833.7 139.2,833.5C138.9,833.4 138.5,833.2 138.2,833.0Z" fill="none" stroke="#3a3a3a" stroke-width="0.68"/>
<path d="M138.9,833.0C138.5,832.8 138.2,832.6 137.9,832.3C137.7,832.1 137.6,831.8 137.6,831.6C137.7,831.4 137.9,831.2 138.2,831.0C138.5,830.9 138.9,830.8 139.3,830.7C139.6,830.7 140.0,830.6 140.4,830.6C140.7,830.6 141.0,830.6 141.3,830.6C141.6,830.6 141.9,830.6 142.1,830.6C142.3,830.6 142.5,830.6 142.7,830.6C142.9,830.7 143.0,830.7 143.2,830.7C143.3,830.7 143.5,830.7 143.6,830.7C143.7,830.7 143.8,830.7 143.9,830.8C144.0,830.8 144.1,830.8 144.2,830.8C144.3,830.8 144.4,830.8 144.5,830.8C144.6,830.8 144.6,830.8 144.7,830.9C144.8,830.9 144.9,830.9 144.9,830.9C145.0,830.9 145.1,830.9 145.1,830.9C145.2,830.9 145.3,830.9 145.3,830.9C145.4,831.0 145.4,831.0 145.5,831.0C145.6,831.0 145.6,831.0 145.7,831.0C145.7,831.0 145.8,831.0 145.8,831.0C145.9,831.0 146.0,831.1 146.0,831.1C146.1,831.1 146.1,831.1 146.2,831.1C146.3,831.1 146.3,831.1 146.4,831.1C146.4,831.1 146.5,831.2 146.6,831.2C146.6,831.2 146.7,831.2 146.8,831.2C146.8,831.2 146.9,831.2 147.0,831.2C147.0,831.3 147.1,831.3 147.2,831.3C147.3,831.3 147.4,831.3 147.5,831.4C147.5,831.4 147.6,831.4 147.7,831.4C147.9,831.5 148.0,831.5 148.1,831.5C148.2,831.5 148.3,831.6 148.5,831.6C148.6,831.7 148.8,831.7 148.9,831.7C149.1,831.8 149.3,831.9 149.5,831.9C149.7,832.0 150.0,832.1 150.2,832.2C150.5,832.3 150.8,832.4 151.1,832.5C151.4,832.6 151.8,832.8 152.1,833.0C152.5,833.2 152.8,833.4 153.1,833.7C153.3,833.9 153.4,834.2 153.4,834.4C153.3,834.6 153.1,834.8 152.8,835.0C152.5,835.1 152.1,835.2 151.7,835.3C151.4,835.3 151.0,835.4 150.6,835.4C150.3,835.4 150.0,835.4 149.7,835.4C149.4,835.4 149.1,835.4 148.9,835.4C148.7,835.4 148.5,835.4 148.3,835.4C148.1,835.3 148.0,835.3 147.8,835.3C147.7,835.3 147.5,835.3 147.4,835.3C147.3,835.3 147.2,835.3 147.1,835.2C147.0,835.2 146.9,835.2 146.8,835.2C146.7,835.2 146.6,835.2 146.5,835.2C146.4,835.2 146.4,835.2 146.3,835.1C146.2,835.1 146.1,835.1 146.1,835.1C146.0,835.1 145.9,835.1 145.9,835.1C145.8,835.1 145.7,835.1 145.7,835.1C145.6,835.0 145.6,835.0 145.5,835.0C145.4,835.0 145.4,835.0 145.3,835.0C145.3,835.0 145.2,835.0 145.2,835.0C145.1,835.0 145.0,834.9 145.0,834.9C144.9,834.9 144.9,834.9 144.8,834.9C144.7,834.9 144.7,834.9 144.6,834.9C144.6,834.9 144.5,834.8 144.4,834.8C144.4,834.8 144.3,834.8 144.2,834.8C144.2,834.8 144.1,834.8 144.0,834.8C144.0,834.7 143.9,834.7 143.8,834.7C143.7,834.7 143.6,834.7 143.5,834.6C143.5,834.6 143.4,834.6 143.3,834.6C143.1,834.5 143.0,834.5 142.9,834.5C142.8,834.5 142.7,834.4 142.5,834.4C142.4,834.3 142.2,834.3 142.1,834.3C141.9,834.2 141.7,834.1 141.5,834.1C141.3,834.0 141.0,833.9 140.8,833.8C140.5,833.7 140.2,833.6 139.9,833.5C139.6,833.4 139.2,833.2 138.9,833.0Z" fill="none" stroke="#3a3a3a" stroke-width="0.68"/>
<line x1="59.2" y1="732" x2="207.8" y2="732" stroke="#999999" stroke-width="1"/>
<line x1="207.8" y1="732" x2="207.8" y2="878.8" stroke="#a4a4a4" stroke-width="1"/>
<line x1="59.2" y1="878.8" x2="207.8" y2="878.8" stroke="#cccccc" stroke-width="1"/>
<line x1="59.2" y1="732" x2="59.2" y2="878.8" stroke="#a8a8a8" stroke-width="1"/>
<line x1="52.6" y1="732" x2="59.2" y2="732" stroke="#000" stroke-width="1.8"/>
<line x1="52.6" y1="780.87" x2="59.2" y2="780.87" stroke="#000" stroke-width="1.8"/>
<line x1="52.6" y1="829.74" x2="59.2" y2="829.74" stroke="#000" stroke-width="1.8"/>
<line x1="52.6" y1="878.61" x2="59.2" y2="878.61" stroke="#000" stroke-width="1.8"/>
<line x1="56" y1="744.22" x2="59.2" y2="744.22" stroke="#222" stroke-width="1.1"/>
<line x1="56" y1="756.43" x2="59.2" y2="756.43" stroke="#222" stroke-width="1.1"/>
<line x1="56" y1="768.65" x2="59.2" y2="768.65" stroke="#222" stroke-width="1.1"/>
<line x1="56" y1="793.09" x2="59.2" y2="793.09" stroke="#222" stroke-width="1.1"/>
<line x1="56" y1="805.3" x2="59.2" y2="805.3" stroke="#222" stroke-width="1.1"/>
<line x1="56" y1="817.52" x2="59.2" y2="817.52" stroke="#222" stroke-width="1.1"/>
<line x1="56" y1="841.96" x2="59.2" y2="841.96" stroke="#222" stroke-width="1.1"/>
<line x1="56" y1="854.17" x2="59.2" y2="854.17" stroke="#222" stroke-width="1.1"/>
<line x1="56" y1="866.39" x2="59.2" y2="866.39" stroke="#222" stroke-width="1.1"/>
<line x1="99.4" y1="879.6" x2="99.4" y2="886.6" stroke="#000" stroke-width="1.9"/>
<line x1="142.5" y1="879.6" x2="142.5" y2="886.6" stroke="#000" stroke-width="1.9"/>
<line x1="185.6" y1="879.6" x2="185.6" y2="886.6" stroke="#000" stroke-width="1.9"/>
<line x1="88.62" y1="879.6" x2="88.62" y2="883.2" stroke="#222" stroke-width="1.15"/>
<line x1="77.85" y1="879.6" x2="77.85" y2="883.2" stroke="#222" stroke-width="1.15"/>
<line x1="67.08" y1="879.6" x2="67.08" y2="883.2" stroke="#222" stroke-width="1.15"/>
<line x1="110.18" y1="879.6" x2="110.18" y2="883.2" stroke="#222" stroke-width="1.15"/>
<line x1="120.95" y1="879.6" x2="120.95" y2="883.2" stroke="#222" stroke-width="1.15"/>
<line x1="131.72" y1="879.6" x2="131.72" y2="883.2" stroke="#222" stroke-width="1.15"/>
<line x1="153.28" y1="879.6" x2="153.28" y2="883.2" stroke="#222" stroke-width="1.15"/>
<line x1="164.05" y1="879.6" x2="164.05" y2="883.2" stroke="#222" stroke-width="1.15"/>
<line x1="174.82" y1="879.6" x2="174.82" y2="883.2" stroke="#222" stroke-width="1.15"/>
<line x1="196.38" y1="879.6" x2="196.38" y2="883.2" stroke="#222" stroke-width="1.15"/>
<line x1="207.15" y1="879.6" x2="207.15" y2="883.2" stroke="#222" stroke-width="1.15"/>
<text x="49.6" y="737.8" font-family="Liberation Sans, sans-serif" font-size="12" text-anchor="end" font-weight="normal" fill="#000">0.8</text>
<text x="49.6" y="786.67" font-family="Liberation Sans, sans-serif" font-size="12" text-anchor="end" font-weight="normal" fill="#000">0.6</text>
<text x="49.6" y="835.54" font-family="Liberation Sans, sans-serif" font-size="12" text-anchor="end" font-weight="normal" fill="#000">0.4</text>
<text x="49.6" y="882.31" font-family="Liberation Sans, sans-serif" font-size="12" text-anchor="end" font-weight="normal" fill="#000">0.2</text>
<text x="98.4" y="899.9" font-family="Liberation Sans, sans-serif" font-size="12" text-anchor="middle" font-weight="normal" fill="#000">80</text>
<text x="142.8" y="899.9" font-family="Liberation Sans, sans-serif" font-size="12" text-anchor="middle" font-weight="normal" fill="#000">100</text>
<text x="185.5" y="899.9" font-family="Liberation Sans, sans-serif" font-size="12" text-anchor="middle" font-weight="normal" fill="#000">120</text>
<text x="132.7" y="915.6" font-family="Liberation Sans, sans-serif" font-size="11.5" text-anchor="middle" font-weight="normal" fill="#000">Cell time (us)</text>
<text x="25.9" y="805.4" font-family="Liberation Sans, sans-serif" font-size="11.5" text-anchor="middle" font-weight="normal" fill="#000" transform="rotate(-90 25.9 805.4)">Time ratio</text>
<text x="133.3" y="719.6" font-family="Liberation Sans, sans-serif" font-size="13" text-anchor="middle" font-weight="bold" fill="#000">immature</text>
<text x="65.3" y="745" font-family="Liberation Sans, sans-serif" font-size="11.5" text-anchor="start" font-weight="normal" fill="#000">Total cells 4 246</text>
<path d="M346.8 822.5h1v1h-1zM355.9 804.0h1v1h-1zM343.6 831.1h1v1h-1zM329.6 814.4h1v1h-1zM355.3 822.8h1v1h-1zM330.1 811.9h1v1h-1zM328.7 811.7h1v1h-1zM341.1 801.4h1v1h-1zM339.6 800.8h1v1h-1zM322.5 802.2h1v1h-1zM343.3 800.8h1v1h-1zM358.7 805.1h1v1h-1zM359.9 823.8h1v1h-1zM341.9 819.8h1v1h-1zM345.2 800.6h1v1h-1zM336.2 818.7h1v1h-1zM356.7 807.8h1v1h-1zM345.9 803.7h1v1h-1zM349.7 798.6h1v1h-1zM322.9 813.8h1v1h-1zM338.1 795.9h1v1h-1zM338.6 822.8h1v1h-1zM346.4 802.3h1v1h-1zM337.8 796.9h1v1h-1zM330.8 815.6h1v1h-1zM374.1 810.4h1v1h-1zM350.9 827.3h1v1h-1zM343.9 823.5h1v1h-1zM334.3 817.0h1v1h-1zM314.8 804.5h1v1h-1zM320.1 798.9h1v1h-1zM337.0 820.3h1v1h-1zM352.8 806.8h1v1h-1zM332.4 814.9h1v1h-1zM326.0 804.3h1v1h-1zM348.0 826.4h1v1h-1zM325.9 814.8h1v1h-1zM345.4 827.1h1v1h-1zM348.2 827.4h1v1h-1zM357.1 801.9h1v1h-1zM353.7 805.1h1v1h-1zM334.8 827.4h1v1h-1zM358.0 802.7h1v1h-1zM338.2 800.7h1v1h-1zM349.4 803.2h1v1h-1zM347.0 802.3h1v1h-1zM334.7 818.1h1v1h-1zM339.1 790.0h1v1h-1zM334.8 816.5h1v1h-1zM351.0 805.4h1v1h-1zM340.4 822.5h1v1h-1zM354.7 806.2h1v1h-1zM351.8 803.6h1v1h-1zM365.2 812.0h1v1h-1zM348.1 823.5h1v1h-1zM368.3 837.7h1v1h-1zM352.0 804.6h1v1h-1zM325.9 813.0h1v1h-1zM323.4 816.6h1v1h-1zM363.9 819.5h1v1h-1zM343.9 824.5h1v1h-1zM360.7 812.0h1v1h-1zM339.6 821.3h1v1h-1zM340.3 819.7h1v1h-1zM336.7 817.8h1v1h-1zM339.7 799.7h1v1h-1zM338.5 820.7h1v1h-1zM337.8 823.8h1v1h-1zM333.8 820.3h1v1h-1zM344.1 821.8h1v1h-1zM339.7 800.4h1v1h-1zM339.9 825.2h1v1h-1zM348.8 838.2h1v1h-1zM353.7 805.1h1v1h-1zM334.1 817.2h1v1h-1zM362.9 800.7h1v1h-1zM334.9 831.2h1v1h-1zM342.2 802.1h1v1h-1zM359.6 819.0h1v1h-1zM340.9 825.7h1v1h-1zM363.0 821.2h1v1h-1zM360.8 832.3h1v1h-1zM344.3 802.1h1v1h-1zM344.3 822.6h1v1h-1zM359.1 825.7h1v1h-1zM327.7 805.9h1v1h-1zM333.7 819.8h1v1h-1zM349.2 824.3h1v1h-1zM360.4 806.3h1v1h-1zM341.0 825.0h1v1h-1zM359.8 817.0h1v1h-1zM337.0 818.6h1v1h-1zM326.7 805.2h1v1h-1zM338.5 797.7h1v1h-1zM345.6 825.7h1v1h-1zM358.4 810.6h1v1h-1zM351.4 826.9h1v1h-1zM367.9 816.2h1v1h-1zM352.7 806.4h1v1h-1zM348.8 800.4h1v1h-1zM361.8 824.1h1v1h-1zM348.8 831.0h1v1h-1zM341.8 819.7h1v1h-1zM340.9 795.4h1v1h-1zM332.8 799.0h1v1h-1zM339.8 800.7h1v1h-1zM347.9 800.5h1v1h-1zM350.5 805.6h1v1h-1zM334.0 815.9h1v1h-1zM381.2 813.2h1v1h-1zM315.4 814.5h1v1h-1zM325.8 815.6h1v1h-1zM350.1 835.9h1v1h-1zM342.6 826.7h1v1h-1zM325.5 795.9h1v1h-1zM329.7 814.6h1v1h-1zM346.4 798.9h1v1h-1zM360.0 803.1h1v1h-1zM350.9 801.7h1v1h-1zM326.9 803.4h1v1h-1zM333.9 800.2h1v1h-1zM349.1 832.3h1v1h-1zM359.7 801.6h1v1h-1zM355.8 823.2h1v1h-1zM323.2 813.5h1v1h-1zM346.6 828.6h1v1h-1zM359.2 825.2h1v1h-1zM346.5 803.8h1v1h-1zM345.9 798.6h1v1h-1zM329.8 801.9h1v1h-1zM359.1 831.9h1v1h-1zM347.2 803.1h1v1h-1zM343.1 823.0h1v1h-1zM323.6 794.2h1v1h-1zM369.6 816.2h1v1h-1zM354.6 807.9h1v1h-1zM335.6 816.3h1v1h-1zM359.4 820.0h1v1h-1zM344.9 800.3h1v1h-1zM353.4 824.3h1v1h-1zM357.1 825.3h1v1h-1zM320.9 804.4h1v1h-1zM360.5 808.6h1v1h-1zM347.3 798.0h1v1h-1zM358.8 827.6h1v1h-1zM367.6 829.2h1v1h-1zM352.8 828.2h1v1h-1zM353.8 828.1h1v1h-1zM339.4 822.4h1v1h-1zM335.7 795.5h1v1h-1zM320.4 816.9h1v1h-1zM355.4 827.6h1v1h-1zM359.3 810.7h1v1h-1zM326.0 816.3h1v1h-1zM341.0 796.5h1v1h-1zM319.7 807.3h1v1h-1zM360.0 810.0h1v1h-1zM358.9 809.9h1v1h-1zM336.5 820.5h1v1h-1zM326.2 783.4h1v1h-1zM352.2 769.2h1v1h-1zM369.2 777.8h1v1h-1zM359.7 774.6h1v1h-1zM353.1 782.6h1v1h-1zM329.7 796.5h1v1h-1zM345.5 778.2h1v1h-1zM330.2 798.4h1v1h-1zM333.6 791.7h1v1h-1zM359.0 802.8h1v1h-1zM355.1 787.4h1v1h-1zM342.6 793.7h1v1h-1zM352.8 786.9h1v1h-1zM350.7 801.8h1v1h-1zM349.5 793.5h1v1h-1zM348.5 797.0h1v1h-1zM356.2 799.5h1v1h-1zM349.1 801.0h1v1h-1zM344.4 779.6h1v1h-1zM352.4 792.8h1v1h-1zM341.0 782.2h1v1h-1zM361.4 785.7h1v1h-1zM357.2 789.9h1v1h-1zM326.6 796.3h1v1h-1zM345.3 789.7h1v1h-1zM347.0 787.5h1v1h-1zM347.6 804.0h1v1h-1zM353.6 794.9h1v1h-1zM362.5 767.1h1v1h-1zM364.1 794.2h1v1h-1zM327.7 785.1h1v1h-1zM357.8 797.1h1v1h-1zM328.3 798.2h1v1h-1zM359.5 808.0h1v1h-1zM353.1 786.2h1v1h-1zM339.8 799.3h1v1h-1zM343.2 788.2h1v1h-1zM343.2 782.7h1v1h-1zM361.3 773.2h1v1h-1zM342.3 793.0h1v1h-1zM352.7 787.7h1v1h-1zM365.9 801.4h1v1h-1zM342.1 790.9h1v1h-1zM351.3 798.8h1v1h-1zM340.6 788.3h1v1h-1zM359.2 795.9h1v1h-1zM335.9 779.2h1v1h-1zM352.4 797.9h1v1h-1zM344.2 801.7h1v1h-1zM360.6 784.3h1v1h-1zM368.3 769.9h1v1h-1zM348.4 792.2h1v1h-1zM351.9 777.9h1v1h-1zM350.4 788.7h1v1h-1zM360.9 800.8h1v1h-1zM357.0 765.7h1v1h-1zM349.2 787.2h1v1h-1zM347.6 788.3h1v1h-1zM340.3 798.0h1v1h-1zM345.5 794.5h1v1h-1zM366.2 794.8h1v1h-1zM357.6 797.7h1v1h-1zM325.5 768.4h1v1h-1zM342.8 790.1h1v1h-1zM361.4 786.7h1v1h-1zM360.4 789.6h1v1h-1zM329.4 801.3h1v1h-1zM347.1 776.9h1v1h-1zM365.1 762.4h1v1h-1zM343.9 788.3h1v1h-1zM349.3 785.9h1v1h-1zM359.6 798.9h1v1h-1zM350.3 792.3h1v1h-1zM350.4 793.6h1v1h-1zM341.1 798.2h1v1h-1zM359.5 780.4h1v1h-1zM344.5 791.5h1v1h-1zM346.4 796.5h1v1h-1zM334.1 793.7h1v1h-1zM372.8 793.1h1v1h-1zM338.6 794.2h1v1h-1zM348.3 788.3h1v1h-1zM351.6 794.9h1v1h-1zM352.6 793.9h1v1h-1zM350.8 775.7h1v1h-1zM330.3 812.9h1v1h-1zM343.1 796.3h1v1h-1zM324.5 814.3h1v1h-1zM355.7 782.7h1v1h-1zM352.6 786.6h1v1h-1zM357.0 777.1h1v1h-1zM331.6 788.8h1v1h-1zM326.4 797.6h1v1h-1zM337.4 785.8h1v1h-1zM335.4 787.1h1v1h-1zM339.2 801.3h1v1h-1zM331.5 796.2h1v1h-1zM328.3 783.5h1v1h-1zM351.8 785.7h1v1h-1zM351.2 783.4h1v1h-1zM356.2 803.7h1v1h-1zM351.3 784.4h1v1h-1zM348.9 787.0h1v1h-1zM352.7 803.3h1v1h-1zM344.7 784.3h1v1h-1zM349.2 801.9h1v1h-1zM346.1 775.2h1v1h-1zM323.5 783.6h1v1h-1zM351.9 805.5h1v1h-1zM366.4 797.1h1v1h-1zM364.4 780.6h1v1h-1zM345.5 777.8h1v1h-1zM351.7 772.7h1v1h-1zM350.3 794.1h1v1h-1zM366.6 787.7h1v1h-1zM365.9 793.7h1v1h-1zM339.8 789.5h1v1h-1zM339.7 820.6h1v1h-1zM373.0 808.5h1v1h-1zM399.5 820.4h1v1h-1zM377.4 805.2h1v1h-1zM399.0 787.7h1v1h-1zM391.4 783.4h1v1h-1zM399.1 816.3h1v1h-1zM390.6 807.3h1v1h-1zM364.6 807.0h1v1h-1zM404.6 794.8h1v1h-1zM368.3 810.1h1v1h-1zM381.8 811.4h1v1h-1zM384.5 826.6h1v1h-1zM398.0 825.3h1v1h-1zM377.4 799.9h1v1h-1zM393.1 832.8h1v1h-1zM396.6 820.7h1v1h-1zM424.2 828.8h1v1h-1zM385.7 806.2h1v1h-1zM399.4 822.1h1v1h-1zM405.3 787.4h1v1h-1zM392.9 824.4h1v1h-1zM398.5 798.7h1v1h-1zM410.1 814.1h1v1h-1zM385.8 799.6h1v1h-1zM391.3 809.5h1v1h-1zM400.1 791.2h1v1h-1zM403.3 810.4h1v1h-1zM403.0 821.5h1v1h-1zM413.1 809.9h1v1h-1zM396.7 823.9h1v1h-1zM386.8 839.4h1v1h-1zM378.9 810.3h1v1h-1zM376.1 827.1h1v1h-1zM409.8 811.2h1v1h-1zM386.5 793.4h1v1h-1zM383.4 819.3h1v1h-1zM417.8 792.5h1v1h-1zM375.9 809.3h1v1h-1zM408.3 839.2h1v1h-1zM380.4 799.3h1v1h-1zM387.5 793.6h1v1h-1zM387.6 803.7h1v1h-1zM401.0 814.5h1v1h-1zM389.9 820.0h1v1h-1zM409.1 800.8h1v1h-1zM386.0 800.2h1v1h-1zM423.2 816.7h1v1h-1zM389.5 807.6h1v1h-1zM368.0 822.3h1v1h-1zM380.7 797.7h1v1h-1zM380.9 827.5h1v1h-1zM399.4 812.3h1v1h-1zM374.5 807.9h1v1h-1zM412.5 787.0h1v1h-1zM381.4 804.3h1v1h-1zM387.4 807.2h1v1h-1zM411.1 823.8h1v1h-1zM363.1 810.9h1v1h-1zM426.8 795.1h1v1h-1zM381.9 790.0h1v1h-1zM366.0 820.4h1v1h-1zM417.8 792.9h1v1h-1zM391.8 831.9h1v1h-1zM368.1 812.0h1v1h-1zM404.5 801.6h1v1h-1zM419.5 797.4h1v1h-1zM419.5 827.1h1v1h-1zM404.2 806.5h1v1h-1zM380.1 810.8h1v1h-1zM387.0 781.5h1v1h-1zM407.6 810.4h1v1h-1zM401.9 794.8h1v1h-1zM390.7 777.9h1v1h-1zM417.2 805.2h1v1h-1zM375.7 806.6h1v1h-1zM420.0 791.7h1v1h-1zM378.4 846.1h1v1h-1zM387.5 792.7h1v1h-1zM393.8 796.3h1v1h-1zM407.3 812.0h1v1h-1zM413.6 812.5h1v1h-1zM371.3 812.0h1v1h-1zM381.0 804.7h1v1h-1zM384.4 828.9h1v1h-1zM393.0 797.4h1v1h-1zM382.8 783.4h1v1h-1zM378.3 794.2h1v1h-1zM418.3 806.2h1v1h-1zM406.1 809.3h1v1h-1zM418.2 816.3h1v1h-1zM413.9 808.7h1v1h-1zM413.1 813.8h1v1h-1zM412.9 811.4h1v1h-1zM412.3 809.8h1v1h-1zM415.5 813.6h1v1h-1zM411.6 817.5h1v1h-1zM416.9 812.5h1v1h-1zM412.1 814.7h1v1h-1zM412.7 825.5h1v1h-1zM414.1 824.1h1v1h-1zM410.6 810.0h1v1h-1zM414.3 803.1h1v1h-1zM414.0 838.9h1v1h-1zM416.8 816.4h1v1h-1zM415.5 832.6h1v1h-1zM409.0 817.6h1v1h-1zM414.8 832.6h1v1h-1zM412.0 821.6h1v1h-1zM412.0 817.4h1v1h-1zM412.3 813.4h1v1h-1zM418.2 816.7h1v1h-1zM413.1 810.5h1v1h-1zM414.0 820.5h1v1h-1zM415.9 817.7h1v1h-1zM417.8 822.4h1v1h-1zM413.2 822.5h1v1h-1zM414.3 809.0h1v1h-1zM414.6 820.6h1v1h-1zM414.2 818.3h1v1h-1z" fill="#222" fill-opacity="0.8"/>
<path d="M358.5,819.4L358.1,820.1L357.7,820.6L357.3,821.1L356.8,821.4L356.3,821.8L355.8,822.0L355.2,822.2L354.6,822.4L353.9,822.5L353.2,822.6L352.4,822.6L351.6,822.5L350.8,822.4L350.0,822.3L349.1,822.1L348.1,821.8L347.1,821.5L346.1,821.2L345.1,820.8L344.0,820.3L342.8,819.7L341.5,819.1L339.7,818.2L338.4,817.5L337.3,816.8L336.3,816.2L335.3,815.6L334.5,814.9L333.7,814.3L332.9,813.7L332.2,813.1L331.6,812.4L331.1,811.8L330.6,811.2L330.2,810.6L329.8,810.0L329.5,809.4L329.3,808.7L329.1,808.1L329.0,807.6L329.0,807.0L329.0,806.4L329.2,805.8L329.4,805.2L329.7,804.4L330.1,803.7L330.5,803.2L330.9,802.7L331.4,802.4L331.9,802.0L332.4,801.8L333.0,801.6L333.6,801.4L334.3,801.3L335.0,801.2L335.8,801.2L336.6,801.3L337.4,801.4L338.2,801.5L339.1,801.7L340.1,802.0L341.1,802.3L342.1,802.6L343.1,803.0L344.2,803.5L345.4,804.1L346.7,804.7L348.5,805.6L349.8,806.3L350.9,807.0L351.9,807.6L352.9,808.2L353.7,808.9L354.5,809.5L355.3,810.1L356.0,810.7L356.6,811.4L357.1,812.0L357.6,812.6L358.0,813.2L358.4,813.8L358.7,814.4L358.9,815.1L359.1,815.7L359.2,816.2L359.2,816.8L359.2,817.4L359.0,818.0L358.8,818.6Z" fill="none" stroke="#111" stroke-width="0.72"/>
<path d="M357.1,818.6L356.9,819.2L356.4,819.8L355.9,820.0L355.6,820.3L355.1,820.6L354.7,820.8L354.0,820.9L353.8,821.2L352.9,821.2L352.4,821.1L351.7,821.1L351.2,821.1L350.4,820.9L349.6,820.8L348.9,820.6L347.9,820.4L347.1,820.1L346.2,819.9L345.2,819.6L344.2,818.9L343.2,818.5L342.0,818.0L340.5,817.1L339.2,816.4L338.4,815.9L337.2,815.2L336.4,814.8L335.7,814.4L335.0,813.6L334.2,813.2L333.6,812.4L333.1,812.0L332.7,811.4L331.8,811.0L331.5,810.5L331.6,809.8L331.0,809.2L331.0,808.8L330.7,808.3L330.8,807.8L330.7,807.4L330.7,806.9L330.6,806.3L330.8,805.7L331.3,805.1L331.5,804.5L331.8,804.2L332.1,803.7L332.6,803.5L333.1,803.2L333.3,803.1L334.0,803.0L334.5,803.0L335.0,802.7L335.8,802.6L336.5,802.6L336.9,802.6L337.9,803.1L338.5,803.0L339.6,803.2L340.2,803.3L340.9,803.6L342.0,803.8L342.8,804.4L343.9,804.8L345.0,805.2L346.3,806.1L348.0,806.8L349.0,807.5L350.1,808.1L351.0,808.5L351.6,809.2L352.5,809.6L353.2,810.1L354.1,810.8L354.4,811.3L355.1,811.9L355.8,812.4L355.9,812.9L356.4,813.5L356.8,814.0L357.0,814.5L357.3,815.1L357.4,815.4L357.6,815.9L357.8,816.6L357.6,817.0L357.5,817.3L357.4,817.9Z" fill="none" stroke="#111" stroke-width="0.72"/>
<path d="M356.0,818.0L355.6,818.5L355.2,818.9L355.1,819.2L354.5,819.4L354.3,819.8L354.0,819.8L353.3,820.0L352.9,820.0L352.5,820.1L351.9,820.0L351.2,819.9L350.6,820.0L350.0,819.9L349.2,819.9L348.4,819.4L347.7,819.4L347.0,819.0L346.1,818.9L345.3,818.3L344.4,817.9L343.4,817.7L342.3,817.0L340.9,816.2L339.9,815.7L338.9,815.0L338.1,814.7L337.3,814.1L336.4,813.7L335.8,813.0L335.3,812.6L334.7,812.1L334.2,811.6L333.6,811.2L333.3,810.8L333.0,810.3L332.7,809.9L332.5,809.4L332.2,809.0L331.9,808.4L332.0,808.0L331.9,807.5L331.8,807.2L332.0,806.8L332.1,806.3L332.4,805.8L332.5,805.2L333.0,804.8L333.3,804.6L333.6,804.3L333.9,803.9L334.3,804.1L334.6,804.0L335.2,803.8L335.5,803.8L336.3,803.7L336.8,803.7L337.7,803.8L338.3,803.9L339.0,804.0L339.7,804.5L340.5,804.6L341.2,804.9L342.2,804.9L342.7,805.6L343.8,805.8L344.8,806.4L345.9,806.8L347.5,807.6L348.3,808.1L349.3,808.6L350.1,809.2L350.6,809.6L351.7,810.2L352.2,810.6L353.0,811.1L353.4,811.8L353.9,812.2L354.4,812.6L354.8,813.0L355.4,813.4L355.6,813.9L355.8,814.5L355.9,815.0L356.2,815.5L356.2,815.9L356.6,816.2L356.3,816.7L356.3,817.1L356.1,817.5Z" fill="none" stroke="#111" stroke-width="0.72"/>
<path d="M355.1,817.5L354.7,818.1L354.5,818.6L354.2,818.5L353.9,818.8L353.5,818.9L353.4,819.0L353.0,819.2L352.3,819.4L351.9,819.2L351.4,819.4L350.9,819.3L350.4,819.2L349.7,819.0L348.9,818.9L348.5,818.6L347.8,818.5L346.8,818.3L346.3,817.9L345.4,817.8L344.4,817.3L343.7,816.8L342.7,816.3L341.2,815.5L340.3,815.1L339.4,814.5L338.5,814.1L338.0,813.6L337.4,813.3L336.7,812.7L336.3,812.2L335.6,812.1L335.0,811.4L334.6,811.1L334.4,810.7L333.8,810.1L333.6,809.6L333.3,809.6L333.0,809.1L332.9,808.5L332.8,808.0L332.8,807.9L332.9,807.5L332.8,807.0L333.0,806.7L333.3,806.1L333.6,805.8L333.7,805.3L334.0,805.2L334.1,805.0L334.6,804.8L335.1,804.6L335.5,804.6L335.9,804.3L336.3,804.5L336.9,804.4L337.5,804.4L338.1,804.7L338.5,804.9L339.1,804.9L339.9,805.1L340.6,805.4L341.3,805.5L342.0,805.8L342.9,806.0L343.7,806.3L344.5,806.8L345.7,807.3L346.9,808.2L348.0,808.7L348.9,809.2L349.6,809.6L350.3,809.9L350.9,810.7L351.5,810.9L352.1,811.6L352.8,811.7L353.2,812.3L353.6,812.5L354.1,813.1L354.3,813.6L354.5,814.1L354.8,814.4L355.2,814.8L355.2,815.3L355.3,815.6L355.5,816.1L355.5,816.5L355.4,816.7L355.4,817.3Z" fill="none" stroke="#111" stroke-width="0.72"/>
<path d="M354.3,817.3L354.0,817.4L354.0,817.9L353.6,818.3L353.5,818.2L352.9,818.2L352.7,818.5L352.3,818.6L351.8,818.6L351.3,818.8L350.9,818.7L350.4,818.6L350.0,818.5L349.3,818.7L348.7,818.3L348.1,818.0L347.6,817.9L346.9,817.4L346.1,817.5L345.4,817.1L344.7,816.8L343.8,816.4L342.9,815.7L341.6,815.1L340.5,814.7L339.7,814.2L338.9,813.7L338.4,813.4L337.8,812.9L337.1,812.7L336.6,812.1L336.4,811.6L335.5,811.2L335.3,810.8L334.9,810.5L334.5,810.2L334.2,809.9L334.1,809.6L334.0,809.0L333.8,808.7L333.6,808.2L333.7,808.2L333.5,807.6L333.6,807.4L333.8,806.9L333.9,806.5L334.1,806.3L334.5,805.9L334.5,805.8L334.9,805.5L335.2,805.4L335.6,805.3L336.0,805.2L336.2,805.2L336.8,805.2L337.1,805.1L337.8,805.0L338.3,805.2L338.8,805.3L339.2,805.5L340.1,805.8L340.8,805.9L341.5,805.9L342.1,806.5L342.9,806.7L343.6,807.0L344.4,807.5L345.4,807.9L346.5,808.8L347.5,808.8L348.5,809.6L349.1,810.1L349.8,810.3L350.4,810.7L350.9,811.2L351.5,811.8L351.9,812.1L352.3,812.4L352.9,813.0L353.3,813.4L353.4,813.6L353.6,814.0L354.1,814.4L354.2,814.8L354.5,815.1L354.5,815.5L354.6,815.8L354.7,816.1L354.4,816.4L354.5,816.8Z" fill="none" stroke="#111" stroke-width="0.72"/>
<path d="M353.6,816.8L353.5,817.2L353.2,817.5L353.0,817.6L352.8,817.8L352.4,817.9L352.0,818.0L351.8,818.0L351.5,818.1L350.9,818.0L350.5,818.1L350.0,818.0L349.4,817.9L349.1,817.7L348.6,817.8L347.9,817.3L347.4,817.4L346.6,817.1L346.1,816.7L345.3,816.7L344.7,816.2L344.0,815.8L342.8,815.5L341.8,814.8L341.1,814.4L340.3,813.8L339.6,813.7L338.9,813.0L338.4,812.6L337.8,812.3L337.4,812.0L336.9,811.7L336.3,811.2L336.1,810.7L335.6,810.5L335.3,810.3L335.1,810.1L334.8,809.5L334.9,809.1L334.7,808.5L334.4,808.7L334.5,808.3L334.3,807.9L334.5,807.7L334.6,807.3L334.7,807.1L335.1,806.7L335.1,806.3L335.1,806.0L335.5,806.2L335.8,805.7L336.1,805.8L336.4,805.9L336.9,805.9L337.1,805.8L337.6,805.9L338.0,805.9L338.6,805.9L339.0,806.1L339.5,806.0L340.2,806.5L340.9,806.4L341.5,807.0L342.1,806.9L342.7,807.3L343.7,807.6L344.3,807.9L345.1,808.5L346.4,809.1L347.1,809.5L348.0,810.1L348.7,810.3L349.3,810.7L349.8,811.0L350.5,811.7L350.9,812.0L351.3,812.2L351.8,812.6L352.3,813.1L352.3,813.4L352.9,813.8L353.0,814.0L353.5,814.4L353.7,814.6L353.6,815.0L353.7,815.3L353.9,815.6L353.7,815.8L353.8,816.2L353.8,816.4Z" fill="none" stroke="#111" stroke-width="0.72"/>
<path d="M352.8,816.4L352.7,816.7L352.6,816.9L352.4,817.2L352.2,817.4L352.0,817.4L351.6,817.4L351.4,817.7L351.1,817.6L350.6,817.7L350.2,817.5L349.8,817.5L349.2,817.4L348.7,817.3L348.2,817.2L347.7,817.0L347.3,816.9L346.6,816.7L345.9,816.4L345.5,816.2L344.8,815.7L344.1,815.4L343.3,815.1L342.2,814.4L341.2,813.8L340.6,813.7L340.0,813.4L339.4,812.9L338.8,812.5L338.4,812.2L337.8,811.8L337.3,811.4L336.9,811.2L336.4,810.8L336.6,810.5L335.9,810.2L335.7,809.9L335.5,809.5L335.4,809.3L335.3,809.0L335.2,808.7L335.3,808.5L335.1,808.1L334.8,807.8L335.1,807.6L335.2,807.2L335.3,806.9L335.6,806.8L335.8,806.6L336.0,806.4L336.3,806.4L336.6,806.2L336.9,806.3L337.3,806.0L337.6,806.2L338.1,806.0L338.3,806.2L338.9,806.2L339.5,806.6L339.9,806.7L340.3,806.8L340.7,807.1L341.7,807.2L342.1,807.4L342.9,807.6L343.5,808.1L344.1,808.3L345.2,808.8L346.3,809.4L346.8,809.8L347.6,810.1L348.3,810.7L348.9,811.1L349.3,811.3L349.9,811.4L350.3,811.9L350.9,812.4L351.3,812.6L351.5,813.0L352.1,813.4L352.2,813.7L352.6,814.1L352.7,814.3L353.0,814.5L353.1,814.8L353.2,815.2L353.1,815.4L353.4,815.7L353.0,816.1L353.1,816.2Z" fill="none" stroke="#111" stroke-width="0.72"/>
<path d="M352.5,816.2L352.2,816.4L352.1,816.7L351.9,817.1L351.7,817.1L351.7,817.1L351.2,817.1L350.9,817.3L350.7,817.2L350.2,817.2L350.0,817.1L349.6,817.1L349.0,817.0L348.5,816.8L348.2,816.6L347.6,816.6L347.0,816.4L346.4,816.3L346.0,815.8L345.5,815.6L344.6,815.2L344.1,814.8L343.3,814.7L342.4,814.1L341.6,813.7L341.0,813.3L340.3,813.0L339.7,812.9L339.2,812.4L338.7,812.1L338.0,811.8L337.7,811.2L337.5,811.0L337.1,810.9L336.8,810.4L336.5,810.4L336.3,810.1L336.2,809.5L336.0,809.2L335.8,809.1L335.6,808.7L335.6,808.5L335.6,808.3L335.6,808.1L335.5,807.8L335.9,807.5L335.8,807.1L336.3,807.0L336.4,807.0L336.5,806.8L336.9,806.9L337.0,806.6L337.4,806.7L337.6,806.7L337.9,806.7L338.3,806.7L338.6,806.7L339.2,806.7L339.6,807.0L340.2,807.2L340.5,807.3L341.2,807.4L341.6,807.7L342.3,807.8L342.9,808.1L343.4,808.3L344.2,808.8L344.9,809.1L345.9,809.7L346.5,810.1L347.2,810.4L348.0,810.8L348.5,811.0L349.2,811.5L349.5,811.8L349.9,811.9L350.2,812.5L350.5,812.9L351.1,812.9L351.4,813.2L351.7,813.7L352.0,813.8L352.2,814.2L352.3,814.5L352.5,814.9L352.7,815.1L352.5,815.2L352.7,815.5L352.5,815.9L352.8,816.0Z" fill="none" stroke="#111" stroke-width="0.72"/>
<path d="M351.8,815.9L351.6,816.1L351.6,816.3L351.5,816.8L351.3,816.6L351.0,816.7L350.9,816.7L350.6,816.6L350.1,816.7L350.0,816.6L349.6,816.6L349.2,816.6L348.9,816.4L348.3,816.4L348.0,816.4L347.3,816.1L346.8,816.1L346.5,815.8L345.7,815.6L345.3,815.4L344.6,815.2L344.2,814.8L343.3,814.6L342.5,813.9L341.8,813.5L341.2,813.2L340.7,812.9L340.0,812.6L339.7,812.2L339.1,812.0L338.8,811.6L338.4,811.4L338.1,811.1L337.8,810.6L337.4,810.6L337.0,810.1L336.8,810.0L336.7,809.8L336.6,809.4L336.4,809.3L336.1,809.0L336.0,808.7L336.1,808.6L336.1,808.3L336.3,808.1L336.2,808.0L336.6,807.6L336.5,807.4L336.7,807.5L336.9,807.3L337.3,807.2L337.5,807.2L337.8,806.9L338.1,806.8L338.3,807.2L338.5,807.2L339.3,807.2L339.3,807.4L339.8,807.2L340.2,807.4L340.7,807.8L341.2,807.7L341.6,808.0L342.4,808.1L342.8,808.6L343.4,808.7L344.0,809.1L344.7,809.6L345.5,810.0L346.5,810.3L347.0,810.8L347.5,810.9L348.0,811.3L348.5,811.5L349.1,811.9L349.5,812.3L349.7,812.4L350.2,812.9L350.4,813.0L350.9,813.2L351.1,813.6L351.3,813.9L351.6,814.1L351.8,814.4L351.8,814.5L352.1,814.7L352.0,815.1L351.8,815.2L351.8,815.5L352.0,815.6Z" fill="none" stroke="#111" stroke-width="0.72"/>
<path d="M351.3,815.7L351.1,815.7L351.0,815.9L350.9,816.1L350.8,815.9L350.5,816.1L350.3,816.1L349.9,816.2L349.7,816.1L349.3,816.2L348.8,816.1L348.6,815.9L348.2,816.1L347.7,815.7L347.3,815.7L347.0,815.4L346.4,815.3L346.0,815.1L345.3,815.0L345.0,814.7L344.1,814.4L343.9,814.3L343.3,814.1L342.8,813.6L342.4,813.4L342.0,813.3L341.3,812.8L340.9,812.7L340.5,812.3L340.2,812.1L339.6,811.6L339.0,811.4L338.8,811.2L338.5,810.8L338.2,810.5L337.9,810.2L337.8,810.0L337.5,809.8L337.2,809.3L337.0,809.2L337.0,808.9L337.0,808.8L336.9,808.5L336.6,808.5L336.9,808.5L336.9,808.2L337.2,807.8L337.0,807.7L337.3,807.8L337.5,807.6L337.6,807.7L337.9,807.7L338.3,807.6L338.5,807.6L338.9,807.6L339.1,807.7L339.5,807.8L340.0,807.7L340.4,808.1L341.1,808.2L341.5,808.4L342.0,808.4L342.2,808.7L342.8,808.9L343.4,809.0L343.8,809.3L344.5,809.5L344.8,810.0L345.2,810.2L345.9,810.3L346.3,810.6L346.8,810.8L347.3,811.3L347.7,811.6L348.0,811.8L348.7,812.1L349.1,812.5L349.2,812.8L349.6,813.1L350.0,813.4L350.0,813.6L350.5,813.9L350.9,814.2L350.9,814.3L351.0,814.5L351.2,814.8L351.4,814.9L351.4,815.2L351.3,815.2L351.3,815.4Z" fill="none" stroke="#111" stroke-width="0.72"/>
<path d="M350.6,815.4L350.6,815.4L350.5,815.5L350.4,815.7L350.2,815.7L350.1,815.7L349.9,815.8L349.5,815.9L349.3,815.7L349.1,815.5L348.7,815.5L348.3,815.3L348.0,815.6L347.4,815.5L347.0,815.2L346.5,815.1L346.2,814.9L345.8,814.6L345.3,814.5L345.0,814.3L344.4,814.2L344.0,814.0L343.4,813.6L343.0,813.4L342.6,813.1L342.1,812.9L341.7,812.6L341.3,812.3L340.6,812.1L340.4,811.8L340.1,811.5L339.7,811.4L339.2,811.0L339.2,810.9L338.8,810.5L338.5,810.3L338.1,810.2L337.9,809.8L337.7,809.8L337.6,809.5L337.4,809.4L337.7,809.0L337.6,808.7L337.4,808.8L337.4,808.5L337.5,808.4L337.5,808.4L337.5,808.2L337.8,808.3L338.0,808.1L338.0,808.4L338.3,808.1L338.5,808.2L338.8,808.0L339.3,808.0L339.7,808.2L340.1,808.3L340.3,808.2L340.7,808.6L341.0,808.7L341.4,808.8L342.0,808.8L342.3,809.1L342.9,809.1L343.4,809.5L343.7,809.5L344.3,809.8L344.6,810.0L345.4,810.4L345.7,810.5L346.1,811.0L346.4,811.0L346.9,811.3L347.4,811.6L347.8,811.9L348.2,812.2L348.4,812.3L348.7,812.7L349.2,813.0L349.6,813.2L349.8,813.5L350.0,813.6L350.2,813.9L350.2,813.9L350.6,814.4L350.9,814.6L350.7,814.6L350.9,814.9L351.0,815.3L350.6,815.1Z" fill="none" stroke="#111" stroke-width="0.72"/>
<path d="M350.1,815.0L350.1,815.3L350.2,815.3L350.1,815.4L349.9,815.6L349.6,815.6L349.3,815.3L349.3,815.3L348.8,815.5L348.6,815.3L348.3,815.2L348.0,815.2L347.6,815.4L347.4,814.9L346.9,814.9L346.5,815.0L346.2,814.7L345.8,814.3L345.4,814.4L344.8,813.9L344.5,813.9L344.0,813.7L343.6,813.6L343.3,813.2L342.8,813.0L342.2,812.8L341.9,812.6L341.5,812.2L341.2,812.0L340.7,811.7L340.5,811.5L339.9,811.4L339.7,811.2L339.5,810.7L339.1,810.8L338.9,810.4L338.7,810.3L338.5,810.0L338.4,809.8L338.1,809.6L338.1,809.3L337.8,809.2L337.9,809.2L337.9,808.9L337.8,808.8L338.0,808.8L337.9,808.6L338.2,808.3L338.2,808.4L338.3,808.4L338.5,808.3L338.8,808.4L339.0,808.3L339.2,808.6L339.6,808.4L339.8,808.5L340.2,808.8L340.4,808.7L341.0,808.9L341.1,808.9L341.7,809.0L342.1,809.1L342.5,809.2L342.8,809.4L343.4,809.9L343.7,810.0L344.1,810.0L344.5,810.3L345.1,810.6L345.5,810.8L345.8,811.0L346.5,811.1L346.7,811.6L347.2,811.7L347.4,811.9L348.0,812.1L348.1,812.3L348.4,812.6L348.8,813.0L349.0,813.2L349.3,813.4L349.7,813.5L349.7,813.9L349.9,814.0L350.2,814.0L350.2,814.5L350.1,814.9L350.3,814.8L350.4,814.9L350.5,814.9Z" fill="none" stroke="#111" stroke-width="0.72"/>
<path d="M349.8,814.9L349.8,814.9L349.8,814.9L349.5,815.0L349.4,815.1L349.3,815.2L349.1,815.1L348.8,815.3L348.7,815.2L348.2,814.7L348.1,815.3L347.6,815.0L347.5,814.7L347.2,814.8L346.7,814.7L346.4,814.6L346.2,814.3L345.7,814.4L345.1,814.1L344.7,814.0L344.3,813.7L344.0,813.5L343.6,813.1L343.0,813.2L343.0,812.8L342.5,812.5L342.0,812.3L341.6,812.4L341.2,812.1L341.0,811.8L340.5,811.4L340.4,811.1L340.0,811.0L339.7,810.9L339.4,810.7L339.3,810.3L339.1,810.2L338.9,810.0L338.7,810.0L338.6,809.6L338.5,809.6L338.2,809.3L338.3,809.3L338.3,809.1L338.4,809.1L338.3,809.1L338.5,808.9L338.5,808.7L338.5,808.5L338.9,808.7L338.8,808.6L339.2,808.7L339.5,808.5L339.6,808.7L340.0,808.8L340.2,808.9L340.5,808.7L340.9,809.0L341.1,809.1L341.6,809.2L341.8,809.3L342.1,809.5L342.6,809.6L342.8,809.6L343.6,809.9L343.8,810.2L344.1,810.3L344.4,810.5L345.0,810.5L345.2,811.0L345.7,811.1L346.2,811.3L346.3,811.6L346.8,811.8L347.3,812.1L347.5,812.5L347.9,812.3L348.1,812.6L348.4,812.9L348.6,813.3L349.0,813.3L349.1,813.5L349.3,813.7L349.6,813.8L349.6,814.1L349.8,814.4L349.7,814.5L349.7,814.5L349.8,814.7L349.6,814.9Z" fill="none" stroke="#111" stroke-width="0.72"/>
<path d="M349.4,814.6L349.2,814.7L349.5,814.6L349.1,814.9L349.1,814.9L348.8,814.9L348.6,815.0L348.4,814.8L348.4,814.8L348.1,814.7L347.7,814.7L347.5,814.6L347.2,814.6L346.9,814.5L346.6,814.5L346.2,814.2L345.9,814.3L345.7,814.0L345.1,813.9L345.0,813.8L344.5,813.4L344.0,813.2L343.8,813.1L343.4,812.8L343.0,812.8L342.5,812.5L342.2,812.3L341.9,812.0L341.5,811.8L341.3,811.7L340.8,811.4L340.6,811.3L340.3,811.0L340.1,810.9L339.9,810.8L339.7,810.6L339.6,810.4L339.5,810.0L339.2,810.0L339.0,809.7L338.8,809.7L338.7,809.5L338.7,809.7L338.8,809.2L338.6,809.0L338.7,809.2L338.8,809.0L339.0,809.0L339.0,808.9L339.2,808.9L339.2,808.9L339.6,809.0L339.7,809.1L339.8,809.0L340.0,809.0L340.3,809.0L340.6,809.3L341.0,809.3L341.2,809.3L341.6,809.3L341.9,809.6L342.5,809.7L342.5,809.9L343.0,810.0L343.3,810.1L343.8,810.3L344.2,810.4L344.6,810.5L345.0,811.0L345.3,810.9L345.7,811.2L345.9,811.5L346.5,811.7L346.5,811.8L347.0,812.0L347.2,812.5L347.5,812.5L347.7,812.6L348.0,812.9L348.5,813.0L348.6,813.3L348.6,813.4L348.8,813.7L349.0,813.7L349.0,814.0L349.3,814.2L349.3,814.4L349.3,814.3L349.3,814.5L349.6,814.6Z" fill="none" stroke="#111" stroke-width="0.72"/>
<path d="M349.1,814.5L348.8,814.4L348.8,814.5L348.6,814.5L348.9,814.8L348.5,814.6L348.1,814.5L348.0,814.5L348.0,814.7L347.7,814.5L347.4,814.4L347.1,814.5L347.0,814.3L346.6,814.2L346.4,814.0L346.0,814.1L345.7,813.7L345.5,813.9L345.2,813.5L344.7,813.5L344.5,813.3L344.1,813.2L343.8,812.9L343.2,812.8L343.1,812.7L342.7,812.4L342.3,812.1L342.2,812.3L341.8,811.9L341.6,811.6L341.3,811.6L340.8,811.4L340.9,811.2L340.6,810.9L340.3,810.5L339.9,810.6L339.9,810.4L339.7,810.3L339.4,810.2L339.4,809.9L339.4,809.8L339.3,809.6L339.1,809.4L339.1,809.4L339.1,809.6L339.2,809.3L339.3,809.4L339.4,809.1L339.4,809.3L339.4,809.1L339.5,809.1L339.7,809.1L340.0,809.0L340.5,809.3L340.4,809.4L340.7,809.4L340.9,809.4L341.2,809.5L341.5,809.6L341.9,809.7L342.2,809.9L342.4,809.8L342.9,810.0L343.1,810.2L343.3,810.2L343.7,810.4L344.0,810.6L344.6,810.9L344.9,811.0L344.9,811.3L345.7,811.5L345.9,811.4L346.1,811.8L346.5,811.9L346.7,812.0L346.9,812.3L347.3,812.6L347.4,812.7L347.9,812.9L348.1,813.2L348.3,813.3L348.2,813.3L348.6,813.7L348.6,813.8L348.6,813.8L348.9,814.0L348.9,814.0L348.9,814.2L349.1,814.2L348.9,814.4Z" fill="none" stroke="#111" stroke-width="0.72"/>
<path d="M348.8,814.2L348.4,814.3L348.5,814.3L348.4,814.4L348.3,814.5L348.3,814.5L348.1,814.4L347.9,814.4L347.6,814.4L347.4,814.3L347.3,814.2L347.0,814.0L346.8,813.9L346.6,814.0L346.3,814.0L346.2,813.7L345.7,813.7L345.4,813.7L345.1,813.6L344.9,813.1L344.3,813.1L344.2,813.0L344.0,812.9L343.6,812.5L343.3,812.5L342.9,812.4L342.5,812.2L342.3,811.9L342.0,811.7L341.8,811.8L341.6,811.6L341.3,811.1L341.2,811.1L340.8,810.7L340.6,810.6L340.5,810.6L340.3,810.5L340.0,810.4L340.1,810.2L339.8,810.3L339.7,809.9L339.6,809.8L339.7,809.9L339.6,809.7L339.5,809.5L339.6,809.6L339.8,809.6L339.5,809.5L339.9,809.4L340.0,809.3L340.0,809.3L340.3,809.5L340.2,809.5L340.6,809.5L340.7,809.4L340.9,809.5L341.3,809.6L341.4,809.5L341.8,809.7L342.1,809.9L342.3,810.2L342.6,810.1L342.9,810.3L343.1,810.2L343.3,810.5L343.8,810.6L344.1,810.9L344.3,811.0L344.7,811.1L345.0,811.3L345.1,811.6L345.4,811.7L346.0,812.0L346.2,812.1L346.5,812.1L346.9,812.4L346.7,812.5L347.3,812.6L347.4,812.7L347.6,813.2L348.0,813.4L348.0,813.4L348.0,813.5L348.3,813.5L348.3,813.6L348.5,813.9L348.4,814.0L348.6,813.9L348.7,814.1L348.8,814.1Z" fill="none" stroke="#111" stroke-width="0.72"/>
<path d="M348.1,814.0L347.9,814.2L348.0,814.0L348.0,814.1L347.9,814.0L347.8,814.1L347.7,814.1L347.3,814.0L347.2,813.8L347.1,814.1L346.8,813.8L346.8,813.6L346.6,813.9L346.1,813.8L346.0,813.5L346.1,813.4L345.4,813.5L345.4,813.3L345.0,813.3L344.8,813.2L344.3,812.9L344.2,812.7L343.8,812.6L343.8,812.5L343.3,812.4L342.9,812.1L342.7,812.2L342.6,812.0L342.3,811.7L342.0,811.7L341.8,811.4L341.5,811.3L341.5,811.2L341.1,811.2L340.8,811.0L340.7,810.9L340.8,810.5L340.5,810.6L340.2,810.2L340.4,810.2L340.2,810.3L340.0,810.1L340.2,809.9L340.1,809.9L340.1,809.8L340.1,809.8L340.2,809.7L340.3,809.7L340.4,809.9L340.3,809.8L340.5,809.7L340.7,809.7L340.6,809.7L340.9,809.9L341.0,809.9L341.4,809.7L341.3,810.0L341.7,809.8L342.1,810.1L342.0,810.1L342.4,810.2L342.7,810.4L342.9,810.4L343.2,810.6L343.4,810.8L343.8,810.7L344.1,811.1L344.6,811.2L344.5,811.1L344.8,811.5L345.2,811.5L345.3,811.8L345.5,811.8L346.0,812.1L346.2,812.2L346.2,812.3L346.6,812.5L346.7,812.6L347.0,812.6L347.0,813.0L347.5,813.1L347.6,813.2L347.8,813.3L347.8,813.4L347.7,813.4L348.0,813.7L348.0,813.7L348.0,813.6L348.1,813.9L348.1,813.9Z" fill="none" stroke="#111" stroke-width="0.72"/>
<path d="M347.7,813.8L347.7,813.8L347.6,813.8L347.5,813.7L347.5,813.8L347.5,813.9L347.3,813.7L347.0,814.0L346.9,813.7L346.8,813.7L346.6,813.6L346.5,813.7L346.3,813.6L346.0,813.5L345.8,813.5L345.8,813.4L345.3,813.1L345.2,813.3L344.9,813.0L344.8,812.8L344.5,812.9L344.2,812.6L343.8,812.6L343.7,812.5L343.6,812.3L343.2,812.1L343.0,812.2L342.6,812.0L342.5,811.8L342.1,811.7L342.0,811.4L341.7,811.3L341.6,811.2L341.6,811.1L341.1,810.7L341.1,810.7L341.1,810.7L340.9,810.8L340.9,810.5L340.6,810.6L340.6,810.4L340.6,810.4L340.5,810.2L340.6,810.1L340.6,810.2L340.5,810.2L340.6,810.1L340.6,810.0L340.7,810.1L340.6,809.9L340.8,810.0L341.0,810.1L340.9,810.0L341.4,809.8L341.4,810.0L341.5,810.2L341.9,810.2L342.1,810.3L342.2,810.5L342.5,810.4L342.3,810.6L342.6,810.4L342.9,810.6L343.4,810.9L343.6,811.0L343.6,810.9L344.1,811.2L344.3,811.2L344.5,811.4L344.8,811.5L345.0,811.8L345.4,811.6L345.5,812.0L345.8,812.0L345.8,812.1L346.1,812.2L346.2,812.5L346.6,812.5L346.6,812.9L346.8,812.8L347.0,813.0L347.2,812.9L347.3,813.1L347.3,813.5L347.5,813.4L347.6,813.4L347.6,813.8L347.7,813.6L347.7,813.7L347.7,813.6Z" fill="none" stroke="#111" stroke-width="0.72"/>
<path d="M347.4,813.5L347.3,813.7L347.2,813.5L347.2,813.6L347.2,813.5L346.8,813.6L346.9,813.6L346.6,813.5L346.9,813.5L346.4,813.5L346.4,813.3L346.2,813.5L345.9,813.1L345.9,813.3L345.9,813.3L345.7,813.0L345.3,812.9L345.1,813.1L344.9,812.8L344.7,812.7L344.4,812.7L344.1,812.7L344.1,812.4L343.8,812.3L343.5,812.2L343.5,812.2L343.2,811.8L343.0,811.9L342.5,811.5L342.5,811.5L342.2,811.6L342.1,811.4L341.9,811.3L341.9,811.0L341.8,811.0L341.6,811.0L341.3,811.0L341.1,810.8L341.2,810.6L341.0,810.6L341.3,810.7L341.0,810.2L340.9,810.3L340.8,810.3L340.9,810.3L341.0,810.4L340.8,810.1L341.0,810.4L341.2,810.3L341.2,810.4L341.2,810.3L341.3,810.1L341.3,810.3L341.4,810.3L341.6,810.3L342.0,810.3L341.8,810.5L342.2,810.5L342.2,810.7L342.4,810.5L342.8,810.6L342.8,810.8L343.0,810.9L343.5,811.0L343.7,811.1L343.9,811.2L343.9,811.4L344.3,811.5L344.2,811.5L344.8,811.5L344.7,811.7L345.2,811.9L345.3,811.7L345.5,812.2L345.7,812.3L345.9,812.3L346.0,812.4L346.4,812.6L346.4,812.6L346.4,812.8L346.6,812.7L346.7,812.9L346.9,813.1L346.9,813.2L346.9,813.3L347.2,813.3L347.1,813.3L347.2,813.4L347.2,813.4L347.1,813.5Z" fill="none" stroke="#111" stroke-width="0.72"/>
<path d="M347.0,813.4L346.9,813.4L346.8,813.5L346.8,813.3L346.7,813.5L346.5,813.3L346.6,813.4L346.5,813.3L346.3,813.4L346.2,813.3L346.0,813.3L346.0,813.0L345.7,813.1L345.6,813.1L345.7,813.1L345.2,812.9L345.1,812.8L344.9,812.7L344.7,812.7L344.6,812.8L344.4,812.6L344.5,812.3L344.1,812.3L343.9,812.0L343.6,812.1L343.3,812.0L343.5,811.9L343.2,811.7L343.0,811.8L342.8,811.6L342.6,811.5L342.2,811.3L342.3,811.3L342.3,811.2L342.2,811.2L342.0,811.0L341.7,811.0L341.6,810.9L341.6,810.8L341.5,810.9L341.4,810.9L341.6,810.8L341.3,810.6L341.5,810.6L341.4,810.5L341.3,810.4L341.5,810.5L341.4,810.3L341.4,810.4L341.4,810.8L341.7,810.5L341.7,810.5L341.8,810.5L341.8,810.7L341.8,810.5L342.2,810.5L342.1,810.5L342.4,810.7L342.8,810.8L342.8,810.9L342.8,811.0L343.2,810.9L343.3,811.2L343.2,811.0L343.6,811.0L343.8,811.5L343.9,811.3L344.1,811.7L344.3,811.6L344.6,811.8L344.7,811.8L345.0,812.0L345.3,811.9L345.4,812.3L345.6,812.2L345.7,812.5L345.7,812.4L345.9,812.6L346.1,812.6L346.2,812.8L346.3,812.7L346.5,813.0L346.5,812.9L346.8,813.0L346.8,813.0L346.7,813.1L346.8,813.1L346.6,813.4L347.0,813.3L346.7,813.4Z" fill="none" stroke="#111" stroke-width="0.72"/>
<line x1="340.51" y1="810.03" x2="347.26" y2="813.55" stroke="#fff" stroke-width="0.7" stroke-opacity="0.7" stroke-linecap="round"/>
<line x1="295.9" y1="731.9" x2="443.9" y2="731.9" stroke="#999999" stroke-width="1"/>
<line x1="443.9" y1="731.9" x2="443.9" y2="878.7" stroke="#a4a4a4" stroke-width="1"/>
<line x1="295.9" y1="878.7" x2="443.9" y2="878.7" stroke="#cccccc" stroke-width="1"/>
<line x1="295.9" y1="731.9" x2="295.9" y2="878.7" stroke="#a8a8a8" stroke-width="1"/>
<line x1="289.3" y1="732" x2="295.9" y2="732" stroke="#000" stroke-width="1.8"/>
<line x1="289.3" y1="780.87" x2="295.9" y2="780.87" stroke="#000" stroke-width="1.8"/>
<line x1="289.3" y1="829.74" x2="295.9" y2="829.74" stroke="#000" stroke-width="1.8"/>
<line x1="289.3" y1="878.61" x2="295.9" y2="878.61" stroke="#000" stroke-width="1.8"/>
<line x1="292.7" y1="744.22" x2="295.9" y2="744.22" stroke="#222" stroke-width="1.1"/>
<line x1="292.7" y1="756.43" x2="295.9" y2="756.43" stroke="#222" stroke-width="1.1"/>
<line x1="292.7" y1="768.65" x2="295.9" y2="768.65" stroke="#222" stroke-width="1.1"/>
<line x1="292.7" y1="793.09" x2="295.9" y2="793.09" stroke="#222" stroke-width="1.1"/>
<line x1="292.7" y1="805.3" x2="295.9" y2="805.3" stroke="#222" stroke-width="1.1"/>
<line x1="292.7" y1="817.52" x2="295.9" y2="817.52" stroke="#222" stroke-width="1.1"/>
<line x1="292.7" y1="841.96" x2="295.9" y2="841.96" stroke="#222" stroke-width="1.1"/>
<line x1="292.7" y1="854.17" x2="295.9" y2="854.17" stroke="#222" stroke-width="1.1"/>
<line x1="292.7" y1="866.39" x2="295.9" y2="866.39" stroke="#222" stroke-width="1.1"/>
<line x1="336.1" y1="879.5" x2="336.1" y2="886.5" stroke="#000" stroke-width="1.9"/>
<line x1="379.2" y1="879.5" x2="379.2" y2="886.5" stroke="#000" stroke-width="1.9"/>
<line x1="422.3" y1="879.5" x2="422.3" y2="886.5" stroke="#000" stroke-width="1.9"/>
<line x1="325.32" y1="879.5" x2="325.32" y2="883.1" stroke="#222" stroke-width="1.15"/>
<line x1="314.55" y1="879.5" x2="314.55" y2="883.1" stroke="#222" stroke-width="1.15"/>
<line x1="303.77" y1="879.5" x2="303.77" y2="883.1" stroke="#222" stroke-width="1.15"/>
<line x1="346.88" y1="879.5" x2="346.88" y2="883.1" stroke="#222" stroke-width="1.15"/>
<line x1="357.65" y1="879.5" x2="357.65" y2="883.1" stroke="#222" stroke-width="1.15"/>
<line x1="368.42" y1="879.5" x2="368.42" y2="883.1" stroke="#222" stroke-width="1.15"/>
<line x1="389.98" y1="879.5" x2="389.98" y2="883.1" stroke="#222" stroke-width="1.15"/>
<line x1="400.75" y1="879.5" x2="400.75" y2="883.1" stroke="#222" stroke-width="1.15"/>
<line x1="411.52" y1="879.5" x2="411.52" y2="883.1" stroke="#222" stroke-width="1.15"/>
<line x1="433.08" y1="879.5" x2="433.08" y2="883.1" stroke="#222" stroke-width="1.15"/>
<line x1="443.85" y1="879.5" x2="443.85" y2="883.1" stroke="#222" stroke-width="1.15"/>
<text x="286.3" y="737.8" font-family="Liberation Sans, sans-serif" font-size="12" text-anchor="end" font-weight="normal" fill="#000">0.8</text>
<text x="286.3" y="786.67" font-family="Liberation Sans, sans-serif" font-size="12" text-anchor="end" font-weight="normal" fill="#000">0.6</text>
<text x="286.3" y="835.54" font-family="Liberation Sans, sans-serif" font-size="12" text-anchor="end" font-weight="normal" fill="#000">0.4</text>
<text x="286.3" y="882.31" font-family="Liberation Sans, sans-serif" font-size="12" text-anchor="end" font-weight="normal" fill="#000">0.2</text>
<text x="335.1" y="899.9" font-family="Liberation Sans, sans-serif" font-size="12" text-anchor="middle" font-weight="normal" fill="#000">80</text>
<text x="379.5" y="899.9" font-family="Liberation Sans, sans-serif" font-size="12" text-anchor="middle" font-weight="normal" fill="#000">100</text>
<text x="422.2" y="899.9" font-family="Liberation Sans, sans-serif" font-size="12" text-anchor="middle" font-weight="normal" fill="#000">120</text>
<text x="369.4" y="915.6" font-family="Liberation Sans, sans-serif" font-size="11.5" text-anchor="middle" font-weight="normal" fill="#000">Cell time (us)</text>
<text x="263.7" y="805.4" font-family="Liberation Sans, sans-serif" font-size="11.5" text-anchor="middle" font-weight="normal" fill="#000" transform="rotate(-90 263.7 805.4)">Time ratio</text>
<text x="368.2" y="719.6" font-family="Liberation Sans, sans-serif" font-size="13" text-anchor="middle" font-weight="bold" fill="#000">mature</text>
<text x="300.3" y="745" font-family="Liberation Sans, sans-serif" font-size="11.5" text-anchor="start" font-weight="normal" fill="#000">Total cells 9 909</text>
<path d="M629.9 799.0h1v1h-1zM640.5 805.2h1v1h-1zM602.7 787.2h1v1h-1zM570.9 792.3h1v1h-1zM609.2 769.1h1v1h-1zM608.9 808.6h1v1h-1zM591.6 799.6h1v1h-1zM617.5 776.6h1v1h-1zM605.6 801.3h1v1h-1zM622.1 780.5h1v1h-1zM614.9 825.8h1v1h-1zM606.1 795.9h1v1h-1zM605.8 781.5h1v1h-1zM627.8 786.0h1v1h-1zM598.6 797.6h1v1h-1zM602.4 786.3h1v1h-1zM623.8 804.3h1v1h-1zM581.6 761.9h1v1h-1zM622.5 816.4h1v1h-1zM596.4 790.7h1v1h-1zM567.2 792.4h1v1h-1zM635.8 814.5h1v1h-1zM639.9 809.2h1v1h-1zM611.3 763.2h1v1h-1zM590.8 769.8h1v1h-1zM615.2 786.1h1v1h-1zM637.5 777.5h1v1h-1zM608.3 790.3h1v1h-1zM638.2 799.1h1v1h-1zM624.0 778.6h1v1h-1zM605.8 784.7h1v1h-1zM647.2 789.1h1v1h-1zM585.3 796.8h1v1h-1zM618.8 809.2h1v1h-1zM628.6 765.3h1v1h-1zM584.0 778.7h1v1h-1zM599.9 779.6h1v1h-1zM601.4 793.9h1v1h-1zM660.6 779.8h1v1h-1zM607.9 793.1h1v1h-1zM607.1 810.4h1v1h-1zM598.8 794.2h1v1h-1zM657.0 812.2h1v1h-1zM646.6 791.6h1v1h-1zM593.1 761.9h1v1h-1zM595.3 791.3h1v1h-1zM620.4 796.8h1v1h-1zM613.2 781.1h1v1h-1zM616.4 789.5h1v1h-1zM612.4 773.9h1v1h-1zM591.9 770.8h1v1h-1zM658.1 802.8h1v1h-1zM613.3 801.7h1v1h-1zM614.9 772.0h1v1h-1zM617.7 788.5h1v1h-1zM598.3 793.2h1v1h-1zM613.8 808.3h1v1h-1zM618.9 780.6h1v1h-1zM610.6 762.1h1v1h-1zM558.1 790.3h1v1h-1zM620.7 808.9h1v1h-1zM595.5 773.3h1v1h-1zM628.0 774.3h1v1h-1zM611.6 795.9h1v1h-1zM609.7 792.5h1v1h-1zM618.9 813.6h1v1h-1zM598.0 784.0h1v1h-1zM603.4 806.9h1v1h-1zM620.4 807.1h1v1h-1zM626.9 770.2h1v1h-1zM594.9 800.0h1v1h-1zM595.3 787.8h1v1h-1zM643.7 822.2h1v1h-1zM595.8 805.6h1v1h-1zM608.8 812.8h1v1h-1zM605.9 799.5h1v1h-1zM620.4 762.7h1v1h-1zM605.0 789.8h1v1h-1zM629.6 784.5h1v1h-1zM593.2 793.7h1v1h-1zM616.6 785.1h1v1h-1zM651.3 771.3h1v1h-1zM626.8 798.9h1v1h-1zM610.1 797.3h1v1h-1zM627.2 791.8h1v1h-1zM619.4 785.8h1v1h-1zM617.2 807.7h1v1h-1zM620.0 805.0h1v1h-1zM620.3 777.1h1v1h-1zM623.7 805.9h1v1h-1zM599.2 787.3h1v1h-1zM600.7 798.0h1v1h-1zM591.3 785.2h1v1h-1zM619.4 814.2h1v1h-1zM608.2 747.5h1v1h-1zM595.0 776.0h1v1h-1zM613.8 770.7h1v1h-1zM651.2 787.3h1v1h-1zM600.3 803.5h1v1h-1zM630.1 793.2h1v1h-1zM635.8 762.7h1v1h-1zM589.4 756.2h1v1h-1zM607.1 791.9h1v1h-1zM614.7 787.1h1v1h-1zM594.7 805.8h1v1h-1zM602.2 801.4h1v1h-1zM606.1 796.1h1v1h-1zM613.1 815.5h1v1h-1zM600.4 797.9h1v1h-1zM631.0 804.0h1v1h-1zM620.4 784.2h1v1h-1zM608.8 798.7h1v1h-1zM615.7 820.7h1v1h-1zM578.9 773.1h1v1h-1zM582.8 770.8h1v1h-1zM585.6 784.1h1v1h-1zM613.7 810.8h1v1h-1zM637.2 792.9h1v1h-1zM601.3 779.5h1v1h-1zM589.2 802.0h1v1h-1zM593.0 791.0h1v1h-1zM613.8 791.8h1v1h-1zM586.4 769.6h1v1h-1zM593.9 760.5h1v1h-1zM622.1 799.5h1v1h-1zM632.3 782.6h1v1h-1zM612.0 803.9h1v1h-1zM604.2 806.1h1v1h-1zM620.3 771.7h1v1h-1zM557.1 796.5h1v1h-1zM613.6 782.1h1v1h-1zM613.6 797.3h1v1h-1zM603.8 807.2h1v1h-1zM603.4 786.8h1v1h-1zM617.3 801.7h1v1h-1zM601.2 794.5h1v1h-1zM621.3 800.4h1v1h-1zM595.5 806.4h1v1h-1zM617.1 791.2h1v1h-1zM626.3 811.3h1v1h-1zM628.0 777.4h1v1h-1zM617.0 789.6h1v1h-1zM614.9 791.7h1v1h-1zM633.6 759.5h1v1h-1zM617.9 776.9h1v1h-1zM621.5 802.1h1v1h-1zM630.6 793.4h1v1h-1zM603.7 795.8h1v1h-1zM605.5 808.5h1v1h-1zM605.3 772.3h1v1h-1zM595.5 782.6h1v1h-1zM623.6 785.8h1v1h-1zM629.7 774.6h1v1h-1zM586.4 797.4h1v1h-1zM607.5 777.7h1v1h-1zM604.5 790.6h1v1h-1zM623.2 776.8h1v1h-1zM629.3 811.4h1v1h-1zM617.5 813.9h1v1h-1zM631.3 779.1h1v1h-1zM626.8 769.1h1v1h-1zM622.1 770.1h1v1h-1zM619.5 805.0h1v1h-1zM629.7 769.6h1v1h-1zM600.8 776.7h1v1h-1zM590.3 790.2h1v1h-1zM625.8 816.6h1v1h-1zM627.2 792.7h1v1h-1zM639.9 787.0h1v1h-1zM609.0 803.2h1v1h-1zM589.8 763.1h1v1h-1zM617.5 773.3h1v1h-1zM636.4 808.0h1v1h-1zM607.9 801.2h1v1h-1zM600.5 798.6h1v1h-1zM583.2 786.9h1v1h-1zM632.1 787.8h1v1h-1zM639.4 775.2h1v1h-1zM579.1 791.1h1v1h-1zM593.5 765.7h1v1h-1zM592.9 801.3h1v1h-1zM597.6 778.4h1v1h-1zM606.0 798.7h1v1h-1zM603.5 798.0h1v1h-1zM639.6 831.0h1v1h-1zM569.8 781.9h1v1h-1zM591.8 758.7h1v1h-1zM612.0 799.0h1v1h-1zM623.4 802.9h1v1h-1zM612.0 787.8h1v1h-1zM609.4 779.5h1v1h-1zM619.7 800.4h1v1h-1zM606.6 803.7h1v1h-1zM604.8 785.0h1v1h-1zM616.6 806.1h1v1h-1zM583.9 793.0h1v1h-1zM610.2 790.8h1v1h-1zM595.8 771.8h1v1h-1zM614.6 780.9h1v1h-1zM606.4 803.3h1v1h-1zM632.2 813.2h1v1h-1zM619.7 811.4h1v1h-1zM615.3 790.6h1v1h-1zM595.7 789.4h1v1h-1zM619.8 777.6h1v1h-1zM571.5 778.7h1v1h-1zM625.7 786.0h1v1h-1zM625.1 808.3h1v1h-1zM613.3 812.1h1v1h-1zM621.9 798.1h1v1h-1zM601.1 776.2h1v1h-1zM593.9 788.9h1v1h-1zM620.3 803.8h1v1h-1zM620.3 793.0h1v1h-1zM638.1 801.8h1v1h-1zM591.4 770.1h1v1h-1zM617.5 786.8h1v1h-1zM598.9 781.4h1v1h-1zM598.1 793.8h1v1h-1zM610.0 786.4h1v1h-1zM629.5 782.2h1v1h-1zM607.9 807.9h1v1h-1zM584.8 763.6h1v1h-1zM606.2 768.2h1v1h-1zM609.8 765.1h1v1h-1zM628.2 760.0h1v1h-1zM615.0 796.8h1v1h-1zM622.4 778.0h1v1h-1zM625.7 802.9h1v1h-1zM605.4 773.7h1v1h-1zM606.3 780.4h1v1h-1zM612.1 798.3h1v1h-1zM603.7 762.5h1v1h-1zM636.0 757.4h1v1h-1zM586.9 793.3h1v1h-1zM620.5 800.4h1v1h-1zM607.3 792.1h1v1h-1zM585.6 798.1h1v1h-1zM623.7 792.1h1v1h-1zM624.5 798.9h1v1h-1zM595.8 771.0h1v1h-1zM590.0 747.9h1v1h-1zM625.3 780.7h1v1h-1zM623.6 818.3h1v1h-1zM625.0 781.0h1v1h-1zM605.6 760.9h1v1h-1zM626.4 817.9h1v1h-1zM640.8 809.7h1v1h-1zM624.5 782.1h1v1h-1zM623.5 804.9h1v1h-1zM631.9 801.2h1v1h-1zM620.4 770.9h1v1h-1zM612.0 812.7h1v1h-1zM618.2 803.1h1v1h-1zM629.0 799.9h1v1h-1zM606.4 843.4h1v1h-1zM549.3 808.7h1v1h-1zM626.7 826.1h1v1h-1zM620.9 824.2h1v1h-1zM558.8 812.5h1v1h-1zM637.4 832.3h1v1h-1zM606.2 842.8h1v1h-1zM603.5 808.5h1v1h-1zM595.5 805.8h1v1h-1zM620.9 837.0h1v1h-1zM613.5 821.2h1v1h-1zM562.7 824.7h1v1h-1zM602.0 843.9h1v1h-1zM600.7 810.1h1v1h-1zM571.2 793.9h1v1h-1zM555.1 813.7h1v1h-1zM632.5 827.6h1v1h-1zM584.8 837.1h1v1h-1zM608.3 811.9h1v1h-1zM612.0 848.6h1v1h-1zM630.7 832.1h1v1h-1zM605.8 809.9h1v1h-1zM632.8 821.8h1v1h-1zM637.4 832.9h1v1h-1zM556.9 800.7h1v1h-1zM597.0 801.3h1v1h-1zM604.5 801.7h1v1h-1zM613.5 823.1h1v1h-1zM633.0 839.0h1v1h-1zM622.3 828.5h1v1h-1zM555.0 799.6h1v1h-1zM597.2 803.8h1v1h-1zM565.8 821.2h1v1h-1zM566.4 829.7h1v1h-1zM616.8 827.6h1v1h-1zM552.9 783.8h1v1h-1zM618.9 796.1h1v1h-1zM598.3 807.8h1v1h-1zM559.3 778.5h1v1h-1zM623.9 827.5h1v1h-1zM641.8 845.2h1v1h-1zM612.9 841.6h1v1h-1zM545.7 801.8h1v1h-1zM565.5 791.9h1v1h-1zM608.0 807.3h1v1h-1zM543.7 786.4h1v1h-1zM603.3 807.6h1v1h-1zM625.7 820.0h1v1h-1zM592.8 838.8h1v1h-1zM598.9 802.3h1v1h-1zM583.1 747.3h1v1h-1zM613.6 769.8h1v1h-1zM577.8 754.5h1v1h-1zM599.8 766.4h1v1h-1zM600.3 782.0h1v1h-1zM626.2 794.1h1v1h-1zM615.2 775.5h1v1h-1zM571.6 775.9h1v1h-1zM617.6 776.3h1v1h-1zM594.4 767.4h1v1h-1zM582.0 747.7h1v1h-1zM586.9 780.1h1v1h-1zM618.1 772.8h1v1h-1zM562.0 770.3h1v1h-1zM586.2 773.9h1v1h-1zM572.9 775.7h1v1h-1zM597.1 771.6h1v1h-1zM590.7 782.2h1v1h-1zM571.2 769.7h1v1h-1zM591.3 783.7h1v1h-1zM592.2 766.3h1v1h-1zM588.7 765.8h1v1h-1zM598.6 757.6h1v1h-1zM621.8 760.5h1v1h-1zM596.1 740.7h1v1h-1zM597.4 755.3h1v1h-1zM609.9 767.0h1v1h-1zM591.2 780.9h1v1h-1zM591.3 759.8h1v1h-1zM583.1 766.0h1v1h-1zM581.6 768.0h1v1h-1zM580.2 769.4h1v1h-1zM599.6 747.0h1v1h-1zM544.4 763.7h1v1h-1zM585.4 795.0h1v1h-1zM599.5 781.3h1v1h-1zM617.8 762.2h1v1h-1zM627.3 772.4h1v1h-1zM562.0 781.6h1v1h-1zM580.8 767.6h1v1h-1zM592.8 777.2h1v1h-1zM557.3 771.9h1v1h-1zM579.7 760.5h1v1h-1zM598.1 770.9h1v1h-1zM589.6 756.3h1v1h-1zM555.0 769.3h1v1h-1zM610.9 774.0h1v1h-1zM575.4 763.7h1v1h-1zM595.6 775.7h1v1h-1zM558.5 772.9h1v1h-1zM593.3 770.6h1v1h-1zM613.9 764.6h1v1h-1zM615.4 760.6h1v1h-1zM614.2 771.9h1v1h-1zM606.2 771.8h1v1h-1zM575.8 781.7h1v1h-1zM564.6 748.9h1v1h-1zM625.6 773.5h1v1h-1zM567.8 766.6h1v1h-1zM575.3 764.9h1v1h-1zM611.0 755.5h1v1h-1zM597.2 796.4h1v1h-1zM623.5 778.2h1v1h-1zM585.7 770.7h1v1h-1zM618.5 775.9h1v1h-1zM657.9 751.3h1v1h-1zM582.2 768.7h1v1h-1zM594.4 772.6h1v1h-1zM583.4 769.8h1v1h-1zM591.9 754.1h1v1h-1zM585.5 766.0h1v1h-1zM611.5 789.8h1v1h-1zM615.6 781.6h1v1h-1zM600.9 774.9h1v1h-1zM613.6 777.3h1v1h-1zM605.3 776.5h1v1h-1zM583.4 763.6h1v1h-1zM619.4 750.6h1v1h-1zM604.0 771.6h1v1h-1z" fill="#222" fill-opacity="0.8"/>
<path d="M561.1,794.1C563.0,793.5 567.3,793.1 570.3,793.6C573.4,794.1 576.6,795.8 579.5,797.2C582.4,798.5 585.3,800.4 587.7,801.8C590.1,803.1 591.8,804.0 593.8,805.3C595.9,806.7 598.1,808.4 600.0,809.9C601.8,811.5 603.4,812.9 605.1,814.5C606.8,816.1 608.5,817.6 610.2,819.6C611.9,821.7 613.8,824.4 615.3,826.8C616.7,829.2 618.4,832.0 618.9,833.9C619.3,835.9 619.0,837.4 617.8,838.5C616.7,839.6 614.7,840.2 612.2,840.6C609.8,840.9 606.1,840.9 603.0,840.6C600.0,840.2 596.9,839.4 593.8,838.5C590.8,837.7 587.7,836.7 584.6,835.5C581.6,834.3 578.0,833.0 575.4,831.4C572.9,829.8 570.8,827.7 569.3,825.8C567.9,823.8 568.1,822.2 566.8,819.6C565.4,817.1 562.5,813.3 561.1,810.4C559.8,807.5 558.9,804.5 558.6,802.3C558.2,800.0 558.7,798.5 559.1,797.2C559.5,795.8 559.3,794.7 561.1,794.1Z" fill="none" stroke="#555" stroke-width="0.55"/>
<path d="M563.2,795.8C565.0,795.2 568.9,794.8 571.8,795.3C574.6,795.8 577.6,797.3 580.3,798.6C583.0,799.9 585.7,801.6 587.9,802.9C590.1,804.2 591.7,804.9 593.6,806.2C595.5,807.5 597.6,809.1 599.3,810.5C601.1,811.9 602.5,813.3 604.1,814.8C605.7,816.3 607.3,817.6 608.8,819.5C610.4,821.4 612.2,824.0 613.6,826.2C614.9,828.4 616.5,831.0 616.9,832.8C617.3,834.6 617.0,836.1 616.0,837.1C614.9,838.1 613.0,838.7 610.7,839.0C608.4,839.3 605.0,839.3 602.2,839.0C599.3,838.7 596.5,837.9 593.6,837.1C590.8,836.3 587.9,835.4 585.1,834.3C582.2,833.1 578.9,832.0 576.5,830.4C574.2,828.9 572.2,827.0 570.8,825.2C569.5,823.4 569.7,821.9 568.4,819.5C567.2,817.1 564.5,813.7 563.2,811.0C562.0,808.3 561.2,805.4 560.8,803.4C560.5,801.3 560.9,799.9 561.3,798.6C561.7,797.3 561.5,796.3 563.2,795.8Z" fill="none" stroke="#777" stroke-width="0.55"/>
<path d="M565.3,797.4C566.9,796.9 570.6,796.6 573.2,797.0C575.9,797.4 578.6,798.9 581.1,800.1C583.6,801.2 586.1,802.9 588.2,804.0C590.2,805.2 591.7,805.9 593.4,807.1C595.2,808.3 597.1,809.7 598.7,811.1C600.3,812.4 601.6,813.6 603.1,815.0C604.6,816.4 606.0,817.6 607.5,819.4C609.0,821.2 610.6,823.5 611.9,825.6C613.1,827.6 614.6,830.0 615.0,831.7C615.3,833.4 615.0,834.7 614.1,835.7C613.1,836.6 611.4,837.1 609.3,837.4C607.1,837.7 604.0,837.7 601.3,837.4C598.7,837.1 596.1,836.4 593.4,835.7C590.8,834.9 588.2,834.1 585.5,833.0C582.9,832.0 579.8,830.9 577.6,829.5C575.4,828.1 573.6,826.4 572.3,824.7C571.1,823.0 571.3,821.6 570.1,819.4C569.0,817.2 566.5,814.0 565.3,811.5C564.1,809.0 563.4,806.4 563.1,804.5C562.8,802.6 563.2,801.2 563.6,800.1C563.9,798.9 563.7,797.9 565.3,797.4Z" fill="none" stroke="#888" stroke-width="0.55"/>
<path d="M590.8,817.6L590.2,818.4L589.7,819.0L589.2,819.5L588.6,819.9L588.0,820.3L587.3,820.5L586.6,820.8L585.8,820.9L585.0,821.0L584.1,821.1L583.2,821.0L582.3,820.9L581.3,820.8L580.3,820.6L579.2,820.3L578.2,819.9L577.1,819.5L575.9,819.1L574.7,818.5L573.5,817.9L572.2,817.2L570.8,816.4L569.1,815.4L567.8,814.5L566.6,813.7L565.5,812.9L564.5,812.1L563.5,811.3L562.7,810.5L561.9,809.7L561.2,808.8L560.5,808.0L559.9,807.2L559.4,806.4L559.0,805.6L558.6,804.9L558.3,804.1L558.1,803.3L558.0,802.6L557.9,801.8L558.0,801.1L558.1,800.4L558.3,799.7L558.6,799.0L559.0,798.2L559.6,797.4L560.1,796.8L560.6,796.3L561.2,795.9L561.8,795.5L562.5,795.3L563.2,795.0L564.0,794.9L564.8,794.8L565.7,794.7L566.6,794.8L567.5,794.9L568.5,795.0L569.5,795.2L570.6,795.5L571.6,795.9L572.7,796.3L573.9,796.7L575.1,797.3L576.3,797.9L577.6,798.6L579.0,799.4L580.7,800.4L582.0,801.3L583.2,802.1L584.3,802.9L585.3,803.7L586.3,804.5L587.1,805.3L587.9,806.1L588.6,807.0L589.3,807.8L589.9,808.6L590.4,809.4L590.8,810.2L591.2,810.9L591.5,811.7L591.7,812.5L591.8,813.2L591.9,814.0L591.8,814.7L591.7,815.4L591.5,816.1L591.2,816.8Z" fill="#fff" stroke="none"/>
<path d="M617.3,836.5L617.1,837.0L616.8,837.5L616.5,837.9L616.0,838.2L615.5,838.4L614.8,838.7L614.1,838.8L613.3,839.0L612.5,839.0L611.5,839.1L610.5,839.1L609.4,839.0L608.3,838.9L607.1,838.8L605.8,838.6L604.4,838.3L603.0,838.1L601.5,837.7L600.0,837.4L598.4,836.9L596.6,836.5L594.7,835.9L592.4,835.1L590.5,834.5L588.8,833.9L587.2,833.4L585.7,832.8L584.3,832.2L583.0,831.6L581.8,831.1L580.6,830.5L579.5,829.9L578.5,829.3L577.6,828.7L576.7,828.2L576.0,827.6L575.3,827.0L574.7,826.5L574.3,825.9L573.9,825.4L573.6,824.9L573.4,824.4L573.3,823.8L573.3,823.3L573.5,822.7L573.7,822.2L574.0,821.7L574.3,821.3L574.8,821.0L575.3,820.8L576.0,820.5L576.7,820.4L577.5,820.2L578.3,820.2L579.3,820.1L580.3,820.1L581.4,820.2L582.5,820.3L583.7,820.4L585.0,820.6L586.4,820.9L587.8,821.1L589.3,821.5L590.8,821.8L592.4,822.3L594.2,822.7L596.1,823.3L598.4,824.1L600.3,824.7L602.0,825.3L603.6,825.8L605.1,826.4L606.5,827.0L607.8,827.6L609.0,828.1L610.2,828.7L611.3,829.3L612.3,829.9L613.2,830.5L614.1,831.0L614.8,831.6L615.5,832.2L616.1,832.7L616.5,833.3L616.9,833.8L617.2,834.3L617.4,834.8L617.5,835.4L617.5,835.9Z" fill="#fff" stroke="none"/>
<path d="M590.8,817.6L590.2,818.5L589.7,819.1L589.1,819.6L588.6,820.0L587.9,820.4L587.3,820.7L586.6,820.9L585.8,821.1L585.0,821.2L584.2,821.2L583.3,821.2L582.4,821.1L581.5,821.0L580.5,820.7L579.4,820.5L578.4,820.1L577.3,819.7L576.1,819.2L575.0,818.7L573.7,818.1L572.4,817.4L571.0,816.5L569.0,815.3L567.6,814.4L566.4,813.6L565.2,812.7L564.2,811.9L563.3,811.1L562.4,810.3L561.6,809.6L560.9,808.8L560.3,808.0L559.7,807.2L559.2,806.4L558.8,805.7L558.5,804.9L558.2,804.2L558.0,803.4L557.9,802.7L557.8,802.0L557.9,801.2L558.0,800.5L558.2,799.8L558.5,799.1L559.0,798.2L559.6,797.3L560.1,796.7L560.7,796.2L561.2,795.8L561.9,795.4L562.5,795.1L563.2,794.9L564.0,794.7L564.8,794.6L565.6,794.6L566.5,794.6L567.4,794.7L568.3,794.8L569.3,795.1L570.4,795.3L571.4,795.7L572.5,796.1L573.7,796.6L574.8,797.1L576.1,797.7L577.4,798.4L578.8,799.3L580.8,800.5L582.2,801.4L583.4,802.2L584.6,803.1L585.6,803.9L586.5,804.7L587.4,805.5L588.2,806.2L588.9,807.0L589.5,807.8L590.1,808.6L590.6,809.4L591.0,810.1L591.3,810.9L591.6,811.6L591.8,812.4L591.9,813.1L592.0,813.8L591.9,814.6L591.8,815.3L591.6,816.0L591.3,816.7Z" fill="none" stroke="#333" stroke-width="0.55"/>
<path d="M589.2,816.8L588.5,817.2L588.0,818.1L588.0,818.5L587.4,818.7L586.7,819.1L586.1,819.1L585.6,819.2L585.0,819.4L584.2,819.5L583.7,819.4L582.7,819.5L581.8,819.3L581.1,819.3L580.2,818.9L579.5,818.7L578.4,818.4L577.4,817.9L576.4,817.4L575.3,817.0L574.1,816.5L573.0,815.8L571.7,815.1L570.1,814.1L568.4,813.3L567.4,812.2L566.6,811.5L565.8,811.0L564.7,810.1L564.0,809.7L563.3,809.1L562.7,808.3L562.0,807.5L561.5,806.6L561.3,806.1L560.7,805.6L560.3,804.8L560.1,804.1L560.0,803.6L559.7,803.0L559.7,802.2L559.7,801.7L559.8,801.1L560.0,800.4L560.2,799.8L560.7,799.0L560.9,798.4L561.8,798.1L562.0,797.8L562.5,797.2L563.1,796.9L563.6,796.6L564.2,796.6L564.7,796.3L565.7,796.6L566.1,796.3L567.2,796.3L567.8,796.6L568.6,796.6L569.5,796.7L570.3,797.2L571.6,797.5L572.4,797.9L573.4,798.1L574.4,798.8L575.6,799.2L576.6,800.1L577.9,800.9L579.9,801.7L581.1,802.6L582.3,803.4L583.4,804.2L584.1,804.8L584.9,805.5L585.8,806.0L586.5,806.9L587.1,807.5L587.7,808.2L588.3,808.7L588.7,809.7L589.1,810.2L589.5,811.2L589.8,811.7L589.9,812.3L590.1,812.8L590.2,813.6L590.0,814.1L590.1,814.8L589.8,815.5L589.7,815.9Z" fill="none" stroke="#333" stroke-width="0.55"/>
<path d="M587.7,815.8L587.5,816.4L587.1,817.1L586.8,817.4L586.2,817.5L586.0,817.7L585.5,817.8L584.7,818.2L584.0,818.2L583.5,818.1L582.9,818.2L582.3,818.1L581.5,817.9L580.8,817.6L580.0,817.6L579.3,817.5L578.2,817.1L577.3,816.6L576.6,816.3L575.6,815.8L574.5,815.2L573.4,814.8L572.1,813.9L570.7,813.0L569.4,812.3L568.6,811.5L567.4,810.9L566.6,810.2L565.9,809.6L565.2,809.0L564.4,808.5L564.1,807.8L563.4,807.3L562.8,806.5L562.4,806.0L562.2,805.4L561.6,804.9L561.7,804.2L561.4,803.6L561.2,803.1L561.3,802.5L561.1,802.2L561.1,801.6L561.3,801.2L561.4,800.5L561.9,799.9L562.4,799.3L562.6,799.0L563.2,798.5L563.6,798.3L563.9,798.0L564.5,797.9L564.9,797.7L565.8,797.6L566.0,797.6L566.9,797.7L567.5,797.9L568.2,797.8L569.1,798.0L569.6,798.3L570.7,798.4L571.6,798.9L572.3,799.0L573.1,799.5L574.2,800.0L575.0,800.5L576.2,801.1L577.8,801.8L579.2,802.8L580.4,803.5L581.3,804.3L582.1,804.8L583.1,805.5L584.1,806.2L584.6,806.8L585.1,807.5L585.8,808.1L586.3,808.5L586.9,809.2L587.4,809.8L587.9,810.4L587.9,811.0L588.4,811.6L588.4,812.0L588.7,812.8L588.6,813.3L588.6,813.9L588.6,814.1L588.4,814.7L588.3,815.3Z" fill="none" stroke="#333" stroke-width="0.55"/>
<path d="M587.0,815.2L586.6,815.8L586.3,816.1L585.8,816.7L585.5,816.5L585.1,817.0L584.7,817.0L584.3,817.4L583.5,817.2L583.1,817.4L582.5,817.3L581.7,817.3L581.1,816.8L580.5,816.8L579.7,816.6L579.0,816.3L578.2,816.2L577.5,815.7L576.6,815.3L575.7,815.0L574.8,814.4L573.8,813.8L572.7,813.3L571.1,812.4L569.9,811.5L569.1,811.1L568.2,810.4L567.6,809.7L566.8,809.2L566.3,808.7L565.6,808.0L564.9,807.5L564.5,806.9L564.1,806.5L563.6,805.8L563.2,805.4L562.9,804.9L562.5,804.1L562.5,803.7L562.4,803.2L562.2,803.1L562.4,802.4L562.2,802.1L562.1,801.7L562.5,801.0L562.9,800.5L563.1,800.1L563.5,799.6L563.9,799.4L564.3,799.1L564.6,799.0L565.1,798.8L565.5,798.5L566.2,798.6L566.8,798.7L567.5,798.6L568.0,798.8L568.6,798.8L569.5,799.1L569.9,799.1L570.8,799.6L571.4,799.8L572.4,800.0L573.3,800.4L574.0,800.7L575.2,801.3L576.2,801.9L577.0,802.4L578.7,803.6L579.7,804.1L580.6,804.8L581.5,805.3L582.3,805.9L583.0,806.4L583.7,807.2L584.3,807.6L585.0,808.4L585.2,808.9L586.0,809.3L586.1,810.0L586.7,810.5L587.0,811.1L587.2,811.6L587.5,812.0L587.4,812.6L587.6,812.8L587.7,813.5L587.6,813.9L587.6,814.2L587.3,814.7Z" fill="none" stroke="#333" stroke-width="0.55"/>
<path d="M586.3,814.8L586.1,815.3L585.5,815.4L585.4,816.0L584.9,816.1L584.6,816.2L583.7,816.2L583.6,816.5L583.2,816.6L582.5,816.4L582.0,816.5L581.3,816.2L581.0,816.2L580.3,815.9L579.6,816.0L579.0,815.7L578.2,815.4L577.4,815.2L576.8,814.7L575.8,814.2L574.8,813.8L574.0,813.4L572.9,812.7L571.6,811.7L570.6,811.0L569.7,810.5L568.7,810.0L568.0,809.3L567.3,808.8L566.8,808.2L566.1,807.9L565.8,807.3L565.2,807.0L564.8,806.5L564.5,805.8L564.2,805.4L564.0,804.9L563.7,804.5L563.3,804.0L563.3,803.6L563.1,803.1L563.1,802.7L563.3,802.4L563.0,802.0L563.4,801.6L563.6,801.0L563.9,800.4L564.2,800.4L564.7,800.1L564.9,799.7L565.1,799.6L565.9,799.6L566.3,799.5L566.7,799.4L567.3,799.2L567.6,799.3L568.1,799.5L568.9,799.6L569.5,799.7L570.1,800.1L571.1,800.3L571.8,800.4L572.5,800.8L573.2,801.2L574.1,801.4L575.1,801.9L575.9,802.5L576.8,803.1L578.2,804.0L579.3,804.7L580.1,805.5L580.9,805.8L581.7,806.4L582.2,806.8L582.9,807.4L583.6,808.0L584.1,808.5L584.6,809.2L585.0,809.5L585.3,810.0L586.0,810.2L586.2,810.9L586.2,811.5L586.4,811.7L586.6,812.4L586.6,812.7L586.7,813.1L586.8,813.4L586.5,813.8L586.5,814.5Z" fill="none" stroke="#333" stroke-width="0.55"/>
<path d="M585.4,814.4L585.1,814.7L584.8,814.9L584.8,815.2L584.2,815.4L583.9,815.5L583.5,815.7L583.1,815.8L582.5,815.8L582.3,815.7L581.6,815.7L581.1,815.6L580.7,815.6L579.9,815.3L579.3,815.1L578.8,814.7L578.2,814.8L577.1,814.3L576.5,813.9L575.8,813.7L575.1,813.1L574.2,812.9L573.1,812.0L571.7,811.2L571.0,810.5L570.3,810.1L569.4,809.5L568.8,809.1L568.2,808.5L567.5,808.1L567.1,807.6L566.5,807.2L565.9,806.8L565.6,806.3L565.3,805.9L564.9,805.2L564.6,805.0L564.3,804.5L564.3,804.1L564.1,803.7L564.0,803.4L563.8,802.9L564.1,802.8L564.1,802.4L564.1,801.8L564.4,801.7L564.8,801.0L565.1,800.9L565.3,800.5L565.5,800.4L565.8,800.3L566.2,800.1L566.9,800.1L567.0,800.1L567.7,800.1L568.1,800.2L568.8,800.2L569.1,800.3L569.7,800.5L570.5,800.4L571.1,801.1L572.0,801.3L572.3,801.5L573.2,801.8L573.8,802.3L574.8,802.6L575.9,803.0L576.7,803.6L577.8,804.5L578.6,805.1L579.4,805.7L580.4,806.3L581.0,806.7L581.6,807.2L582.3,807.6L582.8,808.0L583.4,808.6L583.7,809.1L584.3,809.5L584.4,810.0L584.9,810.5L585.1,811.0L585.5,811.1L585.5,811.7L585.9,812.1L585.9,812.5L585.9,812.6L585.8,813.1L585.7,813.5L585.5,813.9Z" fill="none" stroke="#333" stroke-width="0.55"/>
<path d="M584.9,813.9L584.4,814.2L584.1,814.5L584.0,814.8L583.8,814.9L583.4,814.9L583.2,815.0L582.6,815.2L582.0,815.3L581.8,815.1L581.4,815.1L580.9,815.1L580.3,814.8L579.6,814.8L579.3,814.6L578.5,814.2L577.8,814.1L577.4,813.7L576.5,813.4L575.7,813.1L575.1,812.8L574.3,812.2L573.6,811.7L572.1,811.0L571.4,810.4L570.5,809.8L569.8,809.3L569.3,808.9L568.7,808.6L568.1,807.8L567.6,807.6L567.0,807.1L566.7,806.7L566.2,806.3L565.7,805.7L565.7,805.4L565.4,805.1L565.1,804.7L564.9,804.3L564.9,804.0L564.8,803.4L564.7,803.3L564.8,802.8L564.8,802.6L564.9,802.2L565.1,801.9L565.3,801.5L565.4,801.2L565.7,801.1L566.1,800.9L566.3,800.8L566.8,800.7L567.2,800.8L567.6,800.9L568.0,800.8L568.3,800.6L569.0,800.8L569.5,800.9L569.9,801.2L570.6,801.3L571.2,801.5L571.9,801.7L572.4,802.1L573.1,802.3L573.9,802.8L574.7,803.2L575.7,803.5L576.3,804.0L577.4,804.8L578.4,805.3L579.3,806.0L579.8,806.3L580.7,806.8L581.1,807.2L581.8,807.7L582.3,808.4L582.6,808.8L583.2,809.2L583.7,809.5L583.8,810.0L584.1,810.4L584.5,810.7L584.8,811.2L584.8,811.6L584.9,812.0L585.1,812.2L585.2,812.8L585.0,813.1L585.1,813.3L585.0,813.6Z" fill="none" stroke="#333" stroke-width="0.55"/>
<path d="M584.1,813.5L584.0,813.7L583.9,814.1L583.5,814.3L583.3,814.3L583.0,814.5L582.6,814.5L582.4,814.4L581.7,814.6L581.3,814.6L581.0,814.5L580.5,814.3L580.0,814.2L579.7,814.3L579.1,813.8L578.4,813.5L577.7,813.4L577.1,813.2L576.6,812.9L575.8,812.6L575.3,812.2L574.4,811.6L573.7,811.3L572.4,810.5L571.6,810.0L571.0,809.6L570.1,809.0L569.8,808.7L569.1,808.2L568.7,807.8L568.2,807.4L567.5,807.1L567.2,806.7L566.7,806.1L566.7,805.9L566.3,805.6L565.9,805.2L565.7,804.7L565.6,804.5L565.4,804.2L565.4,803.8L565.3,803.5L565.4,803.1L565.5,803.0L565.6,802.6L565.6,802.4L565.8,802.0L566.0,801.8L566.4,801.5L566.7,801.5L566.9,801.4L567.0,801.3L567.5,801.2L568.0,801.5L568.4,801.3L568.8,801.4L569.4,801.3L569.7,801.4L570.6,801.7L570.8,801.9L571.6,802.0L572.2,802.4L572.4,802.8L573.2,802.9L574.0,803.3L574.6,803.4L575.4,804.1L576.1,804.5L577.3,805.3L578.1,805.7L578.9,806.2L579.4,806.9L580.2,807.1L580.7,807.5L581.0,808.1L581.7,808.6L582.1,808.9L582.6,809.2L582.9,809.6L583.2,809.9L583.5,810.4L584.1,810.6L583.9,811.3L584.2,811.3L584.3,811.6L584.3,812.2L584.3,812.3L584.6,812.8L584.6,813.0L584.3,813.2Z" fill="none" stroke="#333" stroke-width="0.55"/>
<path d="M583.4,813.2L583.2,813.4L583.0,813.8L582.7,813.9L582.6,814.0L582.5,813.9L582.1,814.1L581.7,814.2L581.4,814.0L581.0,813.9L580.6,814.2L580.4,814.0L579.6,813.8L579.5,813.6L578.9,813.4L578.3,813.2L577.8,813.0L577.3,812.5L576.4,812.3L576.0,811.9L575.4,811.9L574.5,811.5L573.9,811.1L572.8,810.1L572.0,809.7L571.3,809.5L570.7,809.0L570.1,808.5L569.7,808.0L569.0,807.7L568.8,807.3L568.2,807.0L567.7,806.6L567.4,806.2L567.1,806.0L566.8,805.5L566.7,805.2L566.6,805.0L566.2,804.6L566.3,804.1L566.2,804.0L566.1,803.9L566.2,803.5L566.1,803.4L566.2,803.3L566.3,802.6L566.4,802.3L566.7,802.1L566.9,802.0L567.2,801.9L567.4,801.8L567.7,801.7L568.1,801.8L568.3,801.8L568.7,801.8L569.0,801.9L569.6,801.8L569.9,802.1L570.4,802.2L571.0,802.4L571.6,802.6L572.1,802.9L572.6,803.2L573.3,803.4L573.9,803.9L574.4,804.1L575.2,804.6L576.0,804.8L576.9,805.6L578.0,806.1L578.5,806.4L579.0,807.1L579.6,807.4L580.3,807.7L580.9,808.0L580.9,808.5L581.6,808.8L582.0,809.2L582.3,809.6L582.5,809.9L583.0,810.3L583.2,810.7L583.4,810.9L583.5,811.2L583.5,811.7L583.6,811.9L583.7,811.9L583.8,812.1L583.8,812.5L583.7,812.6Z" fill="none" stroke="#333" stroke-width="0.55"/>
<path d="M582.9,812.8L582.7,812.9L582.4,813.1L582.3,813.2L582.3,813.1L581.9,813.2L581.5,813.1L581.2,813.4L580.9,813.1L580.6,813.3L580.1,813.2L579.7,813.1L579.2,812.9L578.6,812.7L578.2,812.6L577.7,812.3L577.2,812.4L576.5,811.8L575.9,811.4L575.5,811.3L574.9,811.1L574.3,811.0L573.8,810.4L573.2,809.9L572.6,809.6L572.0,809.3L571.5,809.0L570.9,808.6L570.7,808.4L570.1,807.7L569.8,807.5L569.4,807.1L569.2,806.7L568.6,806.3L568.2,805.9L568.0,805.7L567.7,805.3L567.4,805.0L567.4,804.8L567.1,804.4L566.9,804.2L566.8,803.9L566.9,803.5L566.8,803.3L566.9,803.2L567.1,803.2L567.0,803.0L567.3,802.8L567.4,802.6L567.7,802.5L568.0,802.4L568.2,802.5L568.6,802.4L568.9,802.6L569.3,802.7L569.6,802.7L570.3,802.9L570.9,803.0L571.1,802.9L571.6,803.3L572.1,803.4L572.7,803.8L573.3,803.8L573.8,804.2L574.4,804.5L574.8,804.9L575.6,805.2L576.1,805.3L576.6,805.9L577.0,806.1L577.7,806.4L578.1,806.8L578.7,807.3L579.3,807.5L579.4,808.0L580.0,808.3L580.4,808.7L580.8,809.0L581.2,809.6L581.5,809.9L581.9,810.1L582.2,810.5L582.6,810.9L582.6,811.1L582.6,811.4L582.7,811.8L582.9,812.0L582.8,812.2L582.8,812.4L582.9,812.4Z" fill="none" stroke="#333" stroke-width="0.55"/>
<path d="M582.2,812.5L582.4,812.4L582.1,812.6L581.8,812.5L581.4,812.7L581.4,812.8L580.9,812.6L580.7,812.9L580.5,812.8L580.1,812.6L579.7,812.5L579.3,812.4L578.9,812.3L578.3,812.3L578.0,812.0L577.5,811.9L577.1,811.5L576.5,811.4L575.8,811.2L575.4,811.0L574.8,810.5L574.4,810.3L574.2,810.0L573.5,809.9L572.8,809.3L572.5,809.1L572.0,808.9L571.7,808.4L571.1,808.0L570.7,807.6L570.3,807.6L569.8,807.0L569.6,806.8L569.1,806.6L568.9,806.2L568.5,805.6L568.2,805.4L568.1,805.0L568.0,805.0L568.0,804.6L567.6,804.3L567.5,804.2L567.5,803.9L567.5,803.6L567.6,803.4L567.5,803.4L567.7,803.5L567.8,803.2L568.0,803.0L568.4,803.1L568.3,803.1L568.8,803.1L569.0,803.0L569.4,803.0L569.6,803.2L569.9,803.1L570.7,803.4L571.0,803.3L571.5,803.6L571.8,803.7L572.2,803.9L572.9,804.3L573.5,804.6L573.7,804.7L574.3,805.0L574.9,805.1L575.2,805.4L575.8,805.7L576.5,806.1L576.8,806.2L577.3,806.8L577.8,807.2L578.4,807.5L578.9,807.7L579.3,808.3L579.8,808.5L580.1,808.7L580.3,808.9L580.8,809.3L581.0,809.7L581.3,810.1L581.5,810.4L581.7,810.6L581.9,811.0L582.1,811.2L582.1,811.4L582.3,811.6L582.4,812.0L582.3,812.0L582.2,812.1Z" fill="none" stroke="#333" stroke-width="0.55"/>
<path d="M581.9,812.2L581.6,812.0L581.5,812.2L581.4,812.2L581.2,812.5L580.8,812.4L580.8,812.4L580.4,812.5L580.1,812.3L579.9,812.3L579.4,812.2L579.1,812.1L578.6,812.1L578.3,812.0L577.9,811.8L577.5,811.5L577.0,811.0L576.5,811.0L575.9,810.9L575.4,810.6L575.0,810.5L574.5,810.1L574.1,809.7L573.8,809.4L573.1,809.1L572.7,808.9L572.2,808.5L572.0,808.2L571.3,808.0L570.9,807.8L570.4,807.3L570.1,807.0L569.9,806.9L569.6,806.4L569.4,806.0L568.9,805.9L568.6,805.5L568.6,805.2L568.7,805.0L568.2,804.8L568.1,804.5L568.0,804.4L567.8,804.2L568.0,804.1L568.0,803.9L567.9,803.9L568.2,803.7L568.4,803.6L568.4,803.5L568.7,803.3L568.8,803.3L569.0,803.3L569.3,803.4L569.6,803.4L570.1,803.5L570.5,803.7L570.6,803.7L571.2,803.7L571.5,803.8L571.9,804.2L572.3,804.2L572.8,804.5L573.2,804.6L573.7,804.9L574.2,805.3L574.8,805.5L575.4,805.8L575.8,805.9L576.1,806.3L576.7,806.6L577.3,807.0L577.5,807.2L578.0,807.4L578.5,807.8L578.8,808.2L579.3,808.6L579.6,808.7L579.9,809.1L580.3,809.4L580.6,809.5L580.7,809.8L581.3,810.2L581.2,810.6L581.5,810.8L581.7,811.0L581.7,811.2L581.7,811.4L581.8,811.7L581.8,811.8L581.6,811.9Z" fill="none" stroke="#333" stroke-width="0.55"/>
<path d="M581.4,811.8L581.0,811.8L581.1,812.0L580.9,812.0L580.8,812.2L580.7,812.0L580.4,812.0L580.0,812.0L579.8,812.1L579.4,811.8L579.2,811.9L578.8,811.6L578.5,811.7L577.9,811.6L577.6,811.4L577.2,811.2L576.8,810.9L576.4,810.8L575.9,810.4L575.6,810.4L575.2,810.3L574.6,810.0L574.1,809.4L573.7,809.2L573.3,808.9L572.8,808.8L572.3,808.6L572.0,808.2L571.8,807.8L571.3,807.7L571.1,807.3L570.6,807.0L570.2,806.6L569.9,806.5L569.7,806.2L569.2,805.9L569.3,805.6L569.2,805.5L568.8,805.1L568.9,804.8L568.5,804.8L568.6,804.7L568.6,804.5L568.6,804.3L568.4,804.3L568.4,804.2L568.7,803.8L568.7,803.9L568.9,803.8L569.1,803.5L569.4,803.8L569.4,803.7L569.8,803.8L570.3,803.9L570.2,803.8L570.5,803.9L571.1,803.9L571.5,804.3L571.6,804.3L571.9,804.4L572.7,804.6L573.0,804.5L573.4,805.0L573.9,805.2L574.3,805.5L574.5,805.7L575.2,805.8L575.8,806.3L576.1,806.7L576.6,806.7L576.9,807.3L577.3,807.2L577.7,807.5L578.1,808.1L578.5,808.2L578.8,808.5L579.1,808.9L579.5,809.0L579.9,809.3L580.1,809.7L580.5,809.9L580.5,810.2L580.8,810.4L580.8,810.6L581.3,810.8L581.1,811.0L581.2,811.3L581.3,811.5L581.3,811.4L581.3,811.6Z" fill="none" stroke="#333" stroke-width="0.55"/>
<path d="M580.8,811.5L580.7,811.6L580.6,811.8L580.6,811.6L580.1,811.7L580.2,811.6L579.8,811.8L579.8,811.8L579.4,811.7L579.3,811.5L578.9,811.4L578.5,811.3L578.3,811.4L577.9,811.1L577.4,811.1L577.1,811.1L576.8,810.7L576.4,810.3L576.0,810.3L575.6,809.7L575.0,809.9L574.7,809.4L574.2,809.4L573.9,809.1L573.5,808.7L572.9,808.5L572.7,808.3L572.2,808.2L571.9,807.9L571.7,807.5L571.3,807.2L571.0,806.9L570.6,806.8L570.3,806.5L570.1,806.3L569.9,806.0L569.7,805.8L569.6,805.6L569.3,805.4L569.1,805.2L569.2,805.1L569.0,804.7L568.7,804.7L569.0,804.6L569.0,804.2L569.1,804.4L569.3,804.1L569.3,804.3L569.5,804.1L569.4,804.2L569.6,803.9L569.9,804.2L570.1,804.0L570.4,804.1L570.7,804.2L570.8,804.2L571.2,804.4L571.7,804.5L572.0,804.7L572.3,804.9L572.8,805.2L573.0,805.1L573.4,805.1L574.1,805.6L574.5,805.7L574.7,806.1L574.9,806.2L575.3,806.4L576.0,806.6L576.3,806.9L576.9,807.4L577.0,807.5L577.6,807.7L577.9,807.9L578.1,808.1L578.6,808.5L579.0,808.9L579.1,809.2L579.6,809.3L579.7,809.7L579.9,809.8L580.2,810.2L580.4,810.2L580.5,810.4L580.8,810.6L580.8,810.9L580.7,810.9L580.8,811.3L580.9,811.3L580.9,811.4Z" fill="none" stroke="#333" stroke-width="0.55"/>
<path d="M580.5,811.3L580.3,811.3L580.3,811.3L580.0,811.2L579.7,811.2L579.7,811.3L579.6,811.4L579.2,811.4L579.1,811.4L578.8,811.4L578.9,811.2L578.3,811.0L577.9,811.1L577.6,810.8L577.5,810.7L577.0,810.5L576.7,810.4L576.0,810.3L575.8,810.1L575.7,809.8L575.1,809.4L574.7,809.5L574.5,809.2L574.0,808.9L573.7,808.7L573.4,808.3L572.7,808.2L572.5,807.9L572.3,807.5L571.9,807.4L571.8,807.2L571.3,806.9L571.0,806.8L570.8,806.7L570.5,806.3L570.4,806.1L570.0,806.0L569.8,805.6L569.8,805.5L569.6,805.3L569.6,805.2L569.7,804.9L569.7,804.9L569.3,804.8L569.5,804.6L569.5,804.5L569.5,804.7L569.8,804.5L569.9,804.3L569.8,804.4L570.2,804.5L570.2,804.3L570.3,804.3L570.7,804.5L570.8,804.8L571.1,804.5L571.5,804.8L571.8,804.8L572.2,804.7L572.4,805.1L572.8,805.3L573.2,805.4L573.5,805.8L573.8,805.7L574.4,805.9L574.6,806.1L575.1,806.4L575.5,806.7L575.7,806.8L576.1,807.3L576.5,807.4L576.7,807.7L577.4,807.8L577.7,808.1L577.9,808.4L578.1,808.5L578.6,808.7L578.9,809.2L578.9,809.4L579.3,809.5L579.4,809.6L579.8,809.8L579.7,810.2L580.0,810.4L579.9,810.3L580.2,810.6L580.2,810.8L580.3,811.0L580.3,811.0L580.3,811.1Z" fill="none" stroke="#333" stroke-width="0.55"/>
<path d="M579.8,810.8L579.8,811.0L579.7,810.8L579.7,811.1L579.4,811.1L579.4,811.1L579.1,811.1L579.0,811.0L578.7,811.1L578.6,810.9L578.2,810.9L578.0,810.6L577.8,810.5L577.4,810.6L577.1,810.2L576.8,810.1L576.4,810.1L576.0,809.8L575.8,810.0L575.5,809.4L575.3,809.5L575.0,809.4L574.4,809.2L574.2,808.9L573.8,808.6L573.5,808.4L573.2,808.1L572.9,807.9L572.7,807.7L572.3,807.5L571.8,807.3L571.6,807.0L571.5,806.9L571.3,806.5L571.0,806.5L570.8,806.3L570.4,806.2L570.4,805.9L570.1,805.7L570.2,805.5L570.0,805.5L570.0,805.3L569.8,805.2L570.0,805.1L570.1,804.8L569.9,804.8L570.2,804.8L570.0,804.8L570.1,804.8L570.3,804.8L570.3,804.8L570.7,804.9L570.8,804.8L570.9,804.8L571.2,805.0L571.5,805.1L571.7,805.0L572.1,805.2L572.3,805.3L572.6,805.4L573.0,805.6L573.3,805.6L573.6,806.0L573.9,805.9L574.2,806.3L574.5,806.4L574.9,806.5L575.4,806.8L575.6,807.1L575.9,807.3L576.5,807.5L576.6,807.7L577.1,807.9L577.3,808.1L577.5,808.2L578.1,808.7L578.2,808.8L578.5,809.1L578.9,809.2L578.8,809.4L579.0,809.7L579.2,809.9L579.3,809.8L579.5,810.1L579.7,810.2L579.7,810.5L579.7,810.5L579.9,810.7L579.9,810.7L579.8,810.6Z" fill="none" stroke="#333" stroke-width="0.55"/>
<path d="M579.4,810.5L579.3,810.6L579.1,810.7L579.2,810.6L579.0,810.7L579.0,810.6L578.7,810.7L578.7,810.6L578.4,810.7L578.2,810.6L577.9,810.6L577.9,810.4L577.5,810.2L577.4,810.3L577.1,810.2L576.8,809.9L576.3,809.8L576.0,809.5L575.7,809.6L575.6,809.3L575.3,809.1L574.9,809.1L574.5,808.9L574.4,808.6L573.8,808.4L573.6,808.2L573.4,808.2L573.0,807.8L572.9,807.8L572.7,807.2L572.2,807.2L571.9,807.1L571.8,806.9L571.6,806.5L571.3,806.6L571.0,806.4L570.9,806.2L570.7,806.0L570.8,805.9L570.6,805.8L570.5,805.6L570.4,805.6L570.6,805.4L570.4,805.3L570.4,805.2L570.4,805.2L570.4,805.2L570.6,805.0L570.5,805.2L570.7,805.0L570.8,805.0L571.1,805.0L571.2,805.2L571.4,805.2L571.6,805.3L572.1,805.4L572.0,805.3L572.2,805.5L572.7,805.5L572.8,805.7L573.1,805.8L573.5,805.9L573.7,805.9L574.0,806.4L574.2,806.3L574.7,806.5L574.8,806.8L575.1,806.9L575.6,807.2L575.8,807.4L576.1,807.5L576.5,808.0L576.8,808.0L577.0,808.0L577.4,808.4L577.7,808.5L577.8,808.9L578.0,808.9L578.2,809.1L578.4,809.2L578.6,809.4L578.7,809.5L579.0,809.8L579.0,810.0L579.2,810.2L579.3,810.1L579.3,810.3L579.4,810.5L579.4,810.5L579.4,810.6Z" fill="none" stroke="#333" stroke-width="0.55"/>
<path d="M578.8,810.3L578.9,810.2L578.8,810.2L578.7,810.3L578.7,810.3L578.6,810.5L578.2,810.5L578.3,810.4L578.2,810.3L577.9,810.2L577.8,810.0L577.5,810.1L577.2,809.9L577.0,810.0L576.8,809.8L576.5,809.6L576.4,809.4L576.0,809.6L575.8,809.4L575.4,809.2L575.4,809.0L575.0,808.9L574.7,808.6L574.4,808.4L574.2,808.3L573.8,808.1L573.5,808.0L573.4,807.6L573.0,807.7L573.1,807.2L572.5,807.2L572.2,807.1L572.1,806.9L571.9,806.7L571.8,806.7L571.7,806.5L571.5,806.5L571.3,806.1L571.1,806.1L571.1,805.8L571.1,805.8L570.9,805.5L570.9,805.9L570.9,805.5L571.0,805.5L570.9,805.3L570.9,805.4L571.1,805.2L571.1,805.3L571.3,805.3L571.4,805.3L571.6,805.5L571.6,805.4L571.7,805.5L571.9,805.7L572.2,805.5L572.3,805.7L572.4,805.7L572.8,806.1L572.9,805.9L573.2,806.1L573.4,806.2L573.7,806.3L573.9,806.5L574.4,806.7L574.8,806.7L574.8,807.0L575.1,807.2L575.5,807.2L575.6,807.5L575.8,807.6L576.4,807.9L576.4,808.1L576.7,808.3L577.0,808.4L577.2,808.6L577.3,808.7L577.7,808.9L577.8,808.9L578.0,809.3L578.3,809.4L578.4,809.4L578.4,809.5L578.7,809.7L578.7,809.7L578.6,809.9L578.7,809.9L579.0,810.3L579.0,810.2L578.9,810.0Z" fill="none" stroke="#333" stroke-width="0.55"/>
<path d="M578.5,809.9L578.2,810.1L578.3,810.2L578.2,810.1L578.0,810.1L578.2,810.1L577.9,810.0L577.9,810.0L577.7,809.9L577.5,809.9L577.3,809.9L577.3,809.6L577.0,809.7L576.9,809.7L576.5,809.5L576.2,809.3L576.1,809.3L575.9,809.1L575.3,809.1L575.3,809.1L574.9,808.9L574.7,808.7L574.9,808.5L574.4,808.3L574.3,808.3L573.9,808.2L573.6,807.9L573.4,807.7L573.1,807.6L573.2,807.3L572.9,807.3L572.8,807.2L572.6,807.1L572.2,806.8L572.2,806.7L571.9,806.8L572.0,806.4L571.8,806.4L571.6,806.3L571.5,806.0L571.6,806.0L571.4,805.8L571.4,805.8L571.3,805.9L571.6,805.8L571.5,805.7L571.4,805.6L571.5,805.7L571.5,805.8L571.6,805.6L572.0,805.6L571.9,805.9L572.0,805.7L572.2,805.9L572.2,805.9L572.6,805.8L572.8,805.9L572.9,806.1L572.8,806.1L573.3,806.3L573.4,806.3L573.8,806.6L573.8,806.6L574.1,806.8L574.0,806.9L574.5,807.0L574.9,807.0L575.1,807.2L575.3,807.5L575.7,807.7L575.8,807.6L576.0,807.8L576.4,808.0L576.5,808.3L576.8,808.3L577.0,808.5L577.2,808.7L577.1,808.9L577.3,808.9L577.6,809.1L577.9,809.2L578.1,809.3L578.1,809.4L577.9,809.6L578.5,809.7L578.0,809.8L578.4,809.8L578.4,810.0L578.3,809.9L578.4,810.2Z" fill="none" stroke="#333" stroke-width="0.55"/>
<path d="M577.9,809.7L577.9,810.1L577.9,809.7L577.9,809.6L577.6,809.7L577.8,809.8L577.6,810.0L577.5,809.7L577.5,809.7L577.3,809.6L577.1,809.7L577.0,809.5L576.6,809.3L576.5,809.3L576.5,809.3L576.3,809.2L576.1,808.9L575.8,809.0L575.6,808.7L575.3,808.6L575.1,808.6L575.1,808.4L574.8,808.4L574.7,808.2L574.3,808.2L574.0,807.9L573.9,807.7L573.6,807.5L573.6,807.7L573.4,807.4L573.2,807.3L572.9,807.3L572.8,807.1L572.8,806.9L572.5,806.8L572.6,806.8L572.2,806.6L572.0,806.6L572.1,806.5L572.0,806.4L572.1,806.3L571.9,806.2L571.9,806.2L571.9,806.1L572.0,806.0L571.9,806.2L571.8,806.0L572.0,805.9L572.0,805.8L572.1,806.0L572.2,806.1L572.2,806.0L572.4,806.1L572.5,806.2L572.6,806.3L572.7,806.3L572.8,806.5L573.0,806.3L573.3,806.5L573.1,806.5L573.7,806.7L573.9,806.9L574.0,806.9L574.3,806.9L574.5,807.1L574.7,807.1L574.9,807.2L575.0,807.3L575.3,807.8L575.4,807.8L575.7,807.9L575.8,807.8L576.2,808.0L576.3,808.3L576.5,808.3L576.7,808.5L576.8,808.5L576.9,808.8L577.1,808.9L577.3,809.1L577.4,809.0L577.4,809.2L577.5,809.2L577.6,809.2L577.8,809.5L577.9,809.6L577.9,809.6L577.9,809.6L577.8,809.6L577.8,809.6Z" fill="none" stroke="#333" stroke-width="0.55"/>
<path d="M617.3,836.5L617.1,837.1L616.8,837.6L616.4,838.0L616.0,838.3L615.5,838.6L614.9,838.8L614.2,839.0L613.4,839.1L612.6,839.2L611.7,839.2L610.7,839.2L609.7,839.1L608.5,839.0L607.3,838.9L606.1,838.7L604.7,838.5L603.3,838.2L601.9,837.9L600.3,837.5L598.7,837.0L596.9,836.5L594.9,835.9L592.2,835.1L590.2,834.4L588.5,833.8L586.9,833.3L585.4,832.7L584.0,832.1L582.7,831.6L581.4,831.0L580.3,830.4L579.2,829.9L578.2,829.3L577.4,828.7L576.5,828.2L575.8,827.6L575.2,827.1L574.6,826.6L574.2,826.0L573.8,825.5L573.5,825.0L573.4,824.4L573.3,823.9L573.3,823.4L573.5,822.7L573.7,822.1L574.0,821.6L574.4,821.2L574.8,820.9L575.3,820.6L575.9,820.4L576.6,820.2L577.4,820.1L578.2,820.0L579.1,820.0L580.1,820.0L581.1,820.1L582.3,820.2L583.5,820.3L584.7,820.5L586.1,820.7L587.5,821.0L588.9,821.3L590.5,821.7L592.1,822.2L593.9,822.7L595.9,823.3L598.6,824.1L600.6,824.8L602.3,825.4L603.9,825.9L605.4,826.5L606.8,827.1L608.1,827.6L609.4,828.2L610.5,828.8L611.6,829.3L612.6,829.9L613.4,830.5L614.3,831.0L615.0,831.6L615.6,832.1L616.2,832.6L616.6,833.2L617.0,833.7L617.3,834.2L617.4,834.8L617.5,835.3L617.5,835.8Z" fill="none" stroke="#333" stroke-width="0.55"/>
<path d="M615.2,835.8L614.8,836.3L614.7,836.6L614.2,837.0L614.0,837.2L613.6,837.7L613.0,837.7L612.6,837.8L611.9,837.8L611.0,838.1L610.2,837.9L609.4,838.0L608.4,837.8L607.3,837.8L606.2,837.4L605.1,837.7L603.7,837.1L602.7,837.0L601.5,836.7L600.1,836.4L598.4,835.9L596.8,835.5L595.0,834.8L592.9,834.1L590.8,833.6L589.2,832.9L587.8,832.3L586.2,832.0L585.2,831.4L584.1,830.9L583.1,830.3L581.6,830.0L581.0,829.6L580.0,829.0L579.2,828.8L578.3,828.1L577.9,827.5L577.2,827.1L576.7,826.6L576.4,826.2L576.0,825.7L575.8,825.4L575.6,825.0L575.6,824.2L575.6,823.9L575.7,823.4L575.9,822.9L576.1,822.3L576.6,822.2L576.8,822.1L577.3,821.7L577.9,821.6L578.3,821.3L579.2,821.4L579.9,821.3L580.7,821.4L581.6,821.4L582.6,821.3L583.6,821.4L584.3,821.7L585.6,822.0L586.7,822.1L588.1,822.3L589.3,822.8L590.8,823.1L592.3,823.2L593.8,823.9L595.7,824.3L598.3,825.2L599.8,825.6L601.7,826.2L603.0,826.7L604.2,827.3L605.5,827.7L606.7,828.3L607.8,828.8L608.8,829.2L609.9,829.8L610.8,830.3L611.5,830.7L612.3,831.2L613.0,831.6L613.6,832.1L613.9,832.4L614.6,832.9L614.7,833.3L615.2,834.1L615.1,834.2L615.2,834.7L615.2,835.3Z" fill="none" stroke="#333" stroke-width="0.55"/>
<path d="M613.3,835.2L613.3,835.7L613.0,835.9L612.7,836.3L612.2,836.6L611.9,836.7L611.3,836.8L610.9,837.0L610.3,836.9L609.7,836.9L608.8,836.9L608.0,836.9L607.2,837.0L606.4,836.9L605.6,836.7L604.3,836.3L603.2,836.2L602.3,835.9L601.1,835.8L599.6,835.3L598.3,834.9L596.7,834.5L595.3,833.9L593.1,833.6L591.5,833.0L589.8,832.3L588.8,831.9L587.5,831.5L586.3,830.9L585.1,830.6L584.2,830.1L583.3,829.6L582.2,829.1L581.5,828.9L580.7,828.4L580.1,828.0L579.6,827.5L579.1,827.0L578.6,826.8L578.0,826.1L577.8,825.9L577.8,825.8L577.3,825.3L577.3,824.8L577.2,824.4L577.4,823.9L577.6,823.5L578.0,823.3L578.1,823.0L578.4,822.8L578.8,822.6L579.3,822.4L580.1,822.4L580.6,822.2L581.2,822.2L581.8,822.1L582.7,822.4L583.4,822.3L584.4,822.5L585.5,822.5L586.3,822.8L587.6,823.0L588.7,823.3L590.1,823.6L591.2,823.8L592.7,824.3L593.9,824.5L595.5,825.2L597.9,825.8L599.2,826.2L600.9,826.8L602.2,827.3L603.4,827.8L604.5,828.0L605.6,828.7L606.6,829.2L607.8,829.4L608.8,829.9L609.3,830.5L609.9,830.8L610.7,831.2L611.3,831.6L611.9,831.9L612.4,832.6L612.9,832.8L613.1,833.2L613.4,833.5L613.4,834.0L613.7,834.2L613.6,834.8Z" fill="none" stroke="#333" stroke-width="0.55"/>
<path d="M612.1,834.8L611.8,835.3L611.6,835.5L611.4,835.7L611.3,835.9L610.7,836.0L610.4,836.0L609.9,836.2L609.2,836.3L608.7,836.3L608.0,836.2L607.3,836.4L606.5,836.2L605.5,835.9L604.8,835.8L603.9,835.7L602.7,835.6L601.7,835.1L600.7,835.0L599.5,834.7L598.1,834.4L596.9,834.0L595.1,833.6L593.3,832.9L591.8,832.2L590.4,831.9L589.3,831.6L588.1,831.0L587.1,830.5L586.0,830.2L585.1,829.8L584.2,829.5L583.3,829.2L582.6,828.5L581.8,828.2L581.2,827.9L580.7,827.5L580.3,827.2L579.6,826.8L579.3,826.5L579.3,826.0L578.8,826.0L578.6,825.5L578.4,825.1L578.6,824.6L578.6,824.5L578.9,824.1L579.0,823.7L579.5,823.7L579.7,823.4L580.1,823.2L580.7,823.2L580.9,823.1L581.5,822.9L582.2,822.8L582.9,823.1L583.5,822.8L584.3,823.0L585.3,823.0L586.3,823.2L587.1,823.7L588.2,823.8L589.1,823.9L590.1,824.3L591.3,824.4L592.6,824.8L593.9,825.2L595.5,825.7L597.6,826.3L599.0,826.6L600.4,827.2L601.5,827.8L602.7,828.1L604.0,828.6L604.8,828.9L605.8,829.0L606.7,829.7L607.6,830.2L608.3,830.8L609.0,830.9L609.6,831.5L610.1,831.4L610.6,832.0L611.1,832.4L611.3,832.6L611.7,833.1L612.1,833.6L612.0,833.7L612.2,833.8L612.3,834.3Z" fill="none" stroke="#333" stroke-width="0.55"/>
<path d="M611.0,834.4L610.8,834.8L610.6,835.1L610.4,835.3L610.1,835.4L609.8,835.5L609.2,835.7L608.9,835.8L608.3,835.8L607.9,835.7L607.3,835.5L606.4,835.5L605.6,835.5L605.0,835.6L604.2,835.4L603.2,835.4L602.2,834.9L601.4,834.9L600.3,834.5L599.3,834.1L597.9,833.7L596.5,833.4L595.2,833.0L593.6,832.4L592.0,832.2L590.8,831.8L589.7,831.2L588.8,830.9L587.5,830.3L586.9,830.0L585.8,829.7L585.0,829.5L583.9,828.9L583.5,828.8L582.8,828.2L582.3,827.8L581.8,827.7L581.4,827.1L580.6,827.0L580.5,826.8L580.0,826.3L579.9,826.0L579.9,825.7L579.8,825.5L579.8,825.1L580.0,824.5L580.0,824.6L580.2,824.2L580.5,824.1L580.6,823.9L581.3,823.6L581.4,823.5L581.8,823.5L582.4,823.3L582.8,823.6L583.8,823.7L584.2,823.4L585.0,823.7L585.8,823.9L586.8,823.9L587.5,824.0L588.6,824.2L589.4,824.3L590.6,824.7L591.6,824.8L592.7,825.2L594.0,825.8L595.3,825.9L597.4,826.8L598.7,827.1L600.0,827.6L601.2,827.9L602.1,828.4L603.3,828.8L604.1,829.2L605.0,829.5L605.7,829.7L606.3,830.4L607.4,830.7L608.0,831.0L608.6,831.2L609.2,831.6L609.5,831.9L609.9,832.3L610.2,832.5L610.6,833.1L610.8,833.2L611.0,833.6L611.2,833.8L611.2,834.1Z" fill="none" stroke="#333" stroke-width="0.55"/>
<path d="M609.7,834.3L609.8,834.4L609.6,834.8L609.4,834.6L609.2,835.1L608.9,835.1L608.5,835.1L608.0,835.2L607.4,835.1L606.9,835.2L606.4,835.3L605.7,835.3L605.2,835.0L604.2,835.0L603.4,835.0L602.6,834.7L601.8,834.6L600.8,834.3L599.9,834.1L599.1,833.8L597.8,833.4L596.7,833.1L595.5,832.8L593.5,832.1L592.5,831.8L591.3,831.2L590.1,830.9L589.2,830.5L588.3,830.3L587.3,829.8L586.4,829.5L585.7,829.2L585.1,828.8L584.5,828.6L583.7,828.2L583.2,828.0L582.8,827.7L582.2,827.2L581.9,826.8L581.6,826.9L581.4,826.3L581.2,826.2L580.9,825.8L580.7,825.8L580.8,825.4L580.9,825.0L581.1,824.8L581.3,824.7L581.4,824.5L581.7,824.4L581.9,824.1L582.3,824.1L582.7,824.1L583.3,824.1L583.9,823.9L584.4,824.3L585.3,823.9L585.6,824.1L586.6,824.1L587.1,824.3L588.1,824.6L588.9,824.7L589.9,825.1L590.7,825.1L591.8,825.4L593.1,825.8L594.3,826.0L595.3,826.5L597.2,827.1L598.5,827.6L599.7,828.0L600.7,828.2L601.6,828.6L602.7,828.9L603.3,829.3L604.3,829.6L605.2,830.0L605.7,830.4L606.5,830.7L607.1,831.0L607.7,831.3L608.0,831.7L608.5,831.8L608.8,832.2L609.2,832.4L609.6,832.9L609.8,833.0L609.7,833.5L610.0,833.7L609.9,833.9Z" fill="none" stroke="#333" stroke-width="0.55"/>
<path d="M608.7,833.9L608.9,834.0L608.7,834.5L608.5,834.7L608.4,834.5L608.0,834.8L607.7,834.8L607.3,834.8L606.6,834.8L606.3,834.7L605.9,834.8L605.1,834.5L604.5,834.4L603.8,834.4L603.1,834.4L602.4,834.2L601.4,834.1L600.7,833.9L600.0,833.6L598.8,833.3L597.8,833.1L596.8,832.6L595.4,832.3L593.7,831.7L592.5,831.3L591.5,831.1L590.5,830.9L589.6,830.5L588.7,830.0L587.9,829.9L587.0,829.4L586.4,829.1L585.8,828.8L585.0,828.3L584.6,828.1L584.0,827.9L583.2,827.5L583.1,827.3L582.7,827.1L582.3,827.0L581.9,826.4L582.1,826.3L581.8,826.1L581.8,825.7L581.8,825.7L581.9,825.2L581.9,825.2L582.0,824.8L582.2,824.7L582.4,824.7L582.8,824.5L583.2,824.5L583.4,824.4L583.8,824.6L584.5,824.5L585.1,824.4L585.7,824.7L586.3,824.5L587.0,824.8L587.8,824.9L588.6,824.9L589.3,825.2L590.3,825.2L591.2,825.6L592.1,825.7L592.8,826.0L594.0,826.5L595.6,827.0L597.1,827.4L598.2,827.7L599.4,828.1L600.3,828.4L601.3,828.9L602.2,829.2L602.9,829.4L603.8,829.7L604.5,830.1L605.0,830.3L605.7,830.6L606.3,831.0L606.9,831.2L607.3,831.5L607.7,831.9L608.1,832.2L608.3,832.4L608.6,832.6L608.8,833.0L609.0,833.1L609.1,833.4L609.0,833.5Z" fill="none" stroke="#333" stroke-width="0.55"/>
<path d="M608.0,833.5L607.9,833.8L607.7,833.9L607.7,834.2L607.5,834.2L607.1,834.3L606.9,834.3L606.4,834.5L606.2,834.4L605.6,834.4L605.1,834.2L604.6,834.3L604.0,834.2L603.3,834.0L602.6,833.8L602.0,833.8L601.2,833.8L600.5,833.6L599.4,833.2L598.8,833.1L597.8,832.5L596.6,832.5L595.5,832.3L594.0,831.5L592.8,831.0L591.8,830.9L590.8,830.3L589.8,830.2L589.2,830.1L588.4,829.7L587.6,829.4L587.0,829.2L586.2,828.8L585.7,828.6L585.2,828.3L584.7,827.9L584.2,827.9L584.1,827.3L583.6,827.1L583.4,827.0L582.9,826.8L582.9,826.6L582.7,826.3L582.7,825.9L582.4,825.9L582.7,825.8L582.9,825.3L583.0,825.1L583.1,825.0L583.2,824.8L583.7,825.0L583.8,824.6L584.3,825.0L584.7,824.9L585.1,824.8L585.7,824.9L586.2,825.0L586.7,825.0L587.3,825.0L588.0,825.2L589.0,825.4L589.9,825.5L590.4,825.8L591.4,825.8L592.2,826.2L593.0,826.3L594.0,826.9L595.4,827.3L596.8,827.7L598.0,828.0L599.0,828.4L600.1,828.7L600.9,829.1L601.8,829.4L602.4,829.4L603.2,830.0L603.9,830.0L604.5,830.5L605.1,830.9L605.7,831.2L606.2,831.3L606.6,831.7L606.9,831.7L607.2,831.8L607.7,832.2L607.7,832.4L607.8,832.9L608.0,832.9L608.1,833.1L608.3,833.4Z" fill="none" stroke="#333" stroke-width="0.55"/>
<path d="M607.2,833.4L607.1,833.5L607.1,833.7L606.7,833.7L606.7,833.8L606.4,833.9L606.1,833.9L605.9,834.0L605.4,834.0L604.9,833.8L604.4,833.8L603.9,833.9L603.5,833.7L602.7,833.7L602.1,833.6L601.6,833.6L601.0,833.3L600.2,833.2L599.2,832.9L598.6,832.4L597.5,832.4L596.6,832.0L595.4,831.8L594.0,831.3L593.1,831.2L592.1,830.7L591.1,830.5L590.4,830.1L589.5,829.9L589.1,829.5L588.1,829.3L587.6,828.8L587.2,828.9L586.4,828.5L585.9,828.1L585.3,827.9L585.1,827.7L584.9,827.5L584.4,827.3L584.0,827.1L583.9,826.6L583.6,826.8L583.7,826.5L583.6,826.2L583.5,826.1L583.4,825.9L583.7,825.5L583.9,825.7L583.9,825.3L584.3,825.2L584.3,825.4L584.7,825.2L585.0,825.3L585.3,825.3L585.8,825.2L586.3,825.2L586.9,825.2L587.5,825.2L588.0,825.6L588.7,825.7L589.5,825.8L590.1,826.0L590.9,826.1L591.6,826.3L592.3,826.6L593.4,826.9L594.2,827.3L595.4,827.4L596.7,827.8L597.9,828.3L598.7,828.6L599.5,828.9L600.5,829.2L601.2,829.3L602.0,829.7L602.5,829.9L603.1,830.2L603.7,830.4L604.4,830.7L604.9,830.8L605.2,831.1L605.8,831.4L606.0,831.6L606.7,831.8L606.7,832.0L606.8,832.3L607.1,832.4L607.0,832.7L607.5,833.0L607.3,833.1Z" fill="none" stroke="#333" stroke-width="0.55"/>
<path d="M606.3,833.0L606.3,833.2L606.3,833.2L606.1,833.2L605.4,833.3L605.5,833.3L605.1,833.3L604.8,833.5L604.4,833.3L603.9,833.5L603.5,833.7L602.9,833.1L602.5,833.2L601.8,833.1L601.2,832.9L600.4,832.7L599.8,832.6L599.0,832.5L598.4,832.1L597.6,832.0L596.8,831.9L595.9,831.7L595.3,831.4L594.4,831.3L593.7,831.0L592.9,830.6L592.3,830.3L591.6,830.0L590.9,829.8L590.0,829.6L589.5,829.4L588.9,828.9L588.2,828.7L587.8,828.3L587.0,828.4L586.8,828.1L586.3,827.8L585.7,827.5L585.4,827.1L585.2,827.1L585.0,826.9L584.7,826.8L584.3,826.5L584.3,826.6L584.5,826.3L584.5,826.3L584.3,825.9L584.6,826.1L584.7,825.9L584.9,825.9L585.4,825.7L585.7,825.7L585.8,825.6L586.2,825.7L586.9,825.8L587.4,825.8L587.9,826.0L588.3,826.1L588.8,826.3L589.7,826.3L590.3,826.4L591.3,826.6L591.8,826.7L592.5,826.9L593.2,827.4L594.0,827.4L594.9,827.4L595.6,827.8L596.3,828.0L597.3,828.2L598.0,828.7L598.5,829.0L599.3,829.1L600.0,829.3L600.7,829.5L601.4,830.0L601.9,830.1L602.6,830.2L603.2,830.6L603.7,830.7L604.1,831.1L604.4,831.4L605.0,831.6L605.2,831.9L605.8,832.0L605.9,832.2L606.0,832.3L606.3,832.8L606.4,832.8L606.3,833.0Z" fill="none" stroke="#333" stroke-width="0.55"/>
<path d="M605.5,832.9L605.4,832.9L605.3,833.0L605.1,832.9L604.9,833.0L604.7,832.9L604.4,833.2L604.1,833.0L603.6,833.0L603.2,833.1L602.7,832.9L602.5,833.0L601.8,832.7L601.4,832.7L600.5,832.5L600.1,832.5L599.4,832.2L598.6,832.3L598.0,831.8L597.3,831.9L596.6,831.7L596.0,831.4L595.2,831.2L594.5,830.9L593.9,830.7L593.2,830.6L592.6,830.1L591.8,830.0L591.3,829.8L590.6,829.5L589.9,829.2L589.5,829.0L588.8,828.7L588.3,828.7L588.0,828.5L587.5,828.3L586.9,827.8L586.7,827.8L586.3,827.6L586.0,827.4L585.8,827.1L585.5,827.0L585.4,826.8L585.4,826.8L585.3,826.6L585.4,826.5L585.4,826.3L585.4,826.1L585.6,826.3L585.8,826.1L586.0,826.1L586.4,826.1L586.6,825.9L587.1,826.1L587.4,826.2L588.1,826.4L588.5,826.4L588.9,826.4L589.3,826.2L590.1,826.8L590.8,826.6L591.3,826.9L592.1,827.1L592.8,827.0L593.3,827.4L594.2,827.6L594.9,827.8L595.6,828.2L596.3,828.1L596.8,828.5L597.7,828.7L598.3,829.0L599.0,829.2L599.6,829.4L600.2,829.6L600.9,829.9L601.6,830.2L601.9,830.4L602.6,830.5L602.8,830.8L603.6,831.2L603.8,831.3L604.3,831.2L604.7,831.6L604.8,831.7L605.2,832.1L605.3,832.3L605.5,832.4L605.6,832.3L605.5,832.5Z" fill="none" stroke="#333" stroke-width="0.55"/>
<path d="M604.8,832.6L604.6,832.5L604.7,832.7L604.6,832.9L604.3,832.9L604.1,832.8L603.8,832.9L603.6,832.8L603.2,832.8L602.6,832.7L602.4,832.7L601.9,832.7L601.2,832.5L601.2,832.5L600.2,832.5L599.7,832.3L599.1,832.0L598.4,831.9L597.9,831.7L597.1,831.5L596.8,831.4L596.0,831.0L595.5,831.0L594.7,830.9L594.0,830.5L593.2,830.3L592.6,830.3L592.0,829.8L591.6,829.8L590.9,829.4L590.4,829.2L589.8,828.9L589.3,828.8L588.7,828.5L588.3,828.3L587.7,828.3L587.6,828.1L587.1,827.5L586.9,827.5L586.7,827.6L586.5,827.2L586.2,827.1L586.1,826.9L585.8,826.8L585.9,826.7L585.9,826.5L585.9,826.5L586.1,826.6L586.2,826.6L586.6,826.3L586.7,826.6L586.9,826.4L587.5,826.4L587.7,826.5L588.3,826.4L588.5,826.4L589.0,826.5L589.4,826.7L589.8,826.8L590.6,826.8L591.0,827.0L591.5,827.2L592.1,827.4L592.9,827.5L593.5,827.6L593.9,828.1L594.9,828.0L595.4,828.2L596.3,828.5L596.8,828.6L597.4,828.8L598.2,829.0L598.9,829.2L599.5,829.4L599.8,829.7L600.3,830.0L600.8,829.9L601.4,830.4L601.8,830.7L602.5,830.7L602.8,831.0L603.4,831.1L603.7,831.5L603.7,831.5L604.2,831.7L604.5,831.8L604.6,832.3L604.8,832.3L604.6,832.4L604.7,832.5Z" fill="none" stroke="#333" stroke-width="0.55"/>
<path d="M604.2,832.3L604.2,832.2L604.0,832.5L603.8,832.4L603.6,832.6L603.5,832.4L603.3,832.6L603.1,832.6L602.6,832.5L602.3,832.4L601.8,832.4L601.4,832.5L601.0,832.5L600.6,832.2L600.0,832.1L599.6,832.0L598.9,832.0L598.4,831.7L597.7,831.6L597.2,831.3L596.6,831.1L595.9,831.0L595.4,830.9L594.6,830.7L594.1,830.6L593.7,830.2L593.1,830.2L592.4,829.9L591.7,829.6L591.2,829.2L590.7,829.3L590.2,829.1L589.7,828.9L589.4,828.5L588.7,828.3L588.7,828.1L588.0,828.1L587.6,827.9L587.5,827.8L587.1,827.5L587.1,827.6L586.9,827.3L586.8,827.3L586.4,827.1L586.6,827.0L586.6,826.8L586.7,826.8L586.7,826.8L586.9,826.5L587.1,826.8L587.1,826.6L587.5,826.9L587.8,826.5L588.1,826.7L588.3,826.7L588.8,826.8L589.3,827.0L589.8,826.8L590.3,827.0L590.9,826.9L591.5,827.2L591.8,827.3L592.5,827.4L592.9,827.7L593.7,827.8L594.3,828.0L594.8,828.1L595.4,828.4L596.2,828.5L596.6,828.8L597.2,829.0L597.8,829.2L598.5,829.4L599.1,829.5L599.6,829.8L600.2,830.0L600.7,830.1L601.0,830.5L601.7,830.6L601.8,830.8L602.4,830.8L602.6,831.1L603.0,831.4L603.4,831.5L603.6,831.7L603.8,831.8L603.7,832.1L603.9,831.9L604.3,832.1L604.2,832.3Z" fill="none" stroke="#333" stroke-width="0.55"/>
<path d="M603.6,832.1L603.6,832.1L603.4,832.3L603.2,832.3L603.3,832.5L602.9,832.4L602.6,832.5L602.5,832.1L601.9,832.3L601.7,832.2L601.4,832.2L601.1,832.4L600.5,832.1L600.1,831.9L599.7,831.7L599.3,831.7L598.7,831.5L598.0,831.6L597.6,831.4L597.2,831.2L596.5,831.0L595.8,830.9L595.5,830.6L594.7,830.5L594.2,830.1L593.7,830.2L593.1,829.8L592.6,829.8L591.9,829.3L591.6,829.4L591.1,829.2L590.6,829.0L590.4,828.8L589.8,828.6L589.3,828.3L589.1,828.3L588.5,828.1L588.4,827.9L588.3,827.9L587.9,827.5L587.7,827.6L587.4,827.3L587.4,827.5L587.4,827.1L587.2,827.2L587.2,827.1L587.4,826.9L587.2,827.0L587.4,826.9L587.8,826.9L587.7,827.0L588.0,826.9L588.4,826.9L588.5,826.9L589.0,826.9L589.6,827.0L589.7,827.0L590.1,827.1L590.6,827.1L591.0,827.4L591.7,827.6L592.2,827.6L592.6,827.7L593.0,827.8L593.6,828.1L594.4,828.1L594.9,828.4L595.6,828.4L595.9,828.6L596.6,829.0L597.0,829.0L597.7,829.3L598.2,829.5L598.7,829.6L599.4,829.8L599.8,830.0L600.1,830.2L600.7,830.4L601.0,830.7L601.5,830.9L601.8,830.7L602.1,831.2L602.5,831.4L602.8,831.3L603.0,831.5L603.2,831.8L603.4,831.8L603.3,831.9L603.4,831.8L603.6,832.0Z" fill="none" stroke="#333" stroke-width="0.55"/>
<path d="M603.1,831.7L602.9,832.0L602.7,832.1L602.6,832.1L602.5,832.1L602.4,832.2L602.3,832.0L601.9,832.1L601.6,832.1L601.2,832.0L600.9,832.0L600.6,831.8L600.3,831.8L599.7,831.6L599.3,831.7L598.8,831.4L598.4,831.4L598.0,831.3L597.4,831.2L596.7,831.0L596.4,830.7L595.7,830.7L595.3,830.6L594.9,830.4L594.4,830.1L593.8,830.3L593.3,829.9L592.8,829.7L592.4,829.5L592.0,829.3L591.2,829.3L591.0,829.1L590.5,828.7L590.0,828.8L590.0,828.5L589.7,828.3L589.2,828.1L589.1,828.1L588.6,828.0L588.3,827.9L588.2,827.7L588.2,827.4L588.0,827.5L587.7,827.3L588.0,827.5L588.0,827.3L588.2,827.3L588.0,827.1L588.1,827.2L588.4,827.2L588.5,827.0L588.7,827.2L588.9,827.1L589.2,827.0L589.5,827.4L589.8,827.2L590.2,827.4L590.7,827.5L591.0,827.6L591.4,827.7L592.0,827.7L592.4,827.9L592.9,828.0L593.4,828.0L593.9,828.1L594.4,828.3L595.0,828.6L595.5,828.7L596.0,829.0L596.4,829.0L596.9,829.2L597.5,829.6L598.0,829.4L598.6,829.7L598.8,829.8L599.4,830.0L599.6,830.2L600.2,830.3L600.7,830.6L601.0,830.9L601.3,830.9L601.6,831.0L602.0,831.1L602.0,831.3L602.2,831.4L602.5,831.4L602.5,831.6L602.6,831.6L602.8,831.8L602.9,831.9Z" fill="none" stroke="#333" stroke-width="0.55"/>
<path d="M602.3,831.7L602.1,831.9L602.2,831.7L602.0,831.8L601.9,831.8L601.7,831.9L601.6,831.7L601.3,832.0L601.1,831.7L600.9,831.6L600.4,831.8L600.4,831.8L600.0,831.5L599.3,831.6L598.9,831.3L598.6,831.3L598.3,831.0L597.7,831.2L597.2,831.0L596.7,830.9L596.4,830.8L595.9,830.6L595.3,830.4L595.1,830.4L594.6,830.3L594.0,829.9L593.4,829.7L593.2,829.5L592.7,829.3L592.3,829.2L591.7,829.2L591.5,829.0L591.1,828.8L590.8,828.8L590.2,828.7L590.1,828.5L589.8,828.3L589.4,828.2L589.2,828.0L589.1,827.9L589.0,827.8L588.9,827.8L588.7,827.6L588.8,827.4L588.5,827.7L588.6,827.3L588.5,827.6L588.8,827.3L588.8,827.4L588.9,827.4L589.1,827.3L589.2,827.3L589.5,827.2L589.8,827.5L590.1,827.4L590.2,827.6L590.5,827.6L591.1,827.6L591.2,827.7L591.9,827.9L592.0,827.9L592.6,828.0L593.1,828.1L593.4,828.4L594.0,828.4L594.3,828.4L594.9,828.5L595.5,828.9L595.9,829.0L596.4,829.2L596.7,829.3L597.4,829.2L597.9,829.6L598.1,829.7L598.5,829.8L599.0,830.2L599.3,830.1L599.9,830.5L600.1,830.4L600.6,830.6L600.8,830.8L600.9,830.9L601.0,830.9L601.7,831.1L601.6,831.3L602.0,831.5L602.0,831.6L602.3,831.5L602.2,831.6L602.3,831.6Z" fill="none" stroke="#333" stroke-width="0.55"/>
<path d="M601.5,831.3L601.6,831.6L601.6,831.8L601.4,831.4L601.4,831.8L601.1,831.8L600.7,831.7L600.8,831.5L600.7,831.5L600.2,831.5L600.0,831.5L599.8,831.4L599.3,831.3L599.0,831.4L598.7,831.1L598.4,831.3L597.9,831.1L597.5,830.9L597.1,830.8L596.6,830.5L596.2,830.5L595.9,830.5L595.3,830.1L595.0,830.1L594.6,830.1L594.1,829.9L593.8,829.8L593.3,829.4L592.9,829.4L592.6,829.3L592.2,829.0L591.7,828.9L591.4,828.8L590.9,828.7L590.9,828.5L590.6,828.2L590.3,828.5L590.0,828.3L590.1,828.1L589.6,828.1L589.4,828.0L589.4,828.0L589.4,827.8L589.3,827.8L589.0,827.7L589.3,827.8L589.2,827.8L589.5,827.6L589.3,827.6L589.6,827.4L589.7,827.6L589.8,827.8L590.0,827.6L590.4,827.5L590.7,827.7L590.8,827.5L591.1,827.7L591.4,828.0L591.6,828.0L592.1,827.9L592.5,828.1L593.1,828.1L593.3,828.3L593.7,828.5L594.1,828.5L594.4,828.7L594.6,828.8L595.5,828.8L595.9,829.2L596.2,829.1L596.8,829.4L597.0,829.5L597.4,829.7L597.8,829.8L598.1,829.8L598.7,830.0L599.2,830.2L599.4,830.3L599.6,830.4L599.9,830.5L600.2,830.5L600.4,830.9L600.8,830.9L600.9,831.0L601.1,831.2L601.2,831.4L601.2,831.4L601.4,831.4L601.5,831.5L601.5,831.5Z" fill="none" stroke="#333" stroke-width="0.55"/>
<path d="M600.9,831.3L600.8,831.3L600.7,831.2L600.9,831.4L600.7,831.4L600.6,831.4L600.4,831.3L600.0,831.4L599.9,831.4L599.7,831.3L599.5,831.2L599.4,831.1L599.0,831.2L598.6,831.0L598.4,831.0L598.1,830.9L597.7,830.8L597.3,830.7L597.0,830.6L596.7,830.6L596.2,830.3L595.9,830.2L595.3,830.1L595.1,830.1L594.5,830.0L594.2,829.7L594.0,829.6L593.6,829.5L593.2,829.3L592.7,829.1L592.7,829.2L592.2,828.9L592.0,828.8L591.6,828.8L591.3,828.5L591.1,828.6L590.8,828.5L590.8,828.4L590.4,828.3L590.4,828.1L590.2,828.0L590.1,828.1L589.9,828.0L590.0,827.8L590.0,828.1L589.7,828.0L589.9,827.7L589.9,827.8L590.0,828.0L590.3,828.0L590.3,827.8L590.4,827.8L590.6,827.9L591.0,827.9L591.2,827.9L591.2,827.9L591.5,828.0L591.9,828.0L592.2,828.2L592.5,828.3L592.7,828.3L593.2,828.5L593.5,828.7L593.9,828.6L594.2,828.6L594.6,829.1L595.1,829.0L595.4,829.1L595.9,829.2L596.1,829.4L596.5,829.6L596.8,829.6L597.2,829.7L597.6,829.8L598.1,829.8L598.2,829.7L598.3,830.2L598.9,830.3L599.2,830.3L599.4,830.6L599.7,830.5L599.9,830.6L600.1,830.7L600.3,830.8L600.4,831.1L600.6,831.2L600.7,830.9L600.8,831.2L600.8,831.1L601.0,831.3Z" fill="none" stroke="#333" stroke-width="0.55"/>
<path d="M600.2,831.2L600.3,831.2L600.2,831.2L600.0,831.1L600.0,831.1L599.8,831.2L599.7,831.1L599.6,831.0L599.4,831.1L599.1,831.1L599.0,831.1L598.8,831.0L598.6,830.8L598.2,830.8L598.0,830.9L597.6,830.8L597.5,830.5L597.1,830.6L596.8,830.4L596.4,830.4L595.9,830.2L595.8,830.1L595.4,830.1L595.1,830.1L594.8,829.7L594.4,829.7L594.0,829.8L593.6,829.4L593.4,829.5L593.0,829.4L592.7,829.1L592.6,829.1L592.4,829.0L592.2,828.9L591.8,828.7L591.7,828.6L591.5,828.6L591.3,828.6L591.0,828.7L591.1,828.3L590.7,828.2L590.6,828.4L590.5,828.2L590.6,828.1L590.6,828.3L590.7,828.1L590.6,828.2L590.6,827.9L590.8,828.0L590.7,828.2L591.0,828.2L591.0,828.1L591.2,827.9L591.4,828.2L591.5,828.1L591.9,828.3L591.9,828.2L592.3,828.3L592.6,828.4L592.8,828.5L593.0,828.6L593.3,828.5L593.7,828.8L593.8,828.9L594.4,828.8L594.6,828.9L595.2,829.1L595.5,829.2L595.6,829.3L596.1,829.4L596.3,829.3L596.7,829.7L597.1,829.9L597.4,829.8L597.6,829.9L597.6,830.0L598.2,830.1L598.5,830.3L598.7,830.2L599.0,830.4L599.1,830.5L599.5,830.6L599.5,830.7L599.6,830.7L599.8,830.9L600.0,831.1L600.2,830.8L600.1,830.9L600.4,831.1L600.5,831.0Z" fill="none" stroke="#333" stroke-width="0.55"/>
<path d="M599.5,831.0L599.7,830.9L599.4,830.9L599.3,831.0L599.2,831.0L599.4,830.9L599.3,831.1L599.1,830.8L598.7,830.7L598.7,830.8L598.5,830.9L598.3,830.8L598.1,830.7L598.0,830.7L597.6,830.5L597.3,830.4L597.0,830.3L596.8,830.3L596.4,830.1L596.4,830.2L596.1,830.1L595.8,830.0L595.6,830.0L595.1,829.8L594.8,829.8L594.6,829.7L594.3,829.6L594.0,829.5L593.8,829.6L593.6,829.3L593.2,829.2L592.9,829.3L592.7,829.2L592.6,829.0L592.3,828.9L592.1,828.9L591.8,828.7L591.9,828.7L591.8,828.6L591.5,828.6L591.5,828.6L591.5,828.4L591.2,828.4L591.4,828.5L591.3,828.3L591.1,828.4L591.3,828.3L591.3,828.2L591.4,828.4L591.5,828.2L591.5,828.3L591.5,828.2L591.8,828.3L591.9,828.4L592.3,828.4L592.4,828.4L592.4,828.3L592.7,828.6L592.7,828.5L593.1,828.5L593.3,828.8L593.8,828.8L593.9,828.9L594.4,828.7L594.5,829.0L594.8,829.1L595.0,829.3L595.5,829.2L595.5,829.5L596.0,829.4L596.3,829.4L596.3,829.8L596.9,829.9L596.9,829.9L597.3,829.9L597.6,830.0L597.8,830.3L598.1,830.3L598.0,830.2L598.5,830.2L598.7,830.3L598.9,830.4L599.1,830.4L599.2,830.6L599.2,830.6L599.3,830.7L599.5,830.7L599.5,830.8L599.5,830.8L599.5,831.1Z" fill="none" stroke="#333" stroke-width="0.55"/>
<line x1="571.41" y1="805.76" x2="578.07" y2="809.84" stroke="#fff" stroke-width="0.8" stroke-opacity="0.75" stroke-linecap="round"/>
<line x1="590.57" y1="828.09" x2="599.79" y2="830.98" stroke="#fff" stroke-width="0.8" stroke-opacity="0.75" stroke-linecap="round"/>
<path d="M590.8,817.6L590.2,818.4L589.7,819.0L589.2,819.5L588.6,819.9L588.0,820.3L587.3,820.5L586.6,820.8L585.8,820.9L585.0,821.0L584.1,821.1L583.2,821.0L582.3,820.9L581.3,820.8L580.3,820.6L579.2,820.3L578.2,819.9L577.1,819.5L575.9,819.1L574.7,818.5L573.5,817.9L572.2,817.2L570.8,816.4L569.1,815.4L567.8,814.5L566.6,813.7L565.5,812.9L564.5,812.1L563.5,811.3L562.7,810.5L561.9,809.7L561.2,808.8L560.5,808.0L559.9,807.2L559.4,806.4L559.0,805.6L558.6,804.9L558.3,804.1L558.1,803.3L558.0,802.6L557.9,801.8L558.0,801.1L558.1,800.4L558.3,799.7L558.6,799.0L559.0,798.2L559.6,797.4L560.1,796.8L560.6,796.3L561.2,795.9L561.8,795.5L562.5,795.3L563.2,795.0L564.0,794.9L564.8,794.8L565.7,794.7L566.6,794.8L567.5,794.9L568.5,795.0L569.5,795.2L570.6,795.5L571.6,795.9L572.7,796.3L573.9,796.7L575.1,797.3L576.3,797.9L577.6,798.6L579.0,799.4L580.7,800.4L582.0,801.3L583.2,802.1L584.3,802.9L585.3,803.7L586.3,804.5L587.1,805.3L587.9,806.1L588.6,807.0L589.3,807.8L589.9,808.6L590.4,809.4L590.8,810.2L591.2,810.9L591.5,811.7L591.7,812.5L591.8,813.2L591.9,814.0L591.8,814.7L591.7,815.4L591.5,816.1L591.2,816.8Z" fill="none" stroke="#000" stroke-width="1.5"/>
<path d="M617.3,836.5L617.1,837.0L616.8,837.5L616.5,837.9L616.0,838.2L615.5,838.4L614.8,838.7L614.1,838.8L613.3,839.0L612.5,839.0L611.5,839.1L610.5,839.1L609.4,839.0L608.3,838.9L607.1,838.8L605.8,838.6L604.4,838.3L603.0,838.1L601.5,837.7L600.0,837.4L598.4,836.9L596.6,836.5L594.7,835.9L592.4,835.1L590.5,834.5L588.8,833.9L587.2,833.4L585.7,832.8L584.3,832.2L583.0,831.6L581.8,831.1L580.6,830.5L579.5,829.9L578.5,829.3L577.6,828.7L576.7,828.2L576.0,827.6L575.3,827.0L574.7,826.5L574.3,825.9L573.9,825.4L573.6,824.9L573.4,824.4L573.3,823.8L573.3,823.3L573.5,822.7L573.7,822.2L574.0,821.7L574.3,821.3L574.8,821.0L575.3,820.8L576.0,820.5L576.7,820.4L577.5,820.2L578.3,820.2L579.3,820.1L580.3,820.1L581.4,820.2L582.5,820.3L583.7,820.4L585.0,820.6L586.4,820.9L587.8,821.1L589.3,821.5L590.8,821.8L592.4,822.3L594.2,822.7L596.1,823.3L598.4,824.1L600.3,824.7L602.0,825.3L603.6,825.8L605.1,826.4L606.5,827.0L607.8,827.6L609.0,828.1L610.2,828.7L611.3,829.3L612.3,829.9L613.2,830.5L614.1,831.0L614.8,831.6L615.5,832.2L616.1,832.7L616.5,833.3L616.9,833.8L617.2,834.3L617.4,834.8L617.5,835.4L617.5,835.9Z" fill="none" stroke="#000" stroke-width="1.5"/>
<text x="564.6" y="773.1" font-family="Liberation Sans, sans-serif" font-size="10.4" text-anchor="start" font-weight="normal" fill="#000">mature</text>
<text x="570.5" y="786.8" font-family="Liberation Sans, sans-serif" font-size="10.4" text-anchor="start" font-weight="normal" fill="#000">44,1%</text>
<text x="625.2" y="855.4" font-family="Liberation Sans, sans-serif" font-size="10.4" text-anchor="start" font-weight="normal" fill="#000">immature</text>
<text x="635.8" y="869.4" font-family="Liberation Sans, sans-serif" font-size="10.4" text-anchor="start" font-weight="normal" fill="#000">45,5%</text>
<line x1="528.6" y1="731.9" x2="676.6" y2="731.9" stroke="#999999" stroke-width="1"/>
<line x1="676.6" y1="731.9" x2="676.6" y2="878.7" stroke="#a4a4a4" stroke-width="1"/>
<line x1="528.6" y1="878.7" x2="676.6" y2="878.7" stroke="#cccccc" stroke-width="1"/>
<line x1="528.6" y1="731.9" x2="528.6" y2="878.7" stroke="#a8a8a8" stroke-width="1"/>
<line x1="522" y1="732" x2="528.6" y2="732" stroke="#000" stroke-width="1.8"/>
<line x1="522" y1="780.87" x2="528.6" y2="780.87" stroke="#000" stroke-width="1.8"/>
<line x1="522" y1="829.74" x2="528.6" y2="829.74" stroke="#000" stroke-width="1.8"/>
<line x1="522" y1="878.61" x2="528.6" y2="878.61" stroke="#000" stroke-width="1.8"/>
<line x1="525.4" y1="744.22" x2="528.6" y2="744.22" stroke="#222" stroke-width="1.1"/>
<line x1="525.4" y1="756.43" x2="528.6" y2="756.43" stroke="#222" stroke-width="1.1"/>
<line x1="525.4" y1="768.65" x2="528.6" y2="768.65" stroke="#222" stroke-width="1.1"/>
<line x1="525.4" y1="793.09" x2="528.6" y2="793.09" stroke="#222" stroke-width="1.1"/>
<line x1="525.4" y1="805.3" x2="528.6" y2="805.3" stroke="#222" stroke-width="1.1"/>
<line x1="525.4" y1="817.52" x2="528.6" y2="817.52" stroke="#222" stroke-width="1.1"/>
<line x1="525.4" y1="841.96" x2="528.6" y2="841.96" stroke="#222" stroke-width="1.1"/>
<line x1="525.4" y1="854.17" x2="528.6" y2="854.17" stroke="#222" stroke-width="1.1"/>
<line x1="525.4" y1="866.39" x2="528.6" y2="866.39" stroke="#222" stroke-width="1.1"/>
<line x1="568.8" y1="879.5" x2="568.8" y2="886.5" stroke="#000" stroke-width="1.9"/>
<line x1="611.9" y1="879.5" x2="611.9" y2="886.5" stroke="#000" stroke-width="1.9"/>
<line x1="655" y1="879.5" x2="655" y2="886.5" stroke="#000" stroke-width="1.9"/>
<line x1="558.03" y1="879.5" x2="558.03" y2="883.1" stroke="#222" stroke-width="1.15"/>
<line x1="547.25" y1="879.5" x2="547.25" y2="883.1" stroke="#222" stroke-width="1.15"/>
<line x1="536.48" y1="879.5" x2="536.48" y2="883.1" stroke="#222" stroke-width="1.15"/>
<line x1="579.58" y1="879.5" x2="579.58" y2="883.1" stroke="#222" stroke-width="1.15"/>
<line x1="590.35" y1="879.5" x2="590.35" y2="883.1" stroke="#222" stroke-width="1.15"/>
<line x1="601.12" y1="879.5" x2="601.12" y2="883.1" stroke="#222" stroke-width="1.15"/>
<line x1="622.67" y1="879.5" x2="622.67" y2="883.1" stroke="#222" stroke-width="1.15"/>
<line x1="633.45" y1="879.5" x2="633.45" y2="883.1" stroke="#222" stroke-width="1.15"/>
<line x1="644.22" y1="879.5" x2="644.22" y2="883.1" stroke="#222" stroke-width="1.15"/>
<line x1="665.77" y1="879.5" x2="665.77" y2="883.1" stroke="#222" stroke-width="1.15"/>
<line x1="676.55" y1="879.5" x2="676.55" y2="883.1" stroke="#222" stroke-width="1.15"/>
<text x="519" y="737.8" font-family="Liberation Sans, sans-serif" font-size="12" text-anchor="end" font-weight="normal" fill="#000">0.8</text>
<text x="519" y="786.67" font-family="Liberation Sans, sans-serif" font-size="12" text-anchor="end" font-weight="normal" fill="#000">0.6</text>
<text x="519" y="835.54" font-family="Liberation Sans, sans-serif" font-size="12" text-anchor="end" font-weight="normal" fill="#000">0.4</text>
<text x="519" y="882.31" font-family="Liberation Sans, sans-serif" font-size="12" text-anchor="end" font-weight="normal" fill="#000">0.2</text>
<text x="567.8" y="899.9" font-family="Liberation Sans, sans-serif" font-size="12" text-anchor="middle" font-weight="normal" fill="#000">80</text>
<text x="612.2" y="899.9" font-family="Liberation Sans, sans-serif" font-size="12" text-anchor="middle" font-weight="normal" fill="#000">100</text>
<text x="654.9" y="899.9" font-family="Liberation Sans, sans-serif" font-size="12" text-anchor="middle" font-weight="normal" fill="#000">120</text>
<text x="602.1" y="915.6" font-family="Liberation Sans, sans-serif" font-size="11.5" text-anchor="middle" font-weight="normal" fill="#000">Cell time (us)</text>
<text x="496.3" y="805.4" font-family="Liberation Sans, sans-serif" font-size="11.5" text-anchor="middle" font-weight="normal" fill="#000" transform="rotate(-90 496.3 805.4)">Time ratio</text>
<text x="603.2" y="719.6" font-family="Liberation Sans, sans-serif" font-size="13" text-anchor="middle" font-weight="bold" fill="#000">1:1 Mix</text>
<text x="535.5" y="745" font-family="Liberation Sans, sans-serif" font-size="11.5" text-anchor="start" font-weight="normal" fill="#000">Total cells 6 772</text>
</g></svg></body></html>
